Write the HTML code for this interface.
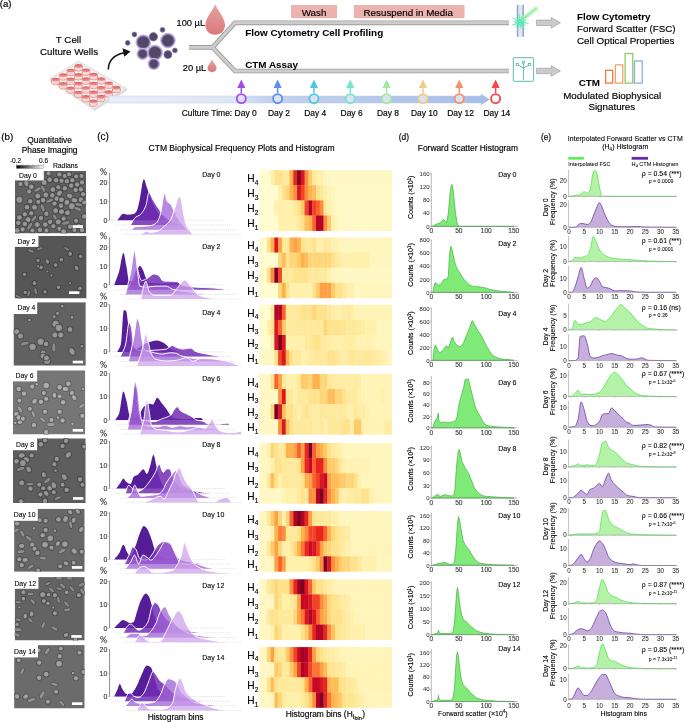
<!DOCTYPE html>
<html><head><meta charset="utf-8"><title>Figure</title>
<style>html,body{margin:0;padding:0;background:#fff;} svg{display:block;will-change:transform;} text{font-family:"Liberation Sans", sans-serif;stroke:#000;stroke-width:0.15px;paint-order:stroke;}</style>
</head><body>
<svg width="685" height="722" viewBox="0 0 685 722" font-family='"Liberation Sans", sans-serif'>
<rect width="685" height="722" fill="#fff"/>
<text x="-0.30" y="7.10" font-size="9.6" fill="#000" style="stroke-width:0.17px">(a)</text>
<text x="68.50" y="42.90" font-size="9.8" text-anchor="middle" fill="#000" style="stroke-width:0.17px">T Cell</text>
<text x="69.00" y="54.60" font-size="9.8" text-anchor="middle" fill="#000" style="stroke-width:0.17px">Culture Wells</text>
<polygon points="50.0,78.2 94.6,108.3 94.6,110.5 50.0,80.4" fill="#ececec" stroke="#cfcfcf" stroke-width="0.5"/>
<polygon points="94.6,108.3 126.3,88.5 126.3,90.7 94.6,110.5" fill="#e2e2e2" stroke="#cfcfcf" stroke-width="0.5"/>
<polygon points="50.0,78.2 78.5,61.0 126.3,88.5 94.6,108.3" fill="#f7f7f7" stroke="#cdcdcd" stroke-width="0.6"/>
<polygon points="51.68,78.61 78.90,62.61 124.55,88.19 94.27,106.60" fill="none" stroke="#d6d6d6" stroke-width="0.6"/>
<defs><linearGradient id="wellg" x1="0" y1="0" x2="0" y2="1"><stop offset="0" stop-color="#dd5a58"/><stop offset="1" stop-color="#f09a97"/></linearGradient></defs>
<ellipse cx="78.51" cy="69.31" rx="3.9" ry="1.9" fill="#f4d2d1" stroke="#e06a66" stroke-width="0.5"/>
<rect x="74.61" y="66.01" width="7.8" height="3.3" fill="#f6dcdb"/>
<path d="M74.61,66.01 v3.3 M82.41,66.01 v3.3" stroke="#d8504c" stroke-width="0.7" stroke-dasharray="0.9,0.5"/>
<ellipse cx="78.51" cy="66.01" rx="3.9" ry="1.9" fill="url(#wellg)"/>
<ellipse cx="86.09" cy="73.65" rx="3.9" ry="1.9" fill="#f4d2d1" stroke="#e06a66" stroke-width="0.5"/>
<rect x="82.19" y="70.35" width="7.8" height="3.3" fill="#f6dcdb"/>
<path d="M82.19,70.35 v3.3 M89.99,70.35 v3.3" stroke="#d8504c" stroke-width="0.7" stroke-dasharray="0.9,0.5"/>
<ellipse cx="86.09" cy="70.35" rx="3.9" ry="1.9" fill="url(#wellg)"/>
<ellipse cx="70.84" cy="73.84" rx="3.9" ry="1.9" fill="#f4d2d1" stroke="#e06a66" stroke-width="0.5"/>
<rect x="66.94" y="70.54" width="7.8" height="3.3" fill="#f6dcdb"/>
<path d="M66.94,70.54 v3.3 M74.74,70.54 v3.3" stroke="#d8504c" stroke-width="0.7" stroke-dasharray="0.9,0.5"/>
<ellipse cx="70.84" cy="70.54" rx="3.9" ry="1.9" fill="url(#wellg)"/>
<ellipse cx="93.67" cy="77.99" rx="3.9" ry="1.9" fill="#f4d2d1" stroke="#e06a66" stroke-width="0.5"/>
<rect x="89.77" y="74.69" width="7.8" height="3.3" fill="#f6dcdb"/>
<path d="M89.77,74.69 v3.3 M97.57,74.69 v3.3" stroke="#d8504c" stroke-width="0.7" stroke-dasharray="0.9,0.5"/>
<ellipse cx="93.67" cy="74.69" rx="3.9" ry="1.9" fill="url(#wellg)"/>
<ellipse cx="78.42" cy="78.18" rx="3.9" ry="1.9" fill="#f4d2d1" stroke="#e06a66" stroke-width="0.5"/>
<rect x="74.52" y="74.88" width="7.8" height="3.3" fill="#f6dcdb"/>
<path d="M74.52,74.88 v3.3 M82.32,74.88 v3.3" stroke="#d8504c" stroke-width="0.7" stroke-dasharray="0.9,0.5"/>
<ellipse cx="78.42" cy="74.88" rx="3.9" ry="1.9" fill="url(#wellg)"/>
<ellipse cx="63.17" cy="78.37" rx="3.9" ry="1.9" fill="#f4d2d1" stroke="#e06a66" stroke-width="0.5"/>
<rect x="59.27" y="75.07" width="7.8" height="3.3" fill="#f6dcdb"/>
<path d="M59.27,75.07 v3.3 M67.07,75.07 v3.3" stroke="#d8504c" stroke-width="0.7" stroke-dasharray="0.9,0.5"/>
<ellipse cx="63.17" cy="75.07" rx="3.9" ry="1.9" fill="url(#wellg)"/>
<ellipse cx="101.25" cy="82.33" rx="3.9" ry="1.9" fill="#f4d2d1" stroke="#e06a66" stroke-width="0.5"/>
<rect x="97.35" y="79.03" width="7.8" height="3.3" fill="#f6dcdb"/>
<path d="M97.35,79.03 v3.3 M105.15,79.03 v3.3" stroke="#d8504c" stroke-width="0.7" stroke-dasharray="0.9,0.5"/>
<ellipse cx="101.25" cy="79.03" rx="3.9" ry="1.9" fill="url(#wellg)"/>
<ellipse cx="86.00" cy="82.52" rx="3.9" ry="1.9" fill="#f4d2d1" stroke="#e06a66" stroke-width="0.5"/>
<rect x="82.10" y="79.22" width="7.8" height="3.3" fill="#f6dcdb"/>
<path d="M82.10,79.22 v3.3 M89.90,79.22 v3.3" stroke="#d8504c" stroke-width="0.7" stroke-dasharray="0.9,0.5"/>
<ellipse cx="86.00" cy="79.22" rx="3.9" ry="1.9" fill="url(#wellg)"/>
<ellipse cx="70.75" cy="82.71" rx="3.9" ry="1.9" fill="#f4d2d1" stroke="#e06a66" stroke-width="0.5"/>
<rect x="66.85" y="79.41" width="7.8" height="3.3" fill="#f6dcdb"/>
<path d="M66.85,79.41 v3.3 M74.65,79.41 v3.3" stroke="#d8504c" stroke-width="0.7" stroke-dasharray="0.9,0.5"/>
<ellipse cx="70.75" cy="79.41" rx="3.9" ry="1.9" fill="url(#wellg)"/>
<ellipse cx="55.50" cy="82.90" rx="3.9" ry="1.9" fill="#f4d2d1" stroke="#e06a66" stroke-width="0.5"/>
<rect x="51.60" y="79.60" width="7.8" height="3.3" fill="#f6dcdb"/>
<path d="M51.60,79.60 v3.3 M59.40,79.60 v3.3" stroke="#d8504c" stroke-width="0.7" stroke-dasharray="0.9,0.5"/>
<ellipse cx="55.50" cy="79.60" rx="3.9" ry="1.9" fill="url(#wellg)"/>
<ellipse cx="108.83" cy="86.67" rx="3.9" ry="1.9" fill="#f4d2d1" stroke="#e06a66" stroke-width="0.5"/>
<rect x="104.93" y="83.37" width="7.8" height="3.3" fill="#f6dcdb"/>
<path d="M104.93,83.37 v3.3 M112.73,83.37 v3.3" stroke="#d8504c" stroke-width="0.7" stroke-dasharray="0.9,0.5"/>
<ellipse cx="108.83" cy="83.37" rx="3.9" ry="1.9" fill="url(#wellg)"/>
<ellipse cx="93.58" cy="86.86" rx="3.9" ry="1.9" fill="#f4d2d1" stroke="#e06a66" stroke-width="0.5"/>
<rect x="89.68" y="83.56" width="7.8" height="3.3" fill="#f6dcdb"/>
<path d="M89.68,83.56 v3.3 M97.48,83.56 v3.3" stroke="#d8504c" stroke-width="0.7" stroke-dasharray="0.9,0.5"/>
<ellipse cx="93.58" cy="83.56" rx="3.9" ry="1.9" fill="url(#wellg)"/>
<ellipse cx="78.33" cy="87.05" rx="3.9" ry="1.9" fill="#f4d2d1" stroke="#e06a66" stroke-width="0.5"/>
<rect x="74.43" y="83.75" width="7.8" height="3.3" fill="#f6dcdb"/>
<path d="M74.43,83.75 v3.3 M82.23,83.75 v3.3" stroke="#d8504c" stroke-width="0.7" stroke-dasharray="0.9,0.5"/>
<ellipse cx="78.33" cy="83.75" rx="3.9" ry="1.9" fill="url(#wellg)"/>
<ellipse cx="63.08" cy="87.24" rx="3.9" ry="1.9" fill="#f4d2d1" stroke="#e06a66" stroke-width="0.5"/>
<rect x="59.18" y="83.94" width="7.8" height="3.3" fill="#f6dcdb"/>
<path d="M59.18,83.94 v3.3 M66.98,83.94 v3.3" stroke="#d8504c" stroke-width="0.7" stroke-dasharray="0.9,0.5"/>
<ellipse cx="63.08" cy="83.94" rx="3.9" ry="1.9" fill="url(#wellg)"/>
<ellipse cx="116.41" cy="91.01" rx="3.9" ry="1.9" fill="#f4d2d1" stroke="#e06a66" stroke-width="0.5"/>
<rect x="112.51" y="87.71" width="7.8" height="3.3" fill="#f6dcdb"/>
<path d="M112.51,87.71 v3.3 M120.31,87.71 v3.3" stroke="#d8504c" stroke-width="0.7" stroke-dasharray="0.9,0.5"/>
<ellipse cx="116.41" cy="87.71" rx="3.9" ry="1.9" fill="url(#wellg)"/>
<ellipse cx="101.16" cy="91.20" rx="3.9" ry="1.9" fill="#f4d2d1" stroke="#e06a66" stroke-width="0.5"/>
<rect x="97.26" y="87.90" width="7.8" height="3.3" fill="#f6dcdb"/>
<path d="M97.26,87.90 v3.3 M105.06,87.90 v3.3" stroke="#d8504c" stroke-width="0.7" stroke-dasharray="0.9,0.5"/>
<ellipse cx="101.16" cy="87.90" rx="3.9" ry="1.9" fill="url(#wellg)"/>
<ellipse cx="85.91" cy="91.39" rx="3.9" ry="1.9" fill="#f4d2d1" stroke="#e06a66" stroke-width="0.5"/>
<rect x="82.01" y="88.09" width="7.8" height="3.3" fill="#f6dcdb"/>
<path d="M82.01,88.09 v3.3 M89.81,88.09 v3.3" stroke="#d8504c" stroke-width="0.7" stroke-dasharray="0.9,0.5"/>
<ellipse cx="85.91" cy="88.09" rx="3.9" ry="1.9" fill="url(#wellg)"/>
<ellipse cx="70.66" cy="91.58" rx="3.9" ry="1.9" fill="#f4d2d1" stroke="#e06a66" stroke-width="0.5"/>
<rect x="66.76" y="88.28" width="7.8" height="3.3" fill="#f6dcdb"/>
<path d="M66.76,88.28 v3.3 M74.56,88.28 v3.3" stroke="#d8504c" stroke-width="0.7" stroke-dasharray="0.9,0.5"/>
<ellipse cx="70.66" cy="88.28" rx="3.9" ry="1.9" fill="url(#wellg)"/>
<ellipse cx="108.74" cy="95.54" rx="3.9" ry="1.9" fill="#f4d2d1" stroke="#e06a66" stroke-width="0.5"/>
<rect x="104.84" y="92.24" width="7.8" height="3.3" fill="#f6dcdb"/>
<path d="M104.84,92.24 v3.3 M112.64,92.24 v3.3" stroke="#d8504c" stroke-width="0.7" stroke-dasharray="0.9,0.5"/>
<ellipse cx="108.74" cy="92.24" rx="3.9" ry="1.9" fill="url(#wellg)"/>
<ellipse cx="93.49" cy="95.73" rx="3.9" ry="1.9" fill="#f4d2d1" stroke="#e06a66" stroke-width="0.5"/>
<rect x="89.59" y="92.43" width="7.8" height="3.3" fill="#f6dcdb"/>
<path d="M89.59,92.43 v3.3 M97.39,92.43 v3.3" stroke="#d8504c" stroke-width="0.7" stroke-dasharray="0.9,0.5"/>
<ellipse cx="93.49" cy="92.43" rx="3.9" ry="1.9" fill="url(#wellg)"/>
<ellipse cx="78.24" cy="95.92" rx="3.9" ry="1.9" fill="#f4d2d1" stroke="#e06a66" stroke-width="0.5"/>
<rect x="74.34" y="92.62" width="7.8" height="3.3" fill="#f6dcdb"/>
<path d="M74.34,92.62 v3.3 M82.14,92.62 v3.3" stroke="#d8504c" stroke-width="0.7" stroke-dasharray="0.9,0.5"/>
<ellipse cx="78.24" cy="92.62" rx="3.9" ry="1.9" fill="url(#wellg)"/>
<ellipse cx="101.07" cy="100.07" rx="3.9" ry="1.9" fill="#f4d2d1" stroke="#e06a66" stroke-width="0.5"/>
<rect x="97.17" y="96.77" width="7.8" height="3.3" fill="#f6dcdb"/>
<path d="M97.17,96.77 v3.3 M104.97,96.77 v3.3" stroke="#d8504c" stroke-width="0.7" stroke-dasharray="0.9,0.5"/>
<ellipse cx="101.07" cy="96.77" rx="3.9" ry="1.9" fill="url(#wellg)"/>
<ellipse cx="85.82" cy="100.26" rx="3.9" ry="1.9" fill="#f4d2d1" stroke="#e06a66" stroke-width="0.5"/>
<rect x="81.92" y="96.96" width="7.8" height="3.3" fill="#f6dcdb"/>
<path d="M81.92,96.96 v3.3 M89.72,96.96 v3.3" stroke="#d8504c" stroke-width="0.7" stroke-dasharray="0.9,0.5"/>
<ellipse cx="85.82" cy="96.96" rx="3.9" ry="1.9" fill="url(#wellg)"/>
<ellipse cx="93.40" cy="104.60" rx="3.9" ry="1.9" fill="#f4d2d1" stroke="#e06a66" stroke-width="0.5"/>
<rect x="89.50" y="101.30" width="7.8" height="3.3" fill="#f6dcdb"/>
<path d="M89.50,101.30 v3.3 M97.30,101.30 v3.3" stroke="#d8504c" stroke-width="0.7" stroke-dasharray="0.9,0.5"/>
<ellipse cx="93.40" cy="101.30" rx="3.9" ry="1.9" fill="url(#wellg)"/>
<path d="M108.3,69.5 C108.5,61 114,55 124,52.8" fill="none" stroke="#111" stroke-width="1.5"/>
<polygon points="130.5,51.6 122.5,48.2 124.2,56.8" fill="#111"/>
<circle cx="143.3" cy="42.2" r="7.80" fill="#c2b4df"/>
<circle cx="143.3" cy="42.2" r="6.2" fill="#524768" stroke="#8676a8" stroke-width="0.8"/>
<circle cx="153.4" cy="36.8" r="4.2" fill="#524768" stroke="#8676a8" stroke-width="0.8"/>
<circle cx="167.9" cy="40.6" r="7.80" fill="#c2b4df"/>
<circle cx="167.9" cy="40.6" r="6.2" fill="#524768" stroke="#8676a8" stroke-width="0.8"/>
<circle cx="155" cy="52.7" r="7.90" fill="#c2b4df"/>
<circle cx="155" cy="52.7" r="6.3" fill="#524768" stroke="#8676a8" stroke-width="0.8"/>
<circle cx="142.6" cy="53.9" r="6.10" fill="#c2b4df"/>
<circle cx="142.6" cy="53.9" r="4.5" fill="#524768" stroke="#8676a8" stroke-width="0.8"/>
<circle cx="167.9" cy="54.6" r="4.0" fill="#524768" stroke="#8676a8" stroke-width="0.8"/>
<circle cx="153.8" cy="63.9" r="6.20" fill="#c2b4df"/>
<circle cx="153.8" cy="63.9" r="4.6" fill="#524768" stroke="#8676a8" stroke-width="0.8"/>
<circle cx="134.4" cy="34.5" r="2.4" fill="#524768" stroke="#8676a8" stroke-width="0.8"/>
<circle cx="127.7" cy="42.9" r="2.4" fill="#524768" stroke="#8676a8" stroke-width="0.8"/>
<circle cx="162.5" cy="29.8" r="2.4" fill="#524768" stroke="#8676a8" stroke-width="0.8"/>
<circle cx="174.9" cy="50.4" r="2.4" fill="#524768" stroke="#8676a8" stroke-width="0.8"/>
<defs><linearGradient id="dropg" x1="0" y1="0" x2="0" y2="1"><stop offset="0" stop-color="#e9a3a3"/><stop offset="1" stop-color="#d9787a"/></linearGradient></defs>
<path d="M215.2,4.2 C218,11 225,18 225,25 C225,31 220.5,34.8 215.2,34.8 C209.8,34.8 205.4,31 205.4,25 C205.4,18 212.5,11 215.2,4.2 Z" fill="url(#dropg)"/>
<path d="M212.1,59.6 C213.2,62.5 216.6,65.5 216.6,68.3 C216.6,70.6 214.6,72.2 212.1,72.2 C209.6,72.2 207.5,70.6 207.5,68.3 C207.5,65.5 211,62.5 212.1,59.6 Z" fill="url(#dropg)"/>
<text x="176.50" y="26.00" font-size="9.3" fill="#000" style="stroke-width:0.17px">100 µL</text>
<text x="182.80" y="71.20" font-size="9.3" fill="#000" style="stroke-width:0.17px">20 µL</text>
<path d="M189,47.4 L212.5,47.4 L235,22.8 L509,22.8 M212.5,47.4 L235,71 L509,71" fill="none" stroke="#9d9d9d" stroke-width="4.7" stroke-linejoin="miter"/>
<path d="M189,47.4 L212.5,47.4 L235,22.8 L509,22.8 M212.5,47.4 L235,71 L509,71" fill="none" stroke="#cdcdcd" stroke-width="2.9" stroke-linejoin="miter"/>
<rect x="291" y="5" width="46" height="13.2" fill="#ebb2ae"/>
<text x="314.00" y="15.80" font-size="9.8" text-anchor="middle" fill="#000" style="stroke-width:0.17px">Wash</text>
<rect x="353.8" y="5" width="110.7" height="13.2" fill="#ebb2ae"/>
<text x="408.20" y="15.80" font-size="9.8" text-anchor="middle" fill="#000" style="stroke-width:0.17px">Resuspend in Media</text>
<text x="245.20" y="36.40" font-size="9.9" font-weight="bold" textLength="138" lengthAdjust="spacingAndGlyphs" fill="#000" style="stroke-width:0.05px">Flow Cytometry Cell Profiling</text>
<text x="245.20" y="67.50" font-size="9.9" font-weight="bold" fill="#000" style="stroke-width:0.05px">CTM Assay</text>
<defs><radialGradient id="glow"><stop offset="0" stop-color="#7ff0c0" stop-opacity="0.9"/><stop offset="1" stop-color="#7ff0c0" stop-opacity="0"/></radialGradient></defs>
<rect x="516.8" y="4.9" width="7.1" height="32" fill="#e2e8f2"/>
<rect x="516.8" y="4.9" width="1.5" height="32" fill="#93a6c6"/>
<rect x="522.4" y="4.9" width="1.5" height="32" fill="#93a6c6"/>
<line x1="521" y1="20.5" x2="535.8" y2="8.8" stroke="#b8f5b8" stroke-width="5" stroke-linecap="round" opacity="0.7"/>
<line x1="521" y1="20.5" x2="535.8" y2="8.8" stroke="#86ee9a" stroke-width="1.4" stroke-linecap="round"/>
<circle cx="520" cy="22.4" r="6.5" fill="url(#glow)"/>
<path d="M520,22.4 L528.56,23.26 M520,22.4 L525.46,25.74 M520,22.4 L524.66,29.63 M520,22.4 L520.79,28.75 M520,22.4 L517.26,30.55 M520,22.4 L515.53,26.98 M520,22.4 L511.92,25.34 M520,22.4 L513.63,21.76 M520,22.4 L512.66,17.91 M520,22.4 L516.53,17.02 M520,22.4 L518.93,13.87 M520,22.4 L522.04,16.33 M520,22.4 L526.01,16.25 M520,22.4 L526.01,20.21" stroke="#52e8b4" stroke-width="0.9"/>
<circle cx="520" cy="22.4" r="2.3" fill="#5cecb8"/>
<polygon points="536.4,20.1 551.3,20.1 551.3,17.5 560.4,22.8 551.3,28.1 551.3,25.5 536.4,25.5" fill="#cbcbcb" stroke="#a0a0a0" stroke-width="0.7"/>
<polygon points="536.4,68.3 551.3,68.3 551.3,65.7 560.4,71.0 551.3,76.3 551.3,73.7 536.4,73.7" fill="#cbcbcb" stroke="#a0a0a0" stroke-width="0.7"/>
<rect x="513.3" y="57.7" width="20.3" height="23.6" rx="0.8" fill="#fff" stroke="#45b9a0" stroke-width="0.9"/>
<path d="M523.45,63.2 L523.45,79.8 M518.3,65.2 L523.45,68.0 L528.6,65.2" fill="none" stroke="#45b9a0" stroke-width="0.85"/>
<rect x="516.10" y="63.45" width="2.3" height="2.1" fill="#fff" stroke="#45b9a0" stroke-width="0.75"/>
<rect x="522.30" y="61.05" width="2.3" height="2.1" fill="#fff" stroke="#45b9a0" stroke-width="0.75"/>
<rect x="528.50" y="63.45" width="2.3" height="2.1" fill="#fff" stroke="#45b9a0" stroke-width="0.75"/>
<text x="577.00" y="19.80" font-size="9.8" font-weight="bold" fill="#000" style="stroke-width:0.05px">Flow Cytometry</text>
<text x="577.00" y="31.70" font-size="9.8" fill="#000" style="stroke-width:0.17px">Forward Scatter (FSC)</text>
<text x="577.00" y="43.90" font-size="9.8" fill="#000" style="stroke-width:0.17px">Cell Optical Properties</text>
<text x="578.80" y="86.10" font-size="9.8" font-weight="bold" fill="#000" style="stroke-width:0.05px">CTM</text>
<text x="612.20" y="98.70" font-size="9.8" text-anchor="middle" fill="#000" style="stroke-width:0.17px">Modulated Biophysical</text>
<text x="611.80" y="110.10" font-size="9.8" text-anchor="middle" fill="#000" style="stroke-width:0.17px">Signatures</text>
<rect x="605.6" y="70.3" width="7.10" height="12.80" fill="#fff" stroke="#ef7a3c" stroke-width="1.3"/>
<rect x="615.4" y="64.9" width="7.30" height="18.20" fill="#fff" stroke="#f3a26e" stroke-width="1.3"/>
<rect x="625.1" y="53.5" width="7.70" height="29.60" fill="#fff" stroke="#8fca63" stroke-width="1.3"/>
<rect x="634.5" y="61.0" width="7.70" height="22.10" fill="#fff" stroke="#8db2e2" stroke-width="1.3"/>
<defs><linearGradient id="tl" x1="108" y1="0" x2="489" y2="0" gradientUnits="userSpaceOnUse"><stop offset="0" stop-color="#e9eff9"/><stop offset="0.33" stop-color="#dde6f5"/><stop offset="0.42" stop-color="#c3d2ee"/><stop offset="1" stop-color="#a7bde6"/></linearGradient></defs>
<path d="M108.8,96 L481,96 L481,94.1 L489.7,99.5 L481,104.9 L481,103 L108.8,103 Z" fill="url(#tl)" stroke="#bccbe8" stroke-width="0.5"/>
<line x1="241.30" y1="93" x2="241.30" y2="86" stroke="#a64bf4" stroke-width="1.5"/>
<polygon points="237.20,87.9 241.30,79.6 245.40,87.9" fill="#a64bf4"/>
<circle cx="241.30" cy="98.6" r="4.55" fill="#dce3f0" stroke="#a64bf4" stroke-width="1.8"/>
<text x="256.80" y="115.60" font-size="8.5" text-anchor="end" fill="#000" style="stroke-width:0.17px">Culture Time: Day 0</text>
<line x1="277.63" y1="93" x2="277.63" y2="86" stroke="#5d8ef0" stroke-width="1.5"/>
<polygon points="273.53,87.9 277.63,79.6 281.73,87.9" fill="#5d8ef0"/>
<circle cx="277.63" cy="98.6" r="4.55" fill="#dce3f0" stroke="#5d8ef0" stroke-width="1.8"/>
<text x="278.93" y="115.60" font-size="8.45" text-anchor="middle" fill="#000" style="stroke-width:0.17px">Day 2</text>
<line x1="313.96" y1="93" x2="313.96" y2="86" stroke="#4fc6e8" stroke-width="1.5"/>
<polygon points="309.86,87.9 313.96,79.6 318.06,87.9" fill="#4fc6e8"/>
<circle cx="313.96" cy="98.6" r="4.55" fill="#dce3f0" stroke="#4fc6e8" stroke-width="1.8"/>
<text x="315.26" y="115.60" font-size="8.45" text-anchor="middle" fill="#000" style="stroke-width:0.17px">Day 4</text>
<line x1="350.29" y1="93" x2="350.29" y2="86" stroke="#72e6c8" stroke-width="1.5"/>
<polygon points="346.19,87.9 350.29,79.6 354.39,87.9" fill="#72e6c8"/>
<circle cx="350.29" cy="98.6" r="4.55" fill="#dce3f0" stroke="#72e6c8" stroke-width="1.8"/>
<text x="351.59" y="115.60" font-size="8.45" text-anchor="middle" fill="#000" style="stroke-width:0.17px">Day 6</text>
<line x1="386.62" y1="93" x2="386.62" y2="86" stroke="#a0eaa0" stroke-width="1.5"/>
<polygon points="382.52,87.9 386.62,79.6 390.72,87.9" fill="#a0eaa0"/>
<circle cx="386.62" cy="98.6" r="4.55" fill="#dce3f0" stroke="#a0eaa0" stroke-width="1.8"/>
<text x="387.92" y="115.60" font-size="8.45" text-anchor="middle" fill="#000" style="stroke-width:0.17px">Day 8</text>
<line x1="422.95" y1="93" x2="422.95" y2="86" stroke="#f0cb86" stroke-width="1.5"/>
<polygon points="418.85,87.9 422.95,79.6 427.05,87.9" fill="#f0cb86"/>
<circle cx="422.95" cy="98.6" r="4.55" fill="#dce3f0" stroke="#f0cb86" stroke-width="1.8"/>
<text x="424.25" y="115.60" font-size="8.45" text-anchor="middle" fill="#000" style="stroke-width:0.17px">Day 10</text>
<line x1="459.28" y1="93" x2="459.28" y2="86" stroke="#f4906a" stroke-width="1.5"/>
<polygon points="455.18,87.9 459.28,79.6 463.38,87.9" fill="#f4906a"/>
<circle cx="459.28" cy="98.6" r="4.55" fill="#dce3f0" stroke="#f4906a" stroke-width="1.8"/>
<text x="460.58" y="115.60" font-size="8.45" text-anchor="middle" fill="#000" style="stroke-width:0.17px">Day 12</text>
<line x1="495.61" y1="93" x2="495.61" y2="86" stroke="#fa4450" stroke-width="1.5"/>
<polygon points="491.51,87.9 495.61,79.6 499.71,87.9" fill="#fa4450"/>
<circle cx="495.61" cy="98.6" r="4.55" fill="#ffffff" stroke="#fa4450" stroke-width="1.8"/>
<text x="496.91" y="115.60" font-size="8.45" text-anchor="middle" fill="#000" style="stroke-width:0.17px">Day 14</text>
<text x="1.30" y="140.40" font-size="9.8" fill="#000" style="stroke-width:0.17px">(b)</text>
<text x="49.60" y="142.70" font-size="8.4" text-anchor="middle" fill="#000" style="stroke-width:0.17px">Quantitative</text>
<text x="49.60" y="153.30" font-size="8.4" text-anchor="middle" fill="#000" style="stroke-width:0.17px">Phase Imaging</text>
<defs><linearGradient id="cbar" x1="0" x2="1" y1="0" y2="0"><stop offset="0" stop-color="#000"/><stop offset="1" stop-color="#fff"/></linearGradient></defs>
<rect x="16.4" y="165.2" width="27.1" height="3.3" fill="url(#cbar)" stroke="#777" stroke-width="0.4"/>
<line x1="16.40" y1="165.2" x2="16.40" y2="164.2" stroke="#555" stroke-width="0.4"/>
<line x1="21.82" y1="165.2" x2="21.82" y2="164.2" stroke="#555" stroke-width="0.4"/>
<line x1="27.24" y1="165.2" x2="27.24" y2="164.2" stroke="#555" stroke-width="0.4"/>
<line x1="32.66" y1="165.2" x2="32.66" y2="164.2" stroke="#555" stroke-width="0.4"/>
<line x1="38.08" y1="165.2" x2="38.08" y2="164.2" stroke="#555" stroke-width="0.4"/>
<line x1="43.50" y1="165.2" x2="43.50" y2="164.2" stroke="#555" stroke-width="0.4"/>
<text x="9.90" y="163.10" font-size="6.6" fill="#000" style="stroke-width:0.08px">-0.2</text>
<text x="38.90" y="163.10" font-size="6.6" fill="#000" style="stroke-width:0.08px">0.6</text>
<text x="52.90" y="167.90" font-size="6.84" fill="#000" style="stroke-width:0.09px">Radians</text>
<defs><filter id="soft" x="-5%" y="-5%" width="110%" height="110%"><feGaussianBlur stdDeviation="0.35"/></filter><radialGradient id="cellg"><stop offset="0" stop-color="#a4a4a4"/><stop offset="0.7" stop-color="#959595"/><stop offset="1" stop-color="#7a7a7a"/></radialGradient></defs>
<defs><radialGradient id="cellg0"><stop offset="0" stop-color="rgb(158,158,158)"/><stop offset="0.7" stop-color="rgb(146,146,146)"/><stop offset="1" stop-color="rgb(124,124,124)"/></radialGradient></defs>
<clipPath id="clip0"><rect x="15.0" y="171.0" width="71.10" height="62.40"/></clipPath>
<g clip-path="url(#clip0)">
<rect x="15.0" y="171.0" width="71.10" height="62.40" fill="rgb(96,96,96)"/>
<g filter="url(#soft)">
<circle cx="48.57" cy="173.24" r="3.05" fill="rgb(66,66,66)"/>
<circle cx="48.57" cy="173.24" r="2.35" fill="url(#cellg0)"/>
<circle cx="59.37" cy="174.32" r="3.08" fill="rgb(66,66,66)"/>
<circle cx="59.37" cy="174.32" r="2.38" fill="url(#cellg0)"/>
<circle cx="64.77" cy="175.94" r="2.94" fill="rgb(66,66,66)"/>
<circle cx="64.77" cy="175.94" r="2.24" fill="url(#cellg0)"/>
<circle cx="69.09" cy="174.32" r="2.95" fill="rgb(66,66,66)"/>
<circle cx="69.09" cy="174.32" r="2.25" fill="url(#cellg0)"/>
<circle cx="76.12" cy="176.48" r="2.93" fill="rgb(66,66,66)"/>
<circle cx="76.12" cy="176.48" r="2.23" fill="url(#cellg0)"/>
<circle cx="81.52" cy="175.94" r="3.00" fill="rgb(66,66,66)"/>
<circle cx="81.52" cy="175.94" r="2.30" fill="url(#cellg0)"/>
<circle cx="20.48" cy="184.04" r="3.10" fill="rgb(66,66,66)"/>
<circle cx="20.48" cy="184.04" r="2.40" fill="url(#cellg0)"/>
<ellipse cx="26.42" cy="183.50" rx="3.70" ry="2.90" transform="rotate(76 26.42 183.50)" fill="rgb(68,68,68)"/>
<ellipse cx="26.42" cy="183.50" rx="3.00" ry="2.20" transform="rotate(76 26.42 183.50)" fill="url(#cellg0)"/>
<circle cx="31.28" cy="186.74" r="3.27" fill="rgb(66,66,66)"/>
<circle cx="31.28" cy="186.74" r="2.57" fill="url(#cellg0)"/>
<circle cx="44.25" cy="182.42" r="3.32" fill="rgb(66,66,66)"/>
<circle cx="44.25" cy="182.42" r="2.62" fill="url(#cellg0)"/>
<circle cx="49.65" cy="179.72" r="3.18" fill="rgb(66,66,66)"/>
<circle cx="49.65" cy="179.72" r="2.48" fill="url(#cellg0)"/>
<circle cx="56.13" cy="180.26" r="3.16" fill="rgb(66,66,66)"/>
<circle cx="56.13" cy="180.26" r="2.46" fill="url(#cellg0)"/>
<circle cx="61.53" cy="180.80" r="2.93" fill="rgb(66,66,66)"/>
<circle cx="61.53" cy="180.80" r="2.23" fill="url(#cellg0)"/>
<circle cx="66.93" cy="181.34" r="2.93" fill="rgb(66,66,66)"/>
<circle cx="66.93" cy="181.34" r="2.23" fill="url(#cellg0)"/>
<circle cx="72.33" cy="180.26" r="3.03" fill="rgb(66,66,66)"/>
<circle cx="72.33" cy="180.26" r="2.33" fill="url(#cellg0)"/>
<circle cx="77.20" cy="184.58" r="3.14" fill="rgb(66,66,66)"/>
<circle cx="77.20" cy="184.58" r="2.44" fill="url(#cellg0)"/>
<circle cx="82.06" cy="182.42" r="3.04" fill="rgb(66,66,66)"/>
<circle cx="82.06" cy="182.42" r="2.34" fill="url(#cellg0)"/>
<circle cx="29.12" cy="191.61" r="2.98" fill="rgb(66,66,66)"/>
<circle cx="29.12" cy="191.61" r="2.28" fill="url(#cellg0)"/>
<ellipse cx="37.77" cy="189.44" rx="4.41" ry="2.07" transform="rotate(-30 37.77 189.44)" fill="rgb(68,68,68)"/>
<ellipse cx="37.77" cy="189.44" rx="3.81" ry="1.47" transform="rotate(-30 37.77 189.44)" fill="rgb(138,138,138)"/>
<ellipse cx="43.17" cy="188.90" rx="4.27" ry="2.02" transform="rotate(60 43.17 188.90)" fill="rgb(68,68,68)"/>
<ellipse cx="43.17" cy="188.90" rx="3.67" ry="1.42" transform="rotate(60 43.17 188.90)" fill="rgb(138,138,138)"/>
<circle cx="52.89" cy="189.44" r="3.22" fill="rgb(66,66,66)"/>
<circle cx="52.89" cy="189.44" r="2.52" fill="url(#cellg0)"/>
<circle cx="58.29" cy="187.28" r="2.93" fill="rgb(66,66,66)"/>
<circle cx="58.29" cy="187.28" r="2.23" fill="url(#cellg0)"/>
<circle cx="64.77" cy="188.36" r="3.12" fill="rgb(66,66,66)"/>
<circle cx="64.77" cy="188.36" r="2.42" fill="url(#cellg0)"/>
<circle cx="71.25" cy="185.66" r="3.09" fill="rgb(66,66,66)"/>
<circle cx="71.25" cy="185.66" r="2.39" fill="url(#cellg0)"/>
<circle cx="75.58" cy="189.98" r="3.11" fill="rgb(66,66,66)"/>
<circle cx="75.58" cy="189.98" r="2.41" fill="url(#cellg0)"/>
<circle cx="80.98" cy="189.44" r="3.06" fill="rgb(66,66,66)"/>
<circle cx="80.98" cy="189.44" r="2.36" fill="url(#cellg0)"/>
<circle cx="37.77" cy="195.93" r="3.26" fill="rgb(66,66,66)"/>
<circle cx="37.77" cy="195.93" r="2.56" fill="url(#cellg0)"/>
<circle cx="45.87" cy="194.85" r="3.25" fill="rgb(66,66,66)"/>
<circle cx="45.87" cy="194.85" r="2.55" fill="url(#cellg0)"/>
<circle cx="52.35" cy="195.39" r="3.16" fill="rgb(66,66,66)"/>
<circle cx="52.35" cy="195.39" r="2.46" fill="url(#cellg0)"/>
<ellipse cx="59.37" cy="193.23" rx="3.85" ry="3.00" transform="rotate(131 59.37 193.23)" fill="rgb(68,68,68)"/>
<ellipse cx="59.37" cy="193.23" rx="3.15" ry="2.30" transform="rotate(131 59.37 193.23)" fill="url(#cellg0)"/>
<ellipse cx="69.63" cy="195.93" rx="3.73" ry="2.92" transform="rotate(21 69.63 195.93)" fill="rgb(68,68,68)"/>
<ellipse cx="69.63" cy="195.93" rx="3.03" ry="2.22" transform="rotate(21 69.63 195.93)" fill="url(#cellg0)"/>
<circle cx="83.14" cy="194.31" r="3.09" fill="rgb(66,66,66)"/>
<circle cx="83.14" cy="194.31" r="2.39" fill="url(#cellg0)"/>
<circle cx="19.40" cy="199.71" r="3.89" fill="rgb(66,66,66)"/>
<circle cx="19.40" cy="199.71" r="3.19" fill="url(#cellg0)"/>
<circle cx="30.20" cy="201.33" r="3.09" fill="rgb(66,66,66)"/>
<circle cx="30.20" cy="201.33" r="2.39" fill="url(#cellg0)"/>
<circle cx="38.31" cy="201.87" r="2.94" fill="rgb(66,66,66)"/>
<circle cx="38.31" cy="201.87" r="2.24" fill="url(#cellg0)"/>
<circle cx="43.17" cy="200.25" r="3.16" fill="rgb(66,66,66)"/>
<circle cx="43.17" cy="200.25" r="2.46" fill="url(#cellg0)"/>
<ellipse cx="49.65" cy="200.79" rx="4.25" ry="2.01" transform="rotate(-20 49.65 200.79)" fill="rgb(68,68,68)"/>
<ellipse cx="49.65" cy="200.79" rx="3.65" ry="1.41" transform="rotate(-20 49.65 200.79)" fill="rgb(138,138,138)"/>
<circle cx="56.67" cy="198.63" r="3.17" fill="rgb(66,66,66)"/>
<circle cx="56.67" cy="198.63" r="2.47" fill="url(#cellg0)"/>
<circle cx="61.53" cy="199.71" r="3.26" fill="rgb(66,66,66)"/>
<circle cx="61.53" cy="199.71" r="2.56" fill="url(#cellg0)"/>
<circle cx="66.93" cy="202.41" r="3.28" fill="rgb(66,66,66)"/>
<circle cx="66.93" cy="202.41" r="2.58" fill="url(#cellg0)"/>
<ellipse cx="74.49" cy="200.25" rx="3.84" ry="2.99" transform="rotate(12 74.49 200.25)" fill="rgb(68,68,68)"/>
<ellipse cx="74.49" cy="200.25" rx="3.14" ry="2.29" transform="rotate(12 74.49 200.25)" fill="url(#cellg0)"/>
<circle cx="80.98" cy="199.71" r="3.23" fill="rgb(66,66,66)"/>
<circle cx="80.98" cy="199.71" r="2.53" fill="url(#cellg0)"/>
<circle cx="26.96" cy="207.27" r="3.19" fill="rgb(66,66,66)"/>
<circle cx="26.96" cy="207.27" r="2.49" fill="url(#cellg0)"/>
<circle cx="34.53" cy="207.27" r="3.27" fill="rgb(66,66,66)"/>
<circle cx="34.53" cy="207.27" r="2.57" fill="url(#cellg0)"/>
<ellipse cx="42.63" cy="207.81" rx="4.51" ry="2.11" transform="rotate(70 42.63 207.81)" fill="rgb(68,68,68)"/>
<ellipse cx="42.63" cy="207.81" rx="3.91" ry="1.51" transform="rotate(70 42.63 207.81)" fill="rgb(138,138,138)"/>
<circle cx="54.51" cy="203.49" r="3.06" fill="rgb(66,66,66)"/>
<circle cx="54.51" cy="203.49" r="2.36" fill="url(#cellg0)"/>
<circle cx="60.99" cy="205.65" r="3.06" fill="rgb(66,66,66)"/>
<circle cx="60.99" cy="205.65" r="2.36" fill="url(#cellg0)"/>
<circle cx="71.79" cy="206.19" r="3.89" fill="rgb(66,66,66)"/>
<circle cx="71.79" cy="206.19" r="3.19" fill="url(#cellg0)"/>
<ellipse cx="78.82" cy="204.57" rx="4.17" ry="1.98" transform="rotate(10 78.82 204.57)" fill="rgb(68,68,68)"/>
<ellipse cx="78.82" cy="204.57" rx="3.57" ry="1.38" transform="rotate(10 78.82 204.57)" fill="rgb(138,138,138)"/>
<ellipse cx="77.74" cy="208.89" rx="4.11" ry="1.96" transform="rotate(20 77.74 208.89)" fill="rgb(68,68,68)"/>
<ellipse cx="77.74" cy="208.89" rx="3.51" ry="1.36" transform="rotate(20 77.74 208.89)" fill="rgb(138,138,138)"/>
<circle cx="24.80" cy="214.29" r="3.08" fill="rgb(66,66,66)"/>
<circle cx="24.80" cy="214.29" r="2.38" fill="url(#cellg0)"/>
<circle cx="31.28" cy="213.21" r="2.94" fill="rgb(66,66,66)"/>
<circle cx="31.28" cy="213.21" r="2.24" fill="url(#cellg0)"/>
<circle cx="46.41" cy="213.75" r="3.08" fill="rgb(66,66,66)"/>
<circle cx="46.41" cy="213.75" r="2.38" fill="url(#cellg0)"/>
<circle cx="55.59" cy="210.51" r="3.29" fill="rgb(66,66,66)"/>
<circle cx="55.59" cy="210.51" r="2.59" fill="url(#cellg0)"/>
<circle cx="61.53" cy="211.59" r="3.29" fill="rgb(66,66,66)"/>
<circle cx="61.53" cy="211.59" r="2.59" fill="url(#cellg0)"/>
<circle cx="67.47" cy="212.67" r="3.22" fill="rgb(66,66,66)"/>
<circle cx="67.47" cy="212.67" r="2.52" fill="url(#cellg0)"/>
<circle cx="19.40" cy="217.53" r="3.21" fill="rgb(66,66,66)"/>
<circle cx="19.40" cy="217.53" r="2.51" fill="url(#cellg0)"/>
<circle cx="28.04" cy="219.69" r="3.33" fill="rgb(66,66,66)"/>
<circle cx="28.04" cy="219.69" r="2.63" fill="url(#cellg0)"/>
<ellipse cx="33.98" cy="218.61" rx="4.07" ry="1.94" transform="rotate(-50 33.98 218.61)" fill="rgb(68,68,68)"/>
<ellipse cx="33.98" cy="218.61" rx="3.47" ry="1.34" transform="rotate(-50 33.98 218.61)" fill="rgb(138,138,138)"/>
<circle cx="41.01" cy="218.07" r="3.01" fill="rgb(66,66,66)"/>
<circle cx="41.01" cy="218.07" r="2.31" fill="url(#cellg0)"/>
<ellipse cx="55.05" cy="217.53" rx="4.03" ry="1.93" transform="rotate(60 55.05 217.53)" fill="rgb(68,68,68)"/>
<ellipse cx="55.05" cy="217.53" rx="3.43" ry="1.33" transform="rotate(60 55.05 217.53)" fill="rgb(138,138,138)"/>
<circle cx="63.69" cy="218.61" r="2.99" fill="rgb(66,66,66)"/>
<circle cx="63.69" cy="218.61" r="2.29" fill="url(#cellg0)"/>
<circle cx="76.12" cy="220.77" r="2.91" fill="rgb(66,66,66)"/>
<circle cx="76.12" cy="220.77" r="2.21" fill="url(#cellg0)"/>
<circle cx="18.32" cy="222.93" r="3.14" fill="rgb(66,66,66)"/>
<circle cx="18.32" cy="222.93" r="2.44" fill="url(#cellg0)"/>
<circle cx="24.80" cy="224.01" r="3.15" fill="rgb(66,66,66)"/>
<circle cx="24.80" cy="224.01" r="2.45" fill="url(#cellg0)"/>
<ellipse cx="29.66" cy="226.17" rx="4.49" ry="2.11" transform="rotate(-60 29.66 226.17)" fill="rgb(68,68,68)"/>
<ellipse cx="29.66" cy="226.17" rx="3.89" ry="1.51" transform="rotate(-60 29.66 226.17)" fill="rgb(138,138,138)"/>
<circle cx="37.23" cy="224.55" r="3.32" fill="rgb(66,66,66)"/>
<circle cx="37.23" cy="224.55" r="2.62" fill="url(#cellg0)"/>
<circle cx="45.33" cy="224.55" r="3.20" fill="rgb(66,66,66)"/>
<circle cx="45.33" cy="224.55" r="2.50" fill="url(#cellg0)"/>
<circle cx="50.19" cy="221.85" r="3.11" fill="rgb(66,66,66)"/>
<circle cx="50.19" cy="221.85" r="2.41" fill="url(#cellg0)"/>
<circle cx="58.29" cy="221.85" r="3.32" fill="rgb(66,66,66)"/>
<circle cx="58.29" cy="221.85" r="2.62" fill="url(#cellg0)"/>
<ellipse cx="65.85" cy="222.93" rx="4.56" ry="2.13" transform="rotate(-15 65.85 222.93)" fill="rgb(68,68,68)"/>
<ellipse cx="65.85" cy="222.93" rx="3.96" ry="1.53" transform="rotate(-15 65.85 222.93)" fill="rgb(138,138,138)"/>
<circle cx="70.17" cy="226.71" r="3.08" fill="rgb(66,66,66)"/>
<circle cx="70.17" cy="226.71" r="2.38" fill="url(#cellg0)"/>
<circle cx="78.82" cy="226.17" r="2.95" fill="rgb(66,66,66)"/>
<circle cx="78.82" cy="226.17" r="2.25" fill="url(#cellg0)"/>
<circle cx="22.64" cy="229.41" r="3.08" fill="rgb(66,66,66)"/>
<circle cx="22.64" cy="229.41" r="2.38" fill="url(#cellg0)"/>
<circle cx="32.36" cy="230.49" r="2.93" fill="rgb(66,66,66)"/>
<circle cx="32.36" cy="230.49" r="2.23" fill="url(#cellg0)"/>
<circle cx="39.93" cy="229.95" r="3.10" fill="rgb(66,66,66)"/>
<circle cx="39.93" cy="229.95" r="2.40" fill="url(#cellg0)"/>
<circle cx="46.41" cy="230.49" r="3.05" fill="rgb(66,66,66)"/>
<circle cx="46.41" cy="230.49" r="2.35" fill="url(#cellg0)"/>
<circle cx="53.43" cy="226.17" r="2.95" fill="rgb(66,66,66)"/>
<circle cx="53.43" cy="226.17" r="2.25" fill="url(#cellg0)"/>
<circle cx="59.37" cy="228.87" r="2.97" fill="rgb(66,66,66)"/>
<circle cx="59.37" cy="228.87" r="2.27" fill="url(#cellg0)"/>
<circle cx="63.69" cy="231.58" r="3.32" fill="rgb(66,66,66)"/>
<circle cx="63.69" cy="231.58" r="2.62" fill="url(#cellg0)"/>
<circle cx="74.49" cy="229.95" r="2.92" fill="rgb(66,66,66)"/>
<circle cx="74.49" cy="229.95" r="2.22" fill="url(#cellg0)"/>
<circle cx="82.06" cy="229.95" r="3.18" fill="rgb(66,66,66)"/>
<circle cx="82.06" cy="229.95" r="2.48" fill="url(#cellg0)"/>
<circle cx="17.24" cy="230.49" r="3.18" fill="rgb(66,66,66)"/>
<circle cx="17.24" cy="230.49" r="2.48" fill="url(#cellg0)"/>
<circle cx="84.22" cy="216.45" r="3.17" fill="rgb(66,66,66)"/>
<circle cx="84.22" cy="216.45" r="2.47" fill="url(#cellg0)"/>
<circle cx="84.22" cy="202.41" r="2.96" fill="rgb(66,66,66)"/>
<circle cx="84.22" cy="202.41" r="2.26" fill="url(#cellg0)"/>
</g>
<rect x="72.5" y="225.2" width="10.4" height="2.7" fill="#fff"/>
</g>
<rect x="14.5" y="170.5" width="29.30" height="9.90" fill="#fff"/>
<text x="19.00" y="178.00" font-size="6.85" fill="#000" style="stroke-width:0.09px">Day 0</text>
<defs><radialGradient id="cellg2"><stop offset="0" stop-color="rgb(148,148,148)"/><stop offset="0.7" stop-color="rgb(136,136,136)"/><stop offset="1" stop-color="rgb(114,114,114)"/></radialGradient></defs>
<clipPath id="clip2"><rect x="14.6" y="235.8" width="72.00" height="62.70"/></clipPath>
<g clip-path="url(#clip2)">
<rect x="14.6" y="235.8" width="72.00" height="62.70" fill="rgb(86,86,86)"/>
<g filter="url(#soft)">
<ellipse cx="31.02" cy="251.02" rx="3.94" ry="1.89" transform="rotate(20 31.02 251.02)" fill="rgb(58,58,58)"/>
<ellipse cx="31.02" cy="251.02" rx="3.34" ry="1.29" transform="rotate(20 31.02 251.02)" fill="rgb(128,128,128)"/>
<ellipse cx="39.78" cy="248.69" rx="3.66" ry="1.78" transform="rotate(-10 39.78 248.69)" fill="rgb(58,58,58)"/>
<ellipse cx="39.78" cy="248.69" rx="3.06" ry="1.18" transform="rotate(-10 39.78 248.69)" fill="rgb(128,128,128)"/>
<ellipse cx="66.64" cy="248.69" rx="3.44" ry="1.70" transform="rotate(30 66.64 248.69)" fill="rgb(58,58,58)"/>
<ellipse cx="66.64" cy="248.69" rx="2.84" ry="1.10" transform="rotate(30 66.64 248.69)" fill="rgb(128,128,128)"/>
<circle cx="70.15" cy="253.94" r="2.77" fill="rgb(56,56,56)"/>
<circle cx="70.15" cy="253.94" r="2.07" fill="url(#cellg2)"/>
<circle cx="80.66" cy="256.28" r="2.60" fill="rgb(56,56,56)"/>
<circle cx="80.66" cy="256.28" r="1.90" fill="url(#cellg2)"/>
<circle cx="38.03" cy="260.36" r="2.56" fill="rgb(56,56,56)"/>
<circle cx="38.03" cy="260.36" r="1.86" fill="url(#cellg2)"/>
<ellipse cx="47.37" cy="261.53" rx="3.14" ry="2.48" transform="rotate(65 47.37 261.53)" fill="rgb(58,58,58)"/>
<ellipse cx="47.37" cy="261.53" rx="2.44" ry="1.78" transform="rotate(65 47.37 261.53)" fill="url(#cellg2)"/>
<circle cx="61.39" cy="259.78" r="2.75" fill="rgb(56,56,56)"/>
<circle cx="61.39" cy="259.78" r="2.05" fill="url(#cellg2)"/>
<circle cx="55.55" cy="265.04" r="2.77" fill="rgb(56,56,56)"/>
<circle cx="55.55" cy="265.04" r="2.07" fill="url(#cellg2)"/>
<circle cx="40.95" cy="267.37" r="2.85" fill="rgb(56,56,56)"/>
<circle cx="40.95" cy="267.37" r="2.15" fill="url(#cellg2)"/>
<circle cx="38.03" cy="266.20" r="1.90" fill="rgb(56,56,56)"/>
<circle cx="38.03" cy="266.20" r="1.20" fill="url(#cellg2)"/>
<ellipse cx="76.57" cy="267.96" rx="3.28" ry="2.59" transform="rotate(64 76.57 267.96)" fill="rgb(58,58,58)"/>
<ellipse cx="76.57" cy="267.96" rx="2.58" ry="1.89" transform="rotate(64 76.57 267.96)" fill="url(#cellg2)"/>
<circle cx="24.60" cy="274.38" r="2.58" fill="rgb(56,56,56)"/>
<circle cx="24.60" cy="274.38" r="1.88" fill="url(#cellg2)"/>
<circle cx="47.37" cy="271.46" r="1.90" fill="rgb(56,56,56)"/>
<circle cx="47.37" cy="271.46" r="1.20" fill="url(#cellg2)"/>
<circle cx="51.46" cy="275.55" r="1.90" fill="rgb(56,56,56)"/>
<circle cx="51.46" cy="275.55" r="1.20" fill="url(#cellg2)"/>
<circle cx="34.53" cy="283.14" r="2.79" fill="rgb(56,56,56)"/>
<circle cx="34.53" cy="283.14" r="2.09" fill="url(#cellg2)"/>
<circle cx="70.15" cy="283.14" r="1.90" fill="rgb(56,56,56)"/>
<circle cx="70.15" cy="283.14" r="1.20" fill="url(#cellg2)"/>
<circle cx="58.47" cy="287.23" r="2.59" fill="rgb(56,56,56)"/>
<circle cx="58.47" cy="287.23" r="1.89" fill="url(#cellg2)"/>
<circle cx="80.07" cy="288.39" r="2.77" fill="rgb(56,56,56)"/>
<circle cx="80.07" cy="288.39" r="2.07" fill="url(#cellg2)"/>
<circle cx="25.18" cy="292.48" r="2.57" fill="rgb(56,56,56)"/>
<circle cx="25.18" cy="292.48" r="1.87" fill="url(#cellg2)"/>
<ellipse cx="28.69" cy="293.65" rx="3.59" ry="1.76" transform="rotate(-70 28.69 293.65)" fill="rgb(58,58,58)"/>
<ellipse cx="28.69" cy="293.65" rx="2.99" ry="1.16" transform="rotate(-70 28.69 293.65)" fill="rgb(128,128,128)"/>
<ellipse cx="35.69" cy="291.31" rx="3.94" ry="1.89" transform="rotate(80 35.69 291.31)" fill="rgb(58,58,58)"/>
<ellipse cx="35.69" cy="291.31" rx="3.34" ry="1.29" transform="rotate(80 35.69 291.31)" fill="rgb(128,128,128)"/>
<circle cx="45.04" cy="291.90" r="2.60" fill="rgb(56,56,56)"/>
<circle cx="45.04" cy="291.90" r="1.90" fill="url(#cellg2)"/>
<ellipse cx="18.18" cy="296.57" rx="3.50" ry="1.72" transform="rotate(20 18.18 296.57)" fill="rgb(58,58,58)"/>
<ellipse cx="18.18" cy="296.57" rx="2.90" ry="1.12" transform="rotate(20 18.18 296.57)" fill="rgb(128,128,128)"/>
</g>
<rect x="69.0" y="291.3" width="10.4" height="2.7" fill="#fff"/>
</g>
<rect x="14.1" y="235.3" width="24.30" height="11.60" fill="#fff"/>
<text x="17.60" y="243.80" font-size="6.85" fill="#000" style="stroke-width:0.09px">Day 2</text>
<defs><radialGradient id="cellg4"><stop offset="0" stop-color="rgb(159,159,159)"/><stop offset="0.7" stop-color="rgb(147,147,147)"/><stop offset="1" stop-color="rgb(125,125,125)"/></radialGradient></defs>
<clipPath id="clip4"><rect x="13.5" y="302.2" width="72.30" height="63.50"/></clipPath>
<g clip-path="url(#clip4)">
<rect x="13.5" y="302.2" width="72.30" height="63.50" fill="rgb(97,97,97)"/>
<g filter="url(#soft)">
<circle cx="16.82" cy="331.79" r="3.49" fill="rgb(67,67,67)"/>
<circle cx="16.82" cy="331.79" r="2.79" fill="url(#cellg4)"/>
<circle cx="20.50" cy="335.99" r="3.42" fill="rgb(67,67,67)"/>
<circle cx="20.50" cy="335.99" r="2.72" fill="url(#cellg4)"/>
<circle cx="32.59" cy="346.90" r="4.08" fill="rgb(67,67,67)"/>
<circle cx="32.59" cy="346.90" r="3.38" fill="url(#cellg4)"/>
<circle cx="40.74" cy="341.64" r="4.08" fill="rgb(67,67,67)"/>
<circle cx="40.74" cy="341.64" r="3.38" fill="url(#cellg4)"/>
<circle cx="46.12" cy="344.01" r="3.15" fill="rgb(67,67,67)"/>
<circle cx="46.12" cy="344.01" r="2.45" fill="url(#cellg4)"/>
<circle cx="43.10" cy="352.81" r="3.20" fill="rgb(67,67,67)"/>
<circle cx="43.10" cy="352.81" r="2.50" fill="url(#cellg4)"/>
<circle cx="47.04" cy="360.69" r="4.08" fill="rgb(67,67,67)"/>
<circle cx="47.04" cy="360.69" r="3.38" fill="url(#cellg4)"/>
<ellipse cx="53.88" cy="347.56" rx="4.84" ry="2.24" transform="rotate(90 53.88 347.56)" fill="rgb(69,69,69)"/>
<ellipse cx="53.88" cy="347.56" rx="4.24" ry="1.64" transform="rotate(90 53.88 347.56)" fill="rgb(139,139,139)"/>
<circle cx="55.58" cy="323.91" r="4.08" fill="rgb(67,67,67)"/>
<circle cx="55.58" cy="323.91" r="3.38" fill="url(#cellg4)"/>
<circle cx="58.87" cy="327.85" r="4.08" fill="rgb(67,67,67)"/>
<circle cx="58.87" cy="327.85" r="3.38" fill="url(#cellg4)"/>
<circle cx="54.93" cy="335.07" r="3.43" fill="rgb(67,67,67)"/>
<circle cx="54.93" cy="335.07" r="2.73" fill="url(#cellg4)"/>
<circle cx="60.84" cy="335.07" r="3.47" fill="rgb(67,67,67)"/>
<circle cx="60.84" cy="335.07" r="2.77" fill="url(#cellg4)"/>
<circle cx="54.27" cy="316.68" r="2.26" fill="rgb(67,67,67)"/>
<circle cx="54.27" cy="316.68" r="1.56" fill="url(#cellg4)"/>
<circle cx="57.56" cy="313.39" r="2.26" fill="rgb(67,67,67)"/>
<circle cx="57.56" cy="313.39" r="1.56" fill="url(#cellg4)"/>
<circle cx="62.15" cy="306.17" r="2.26" fill="rgb(67,67,67)"/>
<circle cx="62.15" cy="306.17" r="1.56" fill="url(#cellg4)"/>
<circle cx="70.04" cy="329.42" r="3.20" fill="rgb(67,67,67)"/>
<circle cx="70.04" cy="329.42" r="2.50" fill="url(#cellg4)"/>
<ellipse cx="72.01" cy="351.50" rx="4.32" ry="3.34" transform="rotate(71 72.01 351.50)" fill="rgb(69,69,69)"/>
<ellipse cx="72.01" cy="351.50" rx="3.62" ry="2.64" transform="rotate(71 72.01 351.50)" fill="url(#cellg4)"/>
<circle cx="81.86" cy="346.24" r="2.26" fill="rgb(67,67,67)"/>
<circle cx="81.86" cy="346.24" r="1.56" fill="url(#cellg4)"/>
<ellipse cx="24.71" cy="343.61" rx="4.75" ry="2.21" transform="rotate(-20 24.71 343.61)" fill="rgb(69,69,69)"/>
<ellipse cx="24.71" cy="343.61" rx="4.15" ry="1.61" transform="rotate(-20 24.71 343.61)" fill="rgb(139,139,139)"/>
<circle cx="29.31" cy="319.96" r="2.26" fill="rgb(67,67,67)"/>
<circle cx="29.31" cy="319.96" r="1.56" fill="url(#cellg4)"/>
<circle cx="72.01" cy="317.34" r="2.26" fill="rgb(67,67,67)"/>
<circle cx="72.01" cy="317.34" r="1.56" fill="url(#cellg4)"/>
<circle cx="43.10" cy="356.10" r="3.42" fill="rgb(67,67,67)"/>
<circle cx="43.10" cy="356.10" r="2.72" fill="url(#cellg4)"/>
<circle cx="46.39" cy="358.07" r="3.33" fill="rgb(67,67,67)"/>
<circle cx="46.39" cy="358.07" r="2.63" fill="url(#cellg4)"/>
</g>
<rect x="72.7" y="360.7" width="10.4" height="2.7" fill="#fff"/>
</g>
<rect x="13.0" y="301.7" width="24.20" height="12.30" fill="#fff"/>
<text x="17.50" y="309.80" font-size="6.85" fill="#000" style="stroke-width:0.09px">Day 4</text>
<defs><radialGradient id="cellg6"><stop offset="0" stop-color="rgb(180,180,180)"/><stop offset="0.7" stop-color="rgb(168,168,168)"/><stop offset="1" stop-color="rgb(146,146,146)"/></radialGradient></defs>
<clipPath id="clip6"><rect x="12.9" y="370.3" width="72.40" height="64.20"/></clipPath>
<g clip-path="url(#clip6)">
<rect x="12.9" y="370.3" width="72.40" height="64.20" fill="rgb(118,118,118)"/>
<g filter="url(#soft)">
<circle cx="18.76" cy="388.94" r="3.18" fill="rgb(88,88,88)"/>
<circle cx="18.76" cy="388.94" r="2.48" fill="url(#cellg6)"/>
<circle cx="24.01" cy="393.61" r="3.16" fill="rgb(88,88,88)"/>
<circle cx="24.01" cy="393.61" r="2.46" fill="url(#cellg6)"/>
<circle cx="32.19" cy="386.61" r="3.00" fill="rgb(88,88,88)"/>
<circle cx="32.19" cy="386.61" r="2.30" fill="url(#cellg6)"/>
<circle cx="36.86" cy="384.27" r="2.08" fill="rgb(88,88,88)"/>
<circle cx="36.86" cy="384.27" r="1.38" fill="url(#cellg6)"/>
<circle cx="46.20" cy="385.44" r="3.69" fill="rgb(88,88,88)"/>
<circle cx="46.20" cy="385.44" r="2.99" fill="url(#cellg6)"/>
<circle cx="43.87" cy="393.03" r="2.81" fill="rgb(88,88,88)"/>
<circle cx="43.87" cy="393.03" r="2.11" fill="url(#cellg6)"/>
<circle cx="59.64" cy="387.19" r="3.16" fill="rgb(88,88,88)"/>
<circle cx="59.64" cy="387.19" r="2.46" fill="url(#cellg6)"/>
<circle cx="68.39" cy="383.69" r="3.18" fill="rgb(88,88,88)"/>
<circle cx="68.39" cy="383.69" r="2.48" fill="url(#cellg6)"/>
<ellipse cx="65.47" cy="388.94" rx="3.84" ry="2.99" transform="rotate(5 65.47 388.94)" fill="rgb(90,90,90)"/>
<ellipse cx="65.47" cy="388.94" rx="3.14" ry="2.29" transform="rotate(5 65.47 388.94)" fill="url(#cellg6)"/>
<circle cx="71.90" cy="393.03" r="2.86" fill="rgb(88,88,88)"/>
<circle cx="71.90" cy="393.03" r="2.16" fill="url(#cellg6)"/>
<ellipse cx="74.23" cy="397.70" rx="3.52" ry="2.76" transform="rotate(59 74.23 397.70)" fill="rgb(90,90,90)"/>
<ellipse cx="74.23" cy="397.70" rx="2.82" ry="2.06" transform="rotate(59 74.23 397.70)" fill="url(#cellg6)"/>
<circle cx="82.99" cy="388.94" r="2.08" fill="rgb(88,88,88)"/>
<circle cx="82.99" cy="388.94" r="1.38" fill="url(#cellg6)"/>
<circle cx="19.34" cy="400.62" r="2.80" fill="rgb(88,88,88)"/>
<circle cx="19.34" cy="400.62" r="2.10" fill="url(#cellg6)"/>
<ellipse cx="34.53" cy="401.20" rx="3.58" ry="2.81" transform="rotate(119 34.53 401.20)" fill="rgb(90,90,90)"/>
<ellipse cx="34.53" cy="401.20" rx="2.88" ry="2.11" transform="rotate(119 34.53 401.20)" fill="url(#cellg6)"/>
<circle cx="40.95" cy="401.79" r="3.11" fill="rgb(88,88,88)"/>
<circle cx="40.95" cy="401.79" r="2.41" fill="url(#cellg6)"/>
<circle cx="46.20" cy="398.87" r="2.94" fill="rgb(88,88,88)"/>
<circle cx="46.20" cy="398.87" r="2.24" fill="url(#cellg6)"/>
<ellipse cx="54.38" cy="395.36" rx="3.46" ry="2.72" transform="rotate(94 54.38 395.36)" fill="rgb(90,90,90)"/>
<ellipse cx="54.38" cy="395.36" rx="2.76" ry="2.02" transform="rotate(94 54.38 395.36)" fill="url(#cellg6)"/>
<circle cx="59.64" cy="396.30" r="2.78" fill="rgb(88,88,88)"/>
<circle cx="59.64" cy="396.30" r="2.08" fill="url(#cellg6)"/>
<circle cx="63.14" cy="402.37" r="3.09" fill="rgb(88,88,88)"/>
<circle cx="63.14" cy="402.37" r="2.39" fill="url(#cellg6)"/>
<ellipse cx="81.82" cy="405.88" rx="3.81" ry="1.84" transform="rotate(-30 81.82 405.88)" fill="rgb(90,90,90)"/>
<ellipse cx="81.82" cy="405.88" rx="3.21" ry="1.24" transform="rotate(-30 81.82 405.88)" fill="rgb(160,160,160)"/>
<circle cx="29.85" cy="408.80" r="2.83" fill="rgb(88,88,88)"/>
<circle cx="29.85" cy="408.80" r="2.13" fill="url(#cellg6)"/>
<ellipse cx="19.93" cy="409.38" rx="4.11" ry="1.96" transform="rotate(60 19.93 409.38)" fill="rgb(90,90,90)"/>
<ellipse cx="19.93" cy="409.38" rx="3.51" ry="1.36" transform="rotate(60 19.93 409.38)" fill="rgb(160,160,160)"/>
<ellipse cx="33.36" cy="414.05" rx="3.89" ry="1.87" transform="rotate(70 33.36 414.05)" fill="rgb(90,90,90)"/>
<ellipse cx="33.36" cy="414.05" rx="3.29" ry="1.27" transform="rotate(70 33.36 414.05)" fill="rgb(160,160,160)"/>
<circle cx="45.04" cy="411.72" r="2.90" fill="rgb(88,88,88)"/>
<circle cx="45.04" cy="411.72" r="2.20" fill="url(#cellg6)"/>
<circle cx="59.64" cy="411.72" r="2.99" fill="rgb(88,88,88)"/>
<circle cx="59.64" cy="411.72" r="2.29" fill="url(#cellg6)"/>
<circle cx="16.42" cy="414.05" r="3.09" fill="rgb(88,88,88)"/>
<circle cx="16.42" cy="414.05" r="2.39" fill="url(#cellg6)"/>
<circle cx="18.76" cy="417.55" r="3.14" fill="rgb(88,88,88)"/>
<circle cx="18.76" cy="417.55" r="2.44" fill="url(#cellg6)"/>
<circle cx="22.85" cy="418.72" r="2.87" fill="rgb(88,88,88)"/>
<circle cx="22.85" cy="418.72" r="2.17" fill="url(#cellg6)"/>
<circle cx="19.93" cy="422.23" r="2.79" fill="rgb(88,88,88)"/>
<circle cx="19.93" cy="422.23" r="2.09" fill="url(#cellg6)"/>
<circle cx="15.26" cy="422.81" r="2.08" fill="rgb(88,88,88)"/>
<circle cx="15.26" cy="422.81" r="1.38" fill="url(#cellg6)"/>
<ellipse cx="42.70" cy="419.89" rx="3.83" ry="1.85" transform="rotate(40 42.70 419.89)" fill="rgb(90,90,90)"/>
<ellipse cx="42.70" cy="419.89" rx="3.23" ry="1.25" transform="rotate(40 42.70 419.89)" fill="rgb(160,160,160)"/>
<circle cx="51.46" cy="419.89" r="2.95" fill="rgb(88,88,88)"/>
<circle cx="51.46" cy="419.89" r="2.25" fill="url(#cellg6)"/>
<ellipse cx="50.88" cy="424.56" rx="4.43" ry="2.08" transform="rotate(0 50.88 424.56)" fill="rgb(90,90,90)"/>
<ellipse cx="50.88" cy="424.56" rx="3.83" ry="1.48" transform="rotate(0 50.88 424.56)" fill="rgb(160,160,160)"/>
<circle cx="62.55" cy="420.47" r="2.98" fill="rgb(88,88,88)"/>
<circle cx="62.55" cy="420.47" r="2.28" fill="url(#cellg6)"/>
<circle cx="72.48" cy="423.98" r="2.08" fill="rgb(88,88,88)"/>
<circle cx="72.48" cy="423.98" r="1.38" fill="url(#cellg6)"/>
<circle cx="33.94" cy="425.15" r="2.99" fill="rgb(88,88,88)"/>
<circle cx="33.94" cy="425.15" r="2.29" fill="url(#cellg6)"/>
<circle cx="46.20" cy="432.15" r="2.98" fill="rgb(88,88,88)"/>
<circle cx="46.20" cy="432.15" r="2.28" fill="url(#cellg6)"/>
<circle cx="82.41" cy="415.80" r="3.06" fill="rgb(88,88,88)"/>
<circle cx="82.41" cy="415.80" r="2.36" fill="url(#cellg6)"/>
<circle cx="57.88" cy="417.55" r="2.08" fill="rgb(88,88,88)"/>
<circle cx="57.88" cy="417.55" r="1.38" fill="url(#cellg6)"/>
</g>
<rect x="72.7" y="429.0" width="10.4" height="2.7" fill="#fff"/>
</g>
<rect x="12.4" y="369.8" width="24.70" height="11.60" fill="#fff"/>
<text x="15.60" y="377.60" font-size="6.85" fill="#000" style="stroke-width:0.09px">Day 6</text>
<defs><radialGradient id="cellg8"><stop offset="0" stop-color="rgb(156,156,156)"/><stop offset="0.7" stop-color="rgb(144,144,144)"/><stop offset="1" stop-color="rgb(122,122,122)"/></radialGradient></defs>
<clipPath id="clip8"><rect x="12.9" y="438.3" width="72.80" height="64.70"/></clipPath>
<g clip-path="url(#clip8)">
<rect x="12.9" y="438.3" width="72.80" height="64.70" fill="rgb(94,94,94)"/>
<g filter="url(#soft)">
<circle cx="40.95" cy="444.34" r="3.22" fill="rgb(64,64,64)"/>
<circle cx="40.95" cy="444.34" r="2.52" fill="url(#cellg8)"/>
<circle cx="45.04" cy="440.26" r="3.04" fill="rgb(64,64,64)"/>
<circle cx="45.04" cy="440.26" r="2.34" fill="url(#cellg8)"/>
<circle cx="62.55" cy="446.09" r="3.05" fill="rgb(64,64,64)"/>
<circle cx="62.55" cy="446.09" r="2.35" fill="url(#cellg8)"/>
<circle cx="66.06" cy="440.84" r="3.15" fill="rgb(64,64,64)"/>
<circle cx="66.06" cy="440.84" r="2.45" fill="url(#cellg8)"/>
<circle cx="84.16" cy="446.68" r="2.89" fill="rgb(64,64,64)"/>
<circle cx="84.16" cy="446.68" r="2.19" fill="url(#cellg8)"/>
<circle cx="31.61" cy="455.44" r="2.99" fill="rgb(64,64,64)"/>
<circle cx="31.61" cy="455.44" r="2.29" fill="url(#cellg8)"/>
<ellipse cx="21.68" cy="455.44" rx="4.01" ry="3.12" transform="rotate(169 21.68 455.44)" fill="rgb(66,66,66)"/>
<ellipse cx="21.68" cy="455.44" rx="3.31" ry="2.42" transform="rotate(169 21.68 455.44)" fill="url(#cellg8)"/>
<ellipse cx="26.35" cy="459.53" rx="3.87" ry="3.02" transform="rotate(26 26.35 459.53)" fill="rgb(66,66,66)"/>
<ellipse cx="26.35" cy="459.53" rx="3.17" ry="2.32" transform="rotate(26 26.35 459.53)" fill="url(#cellg8)"/>
<circle cx="16.42" cy="461.28" r="3.24" fill="rgb(64,64,64)"/>
<circle cx="16.42" cy="461.28" r="2.54" fill="url(#cellg8)"/>
<circle cx="22.85" cy="463.03" r="3.82" fill="rgb(64,64,64)"/>
<circle cx="22.85" cy="463.03" r="3.12" fill="url(#cellg8)"/>
<circle cx="56.72" cy="458.94" r="3.03" fill="rgb(64,64,64)"/>
<circle cx="56.72" cy="458.94" r="2.33" fill="url(#cellg8)"/>
<circle cx="54.38" cy="464.20" r="2.93" fill="rgb(64,64,64)"/>
<circle cx="54.38" cy="464.20" r="2.23" fill="url(#cellg8)"/>
<ellipse cx="68.39" cy="454.85" rx="3.98" ry="3.09" transform="rotate(127 68.39 454.85)" fill="rgb(66,66,66)"/>
<ellipse cx="68.39" cy="454.85" rx="3.28" ry="2.39" transform="rotate(127 68.39 454.85)" fill="url(#cellg8)"/>
<ellipse cx="20.51" cy="468.87" rx="4.61" ry="2.15" transform="rotate(-20 20.51 468.87)" fill="rgb(66,66,66)"/>
<ellipse cx="20.51" cy="468.87" rx="4.01" ry="1.55" transform="rotate(-20 20.51 468.87)" fill="rgb(136,136,136)"/>
<ellipse cx="28.69" cy="469.45" rx="3.70" ry="2.89" transform="rotate(64 28.69 469.45)" fill="rgb(66,66,66)"/>
<ellipse cx="28.69" cy="469.45" rx="3.00" ry="2.19" transform="rotate(64 28.69 469.45)" fill="url(#cellg8)"/>
<circle cx="55.55" cy="470.62" r="2.14" fill="rgb(64,64,64)"/>
<circle cx="55.55" cy="470.62" r="1.44" fill="url(#cellg8)"/>
<ellipse cx="43.87" cy="474.71" rx="3.52" ry="2.76" transform="rotate(83 43.87 474.71)" fill="rgb(66,66,66)"/>
<ellipse cx="43.87" cy="474.71" rx="2.82" ry="2.06" transform="rotate(83 43.87 474.71)" fill="url(#cellg8)"/>
<ellipse cx="64.31" cy="477.04" rx="3.90" ry="3.04" transform="rotate(60 64.31 477.04)" fill="rgb(66,66,66)"/>
<ellipse cx="64.31" cy="477.04" rx="3.20" ry="2.34" transform="rotate(60 64.31 477.04)" fill="url(#cellg8)"/>
<circle cx="80.07" cy="479.38" r="3.13" fill="rgb(64,64,64)"/>
<circle cx="80.07" cy="479.38" r="2.43" fill="url(#cellg8)"/>
<ellipse cx="47.37" cy="480.55" rx="4.59" ry="2.15" transform="rotate(-40 47.37 480.55)" fill="rgb(66,66,66)"/>
<ellipse cx="47.37" cy="480.55" rx="3.99" ry="1.55" transform="rotate(-40 47.37 480.55)" fill="rgb(136,136,136)"/>
<circle cx="21.68" cy="482.88" r="3.29" fill="rgb(64,64,64)"/>
<circle cx="21.68" cy="482.88" r="2.59" fill="url(#cellg8)"/>
<ellipse cx="29.85" cy="484.05" rx="4.10" ry="1.96" transform="rotate(0 29.85 484.05)" fill="rgb(66,66,66)"/>
<ellipse cx="29.85" cy="484.05" rx="3.50" ry="1.36" transform="rotate(0 29.85 484.05)" fill="rgb(136,136,136)"/>
<circle cx="39.20" cy="484.64" r="2.90" fill="rgb(64,64,64)"/>
<circle cx="39.20" cy="484.64" r="2.20" fill="url(#cellg8)"/>
<circle cx="62.55" cy="484.64" r="2.88" fill="rgb(64,64,64)"/>
<circle cx="62.55" cy="484.64" r="2.18" fill="url(#cellg8)"/>
<circle cx="82.41" cy="484.64" r="2.94" fill="rgb(64,64,64)"/>
<circle cx="82.41" cy="484.64" r="2.24" fill="url(#cellg8)"/>
<circle cx="43.28" cy="488.14" r="2.92" fill="rgb(64,64,64)"/>
<circle cx="43.28" cy="488.14" r="2.22" fill="url(#cellg8)"/>
<circle cx="49.71" cy="488.14" r="3.23" fill="rgb(64,64,64)"/>
<circle cx="49.71" cy="488.14" r="2.53" fill="url(#cellg8)"/>
<ellipse cx="53.80" cy="485.22" rx="3.97" ry="3.09" transform="rotate(73 53.80 485.22)" fill="rgb(66,66,66)"/>
<ellipse cx="53.80" cy="485.22" rx="3.27" ry="2.39" transform="rotate(73 53.80 485.22)" fill="url(#cellg8)"/>
<circle cx="30.44" cy="488.72" r="3.09" fill="rgb(64,64,64)"/>
<circle cx="30.44" cy="488.72" r="2.39" fill="url(#cellg8)"/>
<circle cx="66.64" cy="489.89" r="3.11" fill="rgb(64,64,64)"/>
<circle cx="66.64" cy="489.89" r="2.41" fill="url(#cellg8)"/>
<circle cx="40.36" cy="494.56" r="3.00" fill="rgb(64,64,64)"/>
<circle cx="40.36" cy="494.56" r="2.30" fill="url(#cellg8)"/>
<circle cx="53.80" cy="492.23" r="2.88" fill="rgb(64,64,64)"/>
<circle cx="53.80" cy="492.23" r="2.18" fill="url(#cellg8)"/>
<ellipse cx="46.20" cy="493.39" rx="3.61" ry="2.83" transform="rotate(48 46.20 493.39)" fill="rgb(66,66,66)"/>
<ellipse cx="46.20" cy="493.39" rx="2.91" ry="2.13" transform="rotate(48 46.20 493.39)" fill="url(#cellg8)"/>
<ellipse cx="57.88" cy="498.07" rx="3.96" ry="1.90" transform="rotate(-20 57.88 498.07)" fill="rgb(66,66,66)"/>
<ellipse cx="57.88" cy="498.07" rx="3.36" ry="1.30" transform="rotate(-20 57.88 498.07)" fill="rgb(136,136,136)"/>
<circle cx="21.09" cy="501.57" r="3.21" fill="rgb(64,64,64)"/>
<circle cx="21.09" cy="501.57" r="2.51" fill="url(#cellg8)"/>
<circle cx="45.04" cy="500.99" r="3.12" fill="rgb(64,64,64)"/>
<circle cx="45.04" cy="500.99" r="2.42" fill="url(#cellg8)"/>
</g>
<rect x="73.0" y="497.1" width="10.4" height="2.7" fill="#fff"/>
</g>
<rect x="12.4" y="437.8" width="24.70" height="12.40" fill="#fff"/>
<text x="16.10" y="447.00" font-size="6.85" fill="#000" style="stroke-width:0.09px">Day 8</text>
<defs><radialGradient id="cellg10"><stop offset="0" stop-color="rgb(165,165,165)"/><stop offset="0.7" stop-color="rgb(153,153,153)"/><stop offset="1" stop-color="rgb(131,131,131)"/></radialGradient></defs>
<clipPath id="clip10"><rect x="14.1" y="508.7" width="70.60" height="63.10"/></clipPath>
<g clip-path="url(#clip10)">
<rect x="14.1" y="508.7" width="70.60" height="63.10" fill="rgb(103,103,103)"/>
<g filter="url(#soft)">
<circle cx="39.78" cy="520.18" r="2.80" fill="rgb(73,73,73)"/>
<circle cx="39.78" cy="520.18" r="2.10" fill="url(#cellg10)"/>
<circle cx="45.62" cy="520.77" r="2.96" fill="rgb(73,73,73)"/>
<circle cx="45.62" cy="520.77" r="2.26" fill="url(#cellg10)"/>
<circle cx="58.47" cy="519.60" r="3.18" fill="rgb(73,73,73)"/>
<circle cx="58.47" cy="519.60" r="2.48" fill="url(#cellg10)"/>
<ellipse cx="65.47" cy="519.01" rx="3.89" ry="3.03" transform="rotate(112 65.47 519.01)" fill="rgb(75,75,75)"/>
<ellipse cx="65.47" cy="519.01" rx="3.19" ry="2.33" transform="rotate(112 65.47 519.01)" fill="url(#cellg10)"/>
<ellipse cx="70.15" cy="512.01" rx="3.41" ry="2.68" transform="rotate(43 70.15 512.01)" fill="rgb(75,75,75)"/>
<ellipse cx="70.15" cy="512.01" rx="2.71" ry="1.98" transform="rotate(43 70.15 512.01)" fill="url(#cellg10)"/>
<ellipse cx="77.74" cy="511.42" rx="3.45" ry="2.71" transform="rotate(47 77.74 511.42)" fill="rgb(75,75,75)"/>
<ellipse cx="77.74" cy="511.42" rx="2.75" ry="2.01" transform="rotate(47 77.74 511.42)" fill="url(#cellg10)"/>
<ellipse cx="73.65" cy="520.18" rx="3.49" ry="2.74" transform="rotate(113 73.65 520.18)" fill="rgb(75,75,75)"/>
<ellipse cx="73.65" cy="520.18" rx="2.79" ry="2.04" transform="rotate(113 73.65 520.18)" fill="url(#cellg10)"/>
<ellipse cx="70.73" cy="524.85" rx="4.15" ry="1.97" transform="rotate(80 70.73 524.85)" fill="rgb(75,75,75)"/>
<ellipse cx="70.73" cy="524.85" rx="3.55" ry="1.37" transform="rotate(80 70.73 524.85)" fill="rgb(145,145,145)"/>
<ellipse cx="81.24" cy="529.53" rx="3.55" ry="2.78" transform="rotate(121 81.24 529.53)" fill="rgb(75,75,75)"/>
<ellipse cx="81.24" cy="529.53" rx="2.85" ry="2.08" transform="rotate(121 81.24 529.53)" fill="url(#cellg10)"/>
<ellipse cx="17.01" cy="523.69" rx="3.54" ry="2.77" transform="rotate(3 17.01 523.69)" fill="rgb(75,75,75)"/>
<ellipse cx="17.01" cy="523.69" rx="2.84" ry="2.07" transform="rotate(3 17.01 523.69)" fill="url(#cellg10)"/>
<ellipse cx="15.84" cy="530.69" rx="3.97" ry="1.90" transform="rotate(-30 15.84 530.69)" fill="rgb(75,75,75)"/>
<ellipse cx="15.84" cy="530.69" rx="3.37" ry="1.30" transform="rotate(-30 15.84 530.69)" fill="rgb(145,145,145)"/>
<circle cx="33.94" cy="528.36" r="2.08" fill="rgb(73,73,73)"/>
<circle cx="33.94" cy="528.36" r="1.38" fill="url(#cellg10)"/>
<circle cx="45.62" cy="530.11" r="3.00" fill="rgb(73,73,73)"/>
<circle cx="45.62" cy="530.11" r="2.30" fill="url(#cellg10)"/>
<circle cx="54.96" cy="530.69" r="2.08" fill="rgb(73,73,73)"/>
<circle cx="54.96" cy="530.69" r="1.38" fill="url(#cellg10)"/>
<circle cx="42.70" cy="535.36" r="3.16" fill="rgb(73,73,73)"/>
<circle cx="42.70" cy="535.36" r="2.46" fill="url(#cellg10)"/>
<circle cx="50.29" cy="538.28" r="3.69" fill="rgb(73,73,73)"/>
<circle cx="50.29" cy="538.28" r="2.99" fill="url(#cellg10)"/>
<ellipse cx="22.26" cy="533.61" rx="4.09" ry="1.95" transform="rotate(60 22.26 533.61)" fill="rgb(75,75,75)"/>
<ellipse cx="22.26" cy="533.61" rx="3.49" ry="1.35" transform="rotate(60 22.26 533.61)" fill="rgb(145,145,145)"/>
<ellipse cx="28.69" cy="538.28" rx="4.16" ry="1.98" transform="rotate(40 28.69 538.28)" fill="rgb(75,75,75)"/>
<ellipse cx="28.69" cy="538.28" rx="3.56" ry="1.38" transform="rotate(40 28.69 538.28)" fill="rgb(145,145,145)"/>
<circle cx="45.04" cy="544.71" r="3.69" fill="rgb(73,73,73)"/>
<circle cx="45.04" cy="544.71" r="2.99" fill="url(#cellg10)"/>
<circle cx="32.19" cy="544.71" r="3.05" fill="rgb(73,73,73)"/>
<circle cx="32.19" cy="544.71" r="2.35" fill="url(#cellg10)"/>
<circle cx="34.53" cy="548.80" r="2.91" fill="rgb(73,73,73)"/>
<circle cx="34.53" cy="548.80" r="2.21" fill="url(#cellg10)"/>
<circle cx="37.45" cy="552.88" r="3.07" fill="rgb(73,73,73)"/>
<circle cx="37.45" cy="552.88" r="2.37" fill="url(#cellg10)"/>
<circle cx="51.46" cy="547.63" r="2.94" fill="rgb(73,73,73)"/>
<circle cx="51.46" cy="547.63" r="2.24" fill="url(#cellg10)"/>
<circle cx="64.89" cy="544.12" r="3.69" fill="rgb(73,73,73)"/>
<circle cx="64.89" cy="544.12" r="2.99" fill="url(#cellg10)"/>
<ellipse cx="57.88" cy="543.54" rx="3.40" ry="2.67" transform="rotate(133 57.88 543.54)" fill="rgb(75,75,75)"/>
<ellipse cx="57.88" cy="543.54" rx="2.70" ry="1.97" transform="rotate(133 57.88 543.54)" fill="url(#cellg10)"/>
<ellipse cx="21.68" cy="545.88" rx="3.53" ry="2.77" transform="rotate(10 21.68 545.88)" fill="rgb(75,75,75)"/>
<ellipse cx="21.68" cy="545.88" rx="2.83" ry="2.07" transform="rotate(10 21.68 545.88)" fill="url(#cellg10)"/>
<ellipse cx="21.09" cy="551.72" rx="4.24" ry="2.01" transform="rotate(-10 21.09 551.72)" fill="rgb(75,75,75)"/>
<ellipse cx="21.09" cy="551.72" rx="3.64" ry="1.41" transform="rotate(-10 21.09 551.72)" fill="rgb(145,145,145)"/>
<ellipse cx="61.97" cy="551.13" rx="4.37" ry="2.06" transform="rotate(-30 61.97 551.13)" fill="rgb(75,75,75)"/>
<ellipse cx="61.97" cy="551.13" rx="3.77" ry="1.46" transform="rotate(-30 61.97 551.13)" fill="rgb(145,145,145)"/>
<ellipse cx="74.23" cy="551.13" rx="3.91" ry="3.05" transform="rotate(44 74.23 551.13)" fill="rgb(75,75,75)"/>
<ellipse cx="74.23" cy="551.13" rx="3.21" ry="2.35" transform="rotate(44 74.23 551.13)" fill="url(#cellg10)"/>
<circle cx="81.82" cy="551.72" r="2.89" fill="rgb(73,73,73)"/>
<circle cx="81.82" cy="551.72" r="2.19" fill="url(#cellg10)"/>
<ellipse cx="42.70" cy="558.14" rx="3.93" ry="1.89" transform="rotate(10 42.70 558.14)" fill="rgb(75,75,75)"/>
<ellipse cx="42.70" cy="558.14" rx="3.33" ry="1.29" transform="rotate(10 42.70 558.14)" fill="rgb(145,145,145)"/>
<circle cx="19.34" cy="559.31" r="2.95" fill="rgb(73,73,73)"/>
<circle cx="19.34" cy="559.31" r="2.25" fill="url(#cellg10)"/>
<ellipse cx="25.18" cy="559.89" rx="3.59" ry="2.81" transform="rotate(175 25.18 559.89)" fill="rgb(75,75,75)"/>
<ellipse cx="25.18" cy="559.89" rx="2.89" ry="2.11" transform="rotate(175 25.18 559.89)" fill="url(#cellg10)"/>
<circle cx="21.68" cy="565.15" r="3.00" fill="rgb(73,73,73)"/>
<circle cx="21.68" cy="565.15" r="2.30" fill="url(#cellg10)"/>
<ellipse cx="30.44" cy="566.90" rx="3.83" ry="1.85" transform="rotate(-30 30.44 566.90)" fill="rgb(75,75,75)"/>
<ellipse cx="30.44" cy="566.90" rx="3.23" ry="1.25" transform="rotate(-30 30.44 566.90)" fill="rgb(145,145,145)"/>
<circle cx="60.22" cy="566.31" r="2.86" fill="rgb(73,73,73)"/>
<circle cx="60.22" cy="566.31" r="2.16" fill="url(#cellg10)"/>
<ellipse cx="66.06" cy="563.39" rx="3.39" ry="2.67" transform="rotate(15 66.06 563.39)" fill="rgb(75,75,75)"/>
<ellipse cx="66.06" cy="563.39" rx="2.69" ry="1.97" transform="rotate(15 66.06 563.39)" fill="url(#cellg10)"/>
<circle cx="73.65" cy="562.81" r="2.89" fill="rgb(73,73,73)"/>
<circle cx="73.65" cy="562.81" r="2.19" fill="url(#cellg10)"/>
<circle cx="38.03" cy="570.40" r="2.85" fill="rgb(73,73,73)"/>
<circle cx="38.03" cy="570.40" r="2.15" fill="url(#cellg10)"/>
</g>
<rect x="71.9" y="566.1" width="10.4" height="2.7" fill="#fff"/>
</g>
<rect x="13.6" y="508.2" width="24.20" height="12.60" fill="#fff"/>
<text x="13.80" y="516.70" font-size="6.85" fill="#000" style="stroke-width:0.09px">Day 10</text>
<defs><radialGradient id="cellg12"><stop offset="0" stop-color="rgb(161,161,161)"/><stop offset="0.7" stop-color="rgb(149,149,149)"/><stop offset="1" stop-color="rgb(127,127,127)"/></radialGradient></defs>
<clipPath id="clip12"><rect x="14.7" y="577.1" width="70.00" height="63.40"/></clipPath>
<g clip-path="url(#clip12)">
<rect x="14.7" y="577.1" width="70.00" height="63.40" fill="rgb(99,99,99)"/>
<g filter="url(#soft)">
<circle cx="23.43" cy="592.27" r="2.88" fill="rgb(69,69,69)"/>
<circle cx="23.43" cy="592.27" r="2.18" fill="url(#cellg12)"/>
<ellipse cx="30.44" cy="594.02" rx="3.68" ry="1.79" transform="rotate(0 30.44 594.02)" fill="rgb(71,71,71)"/>
<ellipse cx="30.44" cy="594.02" rx="3.08" ry="1.19" transform="rotate(0 30.44 594.02)" fill="rgb(141,141,141)"/>
<circle cx="23.43" cy="598.69" r="2.64" fill="rgb(69,69,69)"/>
<circle cx="23.43" cy="598.69" r="1.94" fill="url(#cellg12)"/>
<ellipse cx="18.18" cy="602.20" rx="3.55" ry="1.74" transform="rotate(10 18.18 602.20)" fill="rgb(71,71,71)"/>
<ellipse cx="18.18" cy="602.20" rx="2.95" ry="1.14" transform="rotate(10 18.18 602.20)" fill="rgb(141,141,141)"/>
<ellipse cx="32.77" cy="601.61" rx="3.71" ry="1.80" transform="rotate(50 32.77 601.61)" fill="rgb(71,71,71)"/>
<ellipse cx="32.77" cy="601.61" rx="3.11" ry="1.20" transform="rotate(50 32.77 601.61)" fill="rgb(141,141,141)"/>
<circle cx="19.34" cy="607.45" r="1.96" fill="rgb(69,69,69)"/>
<circle cx="19.34" cy="607.45" r="1.26" fill="url(#cellg12)"/>
<circle cx="42.70" cy="594.61" r="3.43" fill="rgb(69,69,69)"/>
<circle cx="42.70" cy="594.61" r="2.73" fill="url(#cellg12)"/>
<circle cx="48.54" cy="594.61" r="2.65" fill="rgb(69,69,69)"/>
<circle cx="48.54" cy="594.61" r="1.95" fill="url(#cellg12)"/>
<circle cx="54.96" cy="595.19" r="2.89" fill="rgb(69,69,69)"/>
<circle cx="54.96" cy="595.19" r="2.19" fill="url(#cellg12)"/>
<circle cx="66.64" cy="592.27" r="2.74" fill="rgb(69,69,69)"/>
<circle cx="66.64" cy="592.27" r="2.04" fill="url(#cellg12)"/>
<circle cx="78.91" cy="595.19" r="2.86" fill="rgb(69,69,69)"/>
<circle cx="78.91" cy="595.19" r="2.16" fill="url(#cellg12)"/>
<ellipse cx="47.96" cy="583.51" rx="3.62" ry="1.77" transform="rotate(-20 47.96 583.51)" fill="rgb(71,71,71)"/>
<ellipse cx="47.96" cy="583.51" rx="3.02" ry="1.17" transform="rotate(-20 47.96 583.51)" fill="rgb(141,141,141)"/>
<ellipse cx="51.46" cy="589.93" rx="3.89" ry="1.87" transform="rotate(40 51.46 589.93)" fill="rgb(71,71,71)"/>
<ellipse cx="51.46" cy="589.93" rx="3.29" ry="1.27" transform="rotate(40 51.46 589.93)" fill="rgb(141,141,141)"/>
<ellipse cx="59.05" cy="588.77" rx="3.56" ry="1.74" transform="rotate(20 59.05 588.77)" fill="rgb(71,71,71)"/>
<ellipse cx="59.05" cy="588.77" rx="2.96" ry="1.14" transform="rotate(20 59.05 588.77)" fill="rgb(141,141,141)"/>
<ellipse cx="62.55" cy="585.85" rx="4.05" ry="1.94" transform="rotate(40 62.55 585.85)" fill="rgb(71,71,71)"/>
<ellipse cx="62.55" cy="585.85" rx="3.45" ry="1.34" transform="rotate(40 62.55 585.85)" fill="rgb(141,141,141)"/>
<ellipse cx="71.90" cy="588.77" rx="3.78" ry="1.83" transform="rotate(50 71.90 588.77)" fill="rgb(71,71,71)"/>
<ellipse cx="71.90" cy="588.77" rx="3.18" ry="1.23" transform="rotate(50 71.90 588.77)" fill="rgb(141,141,141)"/>
<ellipse cx="81.24" cy="584.68" rx="4.01" ry="1.92" transform="rotate(-20 81.24 584.68)" fill="rgb(71,71,71)"/>
<ellipse cx="81.24" cy="584.68" rx="3.41" ry="1.32" transform="rotate(-20 81.24 584.68)" fill="rgb(141,141,141)"/>
<ellipse cx="82.41" cy="591.69" rx="4.06" ry="1.94" transform="rotate(60 82.41 591.69)" fill="rgb(71,71,71)"/>
<ellipse cx="82.41" cy="591.69" rx="3.46" ry="1.34" transform="rotate(60 82.41 591.69)" fill="rgb(141,141,141)"/>
<circle cx="43.87" cy="601.03" r="2.78" fill="rgb(69,69,69)"/>
<circle cx="43.87" cy="601.03" r="2.08" fill="url(#cellg12)"/>
<circle cx="47.96" cy="603.36" r="2.60" fill="rgb(69,69,69)"/>
<circle cx="47.96" cy="603.36" r="1.90" fill="url(#cellg12)"/>
<ellipse cx="58.47" cy="599.86" rx="3.87" ry="1.87" transform="rotate(80 58.47 599.86)" fill="rgb(71,71,71)"/>
<ellipse cx="58.47" cy="599.86" rx="3.27" ry="1.27" transform="rotate(80 58.47 599.86)" fill="rgb(141,141,141)"/>
<ellipse cx="66.64" cy="603.95" rx="3.93" ry="1.89" transform="rotate(50 66.64 603.95)" fill="rgb(71,71,71)"/>
<ellipse cx="66.64" cy="603.95" rx="3.33" ry="1.29" transform="rotate(50 66.64 603.95)" fill="rgb(141,141,141)"/>
<ellipse cx="67.23" cy="609.79" rx="3.91" ry="1.88" transform="rotate(-10 67.23 609.79)" fill="rgb(71,71,71)"/>
<ellipse cx="67.23" cy="609.79" rx="3.31" ry="1.28" transform="rotate(-10 67.23 609.79)" fill="rgb(141,141,141)"/>
<circle cx="53.21" cy="607.45" r="1.96" fill="rgb(69,69,69)"/>
<circle cx="53.21" cy="607.45" r="1.26" fill="url(#cellg12)"/>
<circle cx="54.96" cy="613.29" r="2.83" fill="rgb(69,69,69)"/>
<circle cx="54.96" cy="613.29" r="2.13" fill="url(#cellg12)"/>
<ellipse cx="25.18" cy="616.21" rx="3.34" ry="2.63" transform="rotate(101 25.18 616.21)" fill="rgb(71,71,71)"/>
<ellipse cx="25.18" cy="616.21" rx="2.64" ry="1.93" transform="rotate(101 25.18 616.21)" fill="url(#cellg12)"/>
<ellipse cx="31.61" cy="613.88" rx="3.47" ry="2.72" transform="rotate(96 31.61 613.88)" fill="rgb(71,71,71)"/>
<ellipse cx="31.61" cy="613.88" rx="2.77" ry="2.02" transform="rotate(96 31.61 613.88)" fill="url(#cellg12)"/>
<ellipse cx="30.44" cy="620.30" rx="3.67" ry="1.79" transform="rotate(40 30.44 620.30)" fill="rgb(71,71,71)"/>
<ellipse cx="30.44" cy="620.30" rx="3.07" ry="1.19" transform="rotate(40 30.44 620.30)" fill="rgb(141,141,141)"/>
<ellipse cx="18.18" cy="619.72" rx="3.53" ry="1.73" transform="rotate(10 18.18 619.72)" fill="rgb(71,71,71)"/>
<ellipse cx="18.18" cy="619.72" rx="2.93" ry="1.13" transform="rotate(10 18.18 619.72)" fill="rgb(141,141,141)"/>
<circle cx="17.01" cy="624.39" r="2.62" fill="rgb(69,69,69)"/>
<circle cx="17.01" cy="624.39" r="1.92" fill="url(#cellg12)"/>
<ellipse cx="18.18" cy="629.64" rx="4.06" ry="1.94" transform="rotate(0 18.18 629.64)" fill="rgb(71,71,71)"/>
<ellipse cx="18.18" cy="629.64" rx="3.46" ry="1.34" transform="rotate(0 18.18 629.64)" fill="rgb(141,141,141)"/>
<ellipse cx="43.28" cy="624.97" rx="3.92" ry="1.88" transform="rotate(-70 43.28 624.97)" fill="rgb(71,71,71)"/>
<ellipse cx="43.28" cy="624.97" rx="3.32" ry="1.28" transform="rotate(-70 43.28 624.97)" fill="rgb(141,141,141)"/>
<ellipse cx="54.38" cy="628.47" rx="3.97" ry="1.90" transform="rotate(30 54.38 628.47)" fill="rgb(71,71,71)"/>
<ellipse cx="54.38" cy="628.47" rx="3.37" ry="1.30" transform="rotate(30 54.38 628.47)" fill="rgb(141,141,141)"/>
<ellipse cx="66.06" cy="634.90" rx="3.28" ry="2.59" transform="rotate(152 66.06 634.90)" fill="rgb(71,71,71)"/>
<ellipse cx="66.06" cy="634.90" rx="2.58" ry="1.89" transform="rotate(152 66.06 634.90)" fill="url(#cellg12)"/>
<ellipse cx="17.01" cy="634.90" rx="3.67" ry="1.79" transform="rotate(20 17.01 634.90)" fill="rgb(71,71,71)"/>
<ellipse cx="17.01" cy="634.90" rx="3.07" ry="1.19" transform="rotate(20 17.01 634.90)" fill="rgb(141,141,141)"/>
<circle cx="75.40" cy="639.57" r="2.67" fill="rgb(69,69,69)"/>
<circle cx="75.40" cy="639.57" r="1.97" fill="url(#cellg12)"/>
<ellipse cx="59.05" cy="578.26" rx="3.91" ry="1.88" transform="rotate(0 59.05 578.26)" fill="rgb(71,71,71)"/>
<ellipse cx="59.05" cy="578.26" rx="3.31" ry="1.28" transform="rotate(0 59.05 578.26)" fill="rgb(141,141,141)"/>
<ellipse cx="69.56" cy="578.26" rx="3.82" ry="1.85" transform="rotate(0 69.56 578.26)" fill="rgb(71,71,71)"/>
<ellipse cx="69.56" cy="578.26" rx="3.22" ry="1.25" transform="rotate(0 69.56 578.26)" fill="rgb(141,141,141)"/>
</g>
<rect x="71.3" y="635.1" width="10.4" height="2.7" fill="#fff"/>
</g>
<rect x="14.2" y="576.6" width="24.20" height="12.20" fill="#fff"/>
<text x="14.40" y="585.60" font-size="6.85" fill="#000" style="stroke-width:0.09px">Day 12</text>
<defs><radialGradient id="cellg14"><stop offset="0" stop-color="rgb(169,169,169)"/><stop offset="0.7" stop-color="rgb(157,157,157)"/><stop offset="1" stop-color="rgb(135,135,135)"/></radialGradient></defs>
<clipPath id="clip14"><rect x="14.1" y="645.1" width="70.60" height="63.40"/></clipPath>
<g clip-path="url(#clip14)">
<rect x="14.1" y="645.1" width="70.60" height="63.40" fill="rgb(107,107,107)"/>
<g filter="url(#soft)">
<circle cx="18.76" cy="660.27" r="2.80" fill="rgb(77,77,77)"/>
<circle cx="18.76" cy="660.27" r="2.10" fill="url(#cellg14)"/>
<circle cx="38.61" cy="650.34" r="2.89" fill="rgb(77,77,77)"/>
<circle cx="38.61" cy="650.34" r="2.19" fill="url(#cellg14)"/>
<ellipse cx="47.37" cy="650.93" rx="4.20" ry="2.00" transform="rotate(-60 47.37 650.93)" fill="rgb(79,79,79)"/>
<ellipse cx="47.37" cy="650.93" rx="3.60" ry="1.40" transform="rotate(-60 47.37 650.93)" fill="rgb(149,149,149)"/>
<circle cx="60.80" cy="648.59" r="2.85" fill="rgb(77,77,77)"/>
<circle cx="60.80" cy="648.59" r="2.15" fill="url(#cellg14)"/>
<circle cx="79.49" cy="652.68" r="2.83" fill="rgb(77,77,77)"/>
<circle cx="79.49" cy="652.68" r="2.13" fill="url(#cellg14)"/>
<circle cx="39.20" cy="662.61" r="3.04" fill="rgb(77,77,77)"/>
<circle cx="39.20" cy="662.61" r="2.34" fill="url(#cellg14)"/>
<circle cx="59.64" cy="656.18" r="2.90" fill="rgb(77,77,77)"/>
<circle cx="59.64" cy="656.18" r="2.20" fill="url(#cellg14)"/>
<circle cx="59.05" cy="663.77" r="3.69" fill="rgb(77,77,77)"/>
<circle cx="59.05" cy="663.77" r="2.99" fill="url(#cellg14)"/>
<ellipse cx="22.26" cy="671.36" rx="3.85" ry="1.86" transform="rotate(-70 22.26 671.36)" fill="rgb(79,79,79)"/>
<ellipse cx="22.26" cy="671.36" rx="3.25" ry="1.26" transform="rotate(-70 22.26 671.36)" fill="rgb(149,149,149)"/>
<circle cx="46.20" cy="674.28" r="3.17" fill="rgb(77,77,77)"/>
<circle cx="46.20" cy="674.28" r="2.47" fill="url(#cellg14)"/>
<circle cx="39.20" cy="677.79" r="3.06" fill="rgb(77,77,77)"/>
<circle cx="39.20" cy="677.79" r="2.36" fill="url(#cellg14)"/>
<circle cx="73.07" cy="673.12" r="2.08" fill="rgb(77,77,77)"/>
<circle cx="73.07" cy="673.12" r="1.38" fill="url(#cellg14)"/>
<circle cx="75.99" cy="678.37" r="2.98" fill="rgb(77,77,77)"/>
<circle cx="75.99" cy="678.37" r="2.28" fill="url(#cellg14)"/>
<circle cx="83.58" cy="671.95" r="2.96" fill="rgb(77,77,77)"/>
<circle cx="83.58" cy="671.95" r="2.26" fill="url(#cellg14)"/>
<ellipse cx="54.38" cy="684.21" rx="3.88" ry="1.87" transform="rotate(15 54.38 684.21)" fill="rgb(79,79,79)"/>
<ellipse cx="54.38" cy="684.21" rx="3.28" ry="1.27" transform="rotate(15 54.38 684.21)" fill="rgb(149,149,149)"/>
<circle cx="56.13" cy="691.80" r="2.85" fill="rgb(77,77,77)"/>
<circle cx="56.13" cy="691.80" r="2.15" fill="url(#cellg14)"/>
<circle cx="17.01" cy="696.47" r="3.16" fill="rgb(77,77,77)"/>
<circle cx="17.01" cy="696.47" r="2.46" fill="url(#cellg14)"/>
<ellipse cx="25.77" cy="696.47" rx="3.55" ry="2.78" transform="rotate(148 25.77 696.47)" fill="rgb(79,79,79)"/>
<ellipse cx="25.77" cy="696.47" rx="2.85" ry="2.08" transform="rotate(148 25.77 696.47)" fill="url(#cellg14)"/>
<ellipse cx="31.61" cy="699.98" rx="4.43" ry="2.08" transform="rotate(-20 31.61 699.98)" fill="rgb(79,79,79)"/>
<ellipse cx="31.61" cy="699.98" rx="3.83" ry="1.48" transform="rotate(-20 31.61 699.98)" fill="rgb(149,149,149)"/>
<ellipse cx="42.12" cy="694.72" rx="4.45" ry="2.09" transform="rotate(-60 42.12 694.72)" fill="rgb(79,79,79)"/>
<ellipse cx="42.12" cy="694.72" rx="3.85" ry="1.49" transform="rotate(-60 42.12 694.72)" fill="rgb(149,149,149)"/>
<circle cx="47.96" cy="701.73" r="2.86" fill="rgb(77,77,77)"/>
<circle cx="47.96" cy="701.73" r="2.16" fill="url(#cellg14)"/>
<ellipse cx="61.97" cy="703.48" rx="3.86" ry="1.86" transform="rotate(50 61.97 703.48)" fill="rgb(79,79,79)"/>
<ellipse cx="61.97" cy="703.48" rx="3.26" ry="1.26" transform="rotate(50 61.97 703.48)" fill="rgb(149,149,149)"/>
</g>
<rect x="72.0" y="702.3" width="10.4" height="2.7" fill="#fff"/>
</g>
<rect x="13.6" y="644.6" width="24.40" height="12.80" fill="#fff"/>
<text x="14.10" y="653.80" font-size="6.85" fill="#000" style="stroke-width:0.09px">Day 14</text>
<text x="97.20" y="139.80" font-size="10.0" fill="#000" style="stroke-width:0.17px">(c)</text>
<text x="241.50" y="150.70" font-size="8.5" text-anchor="middle" textLength="186" lengthAdjust="spacingAndGlyphs" fill="#000" style="stroke-width:0.17px">CTM Biophysical Frequency Plots and Histogram</text>
<line x1="109.6" y1="172.90" x2="109.6" y2="220.30" stroke="#6e6e6e" stroke-width="0.8"/>
<g fill="none" stroke="#222" stroke-width="0.75"><ellipse cx="101.7" cy="169.90" rx="1.2" ry="1.45"/><ellipse cx="105.4" cy="173.30" rx="1.2" ry="1.45"/><line x1="105.6" y1="168.30" x2="101.4" y2="174.90"/></g>
<text x="107.30" y="185.20" font-size="7.0" text-anchor="end" fill="#333" style="stroke-width:0.10px">20</text>
<line x1="108.3" y1="182.70" x2="109.5" y2="182.70" stroke="#888" stroke-width="0.6"/>
<text x="107.30" y="204.00" font-size="7.0" text-anchor="end" fill="#333" style="stroke-width:0.10px">10</text>
<line x1="108.3" y1="201.50" x2="109.5" y2="201.50" stroke="#888" stroke-width="0.6"/>
<text x="107.30" y="222.80" font-size="7.0" text-anchor="end" fill="#333" style="stroke-width:0.10px">0</text>
<line x1="108.3" y1="220.30" x2="109.5" y2="220.30" stroke="#888" stroke-width="0.6"/>
<line x1="109.60" y1="220.30" x2="224.70" y2="220.30" stroke="#d0d0d0" stroke-width="0.6" stroke-dasharray="1.2,1"/>
<line x1="114.90" y1="225.00" x2="230.35" y2="225.00" stroke="#d0d0d0" stroke-width="0.6" stroke-dasharray="1.2,1"/>
<line x1="120.20" y1="229.70" x2="236.00" y2="229.70" stroke="#d0d0d0" stroke-width="0.6" stroke-dasharray="1.2,1"/>
<line x1="125.50" y1="234.40" x2="241.65" y2="234.40" stroke="#d0d0d0" stroke-width="0.6" stroke-dasharray="1.2,1"/>
<path d="M117.26,220.30 C119.31,218.08 121.35,213.64 123.39,213.64 C124.76,213.64 126.12,214.66 127.48,214.66 C129.52,214.66 131.57,214.46 133.61,214.05 C134.63,213.85 135.66,212.59 136.68,210.98 C137.70,209.38 138.72,204.04 139.74,199.74 C141.11,194.02 142.47,179.31 143.83,179.31 C144.85,179.31 145.87,184.58 146.90,187.48 C147.58,189.41 148.26,191.77 148.94,193.61 C150.64,198.23 152.35,202.51 154.05,205.87 C156.09,209.92 158.14,214.11 160.18,216.09 C162.22,218.08 164.27,218.90 166.31,220.30 Z" fill="rgb(80,22,148)" fill-opacity="0.97"/>
<path d="M130.55,225.00 C132.25,222.37 133.95,218.38 135.66,217.12 C137.02,216.11 138.38,216.06 139.74,215.07 C141.79,213.59 143.83,210.69 145.87,205.87 C146.90,203.47 147.92,192.59 148.94,192.59 C150.30,192.59 151.67,197.46 153.03,199.74 C154.73,202.60 156.43,205.43 158.14,207.92 C160.18,210.90 162.22,214.10 164.27,216.09 C166.99,218.74 169.72,221.12 172.44,222.22 C175.85,223.61 179.26,224.07 182.66,225.00 Z" fill="rgb(114,46,180)" fill-opacity="0.85"/>
<path d="M130.55,225.00 C132.25,222.37 133.95,218.38 135.66,217.12 C137.02,216.11 138.38,216.06 139.74,215.07 C141.79,213.59 143.83,210.69 145.87,205.87 C146.90,203.47 147.92,192.59 148.94,192.59 C150.30,192.59 151.67,197.46 153.03,199.74 C154.73,202.60 156.43,205.43 158.14,207.92 C160.18,210.90 162.22,214.10 164.27,216.09 C166.99,218.74 169.72,221.12 172.44,222.22 C175.85,223.61 179.26,224.07 182.66,225.00" fill="none" stroke="#fff" stroke-width="0.95"/>
<path d="M131.57,229.70 C132.93,228.71 134.29,226.90 135.66,226.72 C137.70,226.46 139.74,226.46 141.79,226.31 C144.51,226.12 147.24,226.05 149.96,225.70 C152.01,225.43 154.05,224.67 156.09,223.25 C157.46,222.30 158.82,218.91 160.18,215.07 C161.68,210.85 163.18,193.20 164.68,193.20 C165.56,193.20 166.45,200.79 167.33,201.79 C168.36,202.93 169.38,202.83 170.40,203.83 C171.76,205.16 173.12,209.51 174.49,212.01 C176.53,215.74 178.57,219.35 180.62,222.22 C182.66,225.10 184.71,227.21 186.75,229.70 Z" fill="rgb(158,96,212)" fill-opacity="0.75"/>
<path d="M131.57,229.70 C132.93,228.71 134.29,226.90 135.66,226.72 C137.70,226.46 139.74,226.46 141.79,226.31 C144.51,226.12 147.24,226.05 149.96,225.70 C152.01,225.43 154.05,224.67 156.09,223.25 C157.46,222.30 158.82,218.91 160.18,215.07 C161.68,210.85 163.18,193.20 164.68,193.20 C165.56,193.20 166.45,200.79 167.33,201.79 C168.36,202.93 169.38,202.83 170.40,203.83 C171.76,205.16 173.12,209.51 174.49,212.01 C176.53,215.74 178.57,219.35 180.62,222.22 C182.66,225.10 184.71,227.21 186.75,229.70" fill="none" stroke="#fff" stroke-width="0.95"/>
<path d="M140.77,234.40 C142.81,233.27 144.85,231.01 146.90,231.01 C147.92,231.01 148.94,232.44 149.96,232.44 C152.69,232.44 155.41,231.81 158.14,231.01 C160.18,230.41 162.22,228.09 164.27,226.31 C166.31,224.54 168.36,223.24 170.40,220.18 C172.10,217.63 173.81,210.82 175.51,205.87 C176.53,202.91 177.55,196.68 178.57,196.68 C179.26,196.68 179.94,197.11 180.62,197.70 C181.64,198.59 182.66,209.38 183.68,214.05 C184.71,218.72 185.73,224.16 186.75,226.31 C188.79,230.61 190.84,231.70 192.88,234.40 Z" fill="rgb(204,160,234)" fill-opacity="0.72"/>
<path d="M140.77,234.40 C142.81,233.27 144.85,231.01 146.90,231.01 C147.92,231.01 148.94,232.44 149.96,232.44 C152.69,232.44 155.41,231.81 158.14,231.01 C160.18,230.41 162.22,228.09 164.27,226.31 C166.31,224.54 168.36,223.24 170.40,220.18 C172.10,217.63 173.81,210.82 175.51,205.87 C176.53,202.91 177.55,196.68 178.57,196.68 C179.26,196.68 179.94,197.11 180.62,197.70 C181.64,198.59 182.66,209.38 183.68,214.05 C184.71,218.72 185.73,224.16 186.75,226.31 C188.79,230.61 190.84,231.70 192.88,234.40" fill="none" stroke="#fff" stroke-width="0.95"/>
<text x="202.20" y="176.70" font-size="7.0" fill="#000" style="stroke-width:0.10px">Day 0</text>
<line x1="109.6" y1="237.30" x2="109.6" y2="285.00" stroke="#6e6e6e" stroke-width="0.8"/>
<g fill="none" stroke="#222" stroke-width="0.75"><ellipse cx="101.7" cy="234.00" rx="1.2" ry="1.45"/><ellipse cx="105.4" cy="237.40" rx="1.2" ry="1.45"/><line x1="105.6" y1="232.40" x2="101.4" y2="239.00"/></g>
<text x="107.30" y="249.60" font-size="7.0" text-anchor="end" fill="#333" style="stroke-width:0.10px">20</text>
<line x1="108.3" y1="247.10" x2="109.5" y2="247.10" stroke="#888" stroke-width="0.6"/>
<text x="107.30" y="268.55" font-size="7.0" text-anchor="end" fill="#333" style="stroke-width:0.10px">10</text>
<line x1="108.3" y1="266.05" x2="109.5" y2="266.05" stroke="#888" stroke-width="0.6"/>
<text x="107.30" y="287.50" font-size="7.0" text-anchor="end" fill="#333" style="stroke-width:0.10px">0</text>
<line x1="108.3" y1="285.00" x2="109.5" y2="285.00" stroke="#888" stroke-width="0.6"/>
<line x1="109.60" y1="285.00" x2="224.70" y2="285.00" stroke="#d0d0d0" stroke-width="0.6" stroke-dasharray="1.2,1"/>
<line x1="114.90" y1="289.70" x2="230.35" y2="289.70" stroke="#d0d0d0" stroke-width="0.6" stroke-dasharray="1.2,1"/>
<line x1="120.20" y1="294.40" x2="236.00" y2="294.40" stroke="#d0d0d0" stroke-width="0.6" stroke-dasharray="1.2,1"/>
<line x1="125.50" y1="299.10" x2="241.65" y2="299.10" stroke="#d0d0d0" stroke-width="0.6" stroke-dasharray="1.2,1"/>
<path d="M114.20,285.00 C115.90,280.28 117.60,276.65 119.31,270.83 C120.67,266.18 122.03,253.05 123.39,253.05 C124.42,253.05 125.44,261.74 126.46,266.74 C127.34,271.08 128.23,281.05 129.12,281.05 C130.61,281.05 132.11,281.05 133.61,281.05 C134.63,281.05 135.66,275.42 136.68,272.87 C137.70,270.33 138.72,265.72 139.74,265.72 C140.77,265.72 141.79,267.99 142.81,269.81 C143.83,271.63 144.85,275.99 145.87,277.98 C146.90,279.97 147.92,282.48 148.94,282.68 C152.01,283.29 155.07,283.50 158.14,283.50 C164.27,283.50 170.40,283.50 176.53,283.50 C177.89,283.50 179.26,284.50 180.62,285.00 Z" fill="rgb(80,22,148)" fill-opacity="0.97"/>
<path d="M127.48,289.70 C128.84,286.82 130.21,283.95 131.57,281.05 C133.48,276.99 135.38,268.79 137.29,268.79 C137.97,268.79 138.65,274.05 139.33,275.94 C140.02,277.83 140.70,280.64 141.38,280.64 C143.22,280.64 145.06,279.46 146.90,278.60 C149.28,277.48 151.67,273.90 154.05,273.90 C155.55,273.90 157.05,274.57 158.55,275.33 C160.11,276.11 161.68,280.94 163.25,281.05 C167.67,281.36 172.10,281.17 176.53,281.46 C178.57,281.59 180.62,285.11 182.66,285.55 C187.43,286.57 192.20,286.91 196.97,287.18 C200.37,287.38 203.78,287.41 207.19,287.59 C211.96,287.84 216.72,288.18 221.49,288.82 C222.86,289.00 224.22,289.41 225.58,289.70 Z" fill="rgb(114,46,180)" fill-opacity="0.85"/>
<path d="M127.48,289.70 C128.84,286.82 130.21,283.95 131.57,281.05 C133.48,276.99 135.38,268.79 137.29,268.79 C137.97,268.79 138.65,274.05 139.33,275.94 C140.02,277.83 140.70,280.64 141.38,280.64 C143.22,280.64 145.06,279.46 146.90,278.60 C149.28,277.48 151.67,273.90 154.05,273.90 C155.55,273.90 157.05,274.57 158.55,275.33 C160.11,276.11 161.68,280.94 163.25,281.05 C167.67,281.36 172.10,281.17 176.53,281.46 C178.57,281.59 180.62,285.11 182.66,285.55 C187.43,286.57 192.20,286.91 196.97,287.18 C200.37,287.38 203.78,287.41 207.19,287.59 C211.96,287.84 216.72,288.18 221.49,288.82 C222.86,289.00 224.22,289.41 225.58,289.70" fill="none" stroke="#fff" stroke-width="0.95"/>
<path d="M125.44,294.40 C127.14,287.22 128.84,280.97 130.55,272.87 C131.91,266.40 133.27,250.80 134.63,250.80 C135.52,250.80 136.41,262.65 137.29,268.79 C138.11,274.45 138.93,285.85 139.74,286.16 C141.79,286.93 143.83,287.18 145.87,287.18 C149.28,287.18 152.69,286.16 156.09,286.16 C159.50,286.16 162.91,286.16 166.31,286.16 C168.36,286.16 170.40,288.62 172.44,289.22 C175.85,290.23 179.26,290.70 182.66,291.27 C187.43,292.07 192.20,292.73 196.97,293.31 C200.37,293.72 203.78,294.04 207.19,294.40 Z" fill="rgb(158,96,212)" fill-opacity="0.75"/>
<path d="M125.44,294.40 C127.14,287.22 128.84,280.97 130.55,272.87 C131.91,266.40 133.27,250.80 134.63,250.80 C135.52,250.80 136.41,262.65 137.29,268.79 C138.11,274.45 138.93,285.85 139.74,286.16 C141.79,286.93 143.83,287.18 145.87,287.18 C149.28,287.18 152.69,286.16 156.09,286.16 C159.50,286.16 162.91,286.16 166.31,286.16 C168.36,286.16 170.40,288.62 172.44,289.22 C175.85,290.23 179.26,290.70 182.66,291.27 C187.43,292.07 192.20,292.73 196.97,293.31 C200.37,293.72 203.78,294.04 207.19,294.40" fill="none" stroke="#fff" stroke-width="0.95"/>
<path d="M140.77,299.10 C142.47,293.08 144.17,281.05 145.87,281.05 C146.90,281.05 147.92,289.88 148.94,291.27 C150.64,293.58 152.35,295.36 154.05,295.36 C159.50,295.36 164.95,295.36 170.40,295.36 C172.44,295.36 174.49,291.38 176.53,289.22 C179.26,286.35 181.98,280.03 184.71,280.03 C186.75,280.03 188.79,284.00 190.84,286.16 C193.56,289.04 196.29,294.31 199.01,295.36 C203.78,297.19 208.55,298.05 213.32,298.42 C218.09,298.79 222.86,298.87 227.62,299.10 Z" fill="rgb(204,160,234)" fill-opacity="0.72"/>
<path d="M140.77,299.10 C142.47,293.08 144.17,281.05 145.87,281.05 C146.90,281.05 147.92,289.88 148.94,291.27 C150.64,293.58 152.35,295.36 154.05,295.36 C159.50,295.36 164.95,295.36 170.40,295.36 C172.44,295.36 174.49,291.38 176.53,289.22 C179.26,286.35 181.98,280.03 184.71,280.03 C186.75,280.03 188.79,284.00 190.84,286.16 C193.56,289.04 196.29,294.31 199.01,295.36 C203.78,297.19 208.55,298.05 213.32,298.42 C218.09,298.79 222.86,298.87 227.62,299.10" fill="none" stroke="#fff" stroke-width="0.95"/>
<text x="202.20" y="248.80" font-size="7.0" fill="#000" style="stroke-width:0.10px">Day 2</text>
<line x1="109.6" y1="304.20" x2="109.6" y2="351.90" stroke="#6e6e6e" stroke-width="0.8"/>
<g fill="none" stroke="#222" stroke-width="0.75"><ellipse cx="101.7" cy="294.50" rx="1.2" ry="1.45"/><ellipse cx="105.4" cy="297.90" rx="1.2" ry="1.45"/><line x1="105.6" y1="292.90" x2="101.4" y2="299.50"/></g>
<text x="107.30" y="307.20" font-size="7.0" text-anchor="end" fill="#333" style="stroke-width:0.10px">20</text>
<line x1="108.3" y1="304.70" x2="109.5" y2="304.70" stroke="#888" stroke-width="0.6"/>
<text x="107.30" y="330.80" font-size="7.0" text-anchor="end" fill="#333" style="stroke-width:0.10px">10</text>
<line x1="108.3" y1="328.30" x2="109.5" y2="328.30" stroke="#888" stroke-width="0.6"/>
<text x="107.30" y="354.40" font-size="7.0" text-anchor="end" fill="#333" style="stroke-width:0.10px">0</text>
<line x1="108.3" y1="351.90" x2="109.5" y2="351.90" stroke="#888" stroke-width="0.6"/>
<line x1="109.60" y1="351.90" x2="224.70" y2="351.90" stroke="#d0d0d0" stroke-width="0.6" stroke-dasharray="1.2,1"/>
<line x1="114.90" y1="356.60" x2="230.35" y2="356.60" stroke="#d0d0d0" stroke-width="0.6" stroke-dasharray="1.2,1"/>
<line x1="120.20" y1="361.30" x2="236.00" y2="361.30" stroke="#d0d0d0" stroke-width="0.6" stroke-dasharray="1.2,1"/>
<line x1="125.50" y1="366.00" x2="241.65" y2="366.00" stroke="#d0d0d0" stroke-width="0.6" stroke-dasharray="1.2,1"/>
<path d="M117.26,351.90 C118.49,349.26 119.71,348.58 120.94,343.98 C121.89,340.41 122.85,310.26 123.80,310.26 C124.55,310.26 125.30,310.41 126.05,310.67 C126.87,310.96 127.69,321.50 128.50,326.61 C129.52,333.00 130.55,343.19 131.57,345.01 C132.93,347.42 134.29,349.09 135.66,349.09 C137.70,349.09 139.74,347.19 141.79,346.03 C143.15,345.25 144.51,343.91 145.87,343.37 C149.62,341.90 153.37,340.51 157.12,340.51 C159.50,340.51 161.88,342.05 164.27,343.37 C166.31,344.50 168.36,347.56 170.40,348.68 C173.12,350.19 175.85,350.83 178.57,351.90 Z" fill="rgb(80,22,148)" fill-opacity="0.97"/>
<path d="M120.33,356.60 C122.03,352.74 123.73,350.79 125.44,345.01 C126.66,340.84 127.89,322.52 129.12,322.52 C129.93,322.52 130.75,325.49 131.57,328.66 C132.25,331.29 132.93,343.40 133.61,345.01 C134.97,348.21 136.34,349.85 137.70,350.12 C139.74,350.52 141.79,350.73 143.83,350.73 C147.92,350.73 152.01,350.39 156.09,350.12 C159.50,349.89 162.91,349.71 166.31,349.09 C168.36,348.72 170.40,345.41 172.44,345.41 C173.47,345.41 174.49,346.65 175.51,347.05 C177.89,347.97 180.28,349.09 182.66,349.09 C185.39,349.09 188.11,348.07 190.84,348.07 C192.20,348.07 193.56,350.58 194.92,351.14 C199.01,352.81 203.10,353.38 207.19,354.20 C211.96,355.16 216.72,355.80 221.49,356.60 Z" fill="rgb(114,46,180)" fill-opacity="0.85"/>
<path d="M120.33,356.60 C122.03,352.74 123.73,350.79 125.44,345.01 C126.66,340.84 127.89,322.52 129.12,322.52 C129.93,322.52 130.75,325.49 131.57,328.66 C132.25,331.29 132.93,343.40 133.61,345.01 C134.97,348.21 136.34,349.85 137.70,350.12 C139.74,350.52 141.79,350.73 143.83,350.73 C147.92,350.73 152.01,350.39 156.09,350.12 C159.50,349.89 162.91,349.71 166.31,349.09 C168.36,348.72 170.40,345.41 172.44,345.41 C173.47,345.41 174.49,346.65 175.51,347.05 C177.89,347.97 180.28,349.09 182.66,349.09 C185.39,349.09 188.11,348.07 190.84,348.07 C192.20,348.07 193.56,350.58 194.92,351.14 C199.01,352.81 203.10,353.38 207.19,354.20 C211.96,355.16 216.72,355.80 221.49,356.60" fill="none" stroke="#fff" stroke-width="0.95"/>
<path d="M128.50,361.30 C130.21,353.82 131.91,347.28 133.61,338.87 C134.84,332.82 136.06,318.44 137.29,318.44 C138.11,318.44 138.93,321.51 139.74,324.57 C140.42,327.11 141.11,335.53 141.79,338.87 C142.81,343.90 143.83,349.50 144.85,350.12 C147.24,351.54 149.62,351.59 152.01,352.16 C155.41,352.97 158.82,354.20 162.22,354.20 C164.95,354.20 167.67,352.77 170.40,352.77 C172.10,352.77 173.81,352.95 175.51,353.18 C177.21,353.41 178.92,355.04 180.62,355.63 C182.66,356.34 184.71,356.89 186.75,357.27 C190.84,358.02 194.92,358.69 199.01,358.90 C203.10,359.12 207.19,359.13 211.27,359.31 C219.45,359.68 227.62,360.64 235.80,361.30 Z" fill="rgb(158,96,212)" fill-opacity="0.75"/>
<path d="M128.50,361.30 C130.21,353.82 131.91,347.28 133.61,338.87 C134.84,332.82 136.06,318.44 137.29,318.44 C138.11,318.44 138.93,321.51 139.74,324.57 C140.42,327.11 141.11,335.53 141.79,338.87 C142.81,343.90 143.83,349.50 144.85,350.12 C147.24,351.54 149.62,351.59 152.01,352.16 C155.41,352.97 158.82,354.20 162.22,354.20 C164.95,354.20 167.67,352.77 170.40,352.77 C172.10,352.77 173.81,352.95 175.51,353.18 C177.21,353.41 178.92,355.04 180.62,355.63 C182.66,356.34 184.71,356.89 186.75,357.27 C190.84,358.02 194.92,358.69 199.01,358.90 C203.10,359.12 207.19,359.13 211.27,359.31 C219.45,359.68 227.62,360.64 235.80,361.30" fill="none" stroke="#fff" stroke-width="0.95"/>
<path d="M136.68,366.00 C138.38,361.05 140.08,357.06 141.79,351.14 C143.15,346.40 144.51,333.77 145.87,333.77 C146.69,333.77 147.51,338.90 148.33,341.94 C149.21,345.24 150.10,351.42 150.98,353.18 C152.69,356.56 154.39,358.79 156.09,359.31 C159.50,360.36 162.91,360.95 166.31,360.95 C169.72,360.95 173.12,360.67 176.53,360.33 C179.94,360.00 183.34,357.68 186.75,357.68 C188.79,357.68 190.84,361.36 192.88,361.36 C195.61,361.36 198.33,358.29 201.06,358.29 C203.78,358.29 206.51,358.29 209.23,358.29 C211.27,358.29 213.32,358.97 215.36,359.31 C219.45,359.99 223.54,360.41 227.62,361.36 C231.71,362.30 235.80,364.45 239.89,366.00 Z" fill="rgb(204,160,234)" fill-opacity="0.72"/>
<path d="M136.68,366.00 C138.38,361.05 140.08,357.06 141.79,351.14 C143.15,346.40 144.51,333.77 145.87,333.77 C146.69,333.77 147.51,338.90 148.33,341.94 C149.21,345.24 150.10,351.42 150.98,353.18 C152.69,356.56 154.39,358.79 156.09,359.31 C159.50,360.36 162.91,360.95 166.31,360.95 C169.72,360.95 173.12,360.67 176.53,360.33 C179.94,360.00 183.34,357.68 186.75,357.68 C188.79,357.68 190.84,361.36 192.88,361.36 C195.61,361.36 198.33,358.29 201.06,358.29 C203.78,358.29 206.51,358.29 209.23,358.29 C211.27,358.29 213.32,358.97 215.36,359.31 C219.45,359.99 223.54,360.41 227.62,361.36 C231.71,362.30 235.80,364.45 239.89,366.00" fill="none" stroke="#fff" stroke-width="0.95"/>
<text x="202.20" y="314.80" font-size="7.0" fill="#000" style="stroke-width:0.10px">Day 4</text>
<line x1="109.6" y1="372.90" x2="109.6" y2="420.10" stroke="#6e6e6e" stroke-width="0.8"/>
<g fill="none" stroke="#222" stroke-width="0.75"><ellipse cx="101.7" cy="362.80" rx="1.2" ry="1.45"/><ellipse cx="105.4" cy="366.20" rx="1.2" ry="1.45"/><line x1="105.6" y1="361.20" x2="101.4" y2="367.80"/></g>
<text x="107.30" y="375.90" font-size="7.0" text-anchor="end" fill="#333" style="stroke-width:0.10px">20</text>
<line x1="108.3" y1="373.40" x2="109.5" y2="373.40" stroke="#888" stroke-width="0.6"/>
<text x="107.30" y="399.25" font-size="7.0" text-anchor="end" fill="#333" style="stroke-width:0.10px">10</text>
<line x1="108.3" y1="396.75" x2="109.5" y2="396.75" stroke="#888" stroke-width="0.6"/>
<text x="107.30" y="422.60" font-size="7.0" text-anchor="end" fill="#333" style="stroke-width:0.10px">0</text>
<line x1="108.3" y1="420.10" x2="109.5" y2="420.10" stroke="#888" stroke-width="0.6"/>
<line x1="109.60" y1="420.10" x2="224.70" y2="420.10" stroke="#d0d0d0" stroke-width="0.6" stroke-dasharray="1.2,1"/>
<line x1="114.90" y1="424.80" x2="230.35" y2="424.80" stroke="#d0d0d0" stroke-width="0.6" stroke-dasharray="1.2,1"/>
<line x1="120.20" y1="429.50" x2="236.00" y2="429.50" stroke="#d0d0d0" stroke-width="0.6" stroke-dasharray="1.2,1"/>
<line x1="125.50" y1="434.20" x2="241.65" y2="434.20" stroke="#d0d0d0" stroke-width="0.6" stroke-dasharray="1.2,1"/>
<path d="M115.22,420.10 C116.58,417.74 117.94,416.56 119.31,413.01 C120.67,409.45 122.03,391.55 123.39,391.55 C124.42,391.55 125.44,397.01 126.46,400.74 C127.48,404.48 128.50,413.37 129.52,415.05 C130.55,416.73 131.57,418.12 132.59,418.12 C134.63,418.12 136.68,416.63 138.72,415.05 C140.42,413.73 142.13,408.36 143.83,406.87 C145.53,405.39 147.24,403.81 148.94,403.81 C150.30,403.81 151.67,404.42 153.03,404.42 C154.39,404.42 155.75,397.68 157.12,397.68 C158.82,397.68 160.52,401.72 162.22,403.81 C163.59,405.48 164.95,407.06 166.31,408.92 C167.67,410.78 169.04,413.69 170.40,415.05 C171.76,416.41 173.12,417.80 174.49,418.12 C178.57,419.06 182.66,419.55 186.75,419.55 C189.47,419.55 192.20,418.12 194.92,418.12 C196.97,418.12 199.01,418.12 201.06,418.12 C201.74,418.12 202.42,419.44 203.10,420.10 Z" fill="rgb(80,22,148)" fill-opacity="0.97"/>
<path d="M127.48,424.80 C128.84,418.82 130.21,414.39 131.57,406.87 C132.59,401.24 133.61,384.80 134.63,384.80 C135.32,384.80 136.00,386.52 136.68,388.89 C137.22,390.78 137.77,402.95 138.31,406.87 C139.13,412.76 139.95,419.13 140.77,419.55 C142.47,420.42 144.17,420.52 145.87,420.77 C148.60,421.17 151.32,421.59 154.05,421.59 C156.77,421.59 159.50,419.75 162.22,418.73 C164.95,417.71 167.67,417.25 170.40,415.46 C172.10,414.34 173.81,409.09 175.51,407.90 C176.19,407.42 176.87,406.87 177.55,406.87 C178.57,406.87 179.60,410.21 180.62,410.96 C182.32,412.21 184.02,412.56 185.73,413.41 C187.43,414.26 189.13,415.08 190.84,416.07 C192.88,417.26 194.92,419.61 196.97,420.16 C199.01,420.70 201.06,420.63 203.10,421.18 C204.46,421.55 205.82,423.49 207.19,423.63 C211.27,424.07 215.36,424.25 219.45,424.25 C220.81,424.25 222.17,423.54 223.54,423.43 C224.90,423.32 226.26,423.22 227.62,423.22 C228.31,423.22 228.99,424.27 229.67,424.80 Z" fill="rgb(114,46,180)" fill-opacity="0.85"/>
<path d="M127.48,424.80 C128.84,418.82 130.21,414.39 131.57,406.87 C132.59,401.24 133.61,384.80 134.63,384.80 C135.32,384.80 136.00,386.52 136.68,388.89 C137.22,390.78 137.77,402.95 138.31,406.87 C139.13,412.76 139.95,419.13 140.77,419.55 C142.47,420.42 144.17,420.52 145.87,420.77 C148.60,421.17 151.32,421.59 154.05,421.59 C156.77,421.59 159.50,419.75 162.22,418.73 C164.95,417.71 167.67,417.25 170.40,415.46 C172.10,414.34 173.81,409.09 175.51,407.90 C176.19,407.42 176.87,406.87 177.55,406.87 C178.57,406.87 179.60,410.21 180.62,410.96 C182.32,412.21 184.02,412.56 185.73,413.41 C187.43,414.26 189.13,415.08 190.84,416.07 C192.88,417.26 194.92,419.61 196.97,420.16 C199.01,420.70 201.06,420.63 203.10,421.18 C204.46,421.55 205.82,423.49 207.19,423.63 C211.27,424.07 215.36,424.25 219.45,424.25 C220.81,424.25 222.17,423.54 223.54,423.43 C224.90,423.32 226.26,423.22 227.62,423.22 C228.31,423.22 228.99,424.27 229.67,424.80" fill="none" stroke="#fff" stroke-width="0.95"/>
<path d="M127.48,429.50 C128.84,422.64 130.21,417.29 131.57,408.92 C132.73,401.80 133.88,381.94 135.04,381.94 C135.93,381.94 136.81,386.27 137.70,390.52 C138.52,394.46 139.33,408.25 140.15,413.01 C141.04,418.16 141.92,423.54 142.81,424.25 C144.51,425.61 146.22,426.10 147.92,426.29 C151.32,426.68 154.73,426.90 158.14,426.90 C160.18,426.90 162.22,425.27 164.27,425.27 C166.99,425.27 169.72,427.31 172.44,427.31 C175.17,427.31 177.89,425.68 180.62,425.68 C182.66,425.68 184.71,426.90 186.75,426.90 C189.47,426.90 192.20,426.29 194.92,426.29 C196.97,426.29 199.01,427.43 201.06,427.72 C203.10,428.01 205.14,428.16 207.19,428.33 C209.91,428.57 212.64,428.75 215.36,428.95 C218.09,429.14 220.81,429.32 223.54,429.50 Z" fill="rgb(158,96,212)" fill-opacity="0.75"/>
<path d="M127.48,429.50 C128.84,422.64 130.21,417.29 131.57,408.92 C132.73,401.80 133.88,381.94 135.04,381.94 C135.93,381.94 136.81,386.27 137.70,390.52 C138.52,394.46 139.33,408.25 140.15,413.01 C141.04,418.16 141.92,423.54 142.81,424.25 C144.51,425.61 146.22,426.10 147.92,426.29 C151.32,426.68 154.73,426.90 158.14,426.90 C160.18,426.90 162.22,425.27 164.27,425.27 C166.99,425.27 169.72,427.31 172.44,427.31 C175.17,427.31 177.89,425.68 180.62,425.68 C182.66,425.68 184.71,426.90 186.75,426.90 C189.47,426.90 192.20,426.29 194.92,426.29 C196.97,426.29 199.01,427.43 201.06,427.72 C203.10,428.01 205.14,428.16 207.19,428.33 C209.91,428.57 212.64,428.75 215.36,428.95 C218.09,429.14 220.81,429.32 223.54,429.50" fill="none" stroke="#fff" stroke-width="0.95"/>
<path d="M139.74,434.20 C141.11,429.32 142.47,425.99 143.83,419.55 C144.85,414.71 145.87,399.11 146.90,399.11 C147.58,399.11 148.26,406.18 148.94,409.94 C149.83,414.82 150.71,423.78 151.60,425.27 C153.10,427.78 154.59,429.05 156.09,429.36 C159.50,430.04 162.91,429.98 166.31,430.38 C169.72,430.78 173.12,431.81 176.53,431.81 C177.89,431.81 179.26,431.81 180.62,431.81 C184.02,431.81 187.43,430.19 190.84,429.36 C193.56,428.69 196.29,427.31 199.01,427.31 C201.06,427.31 203.10,428.33 205.14,428.33 C206.51,428.33 207.87,424.99 209.23,423.22 C210.25,421.90 211.27,419.14 212.30,419.14 C213.32,419.14 214.34,423.68 215.36,425.27 C216.72,427.39 218.09,429.76 219.45,430.38 C222.17,431.60 224.90,432.42 227.62,432.42 C230.35,432.42 233.07,432.42 235.80,432.42 C237.50,432.42 239.21,430.99 240.91,430.99 C241.25,430.99 241.59,433.13 241.93,434.20 Z" fill="rgb(204,160,234)" fill-opacity="0.72"/>
<path d="M139.74,434.20 C141.11,429.32 142.47,425.99 143.83,419.55 C144.85,414.71 145.87,399.11 146.90,399.11 C147.58,399.11 148.26,406.18 148.94,409.94 C149.83,414.82 150.71,423.78 151.60,425.27 C153.10,427.78 154.59,429.05 156.09,429.36 C159.50,430.04 162.91,429.98 166.31,430.38 C169.72,430.78 173.12,431.81 176.53,431.81 C177.89,431.81 179.26,431.81 180.62,431.81 C184.02,431.81 187.43,430.19 190.84,429.36 C193.56,428.69 196.29,427.31 199.01,427.31 C201.06,427.31 203.10,428.33 205.14,428.33 C206.51,428.33 207.87,424.99 209.23,423.22 C210.25,421.90 211.27,419.14 212.30,419.14 C213.32,419.14 214.34,423.68 215.36,425.27 C216.72,427.39 218.09,429.76 219.45,430.38 C222.17,431.60 224.90,432.42 227.62,432.42 C230.35,432.42 233.07,432.42 235.80,432.42 C237.50,432.42 239.21,430.99 240.91,430.99 C241.25,430.99 241.59,433.13 241.93,434.20" fill="none" stroke="#fff" stroke-width="0.95"/>
<text x="202.20" y="381.20" font-size="7.0" fill="#000" style="stroke-width:0.10px">Day 6</text>
<line x1="109.6" y1="441.20" x2="109.6" y2="488.50" stroke="#6e6e6e" stroke-width="0.8"/>
<g fill="none" stroke="#222" stroke-width="0.75"><ellipse cx="101.7" cy="431.50" rx="1.2" ry="1.45"/><ellipse cx="105.4" cy="434.90" rx="1.2" ry="1.45"/><line x1="105.6" y1="429.90" x2="101.4" y2="436.50"/></g>
<text x="107.30" y="444.20" font-size="7.0" text-anchor="end" fill="#333" style="stroke-width:0.10px">20</text>
<line x1="108.3" y1="441.70" x2="109.5" y2="441.70" stroke="#888" stroke-width="0.6"/>
<text x="107.30" y="467.60" font-size="7.0" text-anchor="end" fill="#333" style="stroke-width:0.10px">10</text>
<line x1="108.3" y1="465.10" x2="109.5" y2="465.10" stroke="#888" stroke-width="0.6"/>
<text x="107.30" y="491.00" font-size="7.0" text-anchor="end" fill="#333" style="stroke-width:0.10px">0</text>
<line x1="108.3" y1="488.50" x2="109.5" y2="488.50" stroke="#888" stroke-width="0.6"/>
<line x1="109.60" y1="488.50" x2="224.70" y2="488.50" stroke="#d0d0d0" stroke-width="0.6" stroke-dasharray="1.2,1"/>
<line x1="114.90" y1="493.20" x2="230.35" y2="493.20" stroke="#d0d0d0" stroke-width="0.6" stroke-dasharray="1.2,1"/>
<line x1="120.20" y1="497.90" x2="236.00" y2="497.90" stroke="#d0d0d0" stroke-width="0.6" stroke-dasharray="1.2,1"/>
<line x1="125.50" y1="502.60" x2="241.65" y2="502.60" stroke="#d0d0d0" stroke-width="0.6" stroke-dasharray="1.2,1"/>
<path d="M116.24,488.50 C117.60,486.68 118.97,484.96 120.33,483.05 C121.35,481.62 122.37,478.55 123.39,478.55 C124.42,478.55 125.44,481.31 126.46,482.03 C127.82,482.99 129.18,484.07 130.55,484.07 C131.57,484.07 132.59,477.79 133.61,476.92 C134.97,475.76 136.34,475.77 137.70,474.87 C139.61,473.63 141.51,469.15 143.42,469.15 C144.58,469.15 145.74,473.85 146.90,473.85 C147.92,473.85 148.94,469.52 149.96,466.70 C151.12,463.50 152.28,454.85 153.44,454.85 C154.32,454.85 155.21,461.19 156.09,464.66 C156.91,467.86 157.73,472.46 158.55,474.87 C160.45,480.51 162.36,485.35 164.27,487.14 C164.95,487.78 165.63,488.05 166.31,488.50 Z" fill="rgb(80,22,148)" fill-opacity="0.97"/>
<path d="M125.44,493.20 C126.46,490.63 127.48,485.50 128.50,485.50 C129.52,485.50 130.55,486.69 131.57,487.55 C132.93,488.68 134.29,492.25 135.66,492.25 C138.04,492.25 140.42,490.67 142.81,489.18 C145.19,487.69 147.58,484.21 149.96,481.01 C151.67,478.71 153.37,475.94 155.07,472.83 C156.43,470.34 157.80,464.25 159.16,464.25 C160.52,464.25 161.88,472.42 163.25,472.42 C164.47,472.42 165.70,468.74 166.93,468.74 C167.95,468.74 168.97,468.89 169.99,469.15 C170.94,469.40 171.90,474.93 172.85,476.92 C174.08,479.48 175.30,481.65 176.53,483.05 C178.57,485.39 180.62,487.36 182.66,488.16 C186.07,489.49 189.47,489.96 192.88,490.61 C196.29,491.27 199.69,491.79 203.10,492.25 C205.82,492.61 208.55,492.88 211.27,493.20 Z" fill="rgb(114,46,180)" fill-opacity="0.85"/>
<path d="M125.44,493.20 C126.46,490.63 127.48,485.50 128.50,485.50 C129.52,485.50 130.55,486.69 131.57,487.55 C132.93,488.68 134.29,492.25 135.66,492.25 C138.04,492.25 140.42,490.67 142.81,489.18 C145.19,487.69 147.58,484.21 149.96,481.01 C151.67,478.71 153.37,475.94 155.07,472.83 C156.43,470.34 157.80,464.25 159.16,464.25 C160.52,464.25 161.88,472.42 163.25,472.42 C164.47,472.42 165.70,468.74 166.93,468.74 C167.95,468.74 168.97,468.89 169.99,469.15 C170.94,469.40 171.90,474.93 172.85,476.92 C174.08,479.48 175.30,481.65 176.53,483.05 C178.57,485.39 180.62,487.36 182.66,488.16 C186.07,489.49 189.47,489.96 192.88,490.61 C196.29,491.27 199.69,491.79 203.10,492.25 C205.82,492.61 208.55,492.88 211.27,493.20" fill="none" stroke="#fff" stroke-width="0.95"/>
<path d="M127.48,497.90 C128.84,496.36 130.21,495.48 131.57,493.27 C132.59,491.61 133.61,485.09 134.63,485.09 C135.66,485.09 136.68,489.37 137.70,491.22 C138.72,493.08 139.74,496.33 140.77,496.33 C143.83,496.33 146.90,495.67 149.96,495.31 C152.69,494.99 155.41,494.92 158.14,494.29 C159.50,493.97 160.86,492.71 162.22,491.22 C163.59,489.74 164.95,485.39 166.31,483.05 C167.67,480.71 169.04,478.74 170.40,476.92 C172.10,474.64 173.81,470.79 175.51,470.79 C176.53,470.79 177.55,473.06 178.57,474.87 C179.60,476.69 180.62,481.73 181.64,483.05 C183.34,485.24 185.05,486.07 186.75,487.14 C189.47,488.84 192.20,489.86 194.92,491.22 C197.65,492.59 200.37,494.26 203.10,495.31 C205.82,496.37 208.55,497.04 211.27,497.90 Z" fill="rgb(158,96,212)" fill-opacity="0.75"/>
<path d="M127.48,497.90 C128.84,496.36 130.21,495.48 131.57,493.27 C132.59,491.61 133.61,485.09 134.63,485.09 C135.66,485.09 136.68,489.37 137.70,491.22 C138.72,493.08 139.74,496.33 140.77,496.33 C143.83,496.33 146.90,495.67 149.96,495.31 C152.69,494.99 155.41,494.92 158.14,494.29 C159.50,493.97 160.86,492.71 162.22,491.22 C163.59,489.74 164.95,485.39 166.31,483.05 C167.67,480.71 169.04,478.74 170.40,476.92 C172.10,474.64 173.81,470.79 175.51,470.79 C176.53,470.79 177.55,473.06 178.57,474.87 C179.60,476.69 180.62,481.73 181.64,483.05 C183.34,485.24 185.05,486.07 186.75,487.14 C189.47,488.84 192.20,489.86 194.92,491.22 C197.65,492.59 200.37,494.26 203.10,495.31 C205.82,496.37 208.55,497.04 211.27,497.90" fill="none" stroke="#fff" stroke-width="0.95"/>
<path d="M143.83,502.60 C146.56,501.53 149.28,500.44 152.01,499.40 C154.73,498.36 157.46,496.33 160.18,496.33 C161.54,496.33 162.91,498.99 164.27,498.99 C165.63,498.99 166.99,493.88 168.36,491.22 C169.72,488.57 171.08,486.20 172.44,483.05 C173.81,479.89 175.17,474.22 176.53,471.81 C177.55,470.00 178.57,467.72 179.60,467.72 C180.62,467.72 181.64,472.67 182.66,474.87 C184.02,477.82 185.39,480.99 186.75,483.05 C188.45,485.63 190.16,486.60 191.86,489.18 C193.22,491.24 194.58,495.20 195.95,497.36 C196.97,498.98 197.99,501.44 199.01,501.44 C204.46,501.44 209.91,501.44 215.36,501.44 C216.72,501.44 218.09,499.91 219.45,499.40 C221.83,498.51 224.22,497.36 226.60,497.36 C228.31,497.36 230.01,500.85 231.71,502.60 Z" fill="rgb(204,160,234)" fill-opacity="0.72"/>
<path d="M143.83,502.60 C146.56,501.53 149.28,500.44 152.01,499.40 C154.73,498.36 157.46,496.33 160.18,496.33 C161.54,496.33 162.91,498.99 164.27,498.99 C165.63,498.99 166.99,493.88 168.36,491.22 C169.72,488.57 171.08,486.20 172.44,483.05 C173.81,479.89 175.17,474.22 176.53,471.81 C177.55,470.00 178.57,467.72 179.60,467.72 C180.62,467.72 181.64,472.67 182.66,474.87 C184.02,477.82 185.39,480.99 186.75,483.05 C188.45,485.63 190.16,486.60 191.86,489.18 C193.22,491.24 194.58,495.20 195.95,497.36 C196.97,498.98 197.99,501.44 199.01,501.44 C204.46,501.44 209.91,501.44 215.36,501.44 C216.72,501.44 218.09,499.91 219.45,499.40 C221.83,498.51 224.22,497.36 226.60,497.36 C228.31,497.36 230.01,500.85 231.71,502.60" fill="none" stroke="#fff" stroke-width="0.95"/>
<text x="202.20" y="447.10" font-size="7.0" fill="#000" style="stroke-width:0.10px">Day 8</text>
<line x1="109.6" y1="512.10" x2="109.6" y2="559.40" stroke="#6e6e6e" stroke-width="0.8"/>
<g fill="none" stroke="#222" stroke-width="0.75"><ellipse cx="101.7" cy="499.90" rx="1.2" ry="1.45"/><ellipse cx="105.4" cy="503.30" rx="1.2" ry="1.45"/><line x1="105.6" y1="498.30" x2="101.4" y2="504.90"/></g>
<text x="107.30" y="515.70" font-size="7.0" text-anchor="end" fill="#333" style="stroke-width:0.10px">20</text>
<line x1="108.3" y1="513.20" x2="109.5" y2="513.20" stroke="#888" stroke-width="0.6"/>
<text x="107.30" y="538.80" font-size="7.0" text-anchor="end" fill="#333" style="stroke-width:0.10px">10</text>
<line x1="108.3" y1="536.30" x2="109.5" y2="536.30" stroke="#888" stroke-width="0.6"/>
<text x="107.30" y="561.90" font-size="7.0" text-anchor="end" fill="#333" style="stroke-width:0.10px">0</text>
<line x1="108.3" y1="559.40" x2="109.5" y2="559.40" stroke="#888" stroke-width="0.6"/>
<line x1="109.60" y1="559.40" x2="224.70" y2="559.40" stroke="#d0d0d0" stroke-width="0.6" stroke-dasharray="1.2,1"/>
<line x1="114.90" y1="564.10" x2="230.35" y2="564.10" stroke="#d0d0d0" stroke-width="0.6" stroke-dasharray="1.2,1"/>
<line x1="120.20" y1="568.80" x2="236.00" y2="568.80" stroke="#d0d0d0" stroke-width="0.6" stroke-dasharray="1.2,1"/>
<line x1="125.50" y1="573.50" x2="241.65" y2="573.50" stroke="#d0d0d0" stroke-width="0.6" stroke-dasharray="1.2,1"/>
<path d="M114.20,559.40 C115.90,557.28 117.60,555.67 119.31,553.03 C120.67,550.92 122.03,544.85 123.39,544.85 C124.76,544.85 126.12,551.24 127.48,553.03 C128.50,554.37 129.52,556.09 130.55,556.09 C132.25,556.09 133.95,549.99 135.66,545.87 C137.02,542.58 138.38,536.73 139.74,533.61 C141.11,530.49 142.47,526.05 143.83,526.05 C144.85,526.05 145.87,527.32 146.90,528.50 C148.26,530.08 149.62,534.20 150.98,537.70 C152.35,541.20 153.71,547.59 155.07,549.96 C156.77,552.93 158.48,555.06 160.18,556.09 C162.22,557.34 164.27,558.36 166.31,558.55 C173.12,559.15 179.94,559.12 186.75,559.40 Z" fill="rgb(80,22,148)" fill-opacity="0.97"/>
<path d="M124.42,564.10 C126.12,560.75 127.82,557.71 129.52,554.05 C130.55,551.85 131.57,546.90 132.59,546.90 C133.61,546.90 134.63,547.91 135.66,548.94 C137.02,550.32 138.38,557.86 139.74,558.55 C141.79,559.58 143.83,560.18 145.87,560.18 C147.58,560.18 149.28,557.87 150.98,556.09 C153.37,553.61 155.75,546.82 158.14,544.85 C160.18,543.17 162.22,541.38 164.27,541.38 C165.63,541.38 166.99,541.54 168.36,541.79 C170.40,542.15 172.44,548.90 174.49,552.01 C176.19,554.59 177.89,558.32 179.60,559.16 C181.98,560.33 184.37,560.69 186.75,561.20 C190.84,562.08 194.92,562.73 199.01,563.25 C201.74,563.59 204.46,563.82 207.19,564.10 Z" fill="rgb(114,46,180)" fill-opacity="0.85"/>
<path d="M124.42,564.10 C126.12,560.75 127.82,557.71 129.52,554.05 C130.55,551.85 131.57,546.90 132.59,546.90 C133.61,546.90 134.63,547.91 135.66,548.94 C137.02,550.32 138.38,557.86 139.74,558.55 C141.79,559.58 143.83,560.18 145.87,560.18 C147.58,560.18 149.28,557.87 150.98,556.09 C153.37,553.61 155.75,546.82 158.14,544.85 C160.18,543.17 162.22,541.38 164.27,541.38 C165.63,541.38 166.99,541.54 168.36,541.79 C170.40,542.15 172.44,548.90 174.49,552.01 C176.19,554.59 177.89,558.32 179.60,559.16 C181.98,560.33 184.37,560.69 186.75,561.20 C190.84,562.08 194.92,562.73 199.01,563.25 C201.74,563.59 204.46,563.82 207.19,564.10" fill="none" stroke="#fff" stroke-width="0.95"/>
<path d="M125.44,568.80 C127.14,566.61 128.84,564.76 130.55,562.22 C131.91,560.19 133.27,555.07 134.63,555.07 C136.00,555.07 137.36,564.27 138.72,564.27 C140.08,564.27 141.45,555.07 142.81,555.07 C144.17,555.07 145.53,556.30 146.90,557.12 C148.26,557.93 149.62,560.18 150.98,560.18 C153.37,560.18 155.75,555.03 158.14,552.01 C160.52,548.98 162.91,541.79 165.29,541.79 C166.99,541.79 168.70,542.70 170.40,543.83 C172.10,544.97 173.81,550.82 175.51,554.05 C177.21,557.28 178.92,562.71 180.62,563.25 C182.66,563.89 184.71,564.27 186.75,564.27 C189.47,564.27 192.20,563.25 194.92,563.25 C196.97,563.25 199.01,564.61 201.06,565.29 C203.10,565.97 205.14,566.85 207.19,567.33 C209.91,567.98 212.64,568.31 215.36,568.80 Z" fill="rgb(158,96,212)" fill-opacity="0.75"/>
<path d="M125.44,568.80 C127.14,566.61 128.84,564.76 130.55,562.22 C131.91,560.19 133.27,555.07 134.63,555.07 C136.00,555.07 137.36,564.27 138.72,564.27 C140.08,564.27 141.45,555.07 142.81,555.07 C144.17,555.07 145.53,556.30 146.90,557.12 C148.26,557.93 149.62,560.18 150.98,560.18 C153.37,560.18 155.75,555.03 158.14,552.01 C160.52,548.98 162.91,541.79 165.29,541.79 C166.99,541.79 168.70,542.70 170.40,543.83 C172.10,544.97 173.81,550.82 175.51,554.05 C177.21,557.28 178.92,562.71 180.62,563.25 C182.66,563.89 184.71,564.27 186.75,564.27 C189.47,564.27 192.20,563.25 194.92,563.25 C196.97,563.25 199.01,564.61 201.06,565.29 C203.10,565.97 205.14,566.85 207.19,567.33 C209.91,567.98 212.64,568.31 215.36,568.80" fill="none" stroke="#fff" stroke-width="0.95"/>
<path d="M134.63,573.50 C136.00,571.79 137.36,569.20 138.72,568.36 C140.42,567.30 142.13,566.31 143.83,566.31 C145.19,566.31 146.56,567.48 147.92,568.36 C149.28,569.23 150.64,571.86 152.01,572.03 C154.05,572.30 156.09,572.44 158.14,572.44 C162.91,572.44 167.67,571.79 172.44,570.40 C174.15,569.90 175.85,567.07 177.55,564.27 C178.92,562.03 180.28,558.47 181.64,554.05 C182.53,551.17 183.41,542.40 184.30,542.40 C185.11,542.40 185.93,545.99 186.75,547.92 C188.11,551.13 189.47,555.72 190.84,558.14 C192.88,561.77 194.92,565.06 196.97,566.31 C201.74,569.22 206.51,570.59 211.27,571.42 C215.36,572.13 219.45,572.55 223.54,572.85 C227.62,573.15 231.71,573.28 235.80,573.50 Z" fill="rgb(204,160,234)" fill-opacity="0.72"/>
<path d="M134.63,573.50 C136.00,571.79 137.36,569.20 138.72,568.36 C140.42,567.30 142.13,566.31 143.83,566.31 C145.19,566.31 146.56,567.48 147.92,568.36 C149.28,569.23 150.64,571.86 152.01,572.03 C154.05,572.30 156.09,572.44 158.14,572.44 C162.91,572.44 167.67,571.79 172.44,570.40 C174.15,569.90 175.85,567.07 177.55,564.27 C178.92,562.03 180.28,558.47 181.64,554.05 C182.53,551.17 183.41,542.40 184.30,542.40 C185.11,542.40 185.93,545.99 186.75,547.92 C188.11,551.13 189.47,555.72 190.84,558.14 C192.88,561.77 194.92,565.06 196.97,566.31 C201.74,569.22 206.51,570.59 211.27,571.42 C215.36,572.13 219.45,572.55 223.54,572.85 C227.62,573.15 231.71,573.28 235.80,573.50" fill="none" stroke="#fff" stroke-width="0.95"/>
<text x="202.20" y="517.30" font-size="7.0" fill="#000" style="stroke-width:0.10px">Day 10</text>
<line x1="109.6" y1="580.80" x2="109.6" y2="628.10" stroke="#6e6e6e" stroke-width="0.8"/>
<g fill="none" stroke="#222" stroke-width="0.75"><ellipse cx="101.7" cy="568.70" rx="1.2" ry="1.45"/><ellipse cx="105.4" cy="572.10" rx="1.2" ry="1.45"/><line x1="105.6" y1="567.10" x2="101.4" y2="573.70"/></g>
<text x="107.30" y="583.80" font-size="7.0" text-anchor="end" fill="#333" style="stroke-width:0.10px">20</text>
<line x1="108.3" y1="581.30" x2="109.5" y2="581.30" stroke="#888" stroke-width="0.6"/>
<text x="107.30" y="607.20" font-size="7.0" text-anchor="end" fill="#333" style="stroke-width:0.10px">10</text>
<line x1="108.3" y1="604.70" x2="109.5" y2="604.70" stroke="#888" stroke-width="0.6"/>
<text x="107.30" y="630.60" font-size="7.0" text-anchor="end" fill="#333" style="stroke-width:0.10px">0</text>
<line x1="108.3" y1="628.10" x2="109.5" y2="628.10" stroke="#888" stroke-width="0.6"/>
<line x1="109.60" y1="628.10" x2="224.70" y2="628.10" stroke="#d0d0d0" stroke-width="0.6" stroke-dasharray="1.2,1"/>
<line x1="114.90" y1="632.80" x2="230.35" y2="632.80" stroke="#d0d0d0" stroke-width="0.6" stroke-dasharray="1.2,1"/>
<line x1="120.20" y1="637.50" x2="236.00" y2="637.50" stroke="#d0d0d0" stroke-width="0.6" stroke-dasharray="1.2,1"/>
<line x1="125.50" y1="642.20" x2="241.65" y2="642.20" stroke="#d0d0d0" stroke-width="0.6" stroke-dasharray="1.2,1"/>
<path d="M114.20,628.10 C115.90,626.28 117.60,624.09 119.31,622.64 C120.53,621.60 121.76,619.98 122.98,619.98 C124.14,619.98 125.30,620.94 126.46,621.41 C127.82,621.97 129.18,623.05 130.55,623.05 C131.57,623.05 132.59,622.64 133.61,622.03 C134.63,621.41 135.66,615.90 136.68,612.83 C138.04,608.74 139.40,603.21 140.77,600.57 C142.47,597.27 144.17,593.42 145.87,593.42 C146.90,593.42 147.92,594.92 148.94,596.48 C149.83,597.83 150.71,601.51 151.60,604.66 C152.41,607.56 153.23,612.27 154.05,614.87 C155.41,619.22 156.77,624.14 158.14,625.09 C160.86,627.00 163.59,627.10 166.31,628.10 Z" fill="rgb(80,22,148)" fill-opacity="0.97"/>
<path d="M123.39,632.80 C124.76,630.57 126.12,627.38 127.48,626.12 C128.50,625.17 129.52,624.07 130.55,624.07 C131.91,624.07 133.27,626.12 134.63,627.14 C136.00,628.16 137.36,630.20 138.72,630.20 C140.42,630.20 142.13,628.85 143.83,627.55 C145.19,626.51 146.56,624.73 147.92,622.03 C149.28,619.32 150.64,609.32 152.01,606.70 C153.03,604.73 154.05,602.61 155.07,602.61 C156.09,602.61 157.12,603.66 158.14,604.66 C159.50,605.99 160.86,610.62 162.22,612.83 C164.27,616.15 166.31,619.19 168.36,621.01 C170.40,622.82 172.44,623.92 174.49,625.09 C177.21,626.66 179.94,628.29 182.66,629.18 C186.07,630.30 189.47,631.11 192.88,631.63 C196.29,632.16 199.69,632.41 203.10,632.80 Z" fill="rgb(114,46,180)" fill-opacity="0.85"/>
<path d="M123.39,632.80 C124.76,630.57 126.12,627.38 127.48,626.12 C128.50,625.17 129.52,624.07 130.55,624.07 C131.91,624.07 133.27,626.12 134.63,627.14 C136.00,628.16 137.36,630.20 138.72,630.20 C140.42,630.20 142.13,628.85 143.83,627.55 C145.19,626.51 146.56,624.73 147.92,622.03 C149.28,619.32 150.64,609.32 152.01,606.70 C153.03,604.73 154.05,602.61 155.07,602.61 C156.09,602.61 157.12,603.66 158.14,604.66 C159.50,605.99 160.86,610.62 162.22,612.83 C164.27,616.15 166.31,619.19 168.36,621.01 C170.40,622.82 172.44,623.92 174.49,625.09 C177.21,626.66 179.94,628.29 182.66,629.18 C186.07,630.30 189.47,631.11 192.88,631.63 C196.29,632.16 199.69,632.41 203.10,632.80" fill="none" stroke="#fff" stroke-width="0.95"/>
<path d="M125.44,637.50 C127.48,636.09 129.52,633.27 131.57,633.27 C133.61,633.27 135.66,633.27 137.70,633.27 C138.72,633.27 139.74,634.75 140.77,634.90 C142.47,635.16 144.17,635.31 145.87,635.31 C147.24,635.31 148.60,633.58 149.96,632.25 C152.01,630.25 154.05,627.10 156.09,623.05 C157.46,620.35 158.82,613.95 160.18,611.81 C161.75,609.34 163.31,606.70 164.88,606.70 C166.38,606.70 167.88,612.32 169.38,614.87 C171.08,617.78 172.78,620.94 174.49,623.05 C176.53,625.58 178.57,627.82 180.62,629.18 C182.66,630.54 184.71,631.46 186.75,632.25 C190.16,633.55 193.56,634.73 196.97,635.31 C201.74,636.12 206.51,636.55 211.27,636.95 C214.00,637.17 216.72,637.32 219.45,637.50 Z" fill="rgb(158,96,212)" fill-opacity="0.75"/>
<path d="M125.44,637.50 C127.48,636.09 129.52,633.27 131.57,633.27 C133.61,633.27 135.66,633.27 137.70,633.27 C138.72,633.27 139.74,634.75 140.77,634.90 C142.47,635.16 144.17,635.31 145.87,635.31 C147.24,635.31 148.60,633.58 149.96,632.25 C152.01,630.25 154.05,627.10 156.09,623.05 C157.46,620.35 158.82,613.95 160.18,611.81 C161.75,609.34 163.31,606.70 164.88,606.70 C166.38,606.70 167.88,612.32 169.38,614.87 C171.08,617.78 172.78,620.94 174.49,623.05 C176.53,625.58 178.57,627.82 180.62,629.18 C182.66,630.54 184.71,631.46 186.75,632.25 C190.16,633.55 193.56,634.73 196.97,635.31 C201.74,636.12 206.51,636.55 211.27,636.95 C214.00,637.17 216.72,637.32 219.45,637.50" fill="none" stroke="#fff" stroke-width="0.95"/>
<path d="M134.63,642.20 C136.34,639.90 138.04,635.31 139.74,635.31 C140.77,635.31 141.79,635.82 142.81,636.33 C143.83,636.84 144.85,638.71 145.87,639.40 C147.24,640.32 148.60,641.44 149.96,641.44 C153.37,641.44 156.77,641.44 160.18,641.44 C162.22,641.44 164.27,634.94 166.31,631.22 C168.36,627.51 170.40,622.23 172.44,618.96 C174.49,615.69 176.53,610.79 178.57,610.79 C179.60,610.79 180.62,612.46 181.64,613.85 C183.00,615.71 184.37,620.49 185.73,623.05 C187.43,626.25 189.13,629.13 190.84,631.22 C192.54,633.32 194.24,635.55 195.95,636.33 C199.69,638.06 203.44,638.62 207.19,639.40 C211.27,640.25 215.36,641.08 219.45,641.44 C223.54,641.81 227.62,641.95 231.71,642.20 Z" fill="rgb(204,160,234)" fill-opacity="0.72"/>
<path d="M134.63,642.20 C136.34,639.90 138.04,635.31 139.74,635.31 C140.77,635.31 141.79,635.82 142.81,636.33 C143.83,636.84 144.85,638.71 145.87,639.40 C147.24,640.32 148.60,641.44 149.96,641.44 C153.37,641.44 156.77,641.44 160.18,641.44 C162.22,641.44 164.27,634.94 166.31,631.22 C168.36,627.51 170.40,622.23 172.44,618.96 C174.49,615.69 176.53,610.79 178.57,610.79 C179.60,610.79 180.62,612.46 181.64,613.85 C183.00,615.71 184.37,620.49 185.73,623.05 C187.43,626.25 189.13,629.13 190.84,631.22 C192.54,633.32 194.24,635.55 195.95,636.33 C199.69,638.06 203.44,638.62 207.19,639.40 C211.27,640.25 215.36,641.08 219.45,641.44 C223.54,641.81 227.62,641.95 231.71,642.20" fill="none" stroke="#fff" stroke-width="0.95"/>
<text x="202.20" y="588.10" font-size="7.0" fill="#000" style="stroke-width:0.10px">Day 12</text>
<line x1="109.6" y1="649.30" x2="109.6" y2="696.50" stroke="#6e6e6e" stroke-width="0.8"/>
<g fill="none" stroke="#222" stroke-width="0.75"><ellipse cx="101.7" cy="637.80" rx="1.2" ry="1.45"/><ellipse cx="105.4" cy="641.20" rx="1.2" ry="1.45"/><line x1="105.6" y1="636.20" x2="101.4" y2="642.80"/></g>
<text x="107.30" y="652.30" font-size="7.0" text-anchor="end" fill="#333" style="stroke-width:0.10px">20</text>
<line x1="108.3" y1="649.80" x2="109.5" y2="649.80" stroke="#888" stroke-width="0.6"/>
<text x="107.30" y="675.65" font-size="7.0" text-anchor="end" fill="#333" style="stroke-width:0.10px">10</text>
<line x1="108.3" y1="673.15" x2="109.5" y2="673.15" stroke="#888" stroke-width="0.6"/>
<text x="107.30" y="699.00" font-size="7.0" text-anchor="end" fill="#333" style="stroke-width:0.10px">0</text>
<line x1="108.3" y1="696.50" x2="109.5" y2="696.50" stroke="#888" stroke-width="0.6"/>
<line x1="109.60" y1="696.50" x2="224.70" y2="696.50" stroke="#d0d0d0" stroke-width="0.6" stroke-dasharray="1.2,1"/>
<line x1="114.90" y1="701.20" x2="230.35" y2="701.20" stroke="#d0d0d0" stroke-width="0.6" stroke-dasharray="1.2,1"/>
<line x1="120.20" y1="705.90" x2="236.00" y2="705.90" stroke="#d0d0d0" stroke-width="0.6" stroke-dasharray="1.2,1"/>
<line x1="125.50" y1="710.60" x2="241.65" y2="710.60" stroke="#d0d0d0" stroke-width="0.6" stroke-dasharray="1.2,1"/>
<path d="M114.20,696.50 C115.22,694.34 116.24,692.37 117.26,690.03 C118.08,688.15 118.90,683.90 119.71,683.90 C120.60,683.90 121.49,687.64 122.37,689.01 C123.73,691.10 125.10,694.12 126.46,694.12 C127.82,694.12 129.18,694.12 130.55,694.12 C132.25,694.12 133.95,690.63 135.66,687.98 C137.36,685.34 139.06,680.16 140.77,676.74 C142.81,672.64 144.85,665.50 146.90,665.50 C148.26,665.50 149.62,666.34 150.98,667.55 C152.01,668.45 153.03,673.68 154.05,676.74 C155.41,680.83 156.77,686.89 158.14,689.01 C160.18,692.18 162.22,694.39 164.27,695.14 C166.31,695.88 168.36,696.05 170.40,696.50 Z" fill="rgb(80,22,148)" fill-opacity="0.97"/>
<path d="M124.42,701.20 C125.78,698.63 127.14,693.95 128.50,693.50 C129.18,693.28 129.87,693.09 130.55,693.09 C131.57,693.09 132.59,695.69 133.61,696.16 C135.32,696.94 137.02,697.59 138.72,697.59 C140.42,697.59 142.13,695.29 143.83,693.09 C145.53,690.90 147.24,684.78 148.94,680.83 C150.30,677.67 151.67,671.63 153.03,671.63 C154.05,671.63 155.07,673.49 156.09,674.70 C157.46,676.32 158.82,679.47 160.18,680.83 C161.54,682.19 162.91,682.73 164.27,683.90 C165.63,685.06 166.99,686.62 168.36,687.98 C170.40,690.03 172.44,692.98 174.49,694.12 C177.21,695.63 179.94,696.38 182.66,697.18 C186.07,698.19 189.47,699.00 192.88,699.63 C196.29,700.27 199.69,700.68 203.10,701.20 Z" fill="rgb(114,46,180)" fill-opacity="0.85"/>
<path d="M124.42,701.20 C125.78,698.63 127.14,693.95 128.50,693.50 C129.18,693.28 129.87,693.09 130.55,693.09 C131.57,693.09 132.59,695.69 133.61,696.16 C135.32,696.94 137.02,697.59 138.72,697.59 C140.42,697.59 142.13,695.29 143.83,693.09 C145.53,690.90 147.24,684.78 148.94,680.83 C150.30,677.67 151.67,671.63 153.03,671.63 C154.05,671.63 155.07,673.49 156.09,674.70 C157.46,676.32 158.82,679.47 160.18,680.83 C161.54,682.19 162.91,682.73 164.27,683.90 C165.63,685.06 166.99,686.62 168.36,687.98 C170.40,690.03 172.44,692.98 174.49,694.12 C177.21,695.63 179.94,696.38 182.66,697.18 C186.07,698.19 189.47,699.00 192.88,699.63 C196.29,700.27 199.69,700.68 203.10,701.20" fill="none" stroke="#fff" stroke-width="0.95"/>
<path d="M125.44,705.90 C126.80,704.36 128.16,702.71 129.52,701.27 C130.21,700.55 130.89,699.22 131.57,699.22 C132.93,699.22 134.29,701.78 135.66,702.29 C137.02,702.80 138.38,703.31 139.74,703.31 C141.79,703.31 143.83,703.31 145.87,703.31 C148.60,703.31 151.32,702.93 154.05,702.29 C156.09,701.81 158.14,698.47 160.18,695.14 C161.54,692.92 162.91,687.47 164.27,684.92 C165.63,682.36 166.99,678.79 168.36,678.79 C169.72,678.79 171.08,679.30 172.44,679.81 C173.81,680.32 175.17,681.39 176.53,682.87 C177.89,684.36 179.26,689.19 180.62,691.05 C182.66,693.84 184.71,695.62 186.75,697.18 C190.16,699.79 193.56,702.63 196.97,703.31 C201.74,704.26 206.51,704.40 211.27,704.95 C214.00,705.26 216.72,705.58 219.45,705.90 Z" fill="rgb(158,96,212)" fill-opacity="0.75"/>
<path d="M125.44,705.90 C126.80,704.36 128.16,702.71 129.52,701.27 C130.21,700.55 130.89,699.22 131.57,699.22 C132.93,699.22 134.29,701.78 135.66,702.29 C137.02,702.80 138.38,703.31 139.74,703.31 C141.79,703.31 143.83,703.31 145.87,703.31 C148.60,703.31 151.32,702.93 154.05,702.29 C156.09,701.81 158.14,698.47 160.18,695.14 C161.54,692.92 162.91,687.47 164.27,684.92 C165.63,682.36 166.99,678.79 168.36,678.79 C169.72,678.79 171.08,679.30 172.44,679.81 C173.81,680.32 175.17,681.39 176.53,682.87 C177.89,684.36 179.26,689.19 180.62,691.05 C182.66,693.84 184.71,695.62 186.75,697.18 C190.16,699.79 193.56,702.63 196.97,703.31 C201.74,704.26 206.51,704.40 211.27,704.95 C214.00,705.26 216.72,705.58 219.45,705.90" fill="none" stroke="#fff" stroke-width="0.95"/>
<path d="M136.68,710.60 C137.70,708.85 138.72,706.98 139.74,705.36 C140.42,704.27 141.11,702.29 141.79,702.29 C143.15,702.29 144.51,705.30 145.87,706.38 C147.24,707.45 148.60,708.89 149.96,709.03 C152.69,709.31 155.41,709.44 158.14,709.44 C160.86,709.44 163.59,709.04 166.31,708.42 C168.36,707.96 170.40,706.44 172.44,703.31 C173.47,701.75 174.49,692.47 175.51,689.01 C176.87,684.39 178.23,678.38 179.60,678.38 C180.62,678.38 181.64,680.17 182.66,681.85 C183.68,683.53 184.71,689.23 185.73,691.05 C187.43,694.08 189.13,695.77 190.84,697.18 C194.24,700.01 197.65,701.77 201.06,703.31 C205.82,705.48 210.59,707.30 215.36,708.42 C219.45,709.38 223.54,709.87 227.62,710.60 Z" fill="rgb(204,160,234)" fill-opacity="0.72"/>
<path d="M136.68,710.60 C137.70,708.85 138.72,706.98 139.74,705.36 C140.42,704.27 141.11,702.29 141.79,702.29 C143.15,702.29 144.51,705.30 145.87,706.38 C147.24,707.45 148.60,708.89 149.96,709.03 C152.69,709.31 155.41,709.44 158.14,709.44 C160.86,709.44 163.59,709.04 166.31,708.42 C168.36,707.96 170.40,706.44 172.44,703.31 C173.47,701.75 174.49,692.47 175.51,689.01 C176.87,684.39 178.23,678.38 179.60,678.38 C180.62,678.38 181.64,680.17 182.66,681.85 C183.68,683.53 184.71,689.23 185.73,691.05 C187.43,694.08 189.13,695.77 190.84,697.18 C194.24,700.01 197.65,701.77 201.06,703.31 C205.82,705.48 210.59,707.30 215.36,708.42 C219.45,709.38 223.54,709.87 227.62,710.60" fill="none" stroke="#fff" stroke-width="0.95"/>
<text x="202.20" y="659.80" font-size="7.0" fill="#000" style="stroke-width:0.10px">Day 14</text>
<text x="175.60" y="719.70" font-size="8.4" text-anchor="middle" fill="#000" style="stroke-width:0.17px">Histogram bins</text>
<rect x="259.20" y="170.20" width="4.09" height="15.40" fill="rgb(255, 252, 207)"/>
<rect x="262.99" y="170.20" width="4.09" height="15.40" fill="rgb(255, 252, 207)"/>
<rect x="266.77" y="170.20" width="4.09" height="15.40" fill="rgb(255, 252, 207)"/>
<rect x="270.56" y="170.20" width="4.09" height="15.40" fill="rgb(255, 240, 172)"/>
<rect x="274.34" y="170.20" width="4.09" height="15.40" fill="rgb(254, 226, 140)"/>
<rect x="278.13" y="170.20" width="4.09" height="15.40" fill="rgb(254, 226, 140)"/>
<rect x="281.91" y="170.20" width="4.09" height="15.40" fill="rgb(254, 233, 156)"/>
<rect x="285.70" y="170.20" width="4.09" height="15.40" fill="rgb(254, 233, 156)"/>
<rect x="289.49" y="170.20" width="4.09" height="15.40" fill="rgb(254, 178, 76)"/>
<rect x="293.27" y="170.20" width="4.09" height="15.40" fill="rgb(232, 38, 30)"/>
<rect x="297.06" y="170.20" width="4.09" height="15.40" fill="rgb(125, 0, 36)"/>
<rect x="300.84" y="170.20" width="4.09" height="15.40" fill="rgb(216, 23, 33)"/>
<rect x="304.63" y="170.20" width="4.09" height="15.40" fill="rgb(253, 141, 60)"/>
<rect x="308.41" y="170.20" width="4.09" height="15.40" fill="rgb(254, 203, 104)"/>
<rect x="312.20" y="170.20" width="4.09" height="15.40" fill="rgb(254, 233, 156)"/>
<rect x="315.99" y="170.20" width="4.09" height="15.40" fill="rgb(255, 240, 172)"/>
<rect x="319.77" y="170.20" width="4.09" height="15.40" fill="rgb(255, 240, 172)"/>
<rect x="323.56" y="170.20" width="4.09" height="15.40" fill="rgb(255, 246, 190)"/>
<rect x="327.34" y="170.20" width="4.09" height="15.40" fill="rgb(255, 247, 193)"/>
<rect x="331.13" y="170.20" width="4.09" height="15.40" fill="rgb(255, 248, 196)"/>
<rect x="334.91" y="170.20" width="4.09" height="15.40" fill="rgb(255, 248, 196)"/>
<rect x="338.70" y="170.20" width="4.09" height="15.40" fill="rgb(255, 248, 196)"/>
<rect x="342.49" y="170.20" width="4.09" height="15.40" fill="rgb(255, 248, 196)"/>
<rect x="346.27" y="170.20" width="4.09" height="15.40" fill="rgb(255, 248, 196)"/>
<rect x="350.06" y="170.20" width="4.09" height="15.40" fill="rgb(255, 248, 196)"/>
<rect x="353.84" y="170.20" width="4.09" height="15.40" fill="rgb(255, 248, 196)"/>
<rect x="357.63" y="170.20" width="4.09" height="15.40" fill="rgb(255, 248, 196)"/>
<rect x="361.41" y="170.20" width="4.09" height="15.40" fill="rgb(255, 248, 196)"/>
<rect x="365.20" y="170.20" width="4.09" height="15.40" fill="rgb(255, 248, 196)"/>
<rect x="368.99" y="170.20" width="4.09" height="15.40" fill="rgb(255, 248, 196)"/>
<rect x="372.77" y="170.20" width="4.09" height="15.40" fill="rgb(255, 248, 196)"/>
<rect x="376.56" y="170.20" width="4.09" height="15.40" fill="rgb(255, 248, 196)"/>
<rect x="380.34" y="170.20" width="4.09" height="15.40" fill="rgb(255, 248, 196)"/>
<rect x="384.13" y="170.20" width="4.09" height="15.40" fill="rgb(255, 248, 196)"/>
<rect x="387.91" y="170.20" width="4.09" height="15.40" fill="rgb(255, 248, 196)"/>
<text x="247.3" y="181.95" font-size="10.2" fill="#000">H<tspan font-size="6.6" dy="2.6">4</tspan></text>
<rect x="259.20" y="185.30" width="4.09" height="15.40" fill="rgb(255, 252, 207)"/>
<rect x="262.99" y="185.30" width="4.09" height="15.40" fill="rgb(255, 252, 207)"/>
<rect x="266.77" y="185.30" width="4.09" height="15.40" fill="rgb(255, 252, 207)"/>
<rect x="270.56" y="185.30" width="4.09" height="15.40" fill="rgb(255, 252, 207)"/>
<rect x="274.34" y="185.30" width="4.09" height="15.40" fill="rgb(255, 252, 207)"/>
<rect x="278.13" y="185.30" width="4.09" height="15.40" fill="rgb(255, 240, 172)"/>
<rect x="281.91" y="185.30" width="4.09" height="15.40" fill="rgb(254, 226, 140)"/>
<rect x="285.70" y="185.30" width="4.09" height="15.40" fill="rgb(254, 214, 122)"/>
<rect x="289.49" y="185.30" width="4.09" height="15.40" fill="rgb(254, 178, 76)"/>
<rect x="293.27" y="185.30" width="4.09" height="15.40" fill="rgb(253, 141, 60)"/>
<rect x="297.06" y="185.30" width="4.09" height="15.40" fill="rgb(216, 23, 33)"/>
<rect x="300.84" y="185.30" width="4.09" height="15.40" fill="rgb(242, 67, 38)"/>
<rect x="304.63" y="185.30" width="4.09" height="15.40" fill="rgb(253, 141, 60)"/>
<rect x="308.41" y="185.30" width="4.09" height="15.40" fill="rgb(254, 178, 76)"/>
<rect x="312.20" y="185.30" width="4.09" height="15.40" fill="rgb(254, 190, 90)"/>
<rect x="315.99" y="185.30" width="4.09" height="15.40" fill="rgb(254, 226, 140)"/>
<rect x="319.77" y="185.30" width="4.09" height="15.40" fill="rgb(254, 233, 156)"/>
<rect x="323.56" y="185.30" width="4.09" height="15.40" fill="rgb(255, 240, 172)"/>
<rect x="327.34" y="185.30" width="4.09" height="15.40" fill="rgb(255, 244, 182)"/>
<rect x="331.13" y="185.30" width="4.09" height="15.40" fill="rgb(255, 246, 190)"/>
<rect x="334.91" y="185.30" width="4.09" height="15.40" fill="rgb(255, 249, 198)"/>
<rect x="338.70" y="185.30" width="4.09" height="15.40" fill="rgb(255, 249, 198)"/>
<rect x="342.49" y="185.30" width="4.09" height="15.40" fill="rgb(255, 249, 198)"/>
<rect x="346.27" y="185.30" width="4.09" height="15.40" fill="rgb(255, 249, 198)"/>
<rect x="350.06" y="185.30" width="4.09" height="15.40" fill="rgb(255, 249, 198)"/>
<rect x="353.84" y="185.30" width="4.09" height="15.40" fill="rgb(255, 249, 198)"/>
<rect x="357.63" y="185.30" width="4.09" height="15.40" fill="rgb(255, 249, 198)"/>
<rect x="361.41" y="185.30" width="4.09" height="15.40" fill="rgb(255, 249, 198)"/>
<rect x="365.20" y="185.30" width="4.09" height="15.40" fill="rgb(255, 249, 198)"/>
<rect x="368.99" y="185.30" width="4.09" height="15.40" fill="rgb(255, 249, 198)"/>
<rect x="372.77" y="185.30" width="4.09" height="15.40" fill="rgb(255, 249, 198)"/>
<rect x="376.56" y="185.30" width="4.09" height="15.40" fill="rgb(255, 249, 198)"/>
<rect x="380.34" y="185.30" width="4.09" height="15.40" fill="rgb(255, 249, 198)"/>
<rect x="384.13" y="185.30" width="4.09" height="15.40" fill="rgb(255, 249, 198)"/>
<rect x="387.91" y="185.30" width="4.09" height="15.40" fill="rgb(255, 249, 198)"/>
<text x="247.3" y="197.05" font-size="10.2" fill="#000">H<tspan font-size="6.6" dy="2.6">3</tspan></text>
<rect x="259.20" y="200.40" width="4.09" height="15.40" fill="rgb(255, 252, 207)"/>
<rect x="262.99" y="200.40" width="4.09" height="15.40" fill="rgb(255, 252, 207)"/>
<rect x="266.77" y="200.40" width="4.09" height="15.40" fill="rgb(255, 252, 207)"/>
<rect x="270.56" y="200.40" width="4.09" height="15.40" fill="rgb(255, 252, 207)"/>
<rect x="274.34" y="200.40" width="4.09" height="15.40" fill="rgb(255, 240, 172)"/>
<rect x="278.13" y="200.40" width="4.09" height="15.40" fill="rgb(255, 240, 172)"/>
<rect x="281.91" y="200.40" width="4.09" height="15.40" fill="rgb(255, 240, 172)"/>
<rect x="285.70" y="200.40" width="4.09" height="15.40" fill="rgb(255, 240, 172)"/>
<rect x="289.49" y="200.40" width="4.09" height="15.40" fill="rgb(255, 240, 172)"/>
<rect x="293.27" y="200.40" width="4.09" height="15.40" fill="rgb(254, 233, 156)"/>
<rect x="297.06" y="200.40" width="4.09" height="15.40" fill="rgb(254, 226, 140)"/>
<rect x="300.84" y="200.40" width="4.09" height="15.40" fill="rgb(254, 203, 104)"/>
<rect x="304.63" y="200.40" width="4.09" height="15.40" fill="rgb(242, 67, 38)"/>
<rect x="308.41" y="200.40" width="4.09" height="15.40" fill="rgb(180, 4, 37)"/>
<rect x="312.20" y="200.40" width="4.09" height="15.40" fill="rgb(242, 67, 38)"/>
<rect x="315.99" y="200.40" width="4.09" height="15.40" fill="rgb(252, 96, 46)"/>
<rect x="319.77" y="200.40" width="4.09" height="15.40" fill="rgb(253, 141, 60)"/>
<rect x="323.56" y="200.40" width="4.09" height="15.40" fill="rgb(254, 233, 156)"/>
<rect x="327.34" y="200.40" width="4.09" height="15.40" fill="rgb(255, 240, 172)"/>
<rect x="331.13" y="200.40" width="4.09" height="15.40" fill="rgb(255, 246, 190)"/>
<rect x="334.91" y="200.40" width="4.09" height="15.40" fill="rgb(255, 249, 198)"/>
<rect x="338.70" y="200.40" width="4.09" height="15.40" fill="rgb(255, 249, 198)"/>
<rect x="342.49" y="200.40" width="4.09" height="15.40" fill="rgb(255, 249, 198)"/>
<rect x="346.27" y="200.40" width="4.09" height="15.40" fill="rgb(255, 249, 198)"/>
<rect x="350.06" y="200.40" width="4.09" height="15.40" fill="rgb(255, 249, 198)"/>
<rect x="353.84" y="200.40" width="4.09" height="15.40" fill="rgb(255, 249, 198)"/>
<rect x="357.63" y="200.40" width="4.09" height="15.40" fill="rgb(255, 249, 198)"/>
<rect x="361.41" y="200.40" width="4.09" height="15.40" fill="rgb(255, 249, 198)"/>
<rect x="365.20" y="200.40" width="4.09" height="15.40" fill="rgb(255, 249, 198)"/>
<rect x="368.99" y="200.40" width="4.09" height="15.40" fill="rgb(255, 249, 198)"/>
<rect x="372.77" y="200.40" width="4.09" height="15.40" fill="rgb(255, 249, 198)"/>
<rect x="376.56" y="200.40" width="4.09" height="15.40" fill="rgb(255, 249, 198)"/>
<rect x="380.34" y="200.40" width="4.09" height="15.40" fill="rgb(255, 249, 198)"/>
<rect x="384.13" y="200.40" width="4.09" height="15.40" fill="rgb(255, 249, 198)"/>
<rect x="387.91" y="200.40" width="4.09" height="15.40" fill="rgb(255, 249, 198)"/>
<text x="247.3" y="212.15" font-size="10.2" fill="#000">H<tspan font-size="6.6" dy="2.6">2</tspan></text>
<rect x="259.20" y="215.50" width="4.09" height="15.40" fill="rgb(255, 252, 207)"/>
<rect x="262.99" y="215.50" width="4.09" height="15.40" fill="rgb(255, 252, 207)"/>
<rect x="266.77" y="215.50" width="4.09" height="15.40" fill="rgb(255, 252, 207)"/>
<rect x="270.56" y="215.50" width="4.09" height="15.40" fill="rgb(255, 252, 207)"/>
<rect x="274.34" y="215.50" width="4.09" height="15.40" fill="rgb(255, 252, 207)"/>
<rect x="278.13" y="215.50" width="4.09" height="15.40" fill="rgb(255, 240, 172)"/>
<rect x="281.91" y="215.50" width="4.09" height="15.40" fill="rgb(255, 240, 172)"/>
<rect x="285.70" y="215.50" width="4.09" height="15.40" fill="rgb(255, 240, 172)"/>
<rect x="289.49" y="215.50" width="4.09" height="15.40" fill="rgb(255, 240, 172)"/>
<rect x="293.27" y="215.50" width="4.09" height="15.40" fill="rgb(255, 240, 172)"/>
<rect x="297.06" y="215.50" width="4.09" height="15.40" fill="rgb(254, 233, 156)"/>
<rect x="300.84" y="215.50" width="4.09" height="15.40" fill="rgb(254, 226, 140)"/>
<rect x="304.63" y="215.50" width="4.09" height="15.40" fill="rgb(254, 190, 90)"/>
<rect x="308.41" y="215.50" width="4.09" height="15.40" fill="rgb(254, 178, 76)"/>
<rect x="312.20" y="215.50" width="4.09" height="15.40" fill="rgb(252, 96, 46)"/>
<rect x="315.99" y="215.50" width="4.09" height="15.40" fill="rgb(180, 4, 37)"/>
<rect x="319.77" y="215.50" width="4.09" height="15.40" fill="rgb(180, 4, 37)"/>
<rect x="323.56" y="215.50" width="4.09" height="15.40" fill="rgb(253, 141, 60)"/>
<rect x="327.34" y="215.50" width="4.09" height="15.40" fill="rgb(254, 203, 104)"/>
<rect x="331.13" y="215.50" width="4.09" height="15.40" fill="rgb(255, 240, 172)"/>
<rect x="334.91" y="215.50" width="4.09" height="15.40" fill="rgb(255, 246, 190)"/>
<rect x="338.70" y="215.50" width="4.09" height="15.40" fill="rgb(255, 249, 198)"/>
<rect x="342.49" y="215.50" width="4.09" height="15.40" fill="rgb(255, 249, 198)"/>
<rect x="346.27" y="215.50" width="4.09" height="15.40" fill="rgb(255, 249, 198)"/>
<rect x="350.06" y="215.50" width="4.09" height="15.40" fill="rgb(255, 249, 198)"/>
<rect x="353.84" y="215.50" width="4.09" height="15.40" fill="rgb(255, 249, 198)"/>
<rect x="357.63" y="215.50" width="4.09" height="15.40" fill="rgb(255, 249, 198)"/>
<rect x="361.41" y="215.50" width="4.09" height="15.40" fill="rgb(255, 249, 198)"/>
<rect x="365.20" y="215.50" width="4.09" height="15.40" fill="rgb(255, 249, 198)"/>
<rect x="368.99" y="215.50" width="4.09" height="15.40" fill="rgb(255, 249, 198)"/>
<rect x="372.77" y="215.50" width="4.09" height="15.40" fill="rgb(255, 249, 198)"/>
<rect x="376.56" y="215.50" width="4.09" height="15.40" fill="rgb(255, 249, 198)"/>
<rect x="380.34" y="215.50" width="4.09" height="15.40" fill="rgb(255, 249, 198)"/>
<rect x="384.13" y="215.50" width="4.09" height="15.40" fill="rgb(255, 249, 198)"/>
<rect x="387.91" y="215.50" width="4.09" height="15.40" fill="rgb(255, 249, 198)"/>
<text x="247.3" y="227.25" font-size="10.2" fill="#000">H<tspan font-size="6.6" dy="2.6">1</tspan></text>
<rect x="259.20" y="237.50" width="4.09" height="15.40" fill="rgb(255, 252, 207)"/>
<rect x="262.99" y="237.50" width="4.09" height="15.40" fill="rgb(255, 252, 207)"/>
<rect x="266.77" y="237.50" width="4.09" height="15.40" fill="rgb(254, 226, 140)"/>
<rect x="270.56" y="237.50" width="4.09" height="15.40" fill="rgb(254, 178, 76)"/>
<rect x="274.34" y="237.50" width="4.09" height="15.40" fill="rgb(216, 23, 33)"/>
<rect x="278.13" y="237.50" width="4.09" height="15.40" fill="rgb(254, 160, 68)"/>
<rect x="281.91" y="237.50" width="4.09" height="15.40" fill="rgb(254, 233, 156)"/>
<rect x="285.70" y="237.50" width="4.09" height="15.40" fill="rgb(254, 233, 156)"/>
<rect x="289.49" y="237.50" width="4.09" height="15.40" fill="rgb(254, 178, 76)"/>
<rect x="293.27" y="237.50" width="4.09" height="15.40" fill="rgb(254, 160, 68)"/>
<rect x="297.06" y="237.50" width="4.09" height="15.40" fill="rgb(254, 178, 76)"/>
<rect x="300.84" y="237.50" width="4.09" height="15.40" fill="rgb(254, 226, 140)"/>
<rect x="304.63" y="237.50" width="4.09" height="15.40" fill="rgb(254, 233, 156)"/>
<rect x="308.41" y="237.50" width="4.09" height="15.40" fill="rgb(254, 233, 156)"/>
<rect x="312.20" y="237.50" width="4.09" height="15.40" fill="rgb(254, 226, 140)"/>
<rect x="315.99" y="237.50" width="4.09" height="15.40" fill="rgb(255, 240, 172)"/>
<rect x="319.77" y="237.50" width="4.09" height="15.40" fill="rgb(255, 240, 172)"/>
<rect x="323.56" y="237.50" width="4.09" height="15.40" fill="rgb(254, 233, 156)"/>
<rect x="327.34" y="237.50" width="4.09" height="15.40" fill="rgb(255, 237, 166)"/>
<rect x="331.13" y="237.50" width="4.09" height="15.40" fill="rgb(255, 240, 172)"/>
<rect x="334.91" y="237.50" width="4.09" height="15.40" fill="rgb(255, 242, 179)"/>
<rect x="338.70" y="237.50" width="4.09" height="15.40" fill="rgb(255, 246, 190)"/>
<rect x="342.49" y="237.50" width="4.09" height="15.40" fill="rgb(255, 246, 190)"/>
<rect x="346.27" y="237.50" width="4.09" height="15.40" fill="rgb(255, 246, 190)"/>
<rect x="350.06" y="237.50" width="4.09" height="15.40" fill="rgb(255, 246, 190)"/>
<rect x="353.84" y="237.50" width="4.09" height="15.40" fill="rgb(255, 246, 190)"/>
<rect x="357.63" y="237.50" width="4.09" height="15.40" fill="rgb(255, 246, 190)"/>
<rect x="361.41" y="237.50" width="4.09" height="15.40" fill="rgb(255, 246, 190)"/>
<rect x="365.20" y="237.50" width="4.09" height="15.40" fill="rgb(255, 246, 190)"/>
<rect x="368.99" y="237.50" width="4.09" height="15.40" fill="rgb(255, 246, 190)"/>
<rect x="372.77" y="237.50" width="4.09" height="15.40" fill="rgb(255, 246, 190)"/>
<rect x="376.56" y="237.50" width="4.09" height="15.40" fill="rgb(255, 246, 190)"/>
<rect x="380.34" y="237.50" width="4.09" height="15.40" fill="rgb(255, 246, 190)"/>
<rect x="384.13" y="237.50" width="4.09" height="15.40" fill="rgb(255, 246, 190)"/>
<rect x="387.91" y="237.50" width="4.09" height="15.40" fill="rgb(255, 246, 190)"/>
<text x="247.3" y="249.25" font-size="10.2" fill="#000">H<tspan font-size="6.6" dy="2.6">4</tspan></text>
<rect x="259.20" y="252.60" width="4.09" height="15.40" fill="rgb(255, 252, 207)"/>
<rect x="262.99" y="252.60" width="4.09" height="15.40" fill="rgb(255, 252, 207)"/>
<rect x="266.77" y="252.60" width="4.09" height="15.40" fill="rgb(255, 252, 207)"/>
<rect x="270.56" y="252.60" width="4.09" height="15.40" fill="rgb(255, 252, 207)"/>
<rect x="274.34" y="252.60" width="4.09" height="15.40" fill="rgb(255, 252, 207)"/>
<rect x="278.13" y="252.60" width="4.09" height="15.40" fill="rgb(254, 214, 122)"/>
<rect x="281.91" y="252.60" width="4.09" height="15.40" fill="rgb(254, 190, 90)"/>
<rect x="285.70" y="252.60" width="4.09" height="15.40" fill="rgb(254, 226, 140)"/>
<rect x="289.49" y="252.60" width="4.09" height="15.40" fill="rgb(254, 214, 122)"/>
<rect x="293.27" y="252.60" width="4.09" height="15.40" fill="rgb(254, 214, 122)"/>
<rect x="297.06" y="252.60" width="4.09" height="15.40" fill="rgb(254, 203, 104)"/>
<rect x="300.84" y="252.60" width="4.09" height="15.40" fill="rgb(254, 178, 76)"/>
<rect x="304.63" y="252.60" width="4.09" height="15.40" fill="rgb(254, 190, 90)"/>
<rect x="308.41" y="252.60" width="4.09" height="15.40" fill="rgb(254, 214, 122)"/>
<rect x="312.20" y="252.60" width="4.09" height="15.40" fill="rgb(254, 214, 122)"/>
<rect x="315.99" y="252.60" width="4.09" height="15.40" fill="rgb(254, 214, 122)"/>
<rect x="319.77" y="252.60" width="4.09" height="15.40" fill="rgb(254, 214, 122)"/>
<rect x="323.56" y="252.60" width="4.09" height="15.40" fill="rgb(254, 214, 122)"/>
<rect x="327.34" y="252.60" width="4.09" height="15.40" fill="rgb(254, 214, 122)"/>
<rect x="331.13" y="252.60" width="4.09" height="15.40" fill="rgb(254, 226, 140)"/>
<rect x="334.91" y="252.60" width="4.09" height="15.40" fill="rgb(254, 233, 156)"/>
<rect x="338.70" y="252.60" width="4.09" height="15.40" fill="rgb(255, 237, 166)"/>
<rect x="342.49" y="252.60" width="4.09" height="15.40" fill="rgb(255, 240, 172)"/>
<rect x="346.27" y="252.60" width="4.09" height="15.40" fill="rgb(255, 240, 172)"/>
<rect x="350.06" y="252.60" width="4.09" height="15.40" fill="rgb(255, 240, 172)"/>
<rect x="353.84" y="252.60" width="4.09" height="15.40" fill="rgb(255, 240, 172)"/>
<rect x="357.63" y="252.60" width="4.09" height="15.40" fill="rgb(255, 240, 172)"/>
<rect x="361.41" y="252.60" width="4.09" height="15.40" fill="rgb(255, 240, 172)"/>
<rect x="365.20" y="252.60" width="4.09" height="15.40" fill="rgb(255, 240, 172)"/>
<rect x="368.99" y="252.60" width="4.09" height="15.40" fill="rgb(255, 246, 190)"/>
<rect x="372.77" y="252.60" width="4.09" height="15.40" fill="rgb(255, 246, 190)"/>
<rect x="376.56" y="252.60" width="4.09" height="15.40" fill="rgb(255, 246, 190)"/>
<rect x="380.34" y="252.60" width="4.09" height="15.40" fill="rgb(255, 246, 190)"/>
<rect x="384.13" y="252.60" width="4.09" height="15.40" fill="rgb(255, 246, 190)"/>
<rect x="387.91" y="252.60" width="4.09" height="15.40" fill="rgb(255, 246, 190)"/>
<text x="247.3" y="264.35" font-size="10.2" fill="#000">H<tspan font-size="6.6" dy="2.6">3</tspan></text>
<rect x="259.20" y="267.70" width="4.09" height="15.40" fill="rgb(255, 252, 207)"/>
<rect x="262.99" y="267.70" width="4.09" height="15.40" fill="rgb(255, 252, 207)"/>
<rect x="266.77" y="267.70" width="4.09" height="15.40" fill="rgb(254, 226, 140)"/>
<rect x="270.56" y="267.70" width="4.09" height="15.40" fill="rgb(253, 141, 60)"/>
<rect x="274.34" y="267.70" width="4.09" height="15.40" fill="rgb(125, 0, 36)"/>
<rect x="278.13" y="267.70" width="4.09" height="15.40" fill="rgb(242, 67, 38)"/>
<rect x="281.91" y="267.70" width="4.09" height="15.40" fill="rgb(254, 233, 156)"/>
<rect x="285.70" y="267.70" width="4.09" height="15.40" fill="rgb(254, 233, 156)"/>
<rect x="289.49" y="267.70" width="4.09" height="15.40" fill="rgb(254, 233, 156)"/>
<rect x="293.27" y="267.70" width="4.09" height="15.40" fill="rgb(254, 226, 140)"/>
<rect x="297.06" y="267.70" width="4.09" height="15.40" fill="rgb(254, 226, 140)"/>
<rect x="300.84" y="267.70" width="4.09" height="15.40" fill="rgb(254, 226, 140)"/>
<rect x="304.63" y="267.70" width="4.09" height="15.40" fill="rgb(254, 226, 140)"/>
<rect x="308.41" y="267.70" width="4.09" height="15.40" fill="rgb(254, 233, 156)"/>
<rect x="312.20" y="267.70" width="4.09" height="15.40" fill="rgb(254, 233, 156)"/>
<rect x="315.99" y="267.70" width="4.09" height="15.40" fill="rgb(254, 233, 156)"/>
<rect x="319.77" y="267.70" width="4.09" height="15.40" fill="rgb(254, 233, 156)"/>
<rect x="323.56" y="267.70" width="4.09" height="15.40" fill="rgb(254, 233, 156)"/>
<rect x="327.34" y="267.70" width="4.09" height="15.40" fill="rgb(255, 240, 172)"/>
<rect x="331.13" y="267.70" width="4.09" height="15.40" fill="rgb(255, 246, 190)"/>
<rect x="334.91" y="267.70" width="4.09" height="15.40" fill="rgb(255, 248, 196)"/>
<rect x="338.70" y="267.70" width="4.09" height="15.40" fill="rgb(255, 248, 196)"/>
<rect x="342.49" y="267.70" width="4.09" height="15.40" fill="rgb(255, 248, 196)"/>
<rect x="346.27" y="267.70" width="4.09" height="15.40" fill="rgb(255, 248, 196)"/>
<rect x="350.06" y="267.70" width="4.09" height="15.40" fill="rgb(255, 248, 196)"/>
<rect x="353.84" y="267.70" width="4.09" height="15.40" fill="rgb(255, 248, 196)"/>
<rect x="357.63" y="267.70" width="4.09" height="15.40" fill="rgb(255, 248, 196)"/>
<rect x="361.41" y="267.70" width="4.09" height="15.40" fill="rgb(255, 248, 196)"/>
<rect x="365.20" y="267.70" width="4.09" height="15.40" fill="rgb(255, 248, 196)"/>
<rect x="368.99" y="267.70" width="4.09" height="15.40" fill="rgb(255, 248, 196)"/>
<rect x="372.77" y="267.70" width="4.09" height="15.40" fill="rgb(255, 248, 196)"/>
<rect x="376.56" y="267.70" width="4.09" height="15.40" fill="rgb(255, 248, 196)"/>
<rect x="380.34" y="267.70" width="4.09" height="15.40" fill="rgb(255, 248, 196)"/>
<rect x="384.13" y="267.70" width="4.09" height="15.40" fill="rgb(255, 248, 196)"/>
<rect x="387.91" y="267.70" width="4.09" height="15.40" fill="rgb(255, 248, 196)"/>
<text x="247.3" y="279.45" font-size="10.2" fill="#000">H<tspan font-size="6.6" dy="2.6">2</tspan></text>
<rect x="259.20" y="282.80" width="4.09" height="15.40" fill="rgb(255, 252, 207)"/>
<rect x="262.99" y="282.80" width="4.09" height="15.40" fill="rgb(255, 252, 207)"/>
<rect x="266.77" y="282.80" width="4.09" height="15.40" fill="rgb(255, 252, 207)"/>
<rect x="270.56" y="282.80" width="4.09" height="15.40" fill="rgb(255, 252, 207)"/>
<rect x="274.34" y="282.80" width="4.09" height="15.40" fill="rgb(255, 252, 207)"/>
<rect x="278.13" y="282.80" width="4.09" height="15.40" fill="rgb(254, 214, 122)"/>
<rect x="281.91" y="282.80" width="4.09" height="15.40" fill="rgb(254, 178, 76)"/>
<rect x="285.70" y="282.80" width="4.09" height="15.40" fill="rgb(254, 226, 140)"/>
<rect x="289.49" y="282.80" width="4.09" height="15.40" fill="rgb(255, 240, 172)"/>
<rect x="293.27" y="282.80" width="4.09" height="15.40" fill="rgb(255, 240, 172)"/>
<rect x="297.06" y="282.80" width="4.09" height="15.40" fill="rgb(255, 240, 172)"/>
<rect x="300.84" y="282.80" width="4.09" height="15.40" fill="rgb(255, 240, 172)"/>
<rect x="304.63" y="282.80" width="4.09" height="15.40" fill="rgb(255, 240, 172)"/>
<rect x="308.41" y="282.80" width="4.09" height="15.40" fill="rgb(255, 240, 172)"/>
<rect x="312.20" y="282.80" width="4.09" height="15.40" fill="rgb(254, 226, 140)"/>
<rect x="315.99" y="282.80" width="4.09" height="15.40" fill="rgb(254, 203, 104)"/>
<rect x="319.77" y="282.80" width="4.09" height="15.40" fill="rgb(254, 160, 68)"/>
<rect x="323.56" y="282.80" width="4.09" height="15.40" fill="rgb(254, 160, 68)"/>
<rect x="327.34" y="282.80" width="4.09" height="15.40" fill="rgb(254, 160, 68)"/>
<rect x="331.13" y="282.80" width="4.09" height="15.40" fill="rgb(254, 203, 104)"/>
<rect x="334.91" y="282.80" width="4.09" height="15.40" fill="rgb(254, 226, 140)"/>
<rect x="338.70" y="282.80" width="4.09" height="15.40" fill="rgb(254, 226, 140)"/>
<rect x="342.49" y="282.80" width="4.09" height="15.40" fill="rgb(254, 233, 156)"/>
<rect x="346.27" y="282.80" width="4.09" height="15.40" fill="rgb(255, 240, 172)"/>
<rect x="350.06" y="282.80" width="4.09" height="15.40" fill="rgb(255, 240, 172)"/>
<rect x="353.84" y="282.80" width="4.09" height="15.40" fill="rgb(255, 246, 190)"/>
<rect x="357.63" y="282.80" width="4.09" height="15.40" fill="rgb(255, 246, 190)"/>
<rect x="361.41" y="282.80" width="4.09" height="15.40" fill="rgb(255, 246, 190)"/>
<rect x="365.20" y="282.80" width="4.09" height="15.40" fill="rgb(255, 246, 190)"/>
<rect x="368.99" y="282.80" width="4.09" height="15.40" fill="rgb(255, 246, 190)"/>
<rect x="372.77" y="282.80" width="4.09" height="15.40" fill="rgb(255, 246, 190)"/>
<rect x="376.56" y="282.80" width="4.09" height="15.40" fill="rgb(255, 246, 190)"/>
<rect x="380.34" y="282.80" width="4.09" height="15.40" fill="rgb(255, 246, 190)"/>
<rect x="384.13" y="282.80" width="4.09" height="15.40" fill="rgb(255, 246, 190)"/>
<rect x="387.91" y="282.80" width="4.09" height="15.40" fill="rgb(255, 246, 190)"/>
<text x="247.3" y="294.55" font-size="10.2" fill="#000">H<tspan font-size="6.6" dy="2.6">1</tspan></text>
<rect x="259.20" y="304.80" width="4.09" height="15.40" fill="rgb(255, 252, 207)"/>
<rect x="262.99" y="304.80" width="4.09" height="15.40" fill="rgb(255, 252, 207)"/>
<rect x="266.77" y="304.80" width="4.09" height="15.40" fill="rgb(255, 252, 207)"/>
<rect x="270.56" y="304.80" width="4.09" height="15.40" fill="rgb(254, 233, 156)"/>
<rect x="274.34" y="304.80" width="4.09" height="15.40" fill="rgb(180, 4, 37)"/>
<rect x="278.13" y="304.80" width="4.09" height="15.40" fill="rgb(180, 4, 37)"/>
<rect x="281.91" y="304.80" width="4.09" height="15.40" fill="rgb(252, 96, 46)"/>
<rect x="285.70" y="304.80" width="4.09" height="15.40" fill="rgb(254, 233, 156)"/>
<rect x="289.49" y="304.80" width="4.09" height="15.40" fill="rgb(254, 233, 156)"/>
<rect x="293.27" y="304.80" width="4.09" height="15.40" fill="rgb(254, 233, 156)"/>
<rect x="297.06" y="304.80" width="4.09" height="15.40" fill="rgb(254, 233, 156)"/>
<rect x="300.84" y="304.80" width="4.09" height="15.40" fill="rgb(254, 226, 140)"/>
<rect x="304.63" y="304.80" width="4.09" height="15.40" fill="rgb(254, 226, 140)"/>
<rect x="308.41" y="304.80" width="4.09" height="15.40" fill="rgb(254, 226, 140)"/>
<rect x="312.20" y="304.80" width="4.09" height="15.40" fill="rgb(254, 214, 122)"/>
<rect x="315.99" y="304.80" width="4.09" height="15.40" fill="rgb(254, 226, 140)"/>
<rect x="319.77" y="304.80" width="4.09" height="15.40" fill="rgb(254, 226, 140)"/>
<rect x="323.56" y="304.80" width="4.09" height="15.40" fill="rgb(254, 226, 140)"/>
<rect x="327.34" y="304.80" width="4.09" height="15.40" fill="rgb(254, 233, 156)"/>
<rect x="331.13" y="304.80" width="4.09" height="15.40" fill="rgb(255, 237, 166)"/>
<rect x="334.91" y="304.80" width="4.09" height="15.40" fill="rgb(255, 240, 172)"/>
<rect x="338.70" y="304.80" width="4.09" height="15.40" fill="rgb(255, 240, 172)"/>
<rect x="342.49" y="304.80" width="4.09" height="15.40" fill="rgb(255, 237, 166)"/>
<rect x="346.27" y="304.80" width="4.09" height="15.40" fill="rgb(254, 233, 156)"/>
<rect x="350.06" y="304.80" width="4.09" height="15.40" fill="rgb(255, 237, 166)"/>
<rect x="353.84" y="304.80" width="4.09" height="15.40" fill="rgb(255, 244, 182)"/>
<rect x="357.63" y="304.80" width="4.09" height="15.40" fill="rgb(255, 244, 182)"/>
<rect x="361.41" y="304.80" width="4.09" height="15.40" fill="rgb(255, 244, 182)"/>
<rect x="365.20" y="304.80" width="4.09" height="15.40" fill="rgb(255, 244, 182)"/>
<rect x="368.99" y="304.80" width="4.09" height="15.40" fill="rgb(255, 244, 182)"/>
<rect x="372.77" y="304.80" width="4.09" height="15.40" fill="rgb(255, 244, 182)"/>
<rect x="376.56" y="304.80" width="4.09" height="15.40" fill="rgb(255, 244, 182)"/>
<rect x="380.34" y="304.80" width="4.09" height="15.40" fill="rgb(255, 244, 182)"/>
<rect x="384.13" y="304.80" width="4.09" height="15.40" fill="rgb(255, 244, 182)"/>
<rect x="387.91" y="304.80" width="4.09" height="15.40" fill="rgb(255, 244, 182)"/>
<text x="247.3" y="316.55" font-size="10.2" fill="#000">H<tspan font-size="6.6" dy="2.6">4</tspan></text>
<rect x="259.20" y="319.90" width="4.09" height="15.40" fill="rgb(255, 252, 207)"/>
<rect x="262.99" y="319.90" width="4.09" height="15.40" fill="rgb(255, 252, 207)"/>
<rect x="266.77" y="319.90" width="4.09" height="15.40" fill="rgb(255, 240, 172)"/>
<rect x="270.56" y="319.90" width="4.09" height="15.40" fill="rgb(254, 226, 140)"/>
<rect x="274.34" y="319.90" width="4.09" height="15.40" fill="rgb(216, 23, 33)"/>
<rect x="278.13" y="319.90" width="4.09" height="15.40" fill="rgb(252, 96, 46)"/>
<rect x="281.91" y="319.90" width="4.09" height="15.40" fill="rgb(254, 203, 104)"/>
<rect x="285.70" y="319.90" width="4.09" height="15.40" fill="rgb(254, 233, 156)"/>
<rect x="289.49" y="319.90" width="4.09" height="15.40" fill="rgb(254, 233, 156)"/>
<rect x="293.27" y="319.90" width="4.09" height="15.40" fill="rgb(254, 233, 156)"/>
<rect x="297.06" y="319.90" width="4.09" height="15.40" fill="rgb(254, 233, 156)"/>
<rect x="300.84" y="319.90" width="4.09" height="15.40" fill="rgb(254, 233, 156)"/>
<rect x="304.63" y="319.90" width="4.09" height="15.40" fill="rgb(254, 233, 156)"/>
<rect x="308.41" y="319.90" width="4.09" height="15.40" fill="rgb(254, 233, 156)"/>
<rect x="312.20" y="319.90" width="4.09" height="15.40" fill="rgb(254, 233, 156)"/>
<rect x="315.99" y="319.90" width="4.09" height="15.40" fill="rgb(254, 233, 156)"/>
<rect x="319.77" y="319.90" width="4.09" height="15.40" fill="rgb(254, 233, 156)"/>
<rect x="323.56" y="319.90" width="4.09" height="15.40" fill="rgb(254, 214, 122)"/>
<rect x="327.34" y="319.90" width="4.09" height="15.40" fill="rgb(254, 226, 140)"/>
<rect x="331.13" y="319.90" width="4.09" height="15.40" fill="rgb(254, 226, 140)"/>
<rect x="334.91" y="319.90" width="4.09" height="15.40" fill="rgb(254, 226, 140)"/>
<rect x="338.70" y="319.90" width="4.09" height="15.40" fill="rgb(254, 229, 146)"/>
<rect x="342.49" y="319.90" width="4.09" height="15.40" fill="rgb(254, 229, 146)"/>
<rect x="346.27" y="319.90" width="4.09" height="15.40" fill="rgb(254, 232, 153)"/>
<rect x="350.06" y="319.90" width="4.09" height="15.40" fill="rgb(254, 232, 153)"/>
<rect x="353.84" y="319.90" width="4.09" height="15.40" fill="rgb(254, 233, 156)"/>
<rect x="357.63" y="319.90" width="4.09" height="15.40" fill="rgb(254, 233, 156)"/>
<rect x="361.41" y="319.90" width="4.09" height="15.40" fill="rgb(255, 237, 166)"/>
<rect x="365.20" y="319.90" width="4.09" height="15.40" fill="rgb(255, 240, 172)"/>
<rect x="368.99" y="319.90" width="4.09" height="15.40" fill="rgb(255, 240, 172)"/>
<rect x="372.77" y="319.90" width="4.09" height="15.40" fill="rgb(255, 240, 172)"/>
<rect x="376.56" y="319.90" width="4.09" height="15.40" fill="rgb(255, 246, 190)"/>
<rect x="380.34" y="319.90" width="4.09" height="15.40" fill="rgb(255, 246, 190)"/>
<rect x="384.13" y="319.90" width="4.09" height="15.40" fill="rgb(255, 246, 190)"/>
<rect x="387.91" y="319.90" width="4.09" height="15.40" fill="rgb(255, 246, 190)"/>
<text x="247.3" y="331.65" font-size="10.2" fill="#000">H<tspan font-size="6.6" dy="2.6">3</tspan></text>
<rect x="259.20" y="335.00" width="4.09" height="15.40" fill="rgb(255, 252, 207)"/>
<rect x="262.99" y="335.00" width="4.09" height="15.40" fill="rgb(255, 252, 207)"/>
<rect x="266.77" y="335.00" width="4.09" height="15.40" fill="rgb(255, 252, 207)"/>
<rect x="270.56" y="335.00" width="4.09" height="15.40" fill="rgb(255, 240, 172)"/>
<rect x="274.34" y="335.00" width="4.09" height="15.40" fill="rgb(216, 23, 33)"/>
<rect x="278.13" y="335.00" width="4.09" height="15.40" fill="rgb(125, 0, 36)"/>
<rect x="281.91" y="335.00" width="4.09" height="15.40" fill="rgb(216, 23, 33)"/>
<rect x="285.70" y="335.00" width="4.09" height="15.40" fill="rgb(255, 240, 172)"/>
<rect x="289.49" y="335.00" width="4.09" height="15.40" fill="rgb(255, 240, 172)"/>
<rect x="293.27" y="335.00" width="4.09" height="15.40" fill="rgb(255, 240, 172)"/>
<rect x="297.06" y="335.00" width="4.09" height="15.40" fill="rgb(255, 240, 172)"/>
<rect x="300.84" y="335.00" width="4.09" height="15.40" fill="rgb(255, 240, 172)"/>
<rect x="304.63" y="335.00" width="4.09" height="15.40" fill="rgb(254, 233, 156)"/>
<rect x="308.41" y="335.00" width="4.09" height="15.40" fill="rgb(254, 233, 156)"/>
<rect x="312.20" y="335.00" width="4.09" height="15.40" fill="rgb(254, 226, 140)"/>
<rect x="315.99" y="335.00" width="4.09" height="15.40" fill="rgb(254, 226, 140)"/>
<rect x="319.77" y="335.00" width="4.09" height="15.40" fill="rgb(254, 233, 156)"/>
<rect x="323.56" y="335.00" width="4.09" height="15.40" fill="rgb(254, 233, 156)"/>
<rect x="327.34" y="335.00" width="4.09" height="15.40" fill="rgb(255, 237, 166)"/>
<rect x="331.13" y="335.00" width="4.09" height="15.40" fill="rgb(255, 240, 172)"/>
<rect x="334.91" y="335.00" width="4.09" height="15.40" fill="rgb(255, 240, 172)"/>
<rect x="338.70" y="335.00" width="4.09" height="15.40" fill="rgb(255, 240, 172)"/>
<rect x="342.49" y="335.00" width="4.09" height="15.40" fill="rgb(255, 237, 166)"/>
<rect x="346.27" y="335.00" width="4.09" height="15.40" fill="rgb(255, 237, 166)"/>
<rect x="350.06" y="335.00" width="4.09" height="15.40" fill="rgb(255, 237, 166)"/>
<rect x="353.84" y="335.00" width="4.09" height="15.40" fill="rgb(255, 240, 172)"/>
<rect x="357.63" y="335.00" width="4.09" height="15.40" fill="rgb(255, 242, 179)"/>
<rect x="361.41" y="335.00" width="4.09" height="15.40" fill="rgb(255, 242, 179)"/>
<rect x="365.20" y="335.00" width="4.09" height="15.40" fill="rgb(255, 240, 172)"/>
<rect x="368.99" y="335.00" width="4.09" height="15.40" fill="rgb(255, 242, 179)"/>
<rect x="372.77" y="335.00" width="4.09" height="15.40" fill="rgb(255, 245, 186)"/>
<rect x="376.56" y="335.00" width="4.09" height="15.40" fill="rgb(255, 246, 190)"/>
<rect x="380.34" y="335.00" width="4.09" height="15.40" fill="rgb(255, 246, 190)"/>
<rect x="384.13" y="335.00" width="4.09" height="15.40" fill="rgb(255, 246, 190)"/>
<rect x="387.91" y="335.00" width="4.09" height="15.40" fill="rgb(255, 246, 190)"/>
<text x="247.3" y="346.75" font-size="10.2" fill="#000">H<tspan font-size="6.6" dy="2.6">2</tspan></text>
<rect x="259.20" y="350.10" width="4.09" height="15.40" fill="rgb(255, 248, 196)"/>
<rect x="262.99" y="350.10" width="4.09" height="15.40" fill="rgb(255, 248, 196)"/>
<rect x="266.77" y="350.10" width="4.09" height="15.40" fill="rgb(255, 248, 196)"/>
<rect x="270.56" y="350.10" width="4.09" height="15.40" fill="rgb(255, 248, 196)"/>
<rect x="274.34" y="350.10" width="4.09" height="15.40" fill="rgb(254, 226, 140)"/>
<rect x="278.13" y="350.10" width="4.09" height="15.40" fill="rgb(242, 67, 38)"/>
<rect x="281.91" y="350.10" width="4.09" height="15.40" fill="rgb(216, 23, 33)"/>
<rect x="285.70" y="350.10" width="4.09" height="15.40" fill="rgb(254, 178, 76)"/>
<rect x="289.49" y="350.10" width="4.09" height="15.40" fill="rgb(254, 226, 140)"/>
<rect x="293.27" y="350.10" width="4.09" height="15.40" fill="rgb(254, 233, 156)"/>
<rect x="297.06" y="350.10" width="4.09" height="15.40" fill="rgb(254, 233, 156)"/>
<rect x="300.84" y="350.10" width="4.09" height="15.40" fill="rgb(255, 240, 172)"/>
<rect x="304.63" y="350.10" width="4.09" height="15.40" fill="rgb(255, 240, 172)"/>
<rect x="308.41" y="350.10" width="4.09" height="15.40" fill="rgb(254, 233, 156)"/>
<rect x="312.20" y="350.10" width="4.09" height="15.40" fill="rgb(254, 233, 156)"/>
<rect x="315.99" y="350.10" width="4.09" height="15.40" fill="rgb(254, 233, 156)"/>
<rect x="319.77" y="350.10" width="4.09" height="15.40" fill="rgb(254, 233, 156)"/>
<rect x="323.56" y="350.10" width="4.09" height="15.40" fill="rgb(254, 233, 156)"/>
<rect x="327.34" y="350.10" width="4.09" height="15.40" fill="rgb(254, 226, 140)"/>
<rect x="331.13" y="350.10" width="4.09" height="15.40" fill="rgb(254, 226, 140)"/>
<rect x="334.91" y="350.10" width="4.09" height="15.40" fill="rgb(254, 233, 156)"/>
<rect x="338.70" y="350.10" width="4.09" height="15.40" fill="rgb(255, 237, 166)"/>
<rect x="342.49" y="350.10" width="4.09" height="15.40" fill="rgb(255, 237, 166)"/>
<rect x="346.27" y="350.10" width="4.09" height="15.40" fill="rgb(254, 233, 156)"/>
<rect x="350.06" y="350.10" width="4.09" height="15.40" fill="rgb(254, 230, 150)"/>
<rect x="353.84" y="350.10" width="4.09" height="15.40" fill="rgb(254, 233, 156)"/>
<rect x="357.63" y="350.10" width="4.09" height="15.40" fill="rgb(254, 233, 156)"/>
<rect x="361.41" y="350.10" width="4.09" height="15.40" fill="rgb(254, 232, 153)"/>
<rect x="365.20" y="350.10" width="4.09" height="15.40" fill="rgb(254, 230, 150)"/>
<rect x="368.99" y="350.10" width="4.09" height="15.40" fill="rgb(254, 233, 156)"/>
<rect x="372.77" y="350.10" width="4.09" height="15.40" fill="rgb(255, 236, 162)"/>
<rect x="376.56" y="350.10" width="4.09" height="15.40" fill="rgb(255, 236, 162)"/>
<rect x="380.34" y="350.10" width="4.09" height="15.40" fill="rgb(255, 240, 172)"/>
<rect x="384.13" y="350.10" width="4.09" height="15.40" fill="rgb(255, 242, 179)"/>
<rect x="387.91" y="350.10" width="4.09" height="15.40" fill="rgb(255, 246, 190)"/>
<text x="247.3" y="361.85" font-size="10.2" fill="#000">H<tspan font-size="6.6" dy="2.6">1</tspan></text>
<rect x="259.20" y="374.00" width="4.09" height="15.40" fill="rgb(255, 248, 196)"/>
<rect x="262.99" y="374.00" width="4.09" height="15.40" fill="rgb(255, 248, 196)"/>
<rect x="266.77" y="374.00" width="4.09" height="15.40" fill="rgb(255, 248, 196)"/>
<rect x="270.56" y="374.00" width="4.09" height="15.40" fill="rgb(254, 226, 140)"/>
<rect x="274.34" y="374.00" width="4.09" height="15.40" fill="rgb(252, 96, 46)"/>
<rect x="278.13" y="374.00" width="4.09" height="15.40" fill="rgb(254, 160, 68)"/>
<rect x="281.91" y="374.00" width="4.09" height="15.40" fill="rgb(254, 233, 156)"/>
<rect x="285.70" y="374.00" width="4.09" height="15.40" fill="rgb(255, 240, 172)"/>
<rect x="289.49" y="374.00" width="4.09" height="15.40" fill="rgb(255, 240, 172)"/>
<rect x="293.27" y="374.00" width="4.09" height="15.40" fill="rgb(255, 240, 172)"/>
<rect x="297.06" y="374.00" width="4.09" height="15.40" fill="rgb(254, 233, 156)"/>
<rect x="300.84" y="374.00" width="4.09" height="15.40" fill="rgb(254, 203, 104)"/>
<rect x="304.63" y="374.00" width="4.09" height="15.40" fill="rgb(254, 203, 104)"/>
<rect x="308.41" y="374.00" width="4.09" height="15.40" fill="rgb(254, 214, 122)"/>
<rect x="312.20" y="374.00" width="4.09" height="15.40" fill="rgb(254, 178, 76)"/>
<rect x="315.99" y="374.00" width="4.09" height="15.40" fill="rgb(254, 178, 76)"/>
<rect x="319.77" y="374.00" width="4.09" height="15.40" fill="rgb(254, 214, 122)"/>
<rect x="323.56" y="374.00" width="4.09" height="15.40" fill="rgb(254, 214, 122)"/>
<rect x="327.34" y="374.00" width="4.09" height="15.40" fill="rgb(254, 233, 156)"/>
<rect x="331.13" y="374.00" width="4.09" height="15.40" fill="rgb(254, 233, 156)"/>
<rect x="334.91" y="374.00" width="4.09" height="15.40" fill="rgb(255, 237, 166)"/>
<rect x="338.70" y="374.00" width="4.09" height="15.40" fill="rgb(255, 237, 166)"/>
<rect x="342.49" y="374.00" width="4.09" height="15.40" fill="rgb(255, 237, 166)"/>
<rect x="346.27" y="374.00" width="4.09" height="15.40" fill="rgb(255, 237, 166)"/>
<rect x="350.06" y="374.00" width="4.09" height="15.40" fill="rgb(255, 237, 166)"/>
<rect x="353.84" y="374.00" width="4.09" height="15.40" fill="rgb(255, 236, 162)"/>
<rect x="357.63" y="374.00" width="4.09" height="15.40" fill="rgb(255, 237, 166)"/>
<rect x="361.41" y="374.00" width="4.09" height="15.40" fill="rgb(255, 244, 182)"/>
<rect x="365.20" y="374.00" width="4.09" height="15.40" fill="rgb(255, 244, 182)"/>
<rect x="368.99" y="374.00" width="4.09" height="15.40" fill="rgb(255, 244, 182)"/>
<rect x="372.77" y="374.00" width="4.09" height="15.40" fill="rgb(255, 244, 182)"/>
<rect x="376.56" y="374.00" width="4.09" height="15.40" fill="rgb(255, 244, 182)"/>
<rect x="380.34" y="374.00" width="4.09" height="15.40" fill="rgb(255, 244, 182)"/>
<rect x="384.13" y="374.00" width="4.09" height="15.40" fill="rgb(255, 244, 182)"/>
<rect x="387.91" y="374.00" width="4.09" height="15.40" fill="rgb(255, 244, 182)"/>
<text x="247.3" y="385.75" font-size="10.2" fill="#000">H<tspan font-size="6.6" dy="2.6">4</tspan></text>
<rect x="259.20" y="389.10" width="4.09" height="15.40" fill="rgb(255, 248, 196)"/>
<rect x="262.99" y="389.10" width="4.09" height="15.40" fill="rgb(255, 248, 196)"/>
<rect x="266.77" y="389.10" width="4.09" height="15.40" fill="rgb(255, 248, 196)"/>
<rect x="270.56" y="389.10" width="4.09" height="15.40" fill="rgb(255, 248, 196)"/>
<rect x="274.34" y="389.10" width="4.09" height="15.40" fill="rgb(255, 248, 196)"/>
<rect x="278.13" y="389.10" width="4.09" height="15.40" fill="rgb(253, 141, 60)"/>
<rect x="281.91" y="389.10" width="4.09" height="15.40" fill="rgb(216, 23, 33)"/>
<rect x="285.70" y="389.10" width="4.09" height="15.40" fill="rgb(254, 226, 140)"/>
<rect x="289.49" y="389.10" width="4.09" height="15.40" fill="rgb(254, 233, 156)"/>
<rect x="293.27" y="389.10" width="4.09" height="15.40" fill="rgb(255, 240, 172)"/>
<rect x="297.06" y="389.10" width="4.09" height="15.40" fill="rgb(254, 233, 156)"/>
<rect x="300.84" y="389.10" width="4.09" height="15.40" fill="rgb(254, 233, 156)"/>
<rect x="304.63" y="389.10" width="4.09" height="15.40" fill="rgb(254, 233, 156)"/>
<rect x="308.41" y="389.10" width="4.09" height="15.40" fill="rgb(254, 226, 140)"/>
<rect x="312.20" y="389.10" width="4.09" height="15.40" fill="rgb(254, 226, 140)"/>
<rect x="315.99" y="389.10" width="4.09" height="15.40" fill="rgb(254, 226, 140)"/>
<rect x="319.77" y="389.10" width="4.09" height="15.40" fill="rgb(254, 214, 122)"/>
<rect x="323.56" y="389.10" width="4.09" height="15.40" fill="rgb(254, 214, 122)"/>
<rect x="327.34" y="389.10" width="4.09" height="15.40" fill="rgb(254, 190, 90)"/>
<rect x="331.13" y="389.10" width="4.09" height="15.40" fill="rgb(254, 190, 90)"/>
<rect x="334.91" y="389.10" width="4.09" height="15.40" fill="rgb(254, 214, 122)"/>
<rect x="338.70" y="389.10" width="4.09" height="15.40" fill="rgb(254, 214, 122)"/>
<rect x="342.49" y="389.10" width="4.09" height="15.40" fill="rgb(254, 226, 140)"/>
<rect x="346.27" y="389.10" width="4.09" height="15.40" fill="rgb(254, 233, 156)"/>
<rect x="350.06" y="389.10" width="4.09" height="15.40" fill="rgb(254, 233, 156)"/>
<rect x="353.84" y="389.10" width="4.09" height="15.40" fill="rgb(254, 233, 156)"/>
<rect x="357.63" y="389.10" width="4.09" height="15.40" fill="rgb(255, 240, 172)"/>
<rect x="361.41" y="389.10" width="4.09" height="15.40" fill="rgb(255, 244, 182)"/>
<rect x="365.20" y="389.10" width="4.09" height="15.40" fill="rgb(255, 244, 182)"/>
<rect x="368.99" y="389.10" width="4.09" height="15.40" fill="rgb(255, 244, 182)"/>
<rect x="372.77" y="389.10" width="4.09" height="15.40" fill="rgb(255, 244, 182)"/>
<rect x="376.56" y="389.10" width="4.09" height="15.40" fill="rgb(255, 244, 182)"/>
<rect x="380.34" y="389.10" width="4.09" height="15.40" fill="rgb(255, 240, 172)"/>
<rect x="384.13" y="389.10" width="4.09" height="15.40" fill="rgb(255, 244, 182)"/>
<rect x="387.91" y="389.10" width="4.09" height="15.40" fill="rgb(255, 246, 190)"/>
<text x="247.3" y="400.85" font-size="10.2" fill="#000">H<tspan font-size="6.6" dy="2.6">3</tspan></text>
<rect x="259.20" y="404.20" width="4.09" height="15.40" fill="rgb(255, 248, 196)"/>
<rect x="262.99" y="404.20" width="4.09" height="15.40" fill="rgb(255, 248, 196)"/>
<rect x="266.77" y="404.20" width="4.09" height="15.40" fill="rgb(255, 248, 196)"/>
<rect x="270.56" y="404.20" width="4.09" height="15.40" fill="rgb(254, 214, 122)"/>
<rect x="274.34" y="404.20" width="4.09" height="15.40" fill="rgb(125, 0, 36)"/>
<rect x="278.13" y="404.20" width="4.09" height="15.40" fill="rgb(216, 23, 33)"/>
<rect x="281.91" y="404.20" width="4.09" height="15.40" fill="rgb(254, 190, 90)"/>
<rect x="285.70" y="404.20" width="4.09" height="15.40" fill="rgb(254, 226, 140)"/>
<rect x="289.49" y="404.20" width="4.09" height="15.40" fill="rgb(254, 226, 140)"/>
<rect x="293.27" y="404.20" width="4.09" height="15.40" fill="rgb(254, 233, 156)"/>
<rect x="297.06" y="404.20" width="4.09" height="15.40" fill="rgb(255, 240, 172)"/>
<rect x="300.84" y="404.20" width="4.09" height="15.40" fill="rgb(254, 233, 156)"/>
<rect x="304.63" y="404.20" width="4.09" height="15.40" fill="rgb(254, 226, 140)"/>
<rect x="308.41" y="404.20" width="4.09" height="15.40" fill="rgb(254, 233, 156)"/>
<rect x="312.20" y="404.20" width="4.09" height="15.40" fill="rgb(255, 237, 166)"/>
<rect x="315.99" y="404.20" width="4.09" height="15.40" fill="rgb(255, 237, 166)"/>
<rect x="319.77" y="404.20" width="4.09" height="15.40" fill="rgb(254, 233, 156)"/>
<rect x="323.56" y="404.20" width="4.09" height="15.40" fill="rgb(254, 233, 156)"/>
<rect x="327.34" y="404.20" width="4.09" height="15.40" fill="rgb(254, 233, 156)"/>
<rect x="331.13" y="404.20" width="4.09" height="15.40" fill="rgb(254, 233, 156)"/>
<rect x="334.91" y="404.20" width="4.09" height="15.40" fill="rgb(255, 237, 166)"/>
<rect x="338.70" y="404.20" width="4.09" height="15.40" fill="rgb(254, 233, 156)"/>
<rect x="342.49" y="404.20" width="4.09" height="15.40" fill="rgb(254, 233, 156)"/>
<rect x="346.27" y="404.20" width="4.09" height="15.40" fill="rgb(255, 240, 172)"/>
<rect x="350.06" y="404.20" width="4.09" height="15.40" fill="rgb(255, 240, 172)"/>
<rect x="353.84" y="404.20" width="4.09" height="15.40" fill="rgb(254, 233, 156)"/>
<rect x="357.63" y="404.20" width="4.09" height="15.40" fill="rgb(255, 237, 166)"/>
<rect x="361.41" y="404.20" width="4.09" height="15.40" fill="rgb(255, 237, 166)"/>
<rect x="365.20" y="404.20" width="4.09" height="15.40" fill="rgb(255, 240, 172)"/>
<rect x="368.99" y="404.20" width="4.09" height="15.40" fill="rgb(255, 244, 182)"/>
<rect x="372.77" y="404.20" width="4.09" height="15.40" fill="rgb(255, 244, 182)"/>
<rect x="376.56" y="404.20" width="4.09" height="15.40" fill="rgb(255, 244, 182)"/>
<rect x="380.34" y="404.20" width="4.09" height="15.40" fill="rgb(255, 244, 182)"/>
<rect x="384.13" y="404.20" width="4.09" height="15.40" fill="rgb(255, 244, 182)"/>
<rect x="387.91" y="404.20" width="4.09" height="15.40" fill="rgb(255, 244, 182)"/>
<text x="247.3" y="415.95" font-size="10.2" fill="#000">H<tspan font-size="6.6" dy="2.6">2</tspan></text>
<rect x="259.20" y="419.30" width="4.09" height="15.40" fill="rgb(255, 248, 196)"/>
<rect x="262.99" y="419.30" width="4.09" height="15.40" fill="rgb(255, 248, 196)"/>
<rect x="266.77" y="419.30" width="4.09" height="15.40" fill="rgb(255, 248, 196)"/>
<rect x="270.56" y="419.30" width="4.09" height="15.40" fill="rgb(255, 248, 196)"/>
<rect x="274.34" y="419.30" width="4.09" height="15.40" fill="rgb(255, 248, 196)"/>
<rect x="278.13" y="419.30" width="4.09" height="15.40" fill="rgb(253, 141, 60)"/>
<rect x="281.91" y="419.30" width="4.09" height="15.40" fill="rgb(216, 23, 33)"/>
<rect x="285.70" y="419.30" width="4.09" height="15.40" fill="rgb(254, 190, 90)"/>
<rect x="289.49" y="419.30" width="4.09" height="15.40" fill="rgb(254, 226, 140)"/>
<rect x="293.27" y="419.30" width="4.09" height="15.40" fill="rgb(254, 233, 156)"/>
<rect x="297.06" y="419.30" width="4.09" height="15.40" fill="rgb(254, 233, 156)"/>
<rect x="300.84" y="419.30" width="4.09" height="15.40" fill="rgb(254, 233, 156)"/>
<rect x="304.63" y="419.30" width="4.09" height="15.40" fill="rgb(254, 233, 156)"/>
<rect x="308.41" y="419.30" width="4.09" height="15.40" fill="rgb(254, 233, 156)"/>
<rect x="312.20" y="419.30" width="4.09" height="15.40" fill="rgb(255, 237, 166)"/>
<rect x="315.99" y="419.30" width="4.09" height="15.40" fill="rgb(255, 237, 166)"/>
<rect x="319.77" y="419.30" width="4.09" height="15.40" fill="rgb(254, 233, 156)"/>
<rect x="323.56" y="419.30" width="4.09" height="15.40" fill="rgb(255, 240, 172)"/>
<rect x="327.34" y="419.30" width="4.09" height="15.40" fill="rgb(254, 233, 156)"/>
<rect x="331.13" y="419.30" width="4.09" height="15.40" fill="rgb(254, 233, 156)"/>
<rect x="334.91" y="419.30" width="4.09" height="15.40" fill="rgb(254, 233, 156)"/>
<rect x="338.70" y="419.30" width="4.09" height="15.40" fill="rgb(254, 233, 156)"/>
<rect x="342.49" y="419.30" width="4.09" height="15.40" fill="rgb(254, 226, 140)"/>
<rect x="346.27" y="419.30" width="4.09" height="15.40" fill="rgb(254, 226, 140)"/>
<rect x="350.06" y="419.30" width="4.09" height="15.40" fill="rgb(255, 240, 172)"/>
<rect x="353.84" y="419.30" width="4.09" height="15.40" fill="rgb(254, 203, 104)"/>
<rect x="357.63" y="419.30" width="4.09" height="15.40" fill="rgb(254, 203, 104)"/>
<rect x="361.41" y="419.30" width="4.09" height="15.40" fill="rgb(255, 240, 172)"/>
<rect x="365.20" y="419.30" width="4.09" height="15.40" fill="rgb(255, 242, 179)"/>
<rect x="368.99" y="419.30" width="4.09" height="15.40" fill="rgb(255, 242, 179)"/>
<rect x="372.77" y="419.30" width="4.09" height="15.40" fill="rgb(255, 242, 179)"/>
<rect x="376.56" y="419.30" width="4.09" height="15.40" fill="rgb(255, 242, 179)"/>
<rect x="380.34" y="419.30" width="4.09" height="15.40" fill="rgb(255, 242, 179)"/>
<rect x="384.13" y="419.30" width="4.09" height="15.40" fill="rgb(255, 237, 166)"/>
<rect x="387.91" y="419.30" width="4.09" height="15.40" fill="rgb(255, 237, 166)"/>
<text x="247.3" y="431.05" font-size="10.2" fill="#000">H<tspan font-size="6.6" dy="2.6">1</tspan></text>
<rect x="259.20" y="443.00" width="4.09" height="15.40" fill="rgb(255, 248, 196)"/>
<rect x="262.99" y="443.00" width="4.09" height="15.40" fill="rgb(255, 248, 196)"/>
<rect x="266.77" y="443.00" width="4.09" height="15.40" fill="rgb(255, 240, 172)"/>
<rect x="270.56" y="443.00" width="4.09" height="15.40" fill="rgb(254, 214, 122)"/>
<rect x="274.34" y="443.00" width="4.09" height="15.40" fill="rgb(254, 226, 140)"/>
<rect x="278.13" y="443.00" width="4.09" height="15.40" fill="rgb(254, 233, 156)"/>
<rect x="281.91" y="443.00" width="4.09" height="15.40" fill="rgb(254, 233, 156)"/>
<rect x="285.70" y="443.00" width="4.09" height="15.40" fill="rgb(254, 178, 76)"/>
<rect x="289.49" y="443.00" width="4.09" height="15.40" fill="rgb(254, 178, 76)"/>
<rect x="293.27" y="443.00" width="4.09" height="15.40" fill="rgb(254, 160, 68)"/>
<rect x="297.06" y="443.00" width="4.09" height="15.40" fill="rgb(252, 96, 46)"/>
<rect x="300.84" y="443.00" width="4.09" height="15.40" fill="rgb(254, 160, 68)"/>
<rect x="304.63" y="443.00" width="4.09" height="15.40" fill="rgb(232, 38, 30)"/>
<rect x="308.41" y="443.00" width="4.09" height="15.40" fill="rgb(125, 0, 36)"/>
<rect x="312.20" y="443.00" width="4.09" height="15.40" fill="rgb(252, 96, 46)"/>
<rect x="315.99" y="443.00" width="4.09" height="15.40" fill="rgb(254, 160, 68)"/>
<rect x="319.77" y="443.00" width="4.09" height="15.40" fill="rgb(254, 178, 76)"/>
<rect x="323.56" y="443.00" width="4.09" height="15.40" fill="rgb(254, 203, 104)"/>
<rect x="327.34" y="443.00" width="4.09" height="15.40" fill="rgb(254, 226, 140)"/>
<rect x="331.13" y="443.00" width="4.09" height="15.40" fill="rgb(254, 233, 156)"/>
<rect x="334.91" y="443.00" width="4.09" height="15.40" fill="rgb(255, 237, 166)"/>
<rect x="338.70" y="443.00" width="4.09" height="15.40" fill="rgb(255, 240, 172)"/>
<rect x="342.49" y="443.00" width="4.09" height="15.40" fill="rgb(255, 246, 190)"/>
<rect x="346.27" y="443.00" width="4.09" height="15.40" fill="rgb(255, 246, 190)"/>
<rect x="350.06" y="443.00" width="4.09" height="15.40" fill="rgb(255, 246, 190)"/>
<rect x="353.84" y="443.00" width="4.09" height="15.40" fill="rgb(255, 246, 190)"/>
<rect x="357.63" y="443.00" width="4.09" height="15.40" fill="rgb(255, 246, 190)"/>
<rect x="361.41" y="443.00" width="4.09" height="15.40" fill="rgb(255, 246, 190)"/>
<rect x="365.20" y="443.00" width="4.09" height="15.40" fill="rgb(255, 246, 190)"/>
<rect x="368.99" y="443.00" width="4.09" height="15.40" fill="rgb(255, 246, 190)"/>
<rect x="372.77" y="443.00" width="4.09" height="15.40" fill="rgb(255, 246, 190)"/>
<rect x="376.56" y="443.00" width="4.09" height="15.40" fill="rgb(255, 246, 190)"/>
<rect x="380.34" y="443.00" width="4.09" height="15.40" fill="rgb(255, 246, 190)"/>
<rect x="384.13" y="443.00" width="4.09" height="15.40" fill="rgb(255, 246, 190)"/>
<rect x="387.91" y="443.00" width="4.09" height="15.40" fill="rgb(255, 246, 190)"/>
<text x="247.3" y="454.75" font-size="10.2" fill="#000">H<tspan font-size="6.6" dy="2.6">4</tspan></text>
<rect x="259.20" y="458.10" width="4.09" height="15.40" fill="rgb(255, 248, 196)"/>
<rect x="262.99" y="458.10" width="4.09" height="15.40" fill="rgb(255, 248, 196)"/>
<rect x="266.77" y="458.10" width="4.09" height="15.40" fill="rgb(255, 248, 196)"/>
<rect x="270.56" y="458.10" width="4.09" height="15.40" fill="rgb(255, 240, 172)"/>
<rect x="274.34" y="458.10" width="4.09" height="15.40" fill="rgb(254, 226, 140)"/>
<rect x="278.13" y="458.10" width="4.09" height="15.40" fill="rgb(254, 226, 140)"/>
<rect x="281.91" y="458.10" width="4.09" height="15.40" fill="rgb(254, 233, 156)"/>
<rect x="285.70" y="458.10" width="4.09" height="15.40" fill="rgb(254, 233, 156)"/>
<rect x="289.49" y="458.10" width="4.09" height="15.40" fill="rgb(254, 233, 156)"/>
<rect x="293.27" y="458.10" width="4.09" height="15.40" fill="rgb(254, 233, 156)"/>
<rect x="297.06" y="458.10" width="4.09" height="15.40" fill="rgb(254, 226, 140)"/>
<rect x="300.84" y="458.10" width="4.09" height="15.40" fill="rgb(254, 160, 68)"/>
<rect x="304.63" y="458.10" width="4.09" height="15.40" fill="rgb(232, 38, 30)"/>
<rect x="308.41" y="458.10" width="4.09" height="15.40" fill="rgb(200, 8, 36)"/>
<rect x="312.20" y="458.10" width="4.09" height="15.40" fill="rgb(252, 96, 46)"/>
<rect x="315.99" y="458.10" width="4.09" height="15.40" fill="rgb(232, 38, 30)"/>
<rect x="319.77" y="458.10" width="4.09" height="15.40" fill="rgb(232, 38, 30)"/>
<rect x="323.56" y="458.10" width="4.09" height="15.40" fill="rgb(253, 141, 60)"/>
<rect x="327.34" y="458.10" width="4.09" height="15.40" fill="rgb(254, 203, 104)"/>
<rect x="331.13" y="458.10" width="4.09" height="15.40" fill="rgb(254, 203, 104)"/>
<rect x="334.91" y="458.10" width="4.09" height="15.40" fill="rgb(254, 214, 122)"/>
<rect x="338.70" y="458.10" width="4.09" height="15.40" fill="rgb(254, 233, 156)"/>
<rect x="342.49" y="458.10" width="4.09" height="15.40" fill="rgb(255, 240, 172)"/>
<rect x="346.27" y="458.10" width="4.09" height="15.40" fill="rgb(255, 242, 179)"/>
<rect x="350.06" y="458.10" width="4.09" height="15.40" fill="rgb(255, 242, 179)"/>
<rect x="353.84" y="458.10" width="4.09" height="15.40" fill="rgb(255, 242, 179)"/>
<rect x="357.63" y="458.10" width="4.09" height="15.40" fill="rgb(255, 242, 179)"/>
<rect x="361.41" y="458.10" width="4.09" height="15.40" fill="rgb(255, 242, 179)"/>
<rect x="365.20" y="458.10" width="4.09" height="15.40" fill="rgb(255, 242, 179)"/>
<rect x="368.99" y="458.10" width="4.09" height="15.40" fill="rgb(255, 246, 190)"/>
<rect x="372.77" y="458.10" width="4.09" height="15.40" fill="rgb(255, 246, 190)"/>
<rect x="376.56" y="458.10" width="4.09" height="15.40" fill="rgb(255, 246, 190)"/>
<rect x="380.34" y="458.10" width="4.09" height="15.40" fill="rgb(255, 246, 190)"/>
<rect x="384.13" y="458.10" width="4.09" height="15.40" fill="rgb(255, 246, 190)"/>
<rect x="387.91" y="458.10" width="4.09" height="15.40" fill="rgb(255, 246, 190)"/>
<text x="247.3" y="469.85" font-size="10.2" fill="#000">H<tspan font-size="6.6" dy="2.6">3</tspan></text>
<rect x="259.20" y="473.20" width="4.09" height="15.40" fill="rgb(255, 248, 196)"/>
<rect x="262.99" y="473.20" width="4.09" height="15.40" fill="rgb(255, 248, 196)"/>
<rect x="266.77" y="473.20" width="4.09" height="15.40" fill="rgb(254, 233, 156)"/>
<rect x="270.56" y="473.20" width="4.09" height="15.40" fill="rgb(254, 190, 90)"/>
<rect x="274.34" y="473.20" width="4.09" height="15.40" fill="rgb(254, 226, 140)"/>
<rect x="278.13" y="473.20" width="4.09" height="15.40" fill="rgb(255, 240, 172)"/>
<rect x="281.91" y="473.20" width="4.09" height="15.40" fill="rgb(254, 233, 156)"/>
<rect x="285.70" y="473.20" width="4.09" height="15.40" fill="rgb(254, 233, 156)"/>
<rect x="289.49" y="473.20" width="4.09" height="15.40" fill="rgb(254, 233, 156)"/>
<rect x="293.27" y="473.20" width="4.09" height="15.40" fill="rgb(254, 233, 156)"/>
<rect x="297.06" y="473.20" width="4.09" height="15.40" fill="rgb(254, 233, 156)"/>
<rect x="300.84" y="473.20" width="4.09" height="15.40" fill="rgb(254, 226, 140)"/>
<rect x="304.63" y="473.20" width="4.09" height="15.40" fill="rgb(254, 178, 76)"/>
<rect x="308.41" y="473.20" width="4.09" height="15.40" fill="rgb(254, 160, 68)"/>
<rect x="312.20" y="473.20" width="4.09" height="15.40" fill="rgb(252, 96, 46)"/>
<rect x="315.99" y="473.20" width="4.09" height="15.40" fill="rgb(242, 67, 38)"/>
<rect x="319.77" y="473.20" width="4.09" height="15.40" fill="rgb(216, 23, 33)"/>
<rect x="323.56" y="473.20" width="4.09" height="15.40" fill="rgb(200, 8, 36)"/>
<rect x="327.34" y="473.20" width="4.09" height="15.40" fill="rgb(254, 160, 68)"/>
<rect x="331.13" y="473.20" width="4.09" height="15.40" fill="rgb(254, 190, 90)"/>
<rect x="334.91" y="473.20" width="4.09" height="15.40" fill="rgb(254, 190, 90)"/>
<rect x="338.70" y="473.20" width="4.09" height="15.40" fill="rgb(254, 203, 104)"/>
<rect x="342.49" y="473.20" width="4.09" height="15.40" fill="rgb(254, 203, 104)"/>
<rect x="346.27" y="473.20" width="4.09" height="15.40" fill="rgb(254, 214, 122)"/>
<rect x="350.06" y="473.20" width="4.09" height="15.40" fill="rgb(254, 214, 122)"/>
<rect x="353.84" y="473.20" width="4.09" height="15.40" fill="rgb(254, 226, 140)"/>
<rect x="357.63" y="473.20" width="4.09" height="15.40" fill="rgb(255, 240, 172)"/>
<rect x="361.41" y="473.20" width="4.09" height="15.40" fill="rgb(255, 246, 190)"/>
<rect x="365.20" y="473.20" width="4.09" height="15.40" fill="rgb(255, 246, 190)"/>
<rect x="368.99" y="473.20" width="4.09" height="15.40" fill="rgb(255, 246, 190)"/>
<rect x="372.77" y="473.20" width="4.09" height="15.40" fill="rgb(255, 246, 190)"/>
<rect x="376.56" y="473.20" width="4.09" height="15.40" fill="rgb(255, 246, 190)"/>
<rect x="380.34" y="473.20" width="4.09" height="15.40" fill="rgb(255, 246, 190)"/>
<rect x="384.13" y="473.20" width="4.09" height="15.40" fill="rgb(255, 246, 190)"/>
<rect x="387.91" y="473.20" width="4.09" height="15.40" fill="rgb(255, 246, 190)"/>
<text x="247.3" y="484.95" font-size="10.2" fill="#000">H<tspan font-size="6.6" dy="2.6">2</tspan></text>
<rect x="259.20" y="488.30" width="4.09" height="15.40" fill="rgb(255, 248, 196)"/>
<rect x="262.99" y="488.30" width="4.09" height="15.40" fill="rgb(255, 248, 196)"/>
<rect x="266.77" y="488.30" width="4.09" height="15.40" fill="rgb(255, 248, 196)"/>
<rect x="270.56" y="488.30" width="4.09" height="15.40" fill="rgb(255, 248, 196)"/>
<rect x="274.34" y="488.30" width="4.09" height="15.40" fill="rgb(255, 248, 196)"/>
<rect x="278.13" y="488.30" width="4.09" height="15.40" fill="rgb(255, 248, 196)"/>
<rect x="281.91" y="488.30" width="4.09" height="15.40" fill="rgb(255, 244, 182)"/>
<rect x="285.70" y="488.30" width="4.09" height="15.40" fill="rgb(255, 240, 172)"/>
<rect x="289.49" y="488.30" width="4.09" height="15.40" fill="rgb(255, 240, 172)"/>
<rect x="293.27" y="488.30" width="4.09" height="15.40" fill="rgb(255, 240, 172)"/>
<rect x="297.06" y="488.30" width="4.09" height="15.40" fill="rgb(254, 233, 156)"/>
<rect x="300.84" y="488.30" width="4.09" height="15.40" fill="rgb(254, 226, 140)"/>
<rect x="304.63" y="488.30" width="4.09" height="15.40" fill="rgb(254, 233, 156)"/>
<rect x="308.41" y="488.30" width="4.09" height="15.40" fill="rgb(253, 141, 60)"/>
<rect x="312.20" y="488.30" width="4.09" height="15.40" fill="rgb(253, 141, 60)"/>
<rect x="315.99" y="488.30" width="4.09" height="15.40" fill="rgb(180, 4, 37)"/>
<rect x="319.77" y="488.30" width="4.09" height="15.40" fill="rgb(125, 0, 36)"/>
<rect x="323.56" y="488.30" width="4.09" height="15.40" fill="rgb(232, 38, 30)"/>
<rect x="327.34" y="488.30" width="4.09" height="15.40" fill="rgb(253, 141, 60)"/>
<rect x="331.13" y="488.30" width="4.09" height="15.40" fill="rgb(254, 178, 76)"/>
<rect x="334.91" y="488.30" width="4.09" height="15.40" fill="rgb(254, 203, 104)"/>
<rect x="338.70" y="488.30" width="4.09" height="15.40" fill="rgb(255, 237, 166)"/>
<rect x="342.49" y="488.30" width="4.09" height="15.40" fill="rgb(255, 240, 172)"/>
<rect x="346.27" y="488.30" width="4.09" height="15.40" fill="rgb(255, 237, 166)"/>
<rect x="350.06" y="488.30" width="4.09" height="15.40" fill="rgb(255, 237, 166)"/>
<rect x="353.84" y="488.30" width="4.09" height="15.40" fill="rgb(254, 233, 156)"/>
<rect x="357.63" y="488.30" width="4.09" height="15.40" fill="rgb(254, 233, 156)"/>
<rect x="361.41" y="488.30" width="4.09" height="15.40" fill="rgb(254, 226, 140)"/>
<rect x="365.20" y="488.30" width="4.09" height="15.40" fill="rgb(254, 226, 140)"/>
<rect x="368.99" y="488.30" width="4.09" height="15.40" fill="rgb(255, 240, 172)"/>
<rect x="372.77" y="488.30" width="4.09" height="15.40" fill="rgb(255, 246, 190)"/>
<rect x="376.56" y="488.30" width="4.09" height="15.40" fill="rgb(255, 246, 190)"/>
<rect x="380.34" y="488.30" width="4.09" height="15.40" fill="rgb(255, 246, 190)"/>
<rect x="384.13" y="488.30" width="4.09" height="15.40" fill="rgb(255, 246, 190)"/>
<rect x="387.91" y="488.30" width="4.09" height="15.40" fill="rgb(255, 246, 190)"/>
<text x="247.3" y="500.05" font-size="10.2" fill="#000">H<tspan font-size="6.6" dy="2.6">1</tspan></text>
<rect x="259.20" y="511.00" width="4.09" height="15.40" fill="rgb(255, 248, 196)"/>
<rect x="262.99" y="511.00" width="4.09" height="15.40" fill="rgb(255, 246, 190)"/>
<rect x="266.77" y="511.00" width="4.09" height="15.40" fill="rgb(254, 233, 156)"/>
<rect x="270.56" y="511.00" width="4.09" height="15.40" fill="rgb(254, 203, 104)"/>
<rect x="274.34" y="511.00" width="4.09" height="15.40" fill="rgb(254, 160, 68)"/>
<rect x="278.13" y="511.00" width="4.09" height="15.40" fill="rgb(254, 214, 122)"/>
<rect x="281.91" y="511.00" width="4.09" height="15.40" fill="rgb(255, 240, 172)"/>
<rect x="285.70" y="511.00" width="4.09" height="15.40" fill="rgb(254, 214, 122)"/>
<rect x="289.49" y="511.00" width="4.09" height="15.40" fill="rgb(252, 96, 46)"/>
<rect x="293.27" y="511.00" width="4.09" height="15.40" fill="rgb(180, 4, 37)"/>
<rect x="297.06" y="511.00" width="4.09" height="15.40" fill="rgb(125, 0, 36)"/>
<rect x="300.84" y="511.00" width="4.09" height="15.40" fill="rgb(180, 4, 37)"/>
<rect x="304.63" y="511.00" width="4.09" height="15.40" fill="rgb(232, 38, 30)"/>
<rect x="308.41" y="511.00" width="4.09" height="15.40" fill="rgb(254, 160, 68)"/>
<rect x="312.20" y="511.00" width="4.09" height="15.40" fill="rgb(254, 226, 140)"/>
<rect x="315.99" y="511.00" width="4.09" height="15.40" fill="rgb(254, 233, 156)"/>
<rect x="319.77" y="511.00" width="4.09" height="15.40" fill="rgb(254, 233, 156)"/>
<rect x="323.56" y="511.00" width="4.09" height="15.40" fill="rgb(254, 233, 156)"/>
<rect x="327.34" y="511.00" width="4.09" height="15.40" fill="rgb(254, 233, 156)"/>
<rect x="331.13" y="511.00" width="4.09" height="15.40" fill="rgb(255, 240, 172)"/>
<rect x="334.91" y="511.00" width="4.09" height="15.40" fill="rgb(255, 240, 172)"/>
<rect x="338.70" y="511.00" width="4.09" height="15.40" fill="rgb(255, 246, 190)"/>
<rect x="342.49" y="511.00" width="4.09" height="15.40" fill="rgb(255, 246, 190)"/>
<rect x="346.27" y="511.00" width="4.09" height="15.40" fill="rgb(255, 246, 190)"/>
<rect x="350.06" y="511.00" width="4.09" height="15.40" fill="rgb(255, 246, 190)"/>
<rect x="353.84" y="511.00" width="4.09" height="15.40" fill="rgb(255, 246, 190)"/>
<rect x="357.63" y="511.00" width="4.09" height="15.40" fill="rgb(255, 246, 190)"/>
<rect x="361.41" y="511.00" width="4.09" height="15.40" fill="rgb(255, 246, 190)"/>
<rect x="365.20" y="511.00" width="4.09" height="15.40" fill="rgb(255, 246, 190)"/>
<rect x="368.99" y="511.00" width="4.09" height="15.40" fill="rgb(255, 246, 190)"/>
<rect x="372.77" y="511.00" width="4.09" height="15.40" fill="rgb(255, 246, 190)"/>
<rect x="376.56" y="511.00" width="4.09" height="15.40" fill="rgb(255, 246, 190)"/>
<rect x="380.34" y="511.00" width="4.09" height="15.40" fill="rgb(255, 246, 190)"/>
<rect x="384.13" y="511.00" width="4.09" height="15.40" fill="rgb(255, 246, 190)"/>
<rect x="387.91" y="511.00" width="4.09" height="15.40" fill="rgb(255, 246, 190)"/>
<text x="247.3" y="522.75" font-size="10.2" fill="#000">H<tspan font-size="6.6" dy="2.6">4</tspan></text>
<rect x="259.20" y="526.10" width="4.09" height="15.40" fill="rgb(255, 248, 196)"/>
<rect x="262.99" y="526.10" width="4.09" height="15.40" fill="rgb(255, 248, 196)"/>
<rect x="266.77" y="526.10" width="4.09" height="15.40" fill="rgb(255, 248, 196)"/>
<rect x="270.56" y="526.10" width="4.09" height="15.40" fill="rgb(255, 240, 172)"/>
<rect x="274.34" y="526.10" width="4.09" height="15.40" fill="rgb(254, 178, 76)"/>
<rect x="278.13" y="526.10" width="4.09" height="15.40" fill="rgb(252, 118, 53)"/>
<rect x="281.91" y="526.10" width="4.09" height="15.40" fill="rgb(253, 141, 60)"/>
<rect x="285.70" y="526.10" width="4.09" height="15.40" fill="rgb(254, 233, 156)"/>
<rect x="289.49" y="526.10" width="4.09" height="15.40" fill="rgb(254, 233, 156)"/>
<rect x="293.27" y="526.10" width="4.09" height="15.40" fill="rgb(254, 233, 156)"/>
<rect x="297.06" y="526.10" width="4.09" height="15.40" fill="rgb(254, 226, 140)"/>
<rect x="300.84" y="526.10" width="4.09" height="15.40" fill="rgb(254, 178, 76)"/>
<rect x="304.63" y="526.10" width="4.09" height="15.40" fill="rgb(253, 141, 60)"/>
<rect x="308.41" y="526.10" width="4.09" height="15.40" fill="rgb(242, 67, 38)"/>
<rect x="312.20" y="526.10" width="4.09" height="15.40" fill="rgb(242, 67, 38)"/>
<rect x="315.99" y="526.10" width="4.09" height="15.40" fill="rgb(232, 38, 30)"/>
<rect x="319.77" y="526.10" width="4.09" height="15.40" fill="rgb(232, 38, 30)"/>
<rect x="323.56" y="526.10" width="4.09" height="15.40" fill="rgb(252, 96, 46)"/>
<rect x="327.34" y="526.10" width="4.09" height="15.40" fill="rgb(254, 178, 76)"/>
<rect x="331.13" y="526.10" width="4.09" height="15.40" fill="rgb(254, 214, 122)"/>
<rect x="334.91" y="526.10" width="4.09" height="15.40" fill="rgb(254, 226, 140)"/>
<rect x="338.70" y="526.10" width="4.09" height="15.40" fill="rgb(254, 233, 156)"/>
<rect x="342.49" y="526.10" width="4.09" height="15.40" fill="rgb(254, 233, 156)"/>
<rect x="346.27" y="526.10" width="4.09" height="15.40" fill="rgb(255, 236, 162)"/>
<rect x="350.06" y="526.10" width="4.09" height="15.40" fill="rgb(255, 246, 190)"/>
<rect x="353.84" y="526.10" width="4.09" height="15.40" fill="rgb(255, 246, 190)"/>
<rect x="357.63" y="526.10" width="4.09" height="15.40" fill="rgb(255, 246, 190)"/>
<rect x="361.41" y="526.10" width="4.09" height="15.40" fill="rgb(255, 246, 190)"/>
<rect x="365.20" y="526.10" width="4.09" height="15.40" fill="rgb(255, 246, 190)"/>
<rect x="368.99" y="526.10" width="4.09" height="15.40" fill="rgb(255, 246, 190)"/>
<rect x="372.77" y="526.10" width="4.09" height="15.40" fill="rgb(255, 246, 190)"/>
<rect x="376.56" y="526.10" width="4.09" height="15.40" fill="rgb(255, 246, 190)"/>
<rect x="380.34" y="526.10" width="4.09" height="15.40" fill="rgb(255, 246, 190)"/>
<rect x="384.13" y="526.10" width="4.09" height="15.40" fill="rgb(255, 246, 190)"/>
<rect x="387.91" y="526.10" width="4.09" height="15.40" fill="rgb(255, 246, 190)"/>
<text x="247.3" y="537.85" font-size="10.2" fill="#000">H<tspan font-size="6.6" dy="2.6">3</tspan></text>
<rect x="259.20" y="541.20" width="4.09" height="15.40" fill="rgb(255, 248, 196)"/>
<rect x="262.99" y="541.20" width="4.09" height="15.40" fill="rgb(255, 248, 196)"/>
<rect x="266.77" y="541.20" width="4.09" height="15.40" fill="rgb(254, 233, 156)"/>
<rect x="270.56" y="541.20" width="4.09" height="15.40" fill="rgb(254, 203, 104)"/>
<rect x="274.34" y="541.20" width="4.09" height="15.40" fill="rgb(254, 160, 68)"/>
<rect x="278.13" y="541.20" width="4.09" height="15.40" fill="rgb(254, 214, 122)"/>
<rect x="281.91" y="541.20" width="4.09" height="15.40" fill="rgb(255, 240, 172)"/>
<rect x="285.70" y="541.20" width="4.09" height="15.40" fill="rgb(255, 240, 172)"/>
<rect x="289.49" y="541.20" width="4.09" height="15.40" fill="rgb(254, 233, 156)"/>
<rect x="293.27" y="541.20" width="4.09" height="15.40" fill="rgb(254, 214, 122)"/>
<rect x="297.06" y="541.20" width="4.09" height="15.40" fill="rgb(254, 178, 76)"/>
<rect x="300.84" y="541.20" width="4.09" height="15.40" fill="rgb(252, 118, 53)"/>
<rect x="304.63" y="541.20" width="4.09" height="15.40" fill="rgb(232, 38, 30)"/>
<rect x="308.41" y="541.20" width="4.09" height="15.40" fill="rgb(200, 8, 36)"/>
<rect x="312.20" y="541.20" width="4.09" height="15.40" fill="rgb(216, 23, 33)"/>
<rect x="315.99" y="541.20" width="4.09" height="15.40" fill="rgb(242, 67, 38)"/>
<rect x="319.77" y="541.20" width="4.09" height="15.40" fill="rgb(254, 160, 68)"/>
<rect x="323.56" y="541.20" width="4.09" height="15.40" fill="rgb(254, 203, 104)"/>
<rect x="327.34" y="541.20" width="4.09" height="15.40" fill="rgb(254, 214, 122)"/>
<rect x="331.13" y="541.20" width="4.09" height="15.40" fill="rgb(254, 226, 140)"/>
<rect x="334.91" y="541.20" width="4.09" height="15.40" fill="rgb(254, 226, 140)"/>
<rect x="338.70" y="541.20" width="4.09" height="15.40" fill="rgb(254, 233, 156)"/>
<rect x="342.49" y="541.20" width="4.09" height="15.40" fill="rgb(255, 237, 166)"/>
<rect x="346.27" y="541.20" width="4.09" height="15.40" fill="rgb(255, 240, 172)"/>
<rect x="350.06" y="541.20" width="4.09" height="15.40" fill="rgb(255, 245, 186)"/>
<rect x="353.84" y="541.20" width="4.09" height="15.40" fill="rgb(255, 245, 186)"/>
<rect x="357.63" y="541.20" width="4.09" height="15.40" fill="rgb(255, 245, 186)"/>
<rect x="361.41" y="541.20" width="4.09" height="15.40" fill="rgb(255, 245, 186)"/>
<rect x="365.20" y="541.20" width="4.09" height="15.40" fill="rgb(255, 245, 186)"/>
<rect x="368.99" y="541.20" width="4.09" height="15.40" fill="rgb(255, 245, 186)"/>
<rect x="372.77" y="541.20" width="4.09" height="15.40" fill="rgb(255, 245, 186)"/>
<rect x="376.56" y="541.20" width="4.09" height="15.40" fill="rgb(255, 245, 186)"/>
<rect x="380.34" y="541.20" width="4.09" height="15.40" fill="rgb(255, 245, 186)"/>
<rect x="384.13" y="541.20" width="4.09" height="15.40" fill="rgb(255, 245, 186)"/>
<rect x="387.91" y="541.20" width="4.09" height="15.40" fill="rgb(255, 245, 186)"/>
<text x="247.3" y="552.95" font-size="10.2" fill="#000">H<tspan font-size="6.6" dy="2.6">2</tspan></text>
<rect x="259.20" y="556.30" width="4.09" height="15.40" fill="rgb(255, 248, 196)"/>
<rect x="262.99" y="556.30" width="4.09" height="15.40" fill="rgb(255, 248, 196)"/>
<rect x="266.77" y="556.30" width="4.09" height="15.40" fill="rgb(255, 248, 196)"/>
<rect x="270.56" y="556.30" width="4.09" height="15.40" fill="rgb(255, 246, 190)"/>
<rect x="274.34" y="556.30" width="4.09" height="15.40" fill="rgb(254, 160, 68)"/>
<rect x="278.13" y="556.30" width="4.09" height="15.40" fill="rgb(252, 96, 46)"/>
<rect x="281.91" y="556.30" width="4.09" height="15.40" fill="rgb(254, 160, 68)"/>
<rect x="285.70" y="556.30" width="4.09" height="15.40" fill="rgb(255, 240, 172)"/>
<rect x="289.49" y="556.30" width="4.09" height="15.40" fill="rgb(255, 240, 172)"/>
<rect x="293.27" y="556.30" width="4.09" height="15.40" fill="rgb(255, 240, 172)"/>
<rect x="297.06" y="556.30" width="4.09" height="15.40" fill="rgb(255, 240, 172)"/>
<rect x="300.84" y="556.30" width="4.09" height="15.40" fill="rgb(255, 240, 172)"/>
<rect x="304.63" y="556.30" width="4.09" height="15.40" fill="rgb(255, 240, 172)"/>
<rect x="308.41" y="556.30" width="4.09" height="15.40" fill="rgb(254, 233, 156)"/>
<rect x="312.20" y="556.30" width="4.09" height="15.40" fill="rgb(254, 226, 140)"/>
<rect x="315.99" y="556.30" width="4.09" height="15.40" fill="rgb(254, 203, 104)"/>
<rect x="319.77" y="556.30" width="4.09" height="15.40" fill="rgb(253, 141, 60)"/>
<rect x="323.56" y="556.30" width="4.09" height="15.40" fill="rgb(125, 0, 36)"/>
<rect x="327.34" y="556.30" width="4.09" height="15.40" fill="rgb(216, 23, 33)"/>
<rect x="331.13" y="556.30" width="4.09" height="15.40" fill="rgb(253, 141, 60)"/>
<rect x="334.91" y="556.30" width="4.09" height="15.40" fill="rgb(254, 178, 76)"/>
<rect x="338.70" y="556.30" width="4.09" height="15.40" fill="rgb(254, 203, 104)"/>
<rect x="342.49" y="556.30" width="4.09" height="15.40" fill="rgb(254, 214, 122)"/>
<rect x="346.27" y="556.30" width="4.09" height="15.40" fill="rgb(254, 214, 122)"/>
<rect x="350.06" y="556.30" width="4.09" height="15.40" fill="rgb(254, 226, 140)"/>
<rect x="353.84" y="556.30" width="4.09" height="15.40" fill="rgb(254, 226, 140)"/>
<rect x="357.63" y="556.30" width="4.09" height="15.40" fill="rgb(254, 233, 156)"/>
<rect x="361.41" y="556.30" width="4.09" height="15.40" fill="rgb(255, 240, 172)"/>
<rect x="365.20" y="556.30" width="4.09" height="15.40" fill="rgb(255, 240, 172)"/>
<rect x="368.99" y="556.30" width="4.09" height="15.40" fill="rgb(255, 240, 172)"/>
<rect x="372.77" y="556.30" width="4.09" height="15.40" fill="rgb(255, 240, 172)"/>
<rect x="376.56" y="556.30" width="4.09" height="15.40" fill="rgb(255, 246, 190)"/>
<rect x="380.34" y="556.30" width="4.09" height="15.40" fill="rgb(255, 246, 190)"/>
<rect x="384.13" y="556.30" width="4.09" height="15.40" fill="rgb(255, 246, 190)"/>
<rect x="387.91" y="556.30" width="4.09" height="15.40" fill="rgb(255, 246, 190)"/>
<text x="247.3" y="568.05" font-size="10.2" fill="#000">H<tspan font-size="6.6" dy="2.6">1</tspan></text>
<rect x="259.20" y="579.30" width="4.09" height="15.40" fill="rgb(255, 248, 196)"/>
<rect x="262.99" y="579.30" width="4.09" height="15.40" fill="rgb(255, 248, 196)"/>
<rect x="266.77" y="579.30" width="4.09" height="15.40" fill="rgb(254, 233, 156)"/>
<rect x="270.56" y="579.30" width="4.09" height="15.40" fill="rgb(254, 226, 140)"/>
<rect x="274.34" y="579.30" width="4.09" height="15.40" fill="rgb(254, 214, 122)"/>
<rect x="278.13" y="579.30" width="4.09" height="15.40" fill="rgb(254, 226, 140)"/>
<rect x="281.91" y="579.30" width="4.09" height="15.40" fill="rgb(254, 226, 140)"/>
<rect x="285.70" y="579.30" width="4.09" height="15.40" fill="rgb(254, 226, 140)"/>
<rect x="289.49" y="579.30" width="4.09" height="15.40" fill="rgb(253, 141, 60)"/>
<rect x="293.27" y="579.30" width="4.09" height="15.40" fill="rgb(232, 38, 30)"/>
<rect x="297.06" y="579.30" width="4.09" height="15.40" fill="rgb(160, 0, 38)"/>
<rect x="300.84" y="579.30" width="4.09" height="15.40" fill="rgb(125, 0, 36)"/>
<rect x="304.63" y="579.30" width="4.09" height="15.40" fill="rgb(216, 23, 33)"/>
<rect x="308.41" y="579.30" width="4.09" height="15.40" fill="rgb(252, 96, 46)"/>
<rect x="312.20" y="579.30" width="4.09" height="15.40" fill="rgb(254, 203, 104)"/>
<rect x="315.99" y="579.30" width="4.09" height="15.40" fill="rgb(254, 226, 140)"/>
<rect x="319.77" y="579.30" width="4.09" height="15.40" fill="rgb(254, 226, 140)"/>
<rect x="323.56" y="579.30" width="4.09" height="15.40" fill="rgb(254, 233, 156)"/>
<rect x="327.34" y="579.30" width="4.09" height="15.40" fill="rgb(255, 237, 166)"/>
<rect x="331.13" y="579.30" width="4.09" height="15.40" fill="rgb(255, 240, 172)"/>
<rect x="334.91" y="579.30" width="4.09" height="15.40" fill="rgb(255, 245, 186)"/>
<rect x="338.70" y="579.30" width="4.09" height="15.40" fill="rgb(255, 245, 186)"/>
<rect x="342.49" y="579.30" width="4.09" height="15.40" fill="rgb(255, 245, 186)"/>
<rect x="346.27" y="579.30" width="4.09" height="15.40" fill="rgb(255, 245, 186)"/>
<rect x="350.06" y="579.30" width="4.09" height="15.40" fill="rgb(255, 245, 186)"/>
<rect x="353.84" y="579.30" width="4.09" height="15.40" fill="rgb(255, 245, 186)"/>
<rect x="357.63" y="579.30" width="4.09" height="15.40" fill="rgb(255, 245, 186)"/>
<rect x="361.41" y="579.30" width="4.09" height="15.40" fill="rgb(255, 245, 186)"/>
<rect x="365.20" y="579.30" width="4.09" height="15.40" fill="rgb(255, 245, 186)"/>
<rect x="368.99" y="579.30" width="4.09" height="15.40" fill="rgb(255, 245, 186)"/>
<rect x="372.77" y="579.30" width="4.09" height="15.40" fill="rgb(255, 245, 186)"/>
<rect x="376.56" y="579.30" width="4.09" height="15.40" fill="rgb(255, 245, 186)"/>
<rect x="380.34" y="579.30" width="4.09" height="15.40" fill="rgb(255, 245, 186)"/>
<rect x="384.13" y="579.30" width="4.09" height="15.40" fill="rgb(255, 245, 186)"/>
<rect x="387.91" y="579.30" width="4.09" height="15.40" fill="rgb(255, 245, 186)"/>
<text x="247.3" y="591.05" font-size="10.2" fill="#000">H<tspan font-size="6.6" dy="2.6">4</tspan></text>
<rect x="259.20" y="594.40" width="4.09" height="15.40" fill="rgb(255, 248, 196)"/>
<rect x="262.99" y="594.40" width="4.09" height="15.40" fill="rgb(255, 248, 196)"/>
<rect x="266.77" y="594.40" width="4.09" height="15.40" fill="rgb(255, 248, 196)"/>
<rect x="270.56" y="594.40" width="4.09" height="15.40" fill="rgb(255, 246, 190)"/>
<rect x="274.34" y="594.40" width="4.09" height="15.40" fill="rgb(254, 214, 122)"/>
<rect x="278.13" y="594.40" width="4.09" height="15.40" fill="rgb(254, 226, 140)"/>
<rect x="281.91" y="594.40" width="4.09" height="15.40" fill="rgb(255, 240, 172)"/>
<rect x="285.70" y="594.40" width="4.09" height="15.40" fill="rgb(255, 240, 172)"/>
<rect x="289.49" y="594.40" width="4.09" height="15.40" fill="rgb(254, 233, 156)"/>
<rect x="293.27" y="594.40" width="4.09" height="15.40" fill="rgb(254, 226, 140)"/>
<rect x="297.06" y="594.40" width="4.09" height="15.40" fill="rgb(254, 160, 68)"/>
<rect x="300.84" y="594.40" width="4.09" height="15.40" fill="rgb(200, 8, 36)"/>
<rect x="304.63" y="594.40" width="4.09" height="15.40" fill="rgb(200, 8, 36)"/>
<rect x="308.41" y="594.40" width="4.09" height="15.40" fill="rgb(216, 23, 33)"/>
<rect x="312.20" y="594.40" width="4.09" height="15.40" fill="rgb(242, 67, 38)"/>
<rect x="315.99" y="594.40" width="4.09" height="15.40" fill="rgb(242, 67, 38)"/>
<rect x="319.77" y="594.40" width="4.09" height="15.40" fill="rgb(253, 141, 60)"/>
<rect x="323.56" y="594.40" width="4.09" height="15.40" fill="rgb(254, 178, 76)"/>
<rect x="327.34" y="594.40" width="4.09" height="15.40" fill="rgb(254, 214, 122)"/>
<rect x="331.13" y="594.40" width="4.09" height="15.40" fill="rgb(254, 226, 140)"/>
<rect x="334.91" y="594.40" width="4.09" height="15.40" fill="rgb(254, 229, 146)"/>
<rect x="338.70" y="594.40" width="4.09" height="15.40" fill="rgb(254, 233, 156)"/>
<rect x="342.49" y="594.40" width="4.09" height="15.40" fill="rgb(255, 236, 162)"/>
<rect x="346.27" y="594.40" width="4.09" height="15.40" fill="rgb(255, 237, 166)"/>
<rect x="350.06" y="594.40" width="4.09" height="15.40" fill="rgb(255, 245, 186)"/>
<rect x="353.84" y="594.40" width="4.09" height="15.40" fill="rgb(255, 245, 186)"/>
<rect x="357.63" y="594.40" width="4.09" height="15.40" fill="rgb(255, 245, 186)"/>
<rect x="361.41" y="594.40" width="4.09" height="15.40" fill="rgb(255, 245, 186)"/>
<rect x="365.20" y="594.40" width="4.09" height="15.40" fill="rgb(255, 245, 186)"/>
<rect x="368.99" y="594.40" width="4.09" height="15.40" fill="rgb(255, 245, 186)"/>
<rect x="372.77" y="594.40" width="4.09" height="15.40" fill="rgb(255, 245, 186)"/>
<rect x="376.56" y="594.40" width="4.09" height="15.40" fill="rgb(255, 245, 186)"/>
<rect x="380.34" y="594.40" width="4.09" height="15.40" fill="rgb(255, 245, 186)"/>
<rect x="384.13" y="594.40" width="4.09" height="15.40" fill="rgb(255, 245, 186)"/>
<rect x="387.91" y="594.40" width="4.09" height="15.40" fill="rgb(255, 245, 186)"/>
<text x="247.3" y="606.15" font-size="10.2" fill="#000">H<tspan font-size="6.6" dy="2.6">3</tspan></text>
<rect x="259.20" y="609.50" width="4.09" height="15.40" fill="rgb(255, 248, 196)"/>
<rect x="262.99" y="609.50" width="4.09" height="15.40" fill="rgb(255, 248, 196)"/>
<rect x="266.77" y="609.50" width="4.09" height="15.40" fill="rgb(254, 233, 156)"/>
<rect x="270.56" y="609.50" width="4.09" height="15.40" fill="rgb(254, 226, 140)"/>
<rect x="274.34" y="609.50" width="4.09" height="15.40" fill="rgb(254, 226, 140)"/>
<rect x="278.13" y="609.50" width="4.09" height="15.40" fill="rgb(254, 233, 156)"/>
<rect x="281.91" y="609.50" width="4.09" height="15.40" fill="rgb(254, 233, 156)"/>
<rect x="285.70" y="609.50" width="4.09" height="15.40" fill="rgb(254, 233, 156)"/>
<rect x="289.49" y="609.50" width="4.09" height="15.40" fill="rgb(254, 233, 156)"/>
<rect x="293.27" y="609.50" width="4.09" height="15.40" fill="rgb(254, 214, 122)"/>
<rect x="297.06" y="609.50" width="4.09" height="15.40" fill="rgb(254, 160, 68)"/>
<rect x="300.84" y="609.50" width="4.09" height="15.40" fill="rgb(252, 118, 53)"/>
<rect x="304.63" y="609.50" width="4.09" height="15.40" fill="rgb(216, 23, 33)"/>
<rect x="308.41" y="609.50" width="4.09" height="15.40" fill="rgb(180, 4, 37)"/>
<rect x="312.20" y="609.50" width="4.09" height="15.40" fill="rgb(216, 23, 33)"/>
<rect x="315.99" y="609.50" width="4.09" height="15.40" fill="rgb(252, 96, 46)"/>
<rect x="319.77" y="609.50" width="4.09" height="15.40" fill="rgb(254, 160, 68)"/>
<rect x="323.56" y="609.50" width="4.09" height="15.40" fill="rgb(254, 178, 76)"/>
<rect x="327.34" y="609.50" width="4.09" height="15.40" fill="rgb(254, 214, 122)"/>
<rect x="331.13" y="609.50" width="4.09" height="15.40" fill="rgb(254, 226, 140)"/>
<rect x="334.91" y="609.50" width="4.09" height="15.40" fill="rgb(254, 226, 140)"/>
<rect x="338.70" y="609.50" width="4.09" height="15.40" fill="rgb(254, 226, 140)"/>
<rect x="342.49" y="609.50" width="4.09" height="15.40" fill="rgb(254, 233, 156)"/>
<rect x="346.27" y="609.50" width="4.09" height="15.40" fill="rgb(255, 237, 166)"/>
<rect x="350.06" y="609.50" width="4.09" height="15.40" fill="rgb(255, 240, 172)"/>
<rect x="353.84" y="609.50" width="4.09" height="15.40" fill="rgb(255, 245, 186)"/>
<rect x="357.63" y="609.50" width="4.09" height="15.40" fill="rgb(255, 245, 186)"/>
<rect x="361.41" y="609.50" width="4.09" height="15.40" fill="rgb(255, 245, 186)"/>
<rect x="365.20" y="609.50" width="4.09" height="15.40" fill="rgb(255, 245, 186)"/>
<rect x="368.99" y="609.50" width="4.09" height="15.40" fill="rgb(255, 245, 186)"/>
<rect x="372.77" y="609.50" width="4.09" height="15.40" fill="rgb(255, 245, 186)"/>
<rect x="376.56" y="609.50" width="4.09" height="15.40" fill="rgb(255, 245, 186)"/>
<rect x="380.34" y="609.50" width="4.09" height="15.40" fill="rgb(255, 245, 186)"/>
<rect x="384.13" y="609.50" width="4.09" height="15.40" fill="rgb(255, 245, 186)"/>
<rect x="387.91" y="609.50" width="4.09" height="15.40" fill="rgb(255, 245, 186)"/>
<text x="247.3" y="621.25" font-size="10.2" fill="#000">H<tspan font-size="6.6" dy="2.6">2</tspan></text>
<rect x="259.20" y="624.60" width="4.09" height="15.40" fill="rgb(255, 248, 196)"/>
<rect x="262.99" y="624.60" width="4.09" height="15.40" fill="rgb(255, 248, 196)"/>
<rect x="266.77" y="624.60" width="4.09" height="15.40" fill="rgb(255, 248, 196)"/>
<rect x="270.56" y="624.60" width="4.09" height="15.40" fill="rgb(255, 240, 172)"/>
<rect x="274.34" y="624.60" width="4.09" height="15.40" fill="rgb(254, 214, 122)"/>
<rect x="278.13" y="624.60" width="4.09" height="15.40" fill="rgb(254, 226, 140)"/>
<rect x="281.91" y="624.60" width="4.09" height="15.40" fill="rgb(255, 240, 172)"/>
<rect x="285.70" y="624.60" width="4.09" height="15.40" fill="rgb(255, 240, 172)"/>
<rect x="289.49" y="624.60" width="4.09" height="15.40" fill="rgb(255, 240, 172)"/>
<rect x="293.27" y="624.60" width="4.09" height="15.40" fill="rgb(255, 240, 172)"/>
<rect x="297.06" y="624.60" width="4.09" height="15.40" fill="rgb(255, 240, 172)"/>
<rect x="300.84" y="624.60" width="4.09" height="15.40" fill="rgb(254, 226, 140)"/>
<rect x="304.63" y="624.60" width="4.09" height="15.40" fill="rgb(254, 203, 104)"/>
<rect x="308.41" y="624.60" width="4.09" height="15.40" fill="rgb(253, 141, 60)"/>
<rect x="312.20" y="624.60" width="4.09" height="15.40" fill="rgb(232, 38, 30)"/>
<rect x="315.99" y="624.60" width="4.09" height="15.40" fill="rgb(180, 4, 37)"/>
<rect x="319.77" y="624.60" width="4.09" height="15.40" fill="rgb(180, 4, 37)"/>
<rect x="323.56" y="624.60" width="4.09" height="15.40" fill="rgb(232, 38, 30)"/>
<rect x="327.34" y="624.60" width="4.09" height="15.40" fill="rgb(253, 141, 60)"/>
<rect x="331.13" y="624.60" width="4.09" height="15.40" fill="rgb(254, 190, 90)"/>
<rect x="334.91" y="624.60" width="4.09" height="15.40" fill="rgb(254, 226, 140)"/>
<rect x="338.70" y="624.60" width="4.09" height="15.40" fill="rgb(254, 233, 156)"/>
<rect x="342.49" y="624.60" width="4.09" height="15.40" fill="rgb(254, 233, 156)"/>
<rect x="346.27" y="624.60" width="4.09" height="15.40" fill="rgb(255, 237, 166)"/>
<rect x="350.06" y="624.60" width="4.09" height="15.40" fill="rgb(255, 240, 172)"/>
<rect x="353.84" y="624.60" width="4.09" height="15.40" fill="rgb(255, 240, 172)"/>
<rect x="357.63" y="624.60" width="4.09" height="15.40" fill="rgb(255, 240, 172)"/>
<rect x="361.41" y="624.60" width="4.09" height="15.40" fill="rgb(255, 240, 172)"/>
<rect x="365.20" y="624.60" width="4.09" height="15.40" fill="rgb(255, 245, 186)"/>
<rect x="368.99" y="624.60" width="4.09" height="15.40" fill="rgb(255, 245, 186)"/>
<rect x="372.77" y="624.60" width="4.09" height="15.40" fill="rgb(255, 245, 186)"/>
<rect x="376.56" y="624.60" width="4.09" height="15.40" fill="rgb(255, 245, 186)"/>
<rect x="380.34" y="624.60" width="4.09" height="15.40" fill="rgb(255, 245, 186)"/>
<rect x="384.13" y="624.60" width="4.09" height="15.40" fill="rgb(255, 245, 186)"/>
<rect x="387.91" y="624.60" width="4.09" height="15.40" fill="rgb(255, 245, 186)"/>
<text x="247.3" y="636.35" font-size="10.2" fill="#000">H<tspan font-size="6.6" dy="2.6">1</tspan></text>
<rect x="259.20" y="647.10" width="4.09" height="15.40" fill="rgb(255, 248, 196)"/>
<rect x="262.99" y="647.10" width="4.09" height="15.40" fill="rgb(255, 248, 196)"/>
<rect x="266.77" y="647.10" width="4.09" height="15.40" fill="rgb(254, 214, 122)"/>
<rect x="270.56" y="647.10" width="4.09" height="15.40" fill="rgb(254, 160, 68)"/>
<rect x="274.34" y="647.10" width="4.09" height="15.40" fill="rgb(254, 226, 140)"/>
<rect x="278.13" y="647.10" width="4.09" height="15.40" fill="rgb(254, 233, 156)"/>
<rect x="281.91" y="647.10" width="4.09" height="15.40" fill="rgb(254, 233, 156)"/>
<rect x="285.70" y="647.10" width="4.09" height="15.40" fill="rgb(254, 203, 104)"/>
<rect x="289.49" y="647.10" width="4.09" height="15.40" fill="rgb(253, 141, 60)"/>
<rect x="293.27" y="647.10" width="4.09" height="15.40" fill="rgb(242, 67, 38)"/>
<rect x="297.06" y="647.10" width="4.09" height="15.40" fill="rgb(200, 8, 36)"/>
<rect x="300.84" y="647.10" width="4.09" height="15.40" fill="rgb(160, 0, 38)"/>
<rect x="304.63" y="647.10" width="4.09" height="15.40" fill="rgb(180, 4, 37)"/>
<rect x="308.41" y="647.10" width="4.09" height="15.40" fill="rgb(232, 38, 30)"/>
<rect x="312.20" y="647.10" width="4.09" height="15.40" fill="rgb(254, 160, 68)"/>
<rect x="315.99" y="647.10" width="4.09" height="15.40" fill="rgb(254, 214, 122)"/>
<rect x="319.77" y="647.10" width="4.09" height="15.40" fill="rgb(254, 226, 140)"/>
<rect x="323.56" y="647.10" width="4.09" height="15.40" fill="rgb(254, 233, 156)"/>
<rect x="327.34" y="647.10" width="4.09" height="15.40" fill="rgb(255, 237, 166)"/>
<rect x="331.13" y="647.10" width="4.09" height="15.40" fill="rgb(255, 237, 166)"/>
<rect x="334.91" y="647.10" width="4.09" height="15.40" fill="rgb(255, 240, 172)"/>
<rect x="338.70" y="647.10" width="4.09" height="15.40" fill="rgb(255, 245, 186)"/>
<rect x="342.49" y="647.10" width="4.09" height="15.40" fill="rgb(255, 245, 186)"/>
<rect x="346.27" y="647.10" width="4.09" height="15.40" fill="rgb(255, 245, 186)"/>
<rect x="350.06" y="647.10" width="4.09" height="15.40" fill="rgb(255, 245, 186)"/>
<rect x="353.84" y="647.10" width="4.09" height="15.40" fill="rgb(255, 245, 186)"/>
<rect x="357.63" y="647.10" width="4.09" height="15.40" fill="rgb(255, 245, 186)"/>
<rect x="361.41" y="647.10" width="4.09" height="15.40" fill="rgb(255, 245, 186)"/>
<rect x="365.20" y="647.10" width="4.09" height="15.40" fill="rgb(255, 245, 186)"/>
<rect x="368.99" y="647.10" width="4.09" height="15.40" fill="rgb(255, 245, 186)"/>
<rect x="372.77" y="647.10" width="4.09" height="15.40" fill="rgb(255, 245, 186)"/>
<rect x="376.56" y="647.10" width="4.09" height="15.40" fill="rgb(255, 245, 186)"/>
<rect x="380.34" y="647.10" width="4.09" height="15.40" fill="rgb(255, 245, 186)"/>
<rect x="384.13" y="647.10" width="4.09" height="15.40" fill="rgb(255, 245, 186)"/>
<rect x="387.91" y="647.10" width="4.09" height="15.40" fill="rgb(255, 245, 186)"/>
<text x="247.3" y="658.85" font-size="10.2" fill="#000">H<tspan font-size="6.6" dy="2.6">4</tspan></text>
<rect x="259.20" y="662.20" width="4.09" height="15.40" fill="rgb(255, 248, 196)"/>
<rect x="262.99" y="662.20" width="4.09" height="15.40" fill="rgb(255, 248, 196)"/>
<rect x="266.77" y="662.20" width="4.09" height="15.40" fill="rgb(255, 248, 196)"/>
<rect x="270.56" y="662.20" width="4.09" height="15.40" fill="rgb(255, 246, 190)"/>
<rect x="274.34" y="662.20" width="4.09" height="15.40" fill="rgb(254, 203, 104)"/>
<rect x="278.13" y="662.20" width="4.09" height="15.40" fill="rgb(254, 214, 122)"/>
<rect x="281.91" y="662.20" width="4.09" height="15.40" fill="rgb(254, 233, 156)"/>
<rect x="285.70" y="662.20" width="4.09" height="15.40" fill="rgb(254, 233, 156)"/>
<rect x="289.49" y="662.20" width="4.09" height="15.40" fill="rgb(254, 203, 104)"/>
<rect x="293.27" y="662.20" width="4.09" height="15.40" fill="rgb(254, 160, 68)"/>
<rect x="297.06" y="662.20" width="4.09" height="15.40" fill="rgb(242, 67, 38)"/>
<rect x="300.84" y="662.20" width="4.09" height="15.40" fill="rgb(180, 4, 37)"/>
<rect x="304.63" y="662.20" width="4.09" height="15.40" fill="rgb(200, 8, 36)"/>
<rect x="308.41" y="662.20" width="4.09" height="15.40" fill="rgb(242, 67, 38)"/>
<rect x="312.20" y="662.20" width="4.09" height="15.40" fill="rgb(252, 118, 53)"/>
<rect x="315.99" y="662.20" width="4.09" height="15.40" fill="rgb(252, 118, 53)"/>
<rect x="319.77" y="662.20" width="4.09" height="15.40" fill="rgb(254, 160, 68)"/>
<rect x="323.56" y="662.20" width="4.09" height="15.40" fill="rgb(254, 190, 90)"/>
<rect x="327.34" y="662.20" width="4.09" height="15.40" fill="rgb(254, 226, 140)"/>
<rect x="331.13" y="662.20" width="4.09" height="15.40" fill="rgb(254, 229, 146)"/>
<rect x="334.91" y="662.20" width="4.09" height="15.40" fill="rgb(254, 233, 156)"/>
<rect x="338.70" y="662.20" width="4.09" height="15.40" fill="rgb(254, 233, 156)"/>
<rect x="342.49" y="662.20" width="4.09" height="15.40" fill="rgb(255, 237, 166)"/>
<rect x="346.27" y="662.20" width="4.09" height="15.40" fill="rgb(255, 244, 182)"/>
<rect x="350.06" y="662.20" width="4.09" height="15.40" fill="rgb(255, 244, 182)"/>
<rect x="353.84" y="662.20" width="4.09" height="15.40" fill="rgb(255, 244, 182)"/>
<rect x="357.63" y="662.20" width="4.09" height="15.40" fill="rgb(255, 244, 182)"/>
<rect x="361.41" y="662.20" width="4.09" height="15.40" fill="rgb(255, 244, 182)"/>
<rect x="365.20" y="662.20" width="4.09" height="15.40" fill="rgb(255, 244, 182)"/>
<rect x="368.99" y="662.20" width="4.09" height="15.40" fill="rgb(255, 244, 182)"/>
<rect x="372.77" y="662.20" width="4.09" height="15.40" fill="rgb(255, 244, 182)"/>
<rect x="376.56" y="662.20" width="4.09" height="15.40" fill="rgb(255, 244, 182)"/>
<rect x="380.34" y="662.20" width="4.09" height="15.40" fill="rgb(255, 244, 182)"/>
<rect x="384.13" y="662.20" width="4.09" height="15.40" fill="rgb(255, 244, 182)"/>
<rect x="387.91" y="662.20" width="4.09" height="15.40" fill="rgb(255, 244, 182)"/>
<text x="247.3" y="673.95" font-size="10.2" fill="#000">H<tspan font-size="6.6" dy="2.6">3</tspan></text>
<rect x="259.20" y="677.30" width="4.09" height="15.40" fill="rgb(255, 248, 196)"/>
<rect x="262.99" y="677.30" width="4.09" height="15.40" fill="rgb(255, 248, 196)"/>
<rect x="266.77" y="677.30" width="4.09" height="15.40" fill="rgb(254, 226, 140)"/>
<rect x="270.56" y="677.30" width="4.09" height="15.40" fill="rgb(254, 190, 90)"/>
<rect x="274.34" y="677.30" width="4.09" height="15.40" fill="rgb(254, 226, 140)"/>
<rect x="278.13" y="677.30" width="4.09" height="15.40" fill="rgb(254, 233, 156)"/>
<rect x="281.91" y="677.30" width="4.09" height="15.40" fill="rgb(254, 233, 156)"/>
<rect x="285.70" y="677.30" width="4.09" height="15.40" fill="rgb(254, 233, 156)"/>
<rect x="289.49" y="677.30" width="4.09" height="15.40" fill="rgb(254, 233, 156)"/>
<rect x="293.27" y="677.30" width="4.09" height="15.40" fill="rgb(254, 233, 156)"/>
<rect x="297.06" y="677.30" width="4.09" height="15.40" fill="rgb(254, 233, 156)"/>
<rect x="300.84" y="677.30" width="4.09" height="15.40" fill="rgb(254, 226, 140)"/>
<rect x="304.63" y="677.30" width="4.09" height="15.40" fill="rgb(254, 178, 76)"/>
<rect x="308.41" y="677.30" width="4.09" height="15.40" fill="rgb(252, 96, 46)"/>
<rect x="312.20" y="677.30" width="4.09" height="15.40" fill="rgb(200, 8, 36)"/>
<rect x="315.99" y="677.30" width="4.09" height="15.40" fill="rgb(200, 8, 36)"/>
<rect x="319.77" y="677.30" width="4.09" height="15.40" fill="rgb(216, 23, 33)"/>
<rect x="323.56" y="677.30" width="4.09" height="15.40" fill="rgb(232, 38, 30)"/>
<rect x="327.34" y="677.30" width="4.09" height="15.40" fill="rgb(254, 178, 76)"/>
<rect x="331.13" y="677.30" width="4.09" height="15.40" fill="rgb(254, 190, 90)"/>
<rect x="334.91" y="677.30" width="4.09" height="15.40" fill="rgb(254, 190, 90)"/>
<rect x="338.70" y="677.30" width="4.09" height="15.40" fill="rgb(254, 226, 140)"/>
<rect x="342.49" y="677.30" width="4.09" height="15.40" fill="rgb(254, 226, 140)"/>
<rect x="346.27" y="677.30" width="4.09" height="15.40" fill="rgb(254, 233, 156)"/>
<rect x="350.06" y="677.30" width="4.09" height="15.40" fill="rgb(254, 233, 156)"/>
<rect x="353.84" y="677.30" width="4.09" height="15.40" fill="rgb(255, 237, 166)"/>
<rect x="357.63" y="677.30" width="4.09" height="15.40" fill="rgb(255, 244, 182)"/>
<rect x="361.41" y="677.30" width="4.09" height="15.40" fill="rgb(255, 244, 182)"/>
<rect x="365.20" y="677.30" width="4.09" height="15.40" fill="rgb(255, 244, 182)"/>
<rect x="368.99" y="677.30" width="4.09" height="15.40" fill="rgb(255, 244, 182)"/>
<rect x="372.77" y="677.30" width="4.09" height="15.40" fill="rgb(255, 244, 182)"/>
<rect x="376.56" y="677.30" width="4.09" height="15.40" fill="rgb(255, 244, 182)"/>
<rect x="380.34" y="677.30" width="4.09" height="15.40" fill="rgb(255, 244, 182)"/>
<rect x="384.13" y="677.30" width="4.09" height="15.40" fill="rgb(255, 244, 182)"/>
<rect x="387.91" y="677.30" width="4.09" height="15.40" fill="rgb(255, 244, 182)"/>
<text x="247.3" y="689.05" font-size="10.2" fill="#000">H<tspan font-size="6.6" dy="2.6">2</tspan></text>
<rect x="259.20" y="692.40" width="4.09" height="15.40" fill="rgb(255, 248, 196)"/>
<rect x="262.99" y="692.40" width="4.09" height="15.40" fill="rgb(255, 248, 196)"/>
<rect x="266.77" y="692.40" width="4.09" height="15.40" fill="rgb(255, 248, 196)"/>
<rect x="270.56" y="692.40" width="4.09" height="15.40" fill="rgb(255, 246, 190)"/>
<rect x="274.34" y="692.40" width="4.09" height="15.40" fill="rgb(254, 190, 90)"/>
<rect x="278.13" y="692.40" width="4.09" height="15.40" fill="rgb(254, 214, 122)"/>
<rect x="281.91" y="692.40" width="4.09" height="15.40" fill="rgb(254, 233, 156)"/>
<rect x="285.70" y="692.40" width="4.09" height="15.40" fill="rgb(255, 240, 172)"/>
<rect x="289.49" y="692.40" width="4.09" height="15.40" fill="rgb(255, 240, 172)"/>
<rect x="293.27" y="692.40" width="4.09" height="15.40" fill="rgb(255, 240, 172)"/>
<rect x="297.06" y="692.40" width="4.09" height="15.40" fill="rgb(255, 240, 172)"/>
<rect x="300.84" y="692.40" width="4.09" height="15.40" fill="rgb(254, 233, 156)"/>
<rect x="304.63" y="692.40" width="4.09" height="15.40" fill="rgb(254, 226, 140)"/>
<rect x="308.41" y="692.40" width="4.09" height="15.40" fill="rgb(254, 203, 104)"/>
<rect x="312.20" y="692.40" width="4.09" height="15.40" fill="rgb(253, 141, 60)"/>
<rect x="315.99" y="692.40" width="4.09" height="15.40" fill="rgb(180, 4, 37)"/>
<rect x="319.77" y="692.40" width="4.09" height="15.40" fill="rgb(125, 0, 36)"/>
<rect x="323.56" y="692.40" width="4.09" height="15.40" fill="rgb(232, 38, 30)"/>
<rect x="327.34" y="692.40" width="4.09" height="15.40" fill="rgb(252, 118, 53)"/>
<rect x="331.13" y="692.40" width="4.09" height="15.40" fill="rgb(254, 178, 76)"/>
<rect x="334.91" y="692.40" width="4.09" height="15.40" fill="rgb(254, 190, 90)"/>
<rect x="338.70" y="692.40" width="4.09" height="15.40" fill="rgb(254, 203, 104)"/>
<rect x="342.49" y="692.40" width="4.09" height="15.40" fill="rgb(254, 226, 140)"/>
<rect x="346.27" y="692.40" width="4.09" height="15.40" fill="rgb(254, 229, 146)"/>
<rect x="350.06" y="692.40" width="4.09" height="15.40" fill="rgb(254, 229, 146)"/>
<rect x="353.84" y="692.40" width="4.09" height="15.40" fill="rgb(254, 233, 156)"/>
<rect x="357.63" y="692.40" width="4.09" height="15.40" fill="rgb(255, 237, 166)"/>
<rect x="361.41" y="692.40" width="4.09" height="15.40" fill="rgb(255, 240, 172)"/>
<rect x="365.20" y="692.40" width="4.09" height="15.40" fill="rgb(255, 245, 186)"/>
<rect x="368.99" y="692.40" width="4.09" height="15.40" fill="rgb(255, 245, 186)"/>
<rect x="372.77" y="692.40" width="4.09" height="15.40" fill="rgb(255, 245, 186)"/>
<rect x="376.56" y="692.40" width="4.09" height="15.40" fill="rgb(255, 245, 186)"/>
<rect x="380.34" y="692.40" width="4.09" height="15.40" fill="rgb(255, 245, 186)"/>
<rect x="384.13" y="692.40" width="4.09" height="15.40" fill="rgb(255, 245, 186)"/>
<rect x="387.91" y="692.40" width="4.09" height="15.40" fill="rgb(255, 245, 186)"/>
<text x="247.3" y="704.15" font-size="10.2" fill="#000">H<tspan font-size="6.6" dy="2.6">1</tspan></text>
<text x="285.7" y="717.0" font-size="8.4" fill="#000">Histogram bins (H<tspan font-size="6.6" dy="1.7">i</tspan><tspan font-size="5.6" dy="1.7" dx="0.2">bin</tspan><tspan dy="-3.4" dx="0.3">)</tspan></text>
<text x="398.70" y="140.00" font-size="8.4" fill="#000" style="stroke-width:0.17px">(d)</text>
<text x="467.90" y="151.20" font-size="8.4" text-anchor="middle" textLength="100.2" lengthAdjust="spacingAndGlyphs" fill="#000" style="stroke-width:0.17px">Forward Scatter Histogram</text>
<path d="M431.30,226.40 L432.95,226.40 L434.60,225.09 L436.80,224.10 L439.55,223.12 L441.75,221.15 L443.40,219.18 L445.05,221.15 L446.70,222.46 L448.35,213.28 L450.00,193.59 L451.10,186.37 L451.93,184.40 L452.75,187.03 L453.85,196.87 L455.50,213.28 L457.15,223.12 L458.25,225.74 L459.35,226.40 L513.80,226.40 L513.80,226.40 L431.30,226.40 Z" fill="#80ea78" stroke="#3bb53b" stroke-width="0.7" stroke-linejoin="round"/>
<line x1="431.30" y1="173.40" x2="431.30" y2="226.40" stroke="#888" stroke-width="0.6"/>
<line x1="431.30" y1="226.40" x2="517.5" y2="226.40" stroke="#888" stroke-width="0.6"/>
<line x1="430.10" y1="226.40" x2="431.30" y2="226.40" stroke="#888" stroke-width="0.5"/>
<text x="429.60" y="228.60" font-size="6.0" text-anchor="end" fill="#333" style="stroke-width:0.04px">0</text>
<line x1="430.10" y1="213.28" x2="431.30" y2="213.28" stroke="#888" stroke-width="0.5"/>
<text x="429.60" y="215.47" font-size="6.0" text-anchor="end" fill="#333" style="stroke-width:0.04px">40</text>
<line x1="430.10" y1="200.15" x2="431.30" y2="200.15" stroke="#888" stroke-width="0.5"/>
<text x="429.60" y="202.35" font-size="6.0" text-anchor="end" fill="#333" style="stroke-width:0.04px">80</text>
<line x1="430.10" y1="187.03" x2="431.30" y2="187.03" stroke="#888" stroke-width="0.5"/>
<text x="429.60" y="189.22" font-size="6.0" text-anchor="end" fill="#333" style="stroke-width:0.04px">120</text>
<line x1="430.10" y1="173.90" x2="431.30" y2="173.90" stroke="#888" stroke-width="0.5"/>
<text x="429.60" y="176.10" font-size="6.0" text-anchor="end" fill="#333" style="stroke-width:0.04px">160</text>
<line x1="431.30" y1="226.40" x2="431.30" y2="227.60" stroke="#888" stroke-width="0.5"/>
<text x="431.30" y="233.20" font-size="6.6" text-anchor="middle" fill="#333" style="stroke-width:0.08px">0</text>
<line x1="458.80" y1="226.40" x2="458.80" y2="227.60" stroke="#888" stroke-width="0.5"/>
<text x="458.80" y="233.20" font-size="6.6" text-anchor="middle" fill="#333" style="stroke-width:0.08px">50</text>
<line x1="486.30" y1="226.40" x2="486.30" y2="227.60" stroke="#888" stroke-width="0.5"/>
<text x="486.30" y="233.20" font-size="6.6" text-anchor="middle" fill="#333" style="stroke-width:0.08px">100</text>
<line x1="513.80" y1="226.40" x2="513.80" y2="227.60" stroke="#888" stroke-width="0.5"/>
<text x="513.80" y="233.20" font-size="6.6" text-anchor="middle" fill="#333" style="stroke-width:0.08px">150</text>
<text transform="translate(413.0 197.30) rotate(-90)" text-anchor="middle" font-size="7.8" textLength="43.6" lengthAdjust="spacingAndGlyphs" fill="#000">Counts (×10<tspan font-size="4.8" dy="-2.0">1</tspan><tspan dy="2.0">)</tspan></text>
<text x="498.20" y="177.20" font-size="7.0" fill="#000" style="stroke-width:0.10px">Day 0</text>
<path d="M431.30,292.40 L432.95,292.40 L434.05,285.86 L435.15,282.59 L436.80,283.90 L439.00,285.21 L441.20,283.90 L443.40,279.98 L445.60,279.00 L447.25,279.32 L448.35,275.40 L449.45,255.79 L450.55,246.31 L451.65,247.94 L453.30,255.79 L455.50,264.94 L457.70,269.52 L459.90,272.79 L462.10,276.71 L464.30,279.65 L467.05,282.59 L469.80,285.21 L472.55,286.19 L475.30,286.19 L478.05,286.84 L480.80,287.17 L483.55,287.50 L486.30,288.15 L489.05,289.13 L491.80,289.78 L497.30,290.77 L502.80,291.42 L508.30,291.88 L513.80,292.40 L513.80,292.40 L431.30,292.40 Z" fill="#80ea78" stroke="#3bb53b" stroke-width="0.7" stroke-linejoin="round"/>
<line x1="431.30" y1="239.60" x2="431.30" y2="292.40" stroke="#888" stroke-width="0.6"/>
<line x1="431.30" y1="292.40" x2="517.5" y2="292.40" stroke="#888" stroke-width="0.6"/>
<line x1="430.10" y1="292.40" x2="431.30" y2="292.40" stroke="#888" stroke-width="0.5"/>
<text x="429.60" y="294.60" font-size="6.0" text-anchor="end" fill="#333" style="stroke-width:0.04px">0</text>
<line x1="430.10" y1="279.32" x2="431.30" y2="279.32" stroke="#888" stroke-width="0.5"/>
<text x="429.60" y="281.52" font-size="6.0" text-anchor="end" fill="#333" style="stroke-width:0.04px">200</text>
<line x1="430.10" y1="266.25" x2="431.30" y2="266.25" stroke="#888" stroke-width="0.5"/>
<text x="429.60" y="268.45" font-size="6.0" text-anchor="end" fill="#333" style="stroke-width:0.04px">400</text>
<line x1="430.10" y1="253.17" x2="431.30" y2="253.17" stroke="#888" stroke-width="0.5"/>
<text x="429.60" y="255.37" font-size="6.0" text-anchor="end" fill="#333" style="stroke-width:0.04px">600</text>
<line x1="430.10" y1="240.10" x2="431.30" y2="240.10" stroke="#888" stroke-width="0.5"/>
<text x="429.60" y="242.30" font-size="6.0" text-anchor="end" fill="#333" style="stroke-width:0.04px">800</text>
<line x1="431.30" y1="292.40" x2="431.30" y2="293.60" stroke="#888" stroke-width="0.5"/>
<text x="431.30" y="299.20" font-size="6.6" text-anchor="middle" fill="#333" style="stroke-width:0.08px">0</text>
<line x1="458.80" y1="292.40" x2="458.80" y2="293.60" stroke="#888" stroke-width="0.5"/>
<text x="458.80" y="299.20" font-size="6.6" text-anchor="middle" fill="#333" style="stroke-width:0.08px">50</text>
<line x1="486.30" y1="292.40" x2="486.30" y2="293.60" stroke="#888" stroke-width="0.5"/>
<text x="486.30" y="299.20" font-size="6.6" text-anchor="middle" fill="#333" style="stroke-width:0.08px">100</text>
<line x1="513.80" y1="292.40" x2="513.80" y2="293.60" stroke="#888" stroke-width="0.5"/>
<text x="513.80" y="299.20" font-size="6.6" text-anchor="middle" fill="#333" style="stroke-width:0.08px">150</text>
<text transform="translate(413.0 265.00) rotate(-90)" text-anchor="middle" font-size="7.8" textLength="43.6" lengthAdjust="spacingAndGlyphs" fill="#000">Counts (×10<tspan font-size="4.8" dy="-2.0">1</tspan><tspan dy="2.0">)</tspan></text>
<text x="498.20" y="245.90" font-size="7.0" fill="#000" style="stroke-width:0.10px">Day 2</text>
<path d="M431.30,360.40 L432.95,360.40 L434.05,348.68 L435.15,345.10 L436.25,346.07 L437.90,350.63 L439.55,352.58 L441.20,351.93 L443.40,349.33 L445.60,346.72 L446.70,345.75 L448.35,348.03 L450.00,343.47 L451.65,338.26 L452.75,337.28 L454.40,342.16 L456.60,344.77 L458.80,346.40 L461.00,346.40 L463.20,343.47 L465.40,338.26 L467.60,332.40 L469.80,327.19 L471.45,321.98 L472.55,320.67 L474.20,323.93 L476.40,327.84 L478.60,331.75 L480.80,334.35 L483.00,338.91 L485.20,343.47 L487.40,347.38 L489.60,351.28 L491.80,354.54 L494.55,356.49 L497.30,357.79 L500.05,358.77 L505.55,359.42 L511.05,359.88 L513.80,360.40 L513.80,360.40 L431.30,360.40 Z" fill="#80ea78" stroke="#3bb53b" stroke-width="0.7" stroke-linejoin="round"/>
<line x1="431.30" y1="307.80" x2="431.30" y2="360.40" stroke="#888" stroke-width="0.6"/>
<line x1="431.30" y1="360.40" x2="517.5" y2="360.40" stroke="#888" stroke-width="0.6"/>
<line x1="430.10" y1="360.40" x2="431.30" y2="360.40" stroke="#888" stroke-width="0.5"/>
<text x="429.60" y="362.60" font-size="6.0" text-anchor="end" fill="#333" style="stroke-width:0.04px">0</text>
<line x1="430.10" y1="347.38" x2="431.30" y2="347.38" stroke="#888" stroke-width="0.5"/>
<text x="429.60" y="349.57" font-size="6.0" text-anchor="end" fill="#333" style="stroke-width:0.04px">200</text>
<line x1="430.10" y1="334.35" x2="431.30" y2="334.35" stroke="#888" stroke-width="0.5"/>
<text x="429.60" y="336.55" font-size="6.0" text-anchor="end" fill="#333" style="stroke-width:0.04px">400</text>
<line x1="430.10" y1="321.32" x2="431.30" y2="321.32" stroke="#888" stroke-width="0.5"/>
<text x="429.60" y="323.52" font-size="6.0" text-anchor="end" fill="#333" style="stroke-width:0.04px">600</text>
<line x1="430.10" y1="308.30" x2="431.30" y2="308.30" stroke="#888" stroke-width="0.5"/>
<text x="429.60" y="310.50" font-size="6.0" text-anchor="end" fill="#333" style="stroke-width:0.04px">800</text>
<line x1="431.30" y1="360.40" x2="431.30" y2="361.60" stroke="#888" stroke-width="0.5"/>
<text x="431.30" y="367.20" font-size="6.6" text-anchor="middle" fill="#333" style="stroke-width:0.08px">0</text>
<line x1="458.80" y1="360.40" x2="458.80" y2="361.60" stroke="#888" stroke-width="0.5"/>
<text x="458.80" y="367.20" font-size="6.6" text-anchor="middle" fill="#333" style="stroke-width:0.08px">50</text>
<line x1="486.30" y1="360.40" x2="486.30" y2="361.60" stroke="#888" stroke-width="0.5"/>
<text x="486.30" y="367.20" font-size="6.6" text-anchor="middle" fill="#333" style="stroke-width:0.08px">100</text>
<line x1="513.80" y1="360.40" x2="513.80" y2="361.60" stroke="#888" stroke-width="0.5"/>
<text x="513.80" y="367.20" font-size="6.6" text-anchor="middle" fill="#333" style="stroke-width:0.08px">150</text>
<text transform="translate(413.0 333.10) rotate(-90)" text-anchor="middle" font-size="7.8" textLength="43.6" lengthAdjust="spacingAndGlyphs" fill="#000">Counts (×10<tspan font-size="4.8" dy="-2.0">1</tspan><tspan dy="2.0">)</tspan></text>
<text x="498.20" y="315.90" font-size="7.0" fill="#000" style="stroke-width:0.10px">Day 4</text>
<path d="M431.30,427.80 L432.95,427.80 L434.05,423.27 L435.70,419.87 L437.35,418.17 L438.18,413.08 L439.00,421.00 L440.10,422.70 L442.30,422.14 L445.05,422.14 L447.80,422.70 L450.55,422.70 L453.30,421.57 L455.50,421.00 L457.15,416.48 L458.80,405.15 L460.45,398.36 L462.10,392.69 L463.75,387.03 L464.85,380.24 L465.95,379.10 L467.05,379.67 L468.15,378.54 L469.25,382.50 L470.90,389.30 L473.10,398.36 L475.30,406.85 L477.50,411.94 L479.70,415.34 L481.90,419.87 L484.10,423.27 L486.30,424.97 L489.05,426.10 L494.55,426.67 L502.80,427.23 L513.80,427.80 L513.80,427.80 L431.30,427.80 Z" fill="#80ea78" stroke="#3bb53b" stroke-width="0.7" stroke-linejoin="round"/>
<line x1="431.30" y1="375.80" x2="431.30" y2="427.80" stroke="#888" stroke-width="0.6"/>
<line x1="431.30" y1="427.80" x2="517.5" y2="427.80" stroke="#888" stroke-width="0.6"/>
<line x1="430.10" y1="427.80" x2="431.30" y2="427.80" stroke="#888" stroke-width="0.5"/>
<text x="429.60" y="430.00" font-size="6.0" text-anchor="end" fill="#333" style="stroke-width:0.04px">0</text>
<line x1="430.10" y1="416.48" x2="431.30" y2="416.48" stroke="#888" stroke-width="0.5"/>
<text x="429.60" y="418.68" font-size="6.0" text-anchor="end" fill="#333" style="stroke-width:0.04px">20</text>
<line x1="430.10" y1="405.15" x2="431.30" y2="405.15" stroke="#888" stroke-width="0.5"/>
<text x="429.60" y="407.35" font-size="6.0" text-anchor="end" fill="#333" style="stroke-width:0.04px">40</text>
<line x1="430.10" y1="393.82" x2="431.30" y2="393.82" stroke="#888" stroke-width="0.5"/>
<text x="429.60" y="396.02" font-size="6.0" text-anchor="end" fill="#333" style="stroke-width:0.04px">60</text>
<line x1="430.10" y1="382.50" x2="431.30" y2="382.50" stroke="#888" stroke-width="0.5"/>
<text x="429.60" y="384.70" font-size="6.0" text-anchor="end" fill="#333" style="stroke-width:0.04px">80</text>
<line x1="431.30" y1="427.80" x2="431.30" y2="429.00" stroke="#888" stroke-width="0.5"/>
<text x="431.30" y="434.60" font-size="6.6" text-anchor="middle" fill="#333" style="stroke-width:0.08px">0</text>
<line x1="458.80" y1="427.80" x2="458.80" y2="429.00" stroke="#888" stroke-width="0.5"/>
<text x="458.80" y="434.60" font-size="6.6" text-anchor="middle" fill="#333" style="stroke-width:0.08px">50</text>
<line x1="486.30" y1="427.80" x2="486.30" y2="429.00" stroke="#888" stroke-width="0.5"/>
<text x="486.30" y="434.60" font-size="6.6" text-anchor="middle" fill="#333" style="stroke-width:0.08px">100</text>
<line x1="513.80" y1="427.80" x2="513.80" y2="429.00" stroke="#888" stroke-width="0.5"/>
<text x="513.80" y="434.60" font-size="6.6" text-anchor="middle" fill="#333" style="stroke-width:0.08px">150</text>
<text transform="translate(413.0 400.80) rotate(-90)" text-anchor="middle" font-size="7.8" textLength="43.6" lengthAdjust="spacingAndGlyphs" fill="#000">Counts (×10<tspan font-size="4.8" dy="-2.0">1</tspan><tspan dy="2.0">)</tspan></text>
<text x="498.20" y="385.00" font-size="7.0" fill="#000" style="stroke-width:0.10px">Day 6</text>
<path d="M431.30,498.00 L432.95,498.00 L434.60,495.89 L436.25,495.47 L437.90,494.20 L439.00,495.89 L441.20,496.31 L443.40,495.05 L445.60,494.63 L447.80,495.47 L450.00,495.89 L452.20,495.89 L453.85,494.63 L454.95,489.57 L456.05,472.70 L457.15,460.05 L458.25,450.77 L459.35,449.51 L460.45,453.72 L462.10,462.16 L463.75,465.11 L465.40,468.48 L467.60,471.86 L469.25,474.81 L470.90,479.02 L472.55,483.24 L474.20,487.46 L476.40,490.83 L478.60,492.94 L480.80,494.63 L483.55,495.89 L486.30,496.31 L491.80,496.74 L497.30,497.16 L505.55,497.58 L513.80,498.00 L513.80,498.00 L431.30,498.00 Z" fill="#80ea78" stroke="#3bb53b" stroke-width="0.7" stroke-linejoin="round"/>
<line x1="431.30" y1="445.40" x2="431.30" y2="498.00" stroke="#888" stroke-width="0.6"/>
<line x1="431.30" y1="498.00" x2="517.5" y2="498.00" stroke="#888" stroke-width="0.6"/>
<line x1="430.10" y1="498.00" x2="431.30" y2="498.00" stroke="#888" stroke-width="0.5"/>
<text x="429.60" y="500.20" font-size="6.0" text-anchor="end" fill="#333" style="stroke-width:0.04px">0</text>
<line x1="430.10" y1="485.35" x2="431.30" y2="485.35" stroke="#888" stroke-width="0.5"/>
<text x="429.60" y="487.55" font-size="6.0" text-anchor="end" fill="#333" style="stroke-width:0.04px">30</text>
<line x1="430.10" y1="472.70" x2="431.30" y2="472.70" stroke="#888" stroke-width="0.5"/>
<text x="429.60" y="474.90" font-size="6.0" text-anchor="end" fill="#333" style="stroke-width:0.04px">60</text>
<line x1="430.10" y1="460.05" x2="431.30" y2="460.05" stroke="#888" stroke-width="0.5"/>
<text x="429.60" y="462.25" font-size="6.0" text-anchor="end" fill="#333" style="stroke-width:0.04px">90</text>
<line x1="430.10" y1="447.40" x2="431.30" y2="447.40" stroke="#888" stroke-width="0.5"/>
<text x="429.60" y="449.60" font-size="6.0" text-anchor="end" fill="#333" style="stroke-width:0.04px">120</text>
<line x1="431.30" y1="498.00" x2="431.30" y2="499.20" stroke="#888" stroke-width="0.5"/>
<text x="431.30" y="504.80" font-size="6.6" text-anchor="middle" fill="#333" style="stroke-width:0.08px">0</text>
<line x1="458.80" y1="498.00" x2="458.80" y2="499.20" stroke="#888" stroke-width="0.5"/>
<text x="458.80" y="504.80" font-size="6.6" text-anchor="middle" fill="#333" style="stroke-width:0.08px">50</text>
<line x1="486.30" y1="498.00" x2="486.30" y2="499.20" stroke="#888" stroke-width="0.5"/>
<text x="486.30" y="504.80" font-size="6.6" text-anchor="middle" fill="#333" style="stroke-width:0.08px">100</text>
<line x1="513.80" y1="498.00" x2="513.80" y2="499.20" stroke="#888" stroke-width="0.5"/>
<text x="513.80" y="504.80" font-size="6.6" text-anchor="middle" fill="#333" style="stroke-width:0.08px">150</text>
<text transform="translate(413.0 468.90) rotate(-90)" text-anchor="middle" font-size="7.8" textLength="43.6" lengthAdjust="spacingAndGlyphs" fill="#000">Counts (×10<tspan font-size="4.8" dy="-2.0">1</tspan><tspan dy="2.0">)</tspan></text>
<text x="498.20" y="450.90" font-size="7.0" fill="#000" style="stroke-width:0.10px">Day 8</text>
<path d="M431.30,565.30 L432.95,565.30 L435.70,564.37 L439.00,563.44 L442.30,562.82 L445.05,562.52 L446.70,563.13 L449.45,564.37 L452.20,564.37 L454.40,562.21 L456.05,546.74 L457.15,528.17 L458.25,516.42 L459.35,518.89 L460.45,525.08 L461.55,532.82 L463.20,540.55 L464.85,544.26 L466.50,546.74 L468.70,549.21 L470.90,552.92 L473.10,556.64 L475.30,559.73 L478.05,562.21 L480.80,563.44 L486.30,564.06 L491.80,564.68 L500.05,564.99 L513.80,565.30 L513.80,565.30 L431.30,565.30 Z" fill="#80ea78" stroke="#3bb53b" stroke-width="0.7" stroke-linejoin="round"/>
<line x1="431.30" y1="512.90" x2="431.30" y2="565.30" stroke="#888" stroke-width="0.6"/>
<line x1="431.30" y1="565.30" x2="517.5" y2="565.30" stroke="#888" stroke-width="0.6"/>
<line x1="430.10" y1="565.30" x2="431.30" y2="565.30" stroke="#888" stroke-width="0.5"/>
<text x="429.60" y="567.50" font-size="6.0" text-anchor="end" fill="#333" style="stroke-width:0.04px">0</text>
<line x1="430.10" y1="552.92" x2="431.30" y2="552.92" stroke="#888" stroke-width="0.5"/>
<text x="429.60" y="555.12" font-size="6.0" text-anchor="end" fill="#333" style="stroke-width:0.04px">40</text>
<line x1="430.10" y1="540.55" x2="431.30" y2="540.55" stroke="#888" stroke-width="0.5"/>
<text x="429.60" y="542.75" font-size="6.0" text-anchor="end" fill="#333" style="stroke-width:0.04px">80</text>
<line x1="430.10" y1="528.17" x2="431.30" y2="528.17" stroke="#888" stroke-width="0.5"/>
<text x="429.60" y="530.38" font-size="6.0" text-anchor="end" fill="#333" style="stroke-width:0.04px">120</text>
<line x1="430.10" y1="515.80" x2="431.30" y2="515.80" stroke="#888" stroke-width="0.5"/>
<text x="429.60" y="518.00" font-size="6.0" text-anchor="end" fill="#333" style="stroke-width:0.04px">160</text>
<line x1="431.30" y1="565.30" x2="431.30" y2="566.50" stroke="#888" stroke-width="0.5"/>
<text x="431.30" y="572.10" font-size="6.6" text-anchor="middle" fill="#333" style="stroke-width:0.08px">0</text>
<line x1="458.80" y1="565.30" x2="458.80" y2="566.50" stroke="#888" stroke-width="0.5"/>
<text x="458.80" y="572.10" font-size="6.6" text-anchor="middle" fill="#333" style="stroke-width:0.08px">50</text>
<line x1="486.30" y1="565.30" x2="486.30" y2="566.50" stroke="#888" stroke-width="0.5"/>
<text x="486.30" y="572.10" font-size="6.6" text-anchor="middle" fill="#333" style="stroke-width:0.08px">100</text>
<line x1="513.80" y1="565.30" x2="513.80" y2="566.50" stroke="#888" stroke-width="0.5"/>
<text x="513.80" y="572.10" font-size="6.6" text-anchor="middle" fill="#333" style="stroke-width:0.08px">150</text>
<text transform="translate(413.0 536.80) rotate(-90)" text-anchor="middle" font-size="7.8" textLength="43.6" lengthAdjust="spacingAndGlyphs" fill="#000">Counts (×10<tspan font-size="4.8" dy="-2.0">1</tspan><tspan dy="2.0">)</tspan></text>
<text x="498.20" y="517.90" font-size="7.0" fill="#000" style="stroke-width:0.10px">Day 10</text>
<path d="M431.30,634.60 L432.95,634.60 L434.60,633.82 L436.80,633.30 L437.90,632.51 L438.45,630.16 L439.28,633.03 L440.65,633.56 L445.05,633.56 L450.55,633.56 L452.75,632.51 L454.40,624.16 L455.50,608.50 L456.60,592.84 L457.43,587.62 L458.25,591.53 L459.35,600.67 L460.45,608.50 L461.55,615.02 L463.20,618.94 L464.85,621.03 L466.50,622.07 L468.15,623.64 L469.80,625.47 L472.00,627.29 L474.20,629.12 L476.40,630.69 L479.70,631.99 L483.55,633.03 L489.05,633.82 L497.30,634.34 L513.80,634.60 L513.80,634.60 L431.30,634.60 Z" fill="#80ea78" stroke="#3bb53b" stroke-width="0.7" stroke-linejoin="round"/>
<line x1="431.30" y1="581.90" x2="431.30" y2="634.60" stroke="#888" stroke-width="0.6"/>
<line x1="431.30" y1="634.60" x2="517.5" y2="634.60" stroke="#888" stroke-width="0.6"/>
<line x1="430.10" y1="634.60" x2="431.30" y2="634.60" stroke="#888" stroke-width="0.5"/>
<text x="429.60" y="636.80" font-size="6.0" text-anchor="end" fill="#333" style="stroke-width:0.04px">0</text>
<line x1="430.10" y1="621.55" x2="431.30" y2="621.55" stroke="#888" stroke-width="0.5"/>
<text x="429.60" y="623.75" font-size="6.0" text-anchor="end" fill="#333" style="stroke-width:0.04px">50</text>
<line x1="430.10" y1="608.50" x2="431.30" y2="608.50" stroke="#888" stroke-width="0.5"/>
<text x="429.60" y="610.70" font-size="6.0" text-anchor="end" fill="#333" style="stroke-width:0.04px">100</text>
<line x1="430.10" y1="595.45" x2="431.30" y2="595.45" stroke="#888" stroke-width="0.5"/>
<text x="429.60" y="597.65" font-size="6.0" text-anchor="end" fill="#333" style="stroke-width:0.04px">150</text>
<line x1="430.10" y1="582.40" x2="431.30" y2="582.40" stroke="#888" stroke-width="0.5"/>
<text x="429.60" y="584.60" font-size="6.0" text-anchor="end" fill="#333" style="stroke-width:0.04px">200</text>
<line x1="431.30" y1="634.60" x2="431.30" y2="635.80" stroke="#888" stroke-width="0.5"/>
<text x="431.30" y="641.40" font-size="6.6" text-anchor="middle" fill="#333" style="stroke-width:0.08px">0</text>
<line x1="458.80" y1="634.60" x2="458.80" y2="635.80" stroke="#888" stroke-width="0.5"/>
<text x="458.80" y="641.40" font-size="6.6" text-anchor="middle" fill="#333" style="stroke-width:0.08px">50</text>
<line x1="486.30" y1="634.60" x2="486.30" y2="635.80" stroke="#888" stroke-width="0.5"/>
<text x="486.30" y="641.40" font-size="6.6" text-anchor="middle" fill="#333" style="stroke-width:0.08px">100</text>
<line x1="513.80" y1="634.60" x2="513.80" y2="635.80" stroke="#888" stroke-width="0.5"/>
<text x="513.80" y="641.40" font-size="6.6" text-anchor="middle" fill="#333" style="stroke-width:0.08px">150</text>
<text transform="translate(413.0 607.40) rotate(-90)" text-anchor="middle" font-size="7.8" textLength="43.6" lengthAdjust="spacingAndGlyphs" fill="#000">Counts (×10<tspan font-size="4.8" dy="-2.0">1</tspan><tspan dy="2.0">)</tspan></text>
<text x="498.20" y="586.60" font-size="7.0" fill="#000" style="stroke-width:0.10px">Day 12</text>
<path d="M431.30,701.50 L432.95,701.50 L434.60,700.58 L436.80,699.97 L437.90,699.04 L438.45,695.36 L439.28,699.66 L440.65,700.27 L445.05,700.27 L450.55,700.27 L452.75,699.04 L454.40,689.23 L455.50,670.81 L456.60,655.47 L457.43,651.79 L458.25,655.47 L459.35,664.67 L460.45,673.88 L461.55,680.63 L463.20,684.62 L464.85,686.77 L466.50,688.00 L468.15,689.84 L469.80,692.29 L472.00,694.13 L474.20,695.98 L476.40,697.82 L479.70,699.04 L483.55,699.97 L489.05,700.58 L497.30,701.19 L513.80,701.50 L513.80,701.50 L431.30,701.50 Z" fill="#80ea78" stroke="#3bb53b" stroke-width="0.7" stroke-linejoin="round"/>
<line x1="431.30" y1="648.80" x2="431.30" y2="701.50" stroke="#888" stroke-width="0.6"/>
<line x1="431.30" y1="701.50" x2="517.5" y2="701.50" stroke="#888" stroke-width="0.6"/>
<line x1="430.10" y1="701.50" x2="431.30" y2="701.50" stroke="#888" stroke-width="0.5"/>
<text x="429.60" y="703.70" font-size="6.0" text-anchor="end" fill="#333" style="stroke-width:0.04px">0</text>
<line x1="430.10" y1="689.23" x2="431.30" y2="689.23" stroke="#888" stroke-width="0.5"/>
<text x="429.60" y="691.43" font-size="6.0" text-anchor="end" fill="#333" style="stroke-width:0.04px">40</text>
<line x1="430.10" y1="676.95" x2="431.30" y2="676.95" stroke="#888" stroke-width="0.5"/>
<text x="429.60" y="679.15" font-size="6.0" text-anchor="end" fill="#333" style="stroke-width:0.04px">80</text>
<line x1="430.10" y1="664.67" x2="431.30" y2="664.67" stroke="#888" stroke-width="0.5"/>
<text x="429.60" y="666.88" font-size="6.0" text-anchor="end" fill="#333" style="stroke-width:0.04px">120</text>
<line x1="430.10" y1="652.40" x2="431.30" y2="652.40" stroke="#888" stroke-width="0.5"/>
<text x="429.60" y="654.60" font-size="6.0" text-anchor="end" fill="#333" style="stroke-width:0.04px">160</text>
<line x1="431.30" y1="701.50" x2="431.30" y2="702.70" stroke="#888" stroke-width="0.5"/>
<text x="431.30" y="708.30" font-size="6.6" text-anchor="middle" fill="#333" style="stroke-width:0.08px">0</text>
<line x1="458.80" y1="701.50" x2="458.80" y2="702.70" stroke="#888" stroke-width="0.5"/>
<text x="458.80" y="708.30" font-size="6.6" text-anchor="middle" fill="#333" style="stroke-width:0.08px">50</text>
<line x1="486.30" y1="701.50" x2="486.30" y2="702.70" stroke="#888" stroke-width="0.5"/>
<text x="486.30" y="708.30" font-size="6.6" text-anchor="middle" fill="#333" style="stroke-width:0.08px">100</text>
<line x1="513.80" y1="701.50" x2="513.80" y2="702.70" stroke="#888" stroke-width="0.5"/>
<text x="513.80" y="708.30" font-size="6.6" text-anchor="middle" fill="#333" style="stroke-width:0.08px">150</text>
<text transform="translate(413.0 674.80) rotate(-90)" text-anchor="middle" font-size="7.8" textLength="43.6" lengthAdjust="spacingAndGlyphs" fill="#000">Counts (×10<tspan font-size="4.8" dy="-2.0">1</tspan><tspan dy="2.0">)</tspan></text>
<text x="498.20" y="651.20" font-size="7.0" fill="#000" style="stroke-width:0.10px">Day 14</text>
<text x="438" y="716" font-size="7.0" fill="#000" style="stroke-width:0.1px">Forward scatter (×10<tspan font-size="4.6" dy="-2.6">4</tspan><tspan dy="2.6">)</tspan></text>
<text x="540.90" y="140.00" font-size="8.4" fill="#000" style="stroke-width:0.17px">(e)</text>
<text x="625.30" y="141.30" font-size="7.0" text-anchor="middle" textLength="114.9" lengthAdjust="spacingAndGlyphs" fill="#000" style="stroke-width:0.10px">Interpolated Forward Scatter vs CTM</text>
<text x="625.3" y="149.4" font-size="7.0" text-anchor="middle" fill="#000" style="stroke-width:0.1px">(H<tspan font-size="4.6" dy="1.6">4</tspan><tspan dy="-1.6">) Histogram</tspan></text>
<rect x="568.3" y="156.9" width="15.6" height="2.8" fill="#5ef05a"/>
<rect x="631.6" y="156.9" width="16.4" height="2.8" fill="#6a2aa6"/>
<text x="568.30" y="165.90" font-size="5.6" textLength="42.3" lengthAdjust="spacingAndGlyphs" fill="#000" style="stroke-width:0.04px">Interpolated FSC</text>
<text x="631.6" y="165.9" font-size="5.6" fill="#000" style="stroke-width:0.04px">H<tspan font-size="3.8" dy="1.2">4</tspan><tspan dy="-1.2"> CTM Histogram</tspan></text>
<path d="M568.90,196.40 C569.92,196.27 570.93,196.13 571.95,196.00 C572.97,195.87 573.99,195.74 575.00,195.61 C576.02,195.47 577.04,195.41 578.05,195.21 C579.07,195.01 580.09,194.55 581.10,194.02 C582.12,193.49 583.14,191.63 584.15,191.63 C585.17,191.63 586.19,193.22 587.21,193.22 C588.22,193.22 589.24,191.50 590.26,189.25 C590.97,187.66 591.68,179.70 592.39,176.53 C592.90,174.25 593.41,170.96 593.92,170.96 C594.53,170.96 595.14,170.96 595.75,170.96 C596.26,170.96 596.77,173.16 597.27,174.94 C597.99,177.41 598.70,183.39 599.41,186.86 C600.02,189.83 600.63,193.63 601.24,194.81 C601.65,195.60 602.05,196.40 602.46,196.40 C626.87,196.40 651.28,196.40 675.68,196.40 L675.68,196.40 L568.90,196.40 Z" fill="#b4f2a8"/>
<path d="M568.90,196.40 C569.92,196.27 570.93,196.13 571.95,196.00 C572.97,195.87 573.99,195.74 575.00,195.61 C576.02,195.47 577.04,195.41 578.05,195.21 C579.07,195.01 580.09,194.55 581.10,194.02 C582.12,193.49 583.14,191.63 584.15,191.63 C585.17,191.63 586.19,193.22 587.21,193.22 C588.22,193.22 589.24,191.50 590.26,189.25 C590.97,187.66 591.68,179.70 592.39,176.53 C592.90,174.25 593.41,170.96 593.92,170.96 C594.53,170.96 595.14,170.96 595.75,170.96 C596.26,170.96 596.77,173.16 597.27,174.94 C597.99,177.41 598.70,183.39 599.41,186.86 C600.02,189.83 600.63,193.63 601.24,194.81 C601.65,195.60 602.05,196.40 602.46,196.40 C626.87,196.40 651.28,196.40 675.68,196.40" fill="none" stroke="#5ee65a" stroke-width="0.9"/>
<line x1="568.60" y1="169.50" x2="568.60" y2="196.40" stroke="#999" stroke-width="0.6"/>
<line x1="568.60" y1="196.40" x2="677.2" y2="196.40" stroke="#999" stroke-width="0.6"/>
<line x1="568.90" y1="196.40" x2="568.90" y2="197.40" stroke="#999" stroke-width="0.5"/>
<line x1="584.15" y1="196.40" x2="584.15" y2="197.40" stroke="#999" stroke-width="0.5"/>
<line x1="599.41" y1="196.40" x2="599.41" y2="197.40" stroke="#999" stroke-width="0.5"/>
<line x1="614.66" y1="196.40" x2="614.66" y2="197.40" stroke="#999" stroke-width="0.5"/>
<line x1="629.92" y1="196.40" x2="629.92" y2="197.40" stroke="#999" stroke-width="0.5"/>
<line x1="645.17" y1="196.40" x2="645.17" y2="197.40" stroke="#999" stroke-width="0.5"/>
<line x1="660.43" y1="196.40" x2="660.43" y2="197.40" stroke="#999" stroke-width="0.5"/>
<line x1="675.68" y1="196.40" x2="675.68" y2="197.40" stroke="#999" stroke-width="0.5"/>
<line x1="567.60" y1="196.40" x2="568.60" y2="196.40" stroke="#999" stroke-width="0.5"/>
<text x="566.70" y="198.60" font-size="6.3" text-anchor="end" fill="#333" style="stroke-width:0.06px">0</text>
<line x1="567.60" y1="180.50" x2="568.60" y2="180.50" stroke="#999" stroke-width="0.5"/>
<text x="566.70" y="182.70" font-size="6.3" text-anchor="end" fill="#333" style="stroke-width:0.06px">20</text>
<path d="M568.90,227.30 C570.93,227.30 572.97,227.30 575.00,227.30 C576.02,227.30 577.04,225.78 578.05,225.06 C578.87,224.48 579.68,223.38 580.49,223.38 C581.71,223.38 582.93,223.55 584.15,223.72 C585.17,223.86 586.19,224.50 587.21,224.50 C588.22,224.50 589.24,223.72 590.26,222.82 C591.27,221.92 592.29,218.51 593.31,216.10 C594.32,213.69 595.34,210.44 596.36,208.26 C597.38,206.08 598.39,202.66 599.41,202.66 C600.43,202.66 601.44,206.08 602.46,208.26 C603.48,210.44 604.50,213.92 605.51,216.10 C606.53,218.28 607.55,220.30 608.56,221.70 C609.58,223.10 610.60,224.50 611.61,225.06 C612.63,225.62 613.65,226.02 614.66,226.18 C616.70,226.50 618.73,226.74 620.77,226.74 C623.82,226.74 626.87,226.74 629.92,226.74 C631.95,226.74 633.99,226.40 636.02,226.40 C639.07,226.40 642.12,227.03 645.17,227.08 C655.34,227.24 665.51,227.23 675.68,227.30 L675.68,227.30 L568.90,227.30 Z" fill="#c6aedd"/>
<path d="M568.90,227.30 C570.93,227.30 572.97,227.30 575.00,227.30 C576.02,227.30 577.04,225.78 578.05,225.06 C578.87,224.48 579.68,223.38 580.49,223.38 C581.71,223.38 582.93,223.55 584.15,223.72 C585.17,223.86 586.19,224.50 587.21,224.50 C588.22,224.50 589.24,223.72 590.26,222.82 C591.27,221.92 592.29,218.51 593.31,216.10 C594.32,213.69 595.34,210.44 596.36,208.26 C597.38,206.08 598.39,202.66 599.41,202.66 C600.43,202.66 601.44,206.08 602.46,208.26 C603.48,210.44 604.50,213.92 605.51,216.10 C606.53,218.28 607.55,220.30 608.56,221.70 C609.58,223.10 610.60,224.50 611.61,225.06 C612.63,225.62 613.65,226.02 614.66,226.18 C616.70,226.50 618.73,226.74 620.77,226.74 C623.82,226.74 626.87,226.74 629.92,226.74 C631.95,226.74 633.99,226.40 636.02,226.40 C639.07,226.40 642.12,227.03 645.17,227.08 C655.34,227.24 665.51,227.23 675.68,227.30" fill="none" stroke="#7a4fb0" stroke-width="0.9"/>
<line x1="568.60" y1="200.20" x2="568.60" y2="227.30" stroke="#999" stroke-width="0.6"/>
<line x1="568.60" y1="227.30" x2="677.2" y2="227.30" stroke="#999" stroke-width="0.6"/>
<line x1="568.90" y1="227.30" x2="568.90" y2="228.30" stroke="#999" stroke-width="0.5"/>
<line x1="584.15" y1="227.30" x2="584.15" y2="228.30" stroke="#999" stroke-width="0.5"/>
<line x1="599.41" y1="227.30" x2="599.41" y2="228.30" stroke="#999" stroke-width="0.5"/>
<line x1="614.66" y1="227.30" x2="614.66" y2="228.30" stroke="#999" stroke-width="0.5"/>
<line x1="629.92" y1="227.30" x2="629.92" y2="228.30" stroke="#999" stroke-width="0.5"/>
<line x1="645.17" y1="227.30" x2="645.17" y2="228.30" stroke="#999" stroke-width="0.5"/>
<line x1="660.43" y1="227.30" x2="660.43" y2="228.30" stroke="#999" stroke-width="0.5"/>
<line x1="675.68" y1="227.30" x2="675.68" y2="228.30" stroke="#999" stroke-width="0.5"/>
<line x1="567.60" y1="227.30" x2="568.60" y2="227.30" stroke="#999" stroke-width="0.5"/>
<text x="566.70" y="229.50" font-size="6.3" text-anchor="end" fill="#333" style="stroke-width:0.06px">0</text>
<line x1="567.60" y1="204.90" x2="568.60" y2="204.90" stroke="#999" stroke-width="0.5"/>
<text x="566.70" y="207.10" font-size="6.3" text-anchor="end" fill="#333" style="stroke-width:0.06px">20</text>
<text x="568.90" y="233.80" font-size="6.3" text-anchor="middle" fill="#333" style="stroke-width:0.06px">0</text>
<text x="584.15" y="233.80" font-size="6.3" text-anchor="middle" fill="#333" style="stroke-width:0.06px">5</text>
<text x="599.41" y="233.80" font-size="6.3" text-anchor="middle" fill="#333" style="stroke-width:0.06px">10</text>
<text x="614.66" y="233.80" font-size="6.3" text-anchor="middle" fill="#333" style="stroke-width:0.06px">15</text>
<text x="629.92" y="233.80" font-size="6.3" text-anchor="middle" fill="#333" style="stroke-width:0.06px">20</text>
<text x="645.17" y="233.80" font-size="6.3" text-anchor="middle" fill="#333" style="stroke-width:0.06px">25</text>
<text x="660.43" y="233.80" font-size="6.3" text-anchor="middle" fill="#333" style="stroke-width:0.06px">30</text>
<text x="675.68" y="233.80" font-size="6.3" text-anchor="middle" fill="#333" style="stroke-width:0.06px">35</text>
<text x="641.80" y="175.90" font-size="6.9" fill="#000" style="stroke-width:0.09px">ρ = 0.54 (***)</text>
<text x="648.80" y="183.20" font-size="5.2" fill="#000" style="stroke-width:0.04px">p = 0.0009</text>
<text transform="translate(548.0 207.30) rotate(-90)" text-anchor="middle" font-size="6.9" fill="#000" style="stroke-width:0.09px">Day 0</text>
<text transform="translate(554.6 201.70) rotate(-90)" text-anchor="middle" font-size="6.7" textLength="46.8" lengthAdjust="spacingAndGlyphs" fill="#000" style="stroke-width:0.08px">Frequency (%)</text>
<path d="M568.90,261.60 C569.92,261.35 570.93,261.27 571.95,260.86 C572.97,260.45 573.99,257.16 575.00,257.16 C576.02,257.16 577.04,257.90 578.05,257.90 C579.07,257.90 580.09,257.90 581.10,257.90 C582.12,257.90 583.14,256.75 584.15,256.42 C585.17,256.09 586.19,256.12 587.21,255.68 C588.22,255.24 589.24,252.49 590.26,249.76 C591.27,247.03 592.29,236.44 593.31,236.44 C594.32,236.44 595.34,240.17 596.36,242.36 C597.38,244.55 598.39,248.12 599.41,249.76 C600.43,251.40 601.44,252.53 602.46,253.46 C603.48,254.38 604.50,255.09 605.51,255.68 C606.53,256.27 607.55,256.82 608.56,257.16 C610.60,257.84 612.63,258.38 614.66,258.64 C617.72,259.02 620.77,259.15 623.82,259.38 C625.85,259.54 627.89,259.71 629.92,259.82 C631.95,259.94 633.99,260.00 636.02,260.12 C639.07,260.30 642.12,260.70 645.17,260.86 C650.26,261.13 655.34,261.37 660.43,261.45 C665.51,261.53 670.60,261.55 675.68,261.60 L675.68,261.60 L568.90,261.60 Z" fill="#b4f2a8"/>
<path d="M568.90,261.60 C569.92,261.35 570.93,261.27 571.95,260.86 C572.97,260.45 573.99,257.16 575.00,257.16 C576.02,257.16 577.04,257.90 578.05,257.90 C579.07,257.90 580.09,257.90 581.10,257.90 C582.12,257.90 583.14,256.75 584.15,256.42 C585.17,256.09 586.19,256.12 587.21,255.68 C588.22,255.24 589.24,252.49 590.26,249.76 C591.27,247.03 592.29,236.44 593.31,236.44 C594.32,236.44 595.34,240.17 596.36,242.36 C597.38,244.55 598.39,248.12 599.41,249.76 C600.43,251.40 601.44,252.53 602.46,253.46 C603.48,254.38 604.50,255.09 605.51,255.68 C606.53,256.27 607.55,256.82 608.56,257.16 C610.60,257.84 612.63,258.38 614.66,258.64 C617.72,259.02 620.77,259.15 623.82,259.38 C625.85,259.54 627.89,259.71 629.92,259.82 C631.95,259.94 633.99,260.00 636.02,260.12 C639.07,260.30 642.12,260.70 645.17,260.86 C650.26,261.13 655.34,261.37 660.43,261.45 C665.51,261.53 670.60,261.55 675.68,261.60" fill="none" stroke="#5ee65a" stroke-width="0.9"/>
<line x1="568.60" y1="236.20" x2="568.60" y2="261.60" stroke="#999" stroke-width="0.6"/>
<line x1="568.60" y1="261.60" x2="677.2" y2="261.60" stroke="#999" stroke-width="0.6"/>
<line x1="568.90" y1="261.60" x2="568.90" y2="262.60" stroke="#999" stroke-width="0.5"/>
<line x1="584.15" y1="261.60" x2="584.15" y2="262.60" stroke="#999" stroke-width="0.5"/>
<line x1="599.41" y1="261.60" x2="599.41" y2="262.60" stroke="#999" stroke-width="0.5"/>
<line x1="614.66" y1="261.60" x2="614.66" y2="262.60" stroke="#999" stroke-width="0.5"/>
<line x1="629.92" y1="261.60" x2="629.92" y2="262.60" stroke="#999" stroke-width="0.5"/>
<line x1="645.17" y1="261.60" x2="645.17" y2="262.60" stroke="#999" stroke-width="0.5"/>
<line x1="660.43" y1="261.60" x2="660.43" y2="262.60" stroke="#999" stroke-width="0.5"/>
<line x1="675.68" y1="261.60" x2="675.68" y2="262.60" stroke="#999" stroke-width="0.5"/>
<line x1="567.60" y1="261.60" x2="568.60" y2="261.60" stroke="#999" stroke-width="0.5"/>
<text x="566.70" y="263.80" font-size="6.3" text-anchor="end" fill="#333" style="stroke-width:0.06px">0</text>
<line x1="567.60" y1="246.80" x2="568.60" y2="246.80" stroke="#999" stroke-width="0.5"/>
<text x="566.70" y="249.00" font-size="6.3" text-anchor="end" fill="#333" style="stroke-width:0.06px">10</text>
<path d="M568.90,292.30 C569.92,292.30 570.93,292.30 571.95,292.30 C572.97,292.30 573.99,289.12 575.00,286.78 C576.02,284.44 577.04,280.34 578.05,277.12 C579.07,273.90 580.09,267.46 581.10,267.46 C582.12,267.46 583.14,275.07 584.15,278.50 C585.17,281.93 586.19,288.16 587.21,288.16 C588.22,288.16 589.24,287.12 590.26,286.09 C591.27,285.06 592.29,280.92 593.31,279.88 C594.32,278.85 595.34,277.81 596.36,277.81 C597.38,277.81 598.39,279.84 599.41,281.26 C600.43,282.68 601.44,286.37 602.46,286.78 C603.48,287.19 604.50,287.24 605.51,287.47 C606.53,287.70 607.55,287.85 608.56,288.16 C609.58,288.47 610.60,289.08 611.61,289.54 C612.63,290.00 613.65,290.92 614.66,290.92 C616.70,290.92 618.73,290.64 620.77,290.64 C623.82,290.64 626.87,290.76 629.92,290.92 C631.95,291.03 633.99,291.74 636.02,291.89 C639.07,292.11 642.12,292.30 645.17,292.30 C655.34,292.30 665.51,292.30 675.68,292.30 L675.68,292.30 L568.90,292.30 Z" fill="#c6aedd"/>
<path d="M568.90,292.30 C569.92,292.30 570.93,292.30 571.95,292.30 C572.97,292.30 573.99,289.12 575.00,286.78 C576.02,284.44 577.04,280.34 578.05,277.12 C579.07,273.90 580.09,267.46 581.10,267.46 C582.12,267.46 583.14,275.07 584.15,278.50 C585.17,281.93 586.19,288.16 587.21,288.16 C588.22,288.16 589.24,287.12 590.26,286.09 C591.27,285.06 592.29,280.92 593.31,279.88 C594.32,278.85 595.34,277.81 596.36,277.81 C597.38,277.81 598.39,279.84 599.41,281.26 C600.43,282.68 601.44,286.37 602.46,286.78 C603.48,287.19 604.50,287.24 605.51,287.47 C606.53,287.70 607.55,287.85 608.56,288.16 C609.58,288.47 610.60,289.08 611.61,289.54 C612.63,290.00 613.65,290.92 614.66,290.92 C616.70,290.92 618.73,290.64 620.77,290.64 C623.82,290.64 626.87,290.76 629.92,290.92 C631.95,291.03 633.99,291.74 636.02,291.89 C639.07,292.11 642.12,292.30 645.17,292.30 C655.34,292.30 665.51,292.30 675.68,292.30" fill="none" stroke="#7a4fb0" stroke-width="0.9"/>
<line x1="568.60" y1="265.80" x2="568.60" y2="292.30" stroke="#999" stroke-width="0.6"/>
<line x1="568.60" y1="292.30" x2="677.2" y2="292.30" stroke="#999" stroke-width="0.6"/>
<line x1="568.90" y1="292.30" x2="568.90" y2="293.30" stroke="#999" stroke-width="0.5"/>
<line x1="584.15" y1="292.30" x2="584.15" y2="293.30" stroke="#999" stroke-width="0.5"/>
<line x1="599.41" y1="292.30" x2="599.41" y2="293.30" stroke="#999" stroke-width="0.5"/>
<line x1="614.66" y1="292.30" x2="614.66" y2="293.30" stroke="#999" stroke-width="0.5"/>
<line x1="629.92" y1="292.30" x2="629.92" y2="293.30" stroke="#999" stroke-width="0.5"/>
<line x1="645.17" y1="292.30" x2="645.17" y2="293.30" stroke="#999" stroke-width="0.5"/>
<line x1="660.43" y1="292.30" x2="660.43" y2="293.30" stroke="#999" stroke-width="0.5"/>
<line x1="675.68" y1="292.30" x2="675.68" y2="293.30" stroke="#999" stroke-width="0.5"/>
<line x1="567.60" y1="292.30" x2="568.60" y2="292.30" stroke="#999" stroke-width="0.5"/>
<text x="566.70" y="294.50" font-size="6.3" text-anchor="end" fill="#333" style="stroke-width:0.06px">0</text>
<line x1="567.60" y1="278.50" x2="568.60" y2="278.50" stroke="#999" stroke-width="0.5"/>
<text x="566.70" y="280.70" font-size="6.3" text-anchor="end" fill="#333" style="stroke-width:0.06px">10</text>
<text x="568.90" y="298.80" font-size="6.3" text-anchor="middle" fill="#333" style="stroke-width:0.06px">0</text>
<text x="584.15" y="298.80" font-size="6.3" text-anchor="middle" fill="#333" style="stroke-width:0.06px">5</text>
<text x="599.41" y="298.80" font-size="6.3" text-anchor="middle" fill="#333" style="stroke-width:0.06px">10</text>
<text x="614.66" y="298.80" font-size="6.3" text-anchor="middle" fill="#333" style="stroke-width:0.06px">15</text>
<text x="629.92" y="298.80" font-size="6.3" text-anchor="middle" fill="#333" style="stroke-width:0.06px">20</text>
<text x="645.17" y="298.80" font-size="6.3" text-anchor="middle" fill="#333" style="stroke-width:0.06px">25</text>
<text x="660.43" y="298.80" font-size="6.3" text-anchor="middle" fill="#333" style="stroke-width:0.06px">30</text>
<text x="675.68" y="298.80" font-size="6.3" text-anchor="middle" fill="#333" style="stroke-width:0.06px">35</text>
<text x="641.80" y="242.60" font-size="6.9" fill="#000" style="stroke-width:0.09px">ρ = 0.61 (***)</text>
<text x="648.80" y="250.60" font-size="5.2" fill="#000" style="stroke-width:0.04px">p = 0.0001</text>
<text transform="translate(548.0 278.00) rotate(-90)" text-anchor="middle" font-size="6.9" fill="#000" style="stroke-width:0.09px">Day 2</text>
<text transform="translate(554.6 263.40) rotate(-90)" text-anchor="middle" font-size="6.7" textLength="46.8" lengthAdjust="spacingAndGlyphs" fill="#000" style="stroke-width:0.08px">Frequency (%)</text>
<path d="M568.90,329.90 C569.92,329.61 570.93,329.56 571.95,329.04 C572.97,328.51 573.99,320.40 575.00,320.40 C576.02,320.40 577.04,323.81 578.05,324.14 C579.07,324.47 580.09,324.72 581.10,324.72 C582.12,324.72 583.14,323.95 584.15,323.56 C585.17,323.18 586.19,322.67 587.21,322.41 C588.22,322.16 589.24,322.16 590.26,321.84 C591.27,321.52 592.29,319.60 593.31,318.96 C594.32,318.32 595.34,317.52 596.36,317.52 C597.38,317.52 598.39,318.43 599.41,318.96 C600.43,319.48 601.44,320.40 602.46,320.68 C603.48,320.97 604.50,321.26 605.51,321.26 C606.53,321.26 607.55,319.88 608.56,318.96 C609.58,318.03 610.60,316.78 611.61,315.50 C612.63,314.22 613.65,312.52 614.66,311.18 C615.68,309.84 616.70,308.52 617.72,307.44 C618.73,306.35 619.75,304.56 620.77,304.56 C621.78,304.56 622.80,306.01 623.82,306.86 C624.84,307.71 625.85,308.78 626.87,309.74 C627.89,310.70 628.90,311.57 629.92,312.62 C630.94,313.67 631.95,314.88 632.97,316.08 C633.99,317.27 635.00,318.73 636.02,319.82 C637.04,320.91 638.06,321.79 639.07,322.70 C640.09,323.61 641.11,324.60 642.12,325.29 C643.14,325.98 644.16,326.50 645.17,327.02 C646.19,327.54 647.21,328.29 648.23,328.46 C650.26,328.81 652.29,328.89 654.33,329.04 C659.41,329.41 664.50,329.90 669.58,329.90 C671.62,329.90 673.65,329.90 675.68,329.90 L675.68,329.90 L568.90,329.90 Z" fill="#b4f2a8"/>
<path d="M568.90,329.90 C569.92,329.61 570.93,329.56 571.95,329.04 C572.97,328.51 573.99,320.40 575.00,320.40 C576.02,320.40 577.04,323.81 578.05,324.14 C579.07,324.47 580.09,324.72 581.10,324.72 C582.12,324.72 583.14,323.95 584.15,323.56 C585.17,323.18 586.19,322.67 587.21,322.41 C588.22,322.16 589.24,322.16 590.26,321.84 C591.27,321.52 592.29,319.60 593.31,318.96 C594.32,318.32 595.34,317.52 596.36,317.52 C597.38,317.52 598.39,318.43 599.41,318.96 C600.43,319.48 601.44,320.40 602.46,320.68 C603.48,320.97 604.50,321.26 605.51,321.26 C606.53,321.26 607.55,319.88 608.56,318.96 C609.58,318.03 610.60,316.78 611.61,315.50 C612.63,314.22 613.65,312.52 614.66,311.18 C615.68,309.84 616.70,308.52 617.72,307.44 C618.73,306.35 619.75,304.56 620.77,304.56 C621.78,304.56 622.80,306.01 623.82,306.86 C624.84,307.71 625.85,308.78 626.87,309.74 C627.89,310.70 628.90,311.57 629.92,312.62 C630.94,313.67 631.95,314.88 632.97,316.08 C633.99,317.27 635.00,318.73 636.02,319.82 C637.04,320.91 638.06,321.79 639.07,322.70 C640.09,323.61 641.11,324.60 642.12,325.29 C643.14,325.98 644.16,326.50 645.17,327.02 C646.19,327.54 647.21,328.29 648.23,328.46 C650.26,328.81 652.29,328.89 654.33,329.04 C659.41,329.41 664.50,329.90 669.58,329.90 C671.62,329.90 673.65,329.90 675.68,329.90" fill="none" stroke="#5ee65a" stroke-width="0.9"/>
<line x1="568.60" y1="303.50" x2="568.60" y2="329.90" stroke="#999" stroke-width="0.6"/>
<line x1="568.60" y1="329.90" x2="677.2" y2="329.90" stroke="#999" stroke-width="0.6"/>
<line x1="568.90" y1="329.90" x2="568.90" y2="330.90" stroke="#999" stroke-width="0.5"/>
<line x1="584.15" y1="329.90" x2="584.15" y2="330.90" stroke="#999" stroke-width="0.5"/>
<line x1="599.41" y1="329.90" x2="599.41" y2="330.90" stroke="#999" stroke-width="0.5"/>
<line x1="614.66" y1="329.90" x2="614.66" y2="330.90" stroke="#999" stroke-width="0.5"/>
<line x1="629.92" y1="329.90" x2="629.92" y2="330.90" stroke="#999" stroke-width="0.5"/>
<line x1="645.17" y1="329.90" x2="645.17" y2="330.90" stroke="#999" stroke-width="0.5"/>
<line x1="660.43" y1="329.90" x2="660.43" y2="330.90" stroke="#999" stroke-width="0.5"/>
<line x1="675.68" y1="329.90" x2="675.68" y2="330.90" stroke="#999" stroke-width="0.5"/>
<line x1="567.60" y1="329.90" x2="568.60" y2="329.90" stroke="#999" stroke-width="0.5"/>
<text x="566.70" y="332.10" font-size="6.3" text-anchor="end" fill="#333" style="stroke-width:0.06px">0</text>
<line x1="567.60" y1="315.50" x2="568.60" y2="315.50" stroke="#999" stroke-width="0.5"/>
<text x="566.70" y="317.70" font-size="6.3" text-anchor="end" fill="#333" style="stroke-width:0.06px">5</text>
<path d="M568.90,360.60 C570.93,360.60 572.97,360.60 575.00,360.60 C576.02,360.60 577.04,359.58 578.05,357.76 C578.76,356.49 579.48,336.74 580.19,336.46 C581.51,335.95 582.83,335.75 584.15,335.75 C585.17,335.75 586.19,340.33 587.21,343.56 C588.22,346.79 589.24,355.34 590.26,356.34 C591.27,357.34 592.29,358.04 593.31,358.04 C594.32,358.04 595.34,357.90 596.36,357.76 C597.38,357.62 598.39,357.37 599.41,357.05 C600.43,356.73 601.44,355.95 602.46,355.63 C603.48,355.31 604.50,355.16 605.51,354.92 C606.53,354.68 607.55,354.45 608.56,354.21 C609.58,353.97 610.60,353.50 611.61,353.50 C612.63,353.50 613.65,353.93 614.66,354.21 C615.68,354.49 616.70,355.01 617.72,355.20 C618.73,355.40 619.75,355.41 620.77,355.63 C621.78,355.85 622.80,356.58 623.82,357.05 C624.84,357.52 625.85,358.15 626.87,358.47 C627.89,358.79 628.90,359.18 629.92,359.18 C631.95,359.18 633.99,359.18 636.02,359.18 C637.04,359.18 638.06,358.71 639.07,358.47 C640.09,358.23 641.11,357.76 642.12,357.76 C643.14,357.76 644.16,358.76 645.17,359.18 C646.19,359.60 647.21,360.29 648.23,360.32 C657.38,360.56 666.53,360.51 675.68,360.60 L675.68,360.60 L568.90,360.60 Z" fill="#c6aedd"/>
<path d="M568.90,360.60 C570.93,360.60 572.97,360.60 575.00,360.60 C576.02,360.60 577.04,359.58 578.05,357.76 C578.76,356.49 579.48,336.74 580.19,336.46 C581.51,335.95 582.83,335.75 584.15,335.75 C585.17,335.75 586.19,340.33 587.21,343.56 C588.22,346.79 589.24,355.34 590.26,356.34 C591.27,357.34 592.29,358.04 593.31,358.04 C594.32,358.04 595.34,357.90 596.36,357.76 C597.38,357.62 598.39,357.37 599.41,357.05 C600.43,356.73 601.44,355.95 602.46,355.63 C603.48,355.31 604.50,355.16 605.51,354.92 C606.53,354.68 607.55,354.45 608.56,354.21 C609.58,353.97 610.60,353.50 611.61,353.50 C612.63,353.50 613.65,353.93 614.66,354.21 C615.68,354.49 616.70,355.01 617.72,355.20 C618.73,355.40 619.75,355.41 620.77,355.63 C621.78,355.85 622.80,356.58 623.82,357.05 C624.84,357.52 625.85,358.15 626.87,358.47 C627.89,358.79 628.90,359.18 629.92,359.18 C631.95,359.18 633.99,359.18 636.02,359.18 C637.04,359.18 638.06,358.71 639.07,358.47 C640.09,358.23 641.11,357.76 642.12,357.76 C643.14,357.76 644.16,358.76 645.17,359.18 C646.19,359.60 647.21,360.29 648.23,360.32 C657.38,360.56 666.53,360.51 675.68,360.60" fill="none" stroke="#7a4fb0" stroke-width="0.9"/>
<line x1="568.60" y1="334.20" x2="568.60" y2="360.60" stroke="#999" stroke-width="0.6"/>
<line x1="568.60" y1="360.60" x2="677.2" y2="360.60" stroke="#999" stroke-width="0.6"/>
<line x1="568.90" y1="360.60" x2="568.90" y2="361.60" stroke="#999" stroke-width="0.5"/>
<line x1="584.15" y1="360.60" x2="584.15" y2="361.60" stroke="#999" stroke-width="0.5"/>
<line x1="599.41" y1="360.60" x2="599.41" y2="361.60" stroke="#999" stroke-width="0.5"/>
<line x1="614.66" y1="360.60" x2="614.66" y2="361.60" stroke="#999" stroke-width="0.5"/>
<line x1="629.92" y1="360.60" x2="629.92" y2="361.60" stroke="#999" stroke-width="0.5"/>
<line x1="645.17" y1="360.60" x2="645.17" y2="361.60" stroke="#999" stroke-width="0.5"/>
<line x1="660.43" y1="360.60" x2="660.43" y2="361.60" stroke="#999" stroke-width="0.5"/>
<line x1="675.68" y1="360.60" x2="675.68" y2="361.60" stroke="#999" stroke-width="0.5"/>
<line x1="567.60" y1="360.60" x2="568.60" y2="360.60" stroke="#999" stroke-width="0.5"/>
<text x="566.70" y="362.80" font-size="6.3" text-anchor="end" fill="#333" style="stroke-width:0.06px">0</text>
<line x1="567.60" y1="346.40" x2="568.60" y2="346.40" stroke="#999" stroke-width="0.5"/>
<text x="566.70" y="348.60" font-size="6.3" text-anchor="end" fill="#333" style="stroke-width:0.06px">10</text>
<text x="568.90" y="367.80" font-size="6.3" text-anchor="middle" fill="#333" style="stroke-width:0.06px">0</text>
<text x="584.15" y="367.80" font-size="6.3" text-anchor="middle" fill="#333" style="stroke-width:0.06px">5</text>
<text x="599.41" y="367.80" font-size="6.3" text-anchor="middle" fill="#333" style="stroke-width:0.06px">10</text>
<text x="614.66" y="367.80" font-size="6.3" text-anchor="middle" fill="#333" style="stroke-width:0.06px">15</text>
<text x="629.92" y="367.80" font-size="6.3" text-anchor="middle" fill="#333" style="stroke-width:0.06px">20</text>
<text x="645.17" y="367.80" font-size="6.3" text-anchor="middle" fill="#333" style="stroke-width:0.06px">25</text>
<text x="660.43" y="367.80" font-size="6.3" text-anchor="middle" fill="#333" style="stroke-width:0.06px">30</text>
<text x="675.68" y="367.80" font-size="6.3" text-anchor="middle" fill="#333" style="stroke-width:0.06px">35</text>
<text x="641.80" y="310.10" font-size="6.9" fill="#000" style="stroke-width:0.09px">ρ = 0.16 (ns)</text>
<text x="648.80" y="317.10" font-size="5.2" fill="#000" style="stroke-width:0.04px">p = 0.36</text>
<text transform="translate(548.0 336.50) rotate(-90)" text-anchor="middle" font-size="6.9" fill="#000" style="stroke-width:0.09px">Day 4</text>
<text transform="translate(554.6 328.00) rotate(-90)" text-anchor="middle" font-size="6.7" textLength="46.8" lengthAdjust="spacingAndGlyphs" fill="#000" style="stroke-width:0.08px">Frequency (%)</text>
<path d="M568.90,396.60 C569.92,396.39 570.93,396.30 571.95,395.96 C572.97,395.62 573.99,394.36 575.00,393.42 C576.02,392.48 577.04,390.24 578.05,390.24 C579.07,390.24 580.09,394.48 581.10,394.48 C582.12,394.48 583.14,394.06 584.15,394.06 C586.19,394.06 588.22,394.48 590.26,394.48 C591.27,394.48 592.29,394.48 593.31,394.48 C594.32,394.48 595.34,393.77 596.36,393.42 C597.38,393.07 598.39,392.89 599.41,392.36 C600.43,391.83 601.44,390.51 602.46,389.18 C603.48,387.86 604.50,385.65 605.51,383.88 C606.53,382.11 607.55,380.15 608.56,378.58 C609.58,377.01 610.60,375.28 611.61,374.34 C612.63,373.40 613.65,372.22 614.66,372.22 C615.68,372.22 616.70,373.49 617.72,374.34 C618.73,375.19 619.75,376.31 620.77,377.52 C621.78,378.73 622.80,380.35 623.82,381.76 C624.84,383.17 625.85,385.06 626.87,386.00 C627.89,386.94 628.90,387.27 629.92,388.12 C630.94,388.97 631.95,390.45 632.97,391.30 C633.99,392.15 635.00,392.84 636.02,393.42 C637.04,394.00 638.06,394.67 639.07,394.90 C641.11,395.37 643.14,395.56 645.17,395.75 C647.21,395.94 649.24,396.10 651.28,396.18 C657.38,396.41 663.48,396.60 669.58,396.60 C671.62,396.60 673.65,396.60 675.68,396.60 L675.68,396.60 L568.90,396.60 Z" fill="#b4f2a8"/>
<path d="M568.90,396.60 C569.92,396.39 570.93,396.30 571.95,395.96 C572.97,395.62 573.99,394.36 575.00,393.42 C576.02,392.48 577.04,390.24 578.05,390.24 C579.07,390.24 580.09,394.48 581.10,394.48 C582.12,394.48 583.14,394.06 584.15,394.06 C586.19,394.06 588.22,394.48 590.26,394.48 C591.27,394.48 592.29,394.48 593.31,394.48 C594.32,394.48 595.34,393.77 596.36,393.42 C597.38,393.07 598.39,392.89 599.41,392.36 C600.43,391.83 601.44,390.51 602.46,389.18 C603.48,387.86 604.50,385.65 605.51,383.88 C606.53,382.11 607.55,380.15 608.56,378.58 C609.58,377.01 610.60,375.28 611.61,374.34 C612.63,373.40 613.65,372.22 614.66,372.22 C615.68,372.22 616.70,373.49 617.72,374.34 C618.73,375.19 619.75,376.31 620.77,377.52 C621.78,378.73 622.80,380.35 623.82,381.76 C624.84,383.17 625.85,385.06 626.87,386.00 C627.89,386.94 628.90,387.27 629.92,388.12 C630.94,388.97 631.95,390.45 632.97,391.30 C633.99,392.15 635.00,392.84 636.02,393.42 C637.04,394.00 638.06,394.67 639.07,394.90 C641.11,395.37 643.14,395.56 645.17,395.75 C647.21,395.94 649.24,396.10 651.28,396.18 C657.38,396.41 663.48,396.60 669.58,396.60 C671.62,396.60 673.65,396.60 675.68,396.60" fill="none" stroke="#5ee65a" stroke-width="0.9"/>
<line x1="568.60" y1="370.10" x2="568.60" y2="396.60" stroke="#999" stroke-width="0.6"/>
<line x1="568.60" y1="396.60" x2="677.2" y2="396.60" stroke="#999" stroke-width="0.6"/>
<line x1="568.90" y1="396.60" x2="568.90" y2="397.60" stroke="#999" stroke-width="0.5"/>
<line x1="584.15" y1="396.60" x2="584.15" y2="397.60" stroke="#999" stroke-width="0.5"/>
<line x1="599.41" y1="396.60" x2="599.41" y2="397.60" stroke="#999" stroke-width="0.5"/>
<line x1="614.66" y1="396.60" x2="614.66" y2="397.60" stroke="#999" stroke-width="0.5"/>
<line x1="629.92" y1="396.60" x2="629.92" y2="397.60" stroke="#999" stroke-width="0.5"/>
<line x1="645.17" y1="396.60" x2="645.17" y2="397.60" stroke="#999" stroke-width="0.5"/>
<line x1="660.43" y1="396.60" x2="660.43" y2="397.60" stroke="#999" stroke-width="0.5"/>
<line x1="675.68" y1="396.60" x2="675.68" y2="397.60" stroke="#999" stroke-width="0.5"/>
<line x1="567.60" y1="396.60" x2="568.60" y2="396.60" stroke="#999" stroke-width="0.5"/>
<text x="566.70" y="398.80" font-size="6.3" text-anchor="end" fill="#333" style="stroke-width:0.06px">0</text>
<line x1="567.60" y1="375.40" x2="568.60" y2="375.40" stroke="#999" stroke-width="0.5"/>
<text x="566.70" y="377.60" font-size="6.3" text-anchor="end" fill="#333" style="stroke-width:0.06px">10</text>
<path d="M568.90,427.30 C570.93,426.98 572.97,427.00 575.00,426.32 C576.02,425.99 577.04,422.78 578.05,419.50 C579.07,416.22 580.09,401.95 581.10,401.95 C582.12,401.95 583.14,406.63 584.15,409.75 C585.17,412.87 586.19,419.50 587.21,421.45 C588.22,423.40 589.24,425.11 590.26,425.35 C591.27,425.59 592.29,425.74 593.31,425.74 C594.32,425.74 595.34,425.00 596.36,424.38 C597.38,423.75 598.39,422.81 599.41,421.45 C600.43,420.08 601.44,415.19 602.46,414.62 C603.48,414.06 604.50,413.65 605.51,413.65 C606.53,413.65 607.55,413.65 608.56,413.65 C609.58,413.65 610.60,407.80 611.61,407.80 C612.63,407.80 613.65,409.75 614.66,410.73 C615.68,411.70 616.70,412.68 617.72,413.65 C618.73,414.62 619.75,415.60 620.77,416.57 C621.78,417.55 622.80,418.52 623.82,419.50 C624.84,420.48 625.85,421.94 626.87,422.43 C627.89,422.91 628.90,422.97 629.92,423.40 C630.94,423.83 631.95,425.35 632.97,425.35 C633.99,425.35 635.00,425.35 636.02,425.35 C638.06,425.35 640.09,425.12 642.12,424.96 C644.16,424.80 646.19,424.38 648.23,424.38 C649.24,424.38 650.26,424.95 651.28,425.35 C652.29,425.75 653.31,426.86 654.33,426.91 C661.45,427.24 668.57,427.17 675.68,427.30 L675.68,427.30 L568.90,427.30 Z" fill="#c6aedd"/>
<path d="M568.90,427.30 C570.93,426.98 572.97,427.00 575.00,426.32 C576.02,425.99 577.04,422.78 578.05,419.50 C579.07,416.22 580.09,401.95 581.10,401.95 C582.12,401.95 583.14,406.63 584.15,409.75 C585.17,412.87 586.19,419.50 587.21,421.45 C588.22,423.40 589.24,425.11 590.26,425.35 C591.27,425.59 592.29,425.74 593.31,425.74 C594.32,425.74 595.34,425.00 596.36,424.38 C597.38,423.75 598.39,422.81 599.41,421.45 C600.43,420.08 601.44,415.19 602.46,414.62 C603.48,414.06 604.50,413.65 605.51,413.65 C606.53,413.65 607.55,413.65 608.56,413.65 C609.58,413.65 610.60,407.80 611.61,407.80 C612.63,407.80 613.65,409.75 614.66,410.73 C615.68,411.70 616.70,412.68 617.72,413.65 C618.73,414.62 619.75,415.60 620.77,416.57 C621.78,417.55 622.80,418.52 623.82,419.50 C624.84,420.48 625.85,421.94 626.87,422.43 C627.89,422.91 628.90,422.97 629.92,423.40 C630.94,423.83 631.95,425.35 632.97,425.35 C633.99,425.35 635.00,425.35 636.02,425.35 C638.06,425.35 640.09,425.12 642.12,424.96 C644.16,424.80 646.19,424.38 648.23,424.38 C649.24,424.38 650.26,424.95 651.28,425.35 C652.29,425.75 653.31,426.86 654.33,426.91 C661.45,427.24 668.57,427.17 675.68,427.30" fill="none" stroke="#7a4fb0" stroke-width="0.9"/>
<line x1="568.60" y1="400.80" x2="568.60" y2="427.30" stroke="#999" stroke-width="0.6"/>
<line x1="568.60" y1="427.30" x2="677.2" y2="427.30" stroke="#999" stroke-width="0.6"/>
<line x1="568.90" y1="427.30" x2="568.90" y2="428.30" stroke="#999" stroke-width="0.5"/>
<line x1="584.15" y1="427.30" x2="584.15" y2="428.30" stroke="#999" stroke-width="0.5"/>
<line x1="599.41" y1="427.30" x2="599.41" y2="428.30" stroke="#999" stroke-width="0.5"/>
<line x1="614.66" y1="427.30" x2="614.66" y2="428.30" stroke="#999" stroke-width="0.5"/>
<line x1="629.92" y1="427.30" x2="629.92" y2="428.30" stroke="#999" stroke-width="0.5"/>
<line x1="645.17" y1="427.30" x2="645.17" y2="428.30" stroke="#999" stroke-width="0.5"/>
<line x1="660.43" y1="427.30" x2="660.43" y2="428.30" stroke="#999" stroke-width="0.5"/>
<line x1="675.68" y1="427.30" x2="675.68" y2="428.30" stroke="#999" stroke-width="0.5"/>
<line x1="567.60" y1="427.30" x2="568.60" y2="427.30" stroke="#999" stroke-width="0.5"/>
<text x="566.70" y="429.50" font-size="6.3" text-anchor="end" fill="#333" style="stroke-width:0.06px">0</text>
<line x1="567.60" y1="407.80" x2="568.60" y2="407.80" stroke="#999" stroke-width="0.5"/>
<text x="566.70" y="410.00" font-size="6.3" text-anchor="end" fill="#333" style="stroke-width:0.06px">10</text>
<text x="568.90" y="433.80" font-size="6.3" text-anchor="middle" fill="#333" style="stroke-width:0.06px">0</text>
<text x="584.15" y="433.80" font-size="6.3" text-anchor="middle" fill="#333" style="stroke-width:0.06px">5</text>
<text x="599.41" y="433.80" font-size="6.3" text-anchor="middle" fill="#333" style="stroke-width:0.06px">10</text>
<text x="614.66" y="433.80" font-size="6.3" text-anchor="middle" fill="#333" style="stroke-width:0.06px">15</text>
<text x="629.92" y="433.80" font-size="6.3" text-anchor="middle" fill="#333" style="stroke-width:0.06px">20</text>
<text x="645.17" y="433.80" font-size="6.3" text-anchor="middle" fill="#333" style="stroke-width:0.06px">25</text>
<text x="660.43" y="433.80" font-size="6.3" text-anchor="middle" fill="#333" style="stroke-width:0.06px">30</text>
<text x="675.68" y="433.80" font-size="6.3" text-anchor="middle" fill="#333" style="stroke-width:0.06px">35</text>
<text x="641.80" y="376.40" font-size="6.9" fill="#000" style="stroke-width:0.09px">ρ = 0.67 (****)</text>
<text x="648.8" y="383.70" font-size="5.0" fill="#000" style="stroke-width:0.04px">p = 1.1x10<tspan font-size="3.6" dy="-2.0">-5</tspan></text>
<text transform="translate(548.0 399.30) rotate(-90)" text-anchor="middle" font-size="6.9" fill="#000" style="stroke-width:0.09px">Day 6</text>
<text transform="translate(554.6 391.60) rotate(-90)" text-anchor="middle" font-size="6.7" textLength="46.8" lengthAdjust="spacingAndGlyphs" fill="#000" style="stroke-width:0.08px">Frequency (%)</text>
<path d="M568.90,467.00 C569.92,466.75 570.93,466.49 571.95,466.24 C572.97,465.99 573.99,465.82 575.00,465.48 C576.02,465.14 577.04,463.96 578.05,463.96 C579.07,463.96 580.09,465.48 581.10,465.48 C582.12,465.48 583.14,465.48 584.15,465.48 C585.17,465.48 586.19,464.72 587.21,464.72 C588.22,464.72 589.24,465.48 590.26,465.48 C591.27,465.48 592.29,465.48 593.31,465.48 C594.32,465.48 595.34,464.83 596.36,463.96 C597.38,463.09 598.39,458.31 599.41,454.84 C600.43,451.37 601.44,443.58 602.46,442.68 C603.48,441.78 604.50,441.16 605.51,441.16 C606.53,441.16 607.55,445.89 608.56,447.24 C609.58,448.59 610.60,449.60 611.61,450.28 C612.63,450.96 613.65,451.12 614.66,451.80 C615.68,452.48 616.70,453.83 617.72,454.84 C618.73,455.85 619.75,456.87 620.77,457.88 C621.78,458.89 622.80,460.05 623.82,460.92 C624.84,461.79 625.85,462.82 626.87,463.20 C627.89,463.58 628.90,463.71 629.92,463.96 C631.95,464.47 633.99,464.97 636.02,465.48 C637.04,465.73 638.06,466.15 639.07,466.24 C641.11,466.42 643.14,466.47 645.17,466.54 C650.26,466.74 655.34,467.00 660.43,467.00 C665.51,467.00 670.60,467.00 675.68,467.00 L675.68,467.00 L568.90,467.00 Z" fill="#b4f2a8"/>
<path d="M568.90,467.00 C569.92,466.75 570.93,466.49 571.95,466.24 C572.97,465.99 573.99,465.82 575.00,465.48 C576.02,465.14 577.04,463.96 578.05,463.96 C579.07,463.96 580.09,465.48 581.10,465.48 C582.12,465.48 583.14,465.48 584.15,465.48 C585.17,465.48 586.19,464.72 587.21,464.72 C588.22,464.72 589.24,465.48 590.26,465.48 C591.27,465.48 592.29,465.48 593.31,465.48 C594.32,465.48 595.34,464.83 596.36,463.96 C597.38,463.09 598.39,458.31 599.41,454.84 C600.43,451.37 601.44,443.58 602.46,442.68 C603.48,441.78 604.50,441.16 605.51,441.16 C606.53,441.16 607.55,445.89 608.56,447.24 C609.58,448.59 610.60,449.60 611.61,450.28 C612.63,450.96 613.65,451.12 614.66,451.80 C615.68,452.48 616.70,453.83 617.72,454.84 C618.73,455.85 619.75,456.87 620.77,457.88 C621.78,458.89 622.80,460.05 623.82,460.92 C624.84,461.79 625.85,462.82 626.87,463.20 C627.89,463.58 628.90,463.71 629.92,463.96 C631.95,464.47 633.99,464.97 636.02,465.48 C637.04,465.73 638.06,466.15 639.07,466.24 C641.11,466.42 643.14,466.47 645.17,466.54 C650.26,466.74 655.34,467.00 660.43,467.00 C665.51,467.00 670.60,467.00 675.68,467.00" fill="none" stroke="#5ee65a" stroke-width="0.9"/>
<line x1="568.60" y1="439.50" x2="568.60" y2="467.00" stroke="#999" stroke-width="0.6"/>
<line x1="568.60" y1="467.00" x2="677.2" y2="467.00" stroke="#999" stroke-width="0.6"/>
<line x1="568.90" y1="467.00" x2="568.90" y2="468.00" stroke="#999" stroke-width="0.5"/>
<line x1="584.15" y1="467.00" x2="584.15" y2="468.00" stroke="#999" stroke-width="0.5"/>
<line x1="599.41" y1="467.00" x2="599.41" y2="468.00" stroke="#999" stroke-width="0.5"/>
<line x1="614.66" y1="467.00" x2="614.66" y2="468.00" stroke="#999" stroke-width="0.5"/>
<line x1="629.92" y1="467.00" x2="629.92" y2="468.00" stroke="#999" stroke-width="0.5"/>
<line x1="645.17" y1="467.00" x2="645.17" y2="468.00" stroke="#999" stroke-width="0.5"/>
<line x1="660.43" y1="467.00" x2="660.43" y2="468.00" stroke="#999" stroke-width="0.5"/>
<line x1="675.68" y1="467.00" x2="675.68" y2="468.00" stroke="#999" stroke-width="0.5"/>
<line x1="567.60" y1="467.00" x2="568.60" y2="467.00" stroke="#999" stroke-width="0.5"/>
<text x="566.70" y="469.20" font-size="6.3" text-anchor="end" fill="#333" style="stroke-width:0.06px">0</text>
<line x1="567.60" y1="451.80" x2="568.60" y2="451.80" stroke="#999" stroke-width="0.5"/>
<text x="566.70" y="454.00" font-size="6.3" text-anchor="end" fill="#333" style="stroke-width:0.06px">10</text>
<path d="M568.90,497.70 C569.92,497.70 570.93,497.70 571.95,497.70 C572.97,497.70 573.99,496.69 575.00,496.01 C576.02,495.33 577.04,494.44 578.05,493.48 C579.07,492.51 580.09,490.10 581.10,490.10 C582.12,490.10 583.14,491.95 584.15,492.63 C585.17,493.31 586.19,494.32 587.21,494.32 C588.22,494.32 589.24,489.73 590.26,489.25 C591.27,488.77 592.29,488.83 593.31,488.40 C594.32,487.98 595.34,486.71 596.36,485.87 C597.38,485.02 598.39,483.34 599.41,483.34 C600.43,483.34 601.44,486.72 602.46,486.72 C603.48,486.72 604.50,481.33 605.51,479.11 C606.53,476.89 607.55,473.20 608.56,473.20 C609.58,473.20 610.60,479.24 611.61,480.80 C612.63,482.36 613.65,483.05 614.66,484.18 C615.68,485.31 616.70,486.59 617.72,487.56 C618.73,488.53 619.75,489.25 620.77,490.10 C621.78,490.94 622.80,491.79 623.82,492.63 C624.84,493.47 625.85,494.74 626.87,495.16 C627.89,495.59 628.90,495.85 629.92,496.01 C630.94,496.17 631.95,496.20 632.97,496.35 C635.00,496.64 637.04,497.70 639.07,497.70 C651.28,497.70 663.48,497.70 675.68,497.70 L675.68,497.70 L568.90,497.70 Z" fill="#c6aedd"/>
<path d="M568.90,497.70 C569.92,497.70 570.93,497.70 571.95,497.70 C572.97,497.70 573.99,496.69 575.00,496.01 C576.02,495.33 577.04,494.44 578.05,493.48 C579.07,492.51 580.09,490.10 581.10,490.10 C582.12,490.10 583.14,491.95 584.15,492.63 C585.17,493.31 586.19,494.32 587.21,494.32 C588.22,494.32 589.24,489.73 590.26,489.25 C591.27,488.77 592.29,488.83 593.31,488.40 C594.32,487.98 595.34,486.71 596.36,485.87 C597.38,485.02 598.39,483.34 599.41,483.34 C600.43,483.34 601.44,486.72 602.46,486.72 C603.48,486.72 604.50,481.33 605.51,479.11 C606.53,476.89 607.55,473.20 608.56,473.20 C609.58,473.20 610.60,479.24 611.61,480.80 C612.63,482.36 613.65,483.05 614.66,484.18 C615.68,485.31 616.70,486.59 617.72,487.56 C618.73,488.53 619.75,489.25 620.77,490.10 C621.78,490.94 622.80,491.79 623.82,492.63 C624.84,493.47 625.85,494.74 626.87,495.16 C627.89,495.59 628.90,495.85 629.92,496.01 C630.94,496.17 631.95,496.20 632.97,496.35 C635.00,496.64 637.04,497.70 639.07,497.70 C651.28,497.70 663.48,497.70 675.68,497.70" fill="none" stroke="#7a4fb0" stroke-width="0.9"/>
<line x1="568.60" y1="471.30" x2="568.60" y2="497.70" stroke="#999" stroke-width="0.6"/>
<line x1="568.60" y1="497.70" x2="677.2" y2="497.70" stroke="#999" stroke-width="0.6"/>
<line x1="568.90" y1="497.70" x2="568.90" y2="498.70" stroke="#999" stroke-width="0.5"/>
<line x1="584.15" y1="497.70" x2="584.15" y2="498.70" stroke="#999" stroke-width="0.5"/>
<line x1="599.41" y1="497.70" x2="599.41" y2="498.70" stroke="#999" stroke-width="0.5"/>
<line x1="614.66" y1="497.70" x2="614.66" y2="498.70" stroke="#999" stroke-width="0.5"/>
<line x1="629.92" y1="497.70" x2="629.92" y2="498.70" stroke="#999" stroke-width="0.5"/>
<line x1="645.17" y1="497.70" x2="645.17" y2="498.70" stroke="#999" stroke-width="0.5"/>
<line x1="660.43" y1="497.70" x2="660.43" y2="498.70" stroke="#999" stroke-width="0.5"/>
<line x1="675.68" y1="497.70" x2="675.68" y2="498.70" stroke="#999" stroke-width="0.5"/>
<line x1="567.60" y1="497.70" x2="568.60" y2="497.70" stroke="#999" stroke-width="0.5"/>
<text x="566.70" y="499.90" font-size="6.3" text-anchor="end" fill="#333" style="stroke-width:0.06px">0</text>
<line x1="567.60" y1="480.80" x2="568.60" y2="480.80" stroke="#999" stroke-width="0.5"/>
<text x="566.70" y="483.00" font-size="6.3" text-anchor="end" fill="#333" style="stroke-width:0.06px">10</text>
<text x="568.90" y="504.30" font-size="6.3" text-anchor="middle" fill="#333" style="stroke-width:0.06px">0</text>
<text x="584.15" y="504.30" font-size="6.3" text-anchor="middle" fill="#333" style="stroke-width:0.06px">5</text>
<text x="599.41" y="504.30" font-size="6.3" text-anchor="middle" fill="#333" style="stroke-width:0.06px">10</text>
<text x="614.66" y="504.30" font-size="6.3" text-anchor="middle" fill="#333" style="stroke-width:0.06px">15</text>
<text x="629.92" y="504.30" font-size="6.3" text-anchor="middle" fill="#333" style="stroke-width:0.06px">20</text>
<text x="645.17" y="504.30" font-size="6.3" text-anchor="middle" fill="#333" style="stroke-width:0.06px">25</text>
<text x="660.43" y="504.30" font-size="6.3" text-anchor="middle" fill="#333" style="stroke-width:0.06px">30</text>
<text x="675.68" y="504.30" font-size="6.3" text-anchor="middle" fill="#333" style="stroke-width:0.06px">35</text>
<text x="641.80" y="447.90" font-size="6.9" fill="#000" style="stroke-width:0.09px">ρ = 0.82 (****)</text>
<text x="648.8" y="455.60" font-size="5.0" fill="#000" style="stroke-width:0.04px">p = 1.2x10<tspan font-size="3.6" dy="-2.0">-9</tspan></text>
<text transform="translate(548.0 466.50) rotate(-90)" text-anchor="middle" font-size="6.9" fill="#000" style="stroke-width:0.09px">Day 8</text>
<text transform="translate(554.6 459.80) rotate(-90)" text-anchor="middle" font-size="6.7" textLength="46.8" lengthAdjust="spacingAndGlyphs" fill="#000" style="stroke-width:0.08px">Frequency (%)</text>
<path d="M568.90,535.20 C569.92,535.08 570.93,534.96 571.95,534.83 C573.99,534.56 576.02,533.96 578.05,533.96 C580.09,533.96 582.12,533.96 584.15,533.96 C587.21,533.96 590.26,533.96 593.31,533.96 C594.32,533.96 595.34,533.65 596.36,533.34 C597.38,533.03 598.39,532.67 599.41,531.48 C600.12,530.65 600.83,521.36 601.55,517.84 C602.16,514.83 602.77,510.40 603.38,510.40 C604.09,510.40 604.80,510.40 605.51,510.40 C606.02,510.40 606.53,512.70 607.04,514.12 C607.55,515.54 608.05,517.94 608.56,519.08 C609.58,521.37 610.60,522.94 611.61,524.04 C612.63,525.14 613.65,525.97 614.66,526.52 C615.68,527.07 616.70,527.26 617.72,527.76 C618.73,528.26 619.75,529.00 620.77,529.62 C621.78,530.24 622.80,530.98 623.82,531.48 C624.84,531.98 625.85,532.35 626.87,532.72 C627.89,533.09 628.90,533.52 629.92,533.71 C631.95,534.09 633.99,534.33 636.02,534.46 C639.07,534.65 642.12,534.73 645.17,534.83 C650.26,534.99 655.34,535.20 660.43,535.20 C665.51,535.20 670.60,535.20 675.68,535.20 L675.68,535.20 L568.90,535.20 Z" fill="#b4f2a8"/>
<path d="M568.90,535.20 C569.92,535.08 570.93,534.96 571.95,534.83 C573.99,534.56 576.02,533.96 578.05,533.96 C580.09,533.96 582.12,533.96 584.15,533.96 C587.21,533.96 590.26,533.96 593.31,533.96 C594.32,533.96 595.34,533.65 596.36,533.34 C597.38,533.03 598.39,532.67 599.41,531.48 C600.12,530.65 600.83,521.36 601.55,517.84 C602.16,514.83 602.77,510.40 603.38,510.40 C604.09,510.40 604.80,510.40 605.51,510.40 C606.02,510.40 606.53,512.70 607.04,514.12 C607.55,515.54 608.05,517.94 608.56,519.08 C609.58,521.37 610.60,522.94 611.61,524.04 C612.63,525.14 613.65,525.97 614.66,526.52 C615.68,527.07 616.70,527.26 617.72,527.76 C618.73,528.26 619.75,529.00 620.77,529.62 C621.78,530.24 622.80,530.98 623.82,531.48 C624.84,531.98 625.85,532.35 626.87,532.72 C627.89,533.09 628.90,533.52 629.92,533.71 C631.95,534.09 633.99,534.33 636.02,534.46 C639.07,534.65 642.12,534.73 645.17,534.83 C650.26,534.99 655.34,535.20 660.43,535.20 C665.51,535.20 670.60,535.20 675.68,535.20" fill="none" stroke="#5ee65a" stroke-width="0.9"/>
<line x1="568.60" y1="508.30" x2="568.60" y2="535.20" stroke="#999" stroke-width="0.6"/>
<line x1="568.60" y1="535.20" x2="677.2" y2="535.20" stroke="#999" stroke-width="0.6"/>
<line x1="568.90" y1="535.20" x2="568.90" y2="536.20" stroke="#999" stroke-width="0.5"/>
<line x1="584.15" y1="535.20" x2="584.15" y2="536.20" stroke="#999" stroke-width="0.5"/>
<line x1="599.41" y1="535.20" x2="599.41" y2="536.20" stroke="#999" stroke-width="0.5"/>
<line x1="614.66" y1="535.20" x2="614.66" y2="536.20" stroke="#999" stroke-width="0.5"/>
<line x1="629.92" y1="535.20" x2="629.92" y2="536.20" stroke="#999" stroke-width="0.5"/>
<line x1="645.17" y1="535.20" x2="645.17" y2="536.20" stroke="#999" stroke-width="0.5"/>
<line x1="660.43" y1="535.20" x2="660.43" y2="536.20" stroke="#999" stroke-width="0.5"/>
<line x1="675.68" y1="535.20" x2="675.68" y2="536.20" stroke="#999" stroke-width="0.5"/>
<line x1="567.60" y1="535.20" x2="568.60" y2="535.20" stroke="#999" stroke-width="0.5"/>
<text x="566.70" y="537.40" font-size="6.3" text-anchor="end" fill="#333" style="stroke-width:0.06px">0</text>
<line x1="567.60" y1="510.40" x2="568.60" y2="510.40" stroke="#999" stroke-width="0.5"/>
<text x="566.70" y="512.60" font-size="6.3" text-anchor="end" fill="#333" style="stroke-width:0.06px">20</text>
<path d="M568.90,565.50 C569.92,565.33 570.93,565.28 571.95,564.99 C572.97,564.70 573.99,563.25 575.00,562.10 C576.02,560.95 577.04,559.11 578.05,557.85 C579.07,556.59 580.09,554.45 581.10,554.45 C582.12,554.45 583.14,557.44 584.15,558.70 C585.17,559.96 586.19,562.10 587.21,562.10 C588.22,562.10 589.24,560.32 590.26,558.70 C591.27,557.08 592.29,552.53 593.31,550.20 C594.32,547.87 595.34,545.69 596.36,544.25 C597.38,542.81 598.39,540.85 599.41,540.85 C600.43,540.85 601.44,542.21 602.46,543.40 C603.48,544.59 604.50,547.12 605.51,549.35 C606.53,551.58 607.55,555.43 608.56,557.00 C609.58,558.57 610.60,559.64 611.61,560.40 C612.63,561.16 613.65,561.72 614.66,562.10 C615.68,562.48 616.70,562.75 617.72,562.95 C619.75,563.34 621.78,563.52 623.82,563.80 C625.85,564.08 627.89,564.65 629.92,564.65 C630.94,564.65 631.95,563.80 632.97,563.80 C633.99,563.80 635.00,564.45 636.02,564.65 C638.06,565.04 640.09,565.50 642.12,565.50 C653.31,565.50 664.50,565.50 675.68,565.50 L675.68,565.50 L568.90,565.50 Z" fill="#c6aedd"/>
<path d="M568.90,565.50 C569.92,565.33 570.93,565.28 571.95,564.99 C572.97,564.70 573.99,563.25 575.00,562.10 C576.02,560.95 577.04,559.11 578.05,557.85 C579.07,556.59 580.09,554.45 581.10,554.45 C582.12,554.45 583.14,557.44 584.15,558.70 C585.17,559.96 586.19,562.10 587.21,562.10 C588.22,562.10 589.24,560.32 590.26,558.70 C591.27,557.08 592.29,552.53 593.31,550.20 C594.32,547.87 595.34,545.69 596.36,544.25 C597.38,542.81 598.39,540.85 599.41,540.85 C600.43,540.85 601.44,542.21 602.46,543.40 C603.48,544.59 604.50,547.12 605.51,549.35 C606.53,551.58 607.55,555.43 608.56,557.00 C609.58,558.57 610.60,559.64 611.61,560.40 C612.63,561.16 613.65,561.72 614.66,562.10 C615.68,562.48 616.70,562.75 617.72,562.95 C619.75,563.34 621.78,563.52 623.82,563.80 C625.85,564.08 627.89,564.65 629.92,564.65 C630.94,564.65 631.95,563.80 632.97,563.80 C633.99,563.80 635.00,564.45 636.02,564.65 C638.06,565.04 640.09,565.50 642.12,565.50 C653.31,565.50 664.50,565.50 675.68,565.50" fill="none" stroke="#7a4fb0" stroke-width="0.9"/>
<line x1="568.60" y1="539.00" x2="568.60" y2="565.50" stroke="#999" stroke-width="0.6"/>
<line x1="568.60" y1="565.50" x2="677.2" y2="565.50" stroke="#999" stroke-width="0.6"/>
<line x1="568.90" y1="565.50" x2="568.90" y2="566.50" stroke="#999" stroke-width="0.5"/>
<line x1="584.15" y1="565.50" x2="584.15" y2="566.50" stroke="#999" stroke-width="0.5"/>
<line x1="599.41" y1="565.50" x2="599.41" y2="566.50" stroke="#999" stroke-width="0.5"/>
<line x1="614.66" y1="565.50" x2="614.66" y2="566.50" stroke="#999" stroke-width="0.5"/>
<line x1="629.92" y1="565.50" x2="629.92" y2="566.50" stroke="#999" stroke-width="0.5"/>
<line x1="645.17" y1="565.50" x2="645.17" y2="566.50" stroke="#999" stroke-width="0.5"/>
<line x1="660.43" y1="565.50" x2="660.43" y2="566.50" stroke="#999" stroke-width="0.5"/>
<line x1="675.68" y1="565.50" x2="675.68" y2="566.50" stroke="#999" stroke-width="0.5"/>
<line x1="567.60" y1="565.50" x2="568.60" y2="565.50" stroke="#999" stroke-width="0.5"/>
<text x="566.70" y="567.70" font-size="6.3" text-anchor="end" fill="#333" style="stroke-width:0.06px">0</text>
<line x1="567.60" y1="548.50" x2="568.60" y2="548.50" stroke="#999" stroke-width="0.5"/>
<text x="566.70" y="550.70" font-size="6.3" text-anchor="end" fill="#333" style="stroke-width:0.06px">10</text>
<text x="568.90" y="572.70" font-size="6.3" text-anchor="middle" fill="#333" style="stroke-width:0.06px">0</text>
<text x="584.15" y="572.70" font-size="6.3" text-anchor="middle" fill="#333" style="stroke-width:0.06px">5</text>
<text x="599.41" y="572.70" font-size="6.3" text-anchor="middle" fill="#333" style="stroke-width:0.06px">10</text>
<text x="614.66" y="572.70" font-size="6.3" text-anchor="middle" fill="#333" style="stroke-width:0.06px">15</text>
<text x="629.92" y="572.70" font-size="6.3" text-anchor="middle" fill="#333" style="stroke-width:0.06px">20</text>
<text x="645.17" y="572.70" font-size="6.3" text-anchor="middle" fill="#333" style="stroke-width:0.06px">25</text>
<text x="660.43" y="572.70" font-size="6.3" text-anchor="middle" fill="#333" style="stroke-width:0.06px">30</text>
<text x="675.68" y="572.70" font-size="6.3" text-anchor="middle" fill="#333" style="stroke-width:0.06px">35</text>
<text x="641.80" y="517.70" font-size="6.9" fill="#000" style="stroke-width:0.09px">ρ = 0.66 (****)</text>
<text x="648.8" y="525.50" font-size="5.0" fill="#000" style="stroke-width:0.04px">p = 1.7x10<tspan font-size="3.6" dy="-2.0">-5</tspan></text>
<text transform="translate(548.0 529.00) rotate(-90)" text-anchor="middle" font-size="6.9" fill="#000" style="stroke-width:0.09px">Day 10</text>
<text transform="translate(554.6 525.80) rotate(-90)" text-anchor="middle" font-size="6.7" textLength="46.8" lengthAdjust="spacingAndGlyphs" fill="#000" style="stroke-width:0.08px">Frequency (%)</text>
<path d="M568.90,603.70 C569.92,603.59 570.93,603.53 571.95,603.38 C572.97,603.23 573.99,602.95 575.00,602.63 C576.02,602.32 577.04,601.36 578.05,601.36 C579.07,601.36 580.09,602.74 581.10,602.85 C583.14,603.06 585.17,603.17 587.21,603.17 C589.24,603.17 591.27,603.07 593.31,602.85 C594.32,602.74 595.34,601.83 596.36,600.50 C597.38,599.18 598.39,591.13 599.41,587.73 C600.43,584.32 601.44,579.20 602.46,579.20 C603.48,579.20 604.50,583.30 605.51,585.60 C606.53,587.89 607.55,591.74 608.56,593.05 C609.58,594.36 610.60,595.21 611.61,595.71 C612.63,596.22 613.65,596.35 614.66,596.78 C615.68,597.20 616.70,597.84 617.72,598.38 C618.73,598.91 619.75,599.55 620.77,599.97 C621.78,600.40 622.80,600.73 623.82,601.04 C625.85,601.66 627.89,602.37 629.92,602.63 C631.95,602.90 633.99,603.06 636.02,603.17 C639.07,603.32 642.12,603.42 645.17,603.49 C650.26,603.59 655.34,603.70 660.43,603.70 C665.51,603.70 670.60,603.70 675.68,603.70 L675.68,603.70 L568.90,603.70 Z" fill="#b4f2a8"/>
<path d="M568.90,603.70 C569.92,603.59 570.93,603.53 571.95,603.38 C572.97,603.23 573.99,602.95 575.00,602.63 C576.02,602.32 577.04,601.36 578.05,601.36 C579.07,601.36 580.09,602.74 581.10,602.85 C583.14,603.06 585.17,603.17 587.21,603.17 C589.24,603.17 591.27,603.07 593.31,602.85 C594.32,602.74 595.34,601.83 596.36,600.50 C597.38,599.18 598.39,591.13 599.41,587.73 C600.43,584.32 601.44,579.20 602.46,579.20 C603.48,579.20 604.50,583.30 605.51,585.60 C606.53,587.89 607.55,591.74 608.56,593.05 C609.58,594.36 610.60,595.21 611.61,595.71 C612.63,596.22 613.65,596.35 614.66,596.78 C615.68,597.20 616.70,597.84 617.72,598.38 C618.73,598.91 619.75,599.55 620.77,599.97 C621.78,600.40 622.80,600.73 623.82,601.04 C625.85,601.66 627.89,602.37 629.92,602.63 C631.95,602.90 633.99,603.06 636.02,603.17 C639.07,603.32 642.12,603.42 645.17,603.49 C650.26,603.59 655.34,603.70 660.43,603.70 C665.51,603.70 670.60,603.70 675.68,603.70" fill="none" stroke="#5ee65a" stroke-width="0.9"/>
<line x1="568.60" y1="577.00" x2="568.60" y2="603.70" stroke="#999" stroke-width="0.6"/>
<line x1="568.60" y1="603.70" x2="677.2" y2="603.70" stroke="#999" stroke-width="0.6"/>
<line x1="568.90" y1="603.70" x2="568.90" y2="604.70" stroke="#999" stroke-width="0.5"/>
<line x1="584.15" y1="603.70" x2="584.15" y2="604.70" stroke="#999" stroke-width="0.5"/>
<line x1="599.41" y1="603.70" x2="599.41" y2="604.70" stroke="#999" stroke-width="0.5"/>
<line x1="614.66" y1="603.70" x2="614.66" y2="604.70" stroke="#999" stroke-width="0.5"/>
<line x1="629.92" y1="603.70" x2="629.92" y2="604.70" stroke="#999" stroke-width="0.5"/>
<line x1="645.17" y1="603.70" x2="645.17" y2="604.70" stroke="#999" stroke-width="0.5"/>
<line x1="660.43" y1="603.70" x2="660.43" y2="604.70" stroke="#999" stroke-width="0.5"/>
<line x1="675.68" y1="603.70" x2="675.68" y2="604.70" stroke="#999" stroke-width="0.5"/>
<line x1="567.60" y1="603.70" x2="568.60" y2="603.70" stroke="#999" stroke-width="0.5"/>
<text x="566.70" y="605.90" font-size="6.3" text-anchor="end" fill="#333" style="stroke-width:0.06px">0</text>
<line x1="567.60" y1="582.40" x2="568.60" y2="582.40" stroke="#999" stroke-width="0.5"/>
<text x="566.70" y="584.60" font-size="6.3" text-anchor="end" fill="#333" style="stroke-width:0.06px">20</text>
<path d="M568.90,634.60 C569.92,634.43 570.93,634.36 571.95,634.09 C572.97,633.82 573.99,632.81 575.00,632.05 C576.02,631.29 577.04,629.93 578.05,629.50 C579.07,629.08 580.09,628.65 581.10,628.65 C582.12,628.65 583.14,629.15 584.15,629.50 C585.17,629.85 586.19,630.86 587.21,630.86 C588.22,630.86 589.24,630.22 590.26,629.50 C591.27,628.78 592.29,626.34 593.31,624.40 C594.32,622.46 595.34,619.72 596.36,617.60 C597.38,615.48 598.39,612.53 599.41,611.65 C600.43,610.77 601.44,609.95 602.46,609.95 C603.48,609.95 604.50,611.23 605.51,612.50 C606.53,613.77 607.55,617.60 608.56,620.15 C609.58,622.70 610.60,626.23 611.61,627.80 C612.63,629.37 613.65,630.75 614.66,631.20 C615.68,631.65 616.70,631.85 617.72,632.05 C619.75,632.44 621.78,632.74 623.82,632.90 C625.85,633.06 627.89,633.08 629.92,633.24 C631.95,633.40 633.99,633.92 636.02,634.09 C639.07,634.34 642.12,634.60 645.17,634.60 C655.34,634.60 665.51,634.60 675.68,634.60 L675.68,634.60 L568.90,634.60 Z" fill="#c6aedd"/>
<path d="M568.90,634.60 C569.92,634.43 570.93,634.36 571.95,634.09 C572.97,633.82 573.99,632.81 575.00,632.05 C576.02,631.29 577.04,629.93 578.05,629.50 C579.07,629.08 580.09,628.65 581.10,628.65 C582.12,628.65 583.14,629.15 584.15,629.50 C585.17,629.85 586.19,630.86 587.21,630.86 C588.22,630.86 589.24,630.22 590.26,629.50 C591.27,628.78 592.29,626.34 593.31,624.40 C594.32,622.46 595.34,619.72 596.36,617.60 C597.38,615.48 598.39,612.53 599.41,611.65 C600.43,610.77 601.44,609.95 602.46,609.95 C603.48,609.95 604.50,611.23 605.51,612.50 C606.53,613.77 607.55,617.60 608.56,620.15 C609.58,622.70 610.60,626.23 611.61,627.80 C612.63,629.37 613.65,630.75 614.66,631.20 C615.68,631.65 616.70,631.85 617.72,632.05 C619.75,632.44 621.78,632.74 623.82,632.90 C625.85,633.06 627.89,633.08 629.92,633.24 C631.95,633.40 633.99,633.92 636.02,634.09 C639.07,634.34 642.12,634.60 645.17,634.60 C655.34,634.60 665.51,634.60 675.68,634.60" fill="none" stroke="#7a4fb0" stroke-width="0.9"/>
<line x1="568.60" y1="608.00" x2="568.60" y2="634.60" stroke="#999" stroke-width="0.6"/>
<line x1="568.60" y1="634.60" x2="677.2" y2="634.60" stroke="#999" stroke-width="0.6"/>
<line x1="568.90" y1="634.60" x2="568.90" y2="635.60" stroke="#999" stroke-width="0.5"/>
<line x1="584.15" y1="634.60" x2="584.15" y2="635.60" stroke="#999" stroke-width="0.5"/>
<line x1="599.41" y1="634.60" x2="599.41" y2="635.60" stroke="#999" stroke-width="0.5"/>
<line x1="614.66" y1="634.60" x2="614.66" y2="635.60" stroke="#999" stroke-width="0.5"/>
<line x1="629.92" y1="634.60" x2="629.92" y2="635.60" stroke="#999" stroke-width="0.5"/>
<line x1="645.17" y1="634.60" x2="645.17" y2="635.60" stroke="#999" stroke-width="0.5"/>
<line x1="660.43" y1="634.60" x2="660.43" y2="635.60" stroke="#999" stroke-width="0.5"/>
<line x1="675.68" y1="634.60" x2="675.68" y2="635.60" stroke="#999" stroke-width="0.5"/>
<line x1="567.60" y1="634.60" x2="568.60" y2="634.60" stroke="#999" stroke-width="0.5"/>
<text x="566.70" y="636.80" font-size="6.3" text-anchor="end" fill="#333" style="stroke-width:0.06px">0</text>
<line x1="567.60" y1="617.60" x2="568.60" y2="617.60" stroke="#999" stroke-width="0.5"/>
<text x="566.70" y="619.80" font-size="6.3" text-anchor="end" fill="#333" style="stroke-width:0.06px">10</text>
<text x="568.90" y="641.20" font-size="6.3" text-anchor="middle" fill="#333" style="stroke-width:0.06px">0</text>
<text x="584.15" y="641.20" font-size="6.3" text-anchor="middle" fill="#333" style="stroke-width:0.06px">5</text>
<text x="599.41" y="641.20" font-size="6.3" text-anchor="middle" fill="#333" style="stroke-width:0.06px">10</text>
<text x="614.66" y="641.20" font-size="6.3" text-anchor="middle" fill="#333" style="stroke-width:0.06px">15</text>
<text x="629.92" y="641.20" font-size="6.3" text-anchor="middle" fill="#333" style="stroke-width:0.06px">20</text>
<text x="645.17" y="641.20" font-size="6.3" text-anchor="middle" fill="#333" style="stroke-width:0.06px">25</text>
<text x="660.43" y="641.20" font-size="6.3" text-anchor="middle" fill="#333" style="stroke-width:0.06px">30</text>
<text x="675.68" y="641.20" font-size="6.3" text-anchor="middle" fill="#333" style="stroke-width:0.06px">35</text>
<text x="641.80" y="586.60" font-size="6.9" fill="#000" style="stroke-width:0.09px">ρ = 0.87 (****)</text>
<text x="648.8" y="594.60" font-size="5.0" fill="#000" style="stroke-width:0.04px">p = 1.2x10<tspan font-size="3.6" dy="-2.0">-11</tspan></text>
<text transform="translate(548.0 600.80) rotate(-90)" text-anchor="middle" font-size="6.9" fill="#000" style="stroke-width:0.09px">Day 12</text>
<text transform="translate(554.6 595.70) rotate(-90)" text-anchor="middle" font-size="6.7" textLength="46.8" lengthAdjust="spacingAndGlyphs" fill="#000" style="stroke-width:0.08px">Frequency (%)</text>
<path d="M568.90,668.70 C569.92,668.59 570.93,668.52 571.95,668.36 C572.97,668.20 573.99,667.92 575.00,667.56 C576.02,667.20 577.04,665.85 578.05,665.85 C579.07,665.85 580.09,667.67 581.10,667.79 C583.14,668.02 585.17,668.13 587.21,668.13 C589.24,668.13 591.27,667.93 593.31,667.56 C594.32,667.38 595.34,666.57 596.36,665.28 C597.38,663.99 598.39,656.26 599.41,652.74 C600.43,649.22 601.44,643.62 602.46,643.62 C603.48,643.62 604.50,648.00 605.51,650.46 C606.53,652.92 607.55,657.26 608.56,658.44 C609.58,659.62 610.60,660.42 611.61,660.72 C612.63,661.02 613.65,661.01 614.66,661.29 C615.68,661.58 616.70,662.43 617.72,663.00 C618.73,663.57 619.75,664.25 620.77,664.71 C621.78,665.17 622.80,665.52 623.82,665.85 C625.85,666.51 627.89,667.28 629.92,667.56 C631.95,667.85 633.99,668.02 636.02,668.13 C639.07,668.30 642.12,668.38 645.17,668.47 C648.23,668.56 651.28,668.70 654.33,668.70 C661.45,668.70 668.57,668.70 675.68,668.70 L675.68,668.70 L568.90,668.70 Z" fill="#b4f2a8"/>
<path d="M568.90,668.70 C569.92,668.59 570.93,668.52 571.95,668.36 C572.97,668.20 573.99,667.92 575.00,667.56 C576.02,667.20 577.04,665.85 578.05,665.85 C579.07,665.85 580.09,667.67 581.10,667.79 C583.14,668.02 585.17,668.13 587.21,668.13 C589.24,668.13 591.27,667.93 593.31,667.56 C594.32,667.38 595.34,666.57 596.36,665.28 C597.38,663.99 598.39,656.26 599.41,652.74 C600.43,649.22 601.44,643.62 602.46,643.62 C603.48,643.62 604.50,648.00 605.51,650.46 C606.53,652.92 607.55,657.26 608.56,658.44 C609.58,659.62 610.60,660.42 611.61,660.72 C612.63,661.02 613.65,661.01 614.66,661.29 C615.68,661.58 616.70,662.43 617.72,663.00 C618.73,663.57 619.75,664.25 620.77,664.71 C621.78,665.17 622.80,665.52 623.82,665.85 C625.85,666.51 627.89,667.28 629.92,667.56 C631.95,667.85 633.99,668.02 636.02,668.13 C639.07,668.30 642.12,668.38 645.17,668.47 C648.23,668.56 651.28,668.70 654.33,668.70 C661.45,668.70 668.57,668.70 675.68,668.70" fill="none" stroke="#5ee65a" stroke-width="0.9"/>
<line x1="568.60" y1="644.30" x2="568.60" y2="668.70" stroke="#999" stroke-width="0.6"/>
<line x1="568.60" y1="668.70" x2="677.2" y2="668.70" stroke="#999" stroke-width="0.6"/>
<line x1="568.90" y1="668.70" x2="568.90" y2="669.70" stroke="#999" stroke-width="0.5"/>
<line x1="584.15" y1="668.70" x2="584.15" y2="669.70" stroke="#999" stroke-width="0.5"/>
<line x1="599.41" y1="668.70" x2="599.41" y2="669.70" stroke="#999" stroke-width="0.5"/>
<line x1="614.66" y1="668.70" x2="614.66" y2="669.70" stroke="#999" stroke-width="0.5"/>
<line x1="629.92" y1="668.70" x2="629.92" y2="669.70" stroke="#999" stroke-width="0.5"/>
<line x1="645.17" y1="668.70" x2="645.17" y2="669.70" stroke="#999" stroke-width="0.5"/>
<line x1="660.43" y1="668.70" x2="660.43" y2="669.70" stroke="#999" stroke-width="0.5"/>
<line x1="675.68" y1="668.70" x2="675.68" y2="669.70" stroke="#999" stroke-width="0.5"/>
<line x1="567.60" y1="668.70" x2="568.60" y2="668.70" stroke="#999" stroke-width="0.5"/>
<text x="566.70" y="670.90" font-size="6.3" text-anchor="end" fill="#333" style="stroke-width:0.06px">0</text>
<line x1="567.60" y1="645.90" x2="568.60" y2="645.90" stroke="#999" stroke-width="0.5"/>
<text x="566.70" y="648.10" font-size="6.3" text-anchor="end" fill="#333" style="stroke-width:0.06px">20</text>
<path d="M568.90,699.30 C569.92,699.11 570.93,699.07 571.95,698.73 C572.97,698.38 573.99,695.38 575.00,693.57 C576.02,691.76 577.04,687.84 578.05,687.84 C579.07,687.84 580.09,690.39 581.10,691.66 C582.12,692.93 583.14,695.48 584.15,695.48 C585.17,695.48 586.19,695.48 587.21,695.48 C588.22,695.48 589.24,693.81 590.26,692.62 C591.27,691.42 592.29,689.58 593.31,687.84 C594.32,686.10 595.34,683.85 596.36,682.11 C597.38,680.37 598.39,678.53 599.41,677.34 C600.43,676.14 601.44,674.47 602.46,674.47 C603.48,674.47 604.50,674.47 605.51,674.47 C606.53,674.47 607.55,678.14 608.56,680.20 C609.58,682.26 610.60,684.66 611.61,686.88 C612.63,689.11 613.65,692.58 614.66,693.57 C615.68,694.56 616.70,695.04 617.72,695.48 C619.75,696.36 621.78,697.18 623.82,697.39 C625.85,697.60 627.89,697.59 629.92,697.77 C631.95,697.95 633.99,698.54 636.02,698.73 C639.07,699.01 642.12,699.30 645.17,699.30 C655.34,699.30 665.51,699.30 675.68,699.30 L675.68,699.30 L568.90,699.30 Z" fill="#c6aedd"/>
<path d="M568.90,699.30 C569.92,699.11 570.93,699.07 571.95,698.73 C572.97,698.38 573.99,695.38 575.00,693.57 C576.02,691.76 577.04,687.84 578.05,687.84 C579.07,687.84 580.09,690.39 581.10,691.66 C582.12,692.93 583.14,695.48 584.15,695.48 C585.17,695.48 586.19,695.48 587.21,695.48 C588.22,695.48 589.24,693.81 590.26,692.62 C591.27,691.42 592.29,689.58 593.31,687.84 C594.32,686.10 595.34,683.85 596.36,682.11 C597.38,680.37 598.39,678.53 599.41,677.34 C600.43,676.14 601.44,674.47 602.46,674.47 C603.48,674.47 604.50,674.47 605.51,674.47 C606.53,674.47 607.55,678.14 608.56,680.20 C609.58,682.26 610.60,684.66 611.61,686.88 C612.63,689.11 613.65,692.58 614.66,693.57 C615.68,694.56 616.70,695.04 617.72,695.48 C619.75,696.36 621.78,697.18 623.82,697.39 C625.85,697.60 627.89,697.59 629.92,697.77 C631.95,697.95 633.99,698.54 636.02,698.73 C639.07,699.01 642.12,699.30 645.17,699.30 C655.34,699.30 665.51,699.30 675.68,699.30" fill="none" stroke="#7a4fb0" stroke-width="0.9"/>
<line x1="568.60" y1="673.70" x2="568.60" y2="699.30" stroke="#999" stroke-width="0.6"/>
<line x1="568.60" y1="699.30" x2="677.2" y2="699.30" stroke="#999" stroke-width="0.6"/>
<line x1="568.90" y1="699.30" x2="568.90" y2="700.30" stroke="#999" stroke-width="0.5"/>
<line x1="584.15" y1="699.30" x2="584.15" y2="700.30" stroke="#999" stroke-width="0.5"/>
<line x1="599.41" y1="699.30" x2="599.41" y2="700.30" stroke="#999" stroke-width="0.5"/>
<line x1="614.66" y1="699.30" x2="614.66" y2="700.30" stroke="#999" stroke-width="0.5"/>
<line x1="629.92" y1="699.30" x2="629.92" y2="700.30" stroke="#999" stroke-width="0.5"/>
<line x1="645.17" y1="699.30" x2="645.17" y2="700.30" stroke="#999" stroke-width="0.5"/>
<line x1="660.43" y1="699.30" x2="660.43" y2="700.30" stroke="#999" stroke-width="0.5"/>
<line x1="675.68" y1="699.30" x2="675.68" y2="700.30" stroke="#999" stroke-width="0.5"/>
<line x1="567.60" y1="699.30" x2="568.60" y2="699.30" stroke="#999" stroke-width="0.5"/>
<text x="566.70" y="701.50" font-size="6.3" text-anchor="end" fill="#333" style="stroke-width:0.06px">0</text>
<line x1="567.60" y1="680.20" x2="568.60" y2="680.20" stroke="#999" stroke-width="0.5"/>
<text x="566.70" y="682.40" font-size="6.3" text-anchor="end" fill="#333" style="stroke-width:0.06px">10</text>
<text x="568.90" y="707.50" font-size="6.3" text-anchor="middle" fill="#333" style="stroke-width:0.06px">0</text>
<text x="584.15" y="707.50" font-size="6.3" text-anchor="middle" fill="#333" style="stroke-width:0.06px">5</text>
<text x="599.41" y="707.50" font-size="6.3" text-anchor="middle" fill="#333" style="stroke-width:0.06px">10</text>
<text x="614.66" y="707.50" font-size="6.3" text-anchor="middle" fill="#333" style="stroke-width:0.06px">15</text>
<text x="629.92" y="707.50" font-size="6.3" text-anchor="middle" fill="#333" style="stroke-width:0.06px">20</text>
<text x="645.17" y="707.50" font-size="6.3" text-anchor="middle" fill="#333" style="stroke-width:0.06px">25</text>
<text x="660.43" y="707.50" font-size="6.3" text-anchor="middle" fill="#333" style="stroke-width:0.06px">30</text>
<text x="675.68" y="707.50" font-size="6.3" text-anchor="middle" fill="#333" style="stroke-width:0.06px">35</text>
<text x="641.80" y="652.40" font-size="6.9" fill="#000" style="stroke-width:0.09px">ρ = 0.85 (****)</text>
<text x="648.8" y="660.60" font-size="5.0" fill="#000" style="stroke-width:0.04px">p = 7.3x10<tspan font-size="3.6" dy="-2.0">-11</tspan></text>
<text transform="translate(548.0 666.10) rotate(-90)" text-anchor="middle" font-size="6.9" fill="#000" style="stroke-width:0.09px">Day 14</text>
<text transform="translate(554.6 662.70) rotate(-90)" text-anchor="middle" font-size="6.7" textLength="46.8" lengthAdjust="spacingAndGlyphs" fill="#000" style="stroke-width:0.08px">Frequency (%)</text>
<text x="623.70" y="716.00" font-size="7.0" text-anchor="middle" textLength="46.6" lengthAdjust="spacingAndGlyphs" fill="#000" style="stroke-width:0.10px">Histogram bins</text>
</svg>
</body></html>
